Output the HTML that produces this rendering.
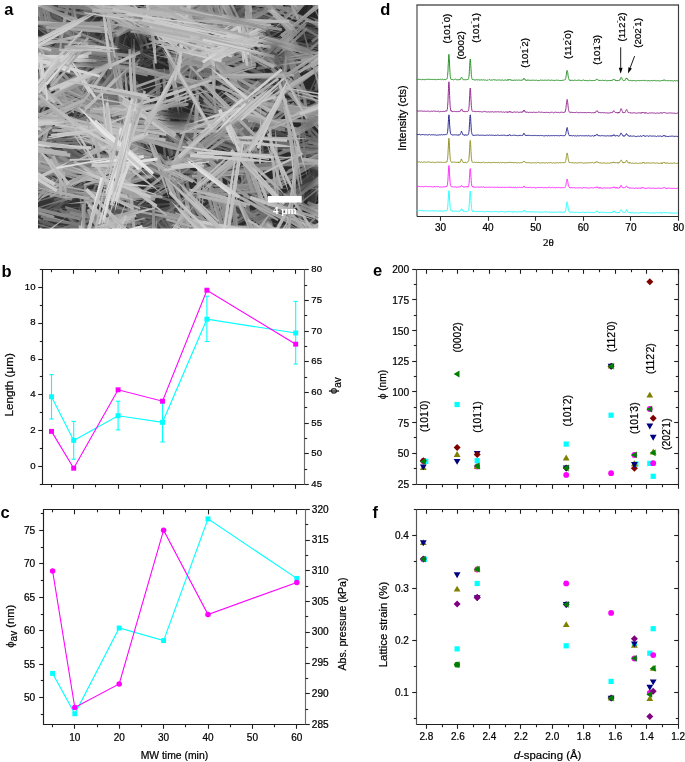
<!DOCTYPE html>
<html><head><meta charset="utf-8"><title>figure</title>
<style>html,body{margin:0;padding:0;background:#fff;}svg{display:block;will-change:transform;}</style></head>
<body><svg width="685" height="762" viewBox="0 0 685 762">
<rect width="685" height="762" fill="#fff"/>
<defs><clipPath id="semclip"><rect x="38.0" y="5.0" width="280.3" height="223.6"/></clipPath><filter id="semblur" x="0" y="0" width="1" height="1"><feGaussianBlur stdDeviation="0.55"/></filter></defs>
<g clip-path="url(#semclip)"><g filter="url(#semblur)"><g transform="scale(0.5)">
<rect x="72.0" y="6.0" width="568.6" height="455.2" fill="#2c2c2c"/>
<polygon points="608,38 595,72 589,91 599,74 613,40" fill="#2e2e2e"/>
<polygon points="595,100 607,56 611,32 602,55 589,98" fill="#434343"/>
<polygon points="595,85 608,41 613,17 604,40 591,84" fill="#3a3a3a"/>
<polygon points="588,99 608,53 617,27 604,51 584,97" fill="#2e2e2e"/>
<polygon points="205,76 237,102 256,114 241,97 210,70" fill="#373737"/>
<polygon points="213,77 238,97 253,106 241,93 217,72" fill="#2b2b2b"/>
<polygon points="268,110 227,80 204,65 224,83 265,113" fill="#282828"/>
<polygon points="280,131 235,96 210,79 232,100 276,136" fill="#3f3f3f"/>
<polygon points="215,83 249,106 269,116 253,101 219,77" fill="#404040"/>
<polygon points="214,79 243,100 259,111 245,97 217,75" fill="#3e3e3e"/>
<polygon points="210,85 250,112 272,125 253,108 214,80" fill="#383838"/>
<polygon points="522,25 623,72 678,95 625,67 524,19" fill="#3c3c3c"/>
<polygon points="676,99 575,39 519,9 572,43 673,104" fill="#2d2d2d"/>
<polygon points="529,8 590,39 624,53 592,34 532,3" fill="#3b3b3b"/>
<polygon points="643,68 568,34 526,17 566,37 641,71" fill="#383838"/>
<polygon points="618,61 547,21 507,1 545,23 616,64" fill="#414141"/>
<polygon points="-16,483 72,499 119,506 72,496 -16,480" fill="#3d3d3d"/>
<polygon points="12,499 89,508 131,511 89,504 13,495" fill="#444444"/>
<polygon points="102,495 49,492 21,493 49,497 101,501" fill="#484848"/>
<polygon points="-9,492 68,499 110,502 69,497 -9,489" fill="#3a3a3a"/>
<polygon points="10,504 70,507 102,508 70,504 10,500" fill="#313131"/>
<polygon points="8,497 97,507 144,510 97,501 9,490" fill="#343434"/>
<polygon points="88,493 31,491 0,492 30,495 88,498" fill="#333333"/>
<polygon points="249,173 243,120 239,91 240,120 245,173" fill="#4c4c4c"/>
<polygon points="229,61 242,135 250,174 244,134 232,61" fill="#2f2f2f"/>
<polygon points="258,168 255,95 251,56 250,95 252,168" fill="#353535"/>
<polygon points="239,160 237,101 235,69 234,101 236,160" fill="#333333"/>
<polygon points="242,152 240,81 238,44 236,82 236,152" fill="#3c3c3c"/>
<polygon points="232,427 104,422 35,421 104,427 232,433" fill="#363636"/>
<polygon points="219,409 137,415 93,419 137,417 219,412" fill="#444444"/>
<polygon points="75,309 126,303 153,297 125,298 75,304" fill="#4d4d4d"/>
<polygon points="104,303 140,297 159,292 139,292 103,297" fill="#393939"/>
<polygon points="94,303 131,299 150,295 130,295 93,299" fill="#4c4c4c"/>
<polygon points="144,291 107,298 88,305 108,304 146,298" fill="#303030"/>
<polygon points="77,310 121,303 144,298 120,298 76,304" fill="#4e4e4e"/>
<polygon points="394,451 439,407 462,383 436,404 390,446" fill="#2d2d2d"/>
<polygon points="466,382 405,435 373,464 407,437 468,385" fill="#454545"/>
<polygon points="399,459 450,406 476,377 447,403 395,455" fill="#4c4c4c"/>
<polygon points="308,72 361,117 390,139 364,113 312,67" fill="#494949"/>
<polygon points="334,89 385,132 414,153 389,128 338,84" fill="#383838"/>
<polygon points="332,85 372,114 394,129 373,112 333,83" fill="#3d3d3d"/>
<polygon points="387,124 347,93 324,77 344,95 384,127" fill="#333333"/>
<polygon points="202,436 174,369 157,335 169,372 196,438" fill="#454545"/>
<polygon points="208,451 180,381 164,344 177,382 205,452" fill="#404040"/>
<polygon points="159,337 185,399 200,432 187,398 161,336" fill="#2e2e2e"/>
<polygon points="206,417 183,370 169,345 180,371 202,419" fill="#2d2d2d"/>
<polygon points="183,169 104,186 62,196 105,189 184,173" fill="#313131"/>
<polygon points="168,168 90,193 48,209 92,199 170,175" fill="#4a4a4a"/>
<polygon points="205,173 127,196 85,210 128,199 206,176" fill="#444444"/>
<polygon points="46,212 128,192 171,180 127,189 45,208" fill="#4e4e4e"/>
<polygon points="610,377 629,467 641,515 634,466 616,376" fill="#414141"/>
<polygon points="634,539 612,410 599,340 610,410 631,540" fill="#303030"/>
<polygon points="644,535 624,450 611,404 619,451 638,537" fill="#4f4f4f"/>
<polygon points="598,404 616,493 627,540 618,492 601,403" fill="#434343"/>
<polygon points="645,509 629,423 619,377 625,423 639,510" fill="#414141"/>
<polygon points="226,157 104,144 38,140 103,150 225,163" fill="#343434"/>
<polygon points="73,150 183,151 242,150 183,147 73,146" fill="#3e3e3e"/>
<polygon points="236,160 140,151 88,148 139,155 235,165" fill="#474747"/>
<polygon points="232,164 106,142 37,130 105,144 232,167" fill="#2c2c2c"/>
<polygon points="99,3 152,22 182,31 154,19 100,-1" fill="#3d3d3d"/>
<polygon points="213,47 151,27 117,19 150,31 212,51" fill="#343434"/>
<polygon points="81,-8 149,13 186,23 150,10 82,-12" fill="#434343"/>
<polygon points="198,40 121,16 79,4 120,18 197,43" fill="#343434"/>
<polygon points="205,29 141,10 105,2 139,15 203,35" fill="#313131"/>
<polygon points="188,40 116,7 76,-8 113,13 185,47" fill="#424242"/>
<polygon points="536,373 423,385 362,393 423,388 537,376" fill="#393939"/>
<polygon points="526,375 432,377 381,381 432,383 526,381" fill="#393939"/>
<polygon points="549,386 475,392 435,397 475,395 549,390" fill="#454545"/>
<polygon points="382,407 485,399 540,392 484,393 381,401" fill="#383838"/>
<polygon points="562,373 441,381 376,387 441,385 563,379" fill="#3e3e3e"/>
<polygon points="412,401 502,393 551,386 502,388 411,396" fill="#323232"/>
<polygon points="434,281 381,279 353,279 381,282 434,284" fill="#404040"/>
<polygon points="370,287 430,287 463,285 430,283 370,282" fill="#484848"/>
<polygon points="449,283 392,281 361,282 392,285 449,288" fill="#353535"/>
<polygon points="458,427 400,462 370,483 402,466 460,431" fill="#373737"/>
<polygon points="457,436 402,465 373,483 403,468 459,440" fill="#505050"/>
<polygon points="399,464 443,440 465,425 440,435 396,458" fill="#303030"/>
<polygon points="457,428 405,458 377,475 406,461 459,432" fill="#494949"/>
<polygon points="393,472 445,441 471,423 443,437 391,468" fill="#3a3a3a"/>
<polygon points="460,423 413,452 389,470 416,457 463,428" fill="#3c3c3c"/>
<polygon points="377,476 430,446 458,429 428,443 375,473" fill="#313131"/>
<polygon points="557,521 655,499 707,485 654,494 555,515" fill="#2e2e2e"/>
<polygon points="704,473 634,497 596,512 635,501 706,477" fill="#404040"/>
<polygon points="566,520 670,487 726,468 669,484 565,516" fill="#474747"/>
<polygon points="670,479 599,502 561,517 600,506 671,484" fill="#4f4f4f"/>
<polygon points="504,268 510,146 511,80 507,146 501,267" fill="#3e3e3e"/>
<polygon points="512,260 517,158 519,103 515,158 509,260" fill="#505050"/>
<polygon points="519,108 516,194 517,241 522,194 526,108" fill="#474747"/>
<polygon points="519,106 510,235 507,305 515,235 526,106" fill="#3e3e3e"/>
<polygon points="517,272 527,156 531,93 522,155 511,271" fill="#3c3c3c"/>
<polygon points="287,-51 251,68 233,133 255,69 291,-50" fill="#4f4f4f"/>
<polygon points="341,102 258,154 213,184 259,156 343,104" fill="#454545"/>
<polygon points="207,198 295,130 342,93 293,128 205,195" fill="#3d3d3d"/>
<polygon points="561,177 597,209 618,225 601,205 566,172" fill="#4e4e4e"/>
<polygon points="549,190 595,228 622,247 599,224 554,184" fill="#373737"/>
<polygon points="553,193 593,225 615,241 596,222 557,189" fill="#3a3a3a"/>
<polygon points="67,247 16,225 -12,215 14,229 64,252" fill="#363636"/>
<polygon points="7,222 67,251 100,265 69,248 9,219" fill="#505050"/>
<polygon points="286,116 241,20 214,-30 236,23 280,118" fill="#474747"/>
<polygon points="282,114 237,38 211,-1 234,40 278,116" fill="#484848"/>
<polygon points="281,117 240,18 216,-34 236,20 277,118" fill="#454545"/>
<polygon points="200,-56 251,43 279,96 253,42 203,-58" fill="#464646"/>
<polygon points="210,-11 258,78 285,125 261,76 214,-14" fill="#313131"/>
<polygon points="213,-32 263,67 291,119 266,65 216,-33" fill="#383838"/>
<polygon points="228,1 267,75 289,114 270,73 233,-1" fill="#4f4f4f"/>
<polygon points="95,362 41,356 12,354 41,360 94,367" fill="#454545"/>
<polygon points="-32,346 45,359 87,364 46,354 -31,341" fill="#4b4b4b"/>
<polygon points="-3,352 54,362 86,366 55,359 -2,349" fill="#424242"/>
<polygon points="16,350 63,361 89,365 64,356 17,343" fill="#3d3d3d"/>
<polygon points="60,358 11,352 -16,352 10,358 59,365" fill="#3c3c3c"/>
<polygon points="82,362 34,355 8,353 34,358 82,365" fill="#4f4f4f"/>
<polygon points="196,178 116,158 73,149 115,162 195,183" fill="#454545"/>
<polygon points="231,191 139,164 89,152 137,169 229,198" fill="#3c3c3c"/>
<polygon points="80,151 168,177 215,189 169,173 82,146" fill="#3f3f3f"/>
<polygon points="66,145 157,169 207,179 159,163 68,138" fill="#434343"/>
<polygon points="85,154 155,178 194,190 156,176 86,151" fill="#424242"/>
<polygon points="65,145 145,168 188,179 146,165 66,141" fill="#515151"/>
<polygon points="219,199 151,179 113,169 150,182 218,203" fill="#4e4e4e"/>
<polygon points="101,153 155,175 185,184 158,170 104,146" fill="#464646"/>
<polygon points="203,192 127,164 86,151 126,168 202,196" fill="#353535"/>
<polygon points="422,460 352,443 313,436 350,448 420,467" fill="#3a3a3a"/>
<polygon points="460,467 354,453 297,448 354,457 459,471" fill="#3d3d3d"/>
<polygon points="460,464 356,448 300,441 355,453 459,471" fill="#494949"/>
<polygon points="301,445 384,462 430,469 385,457 302,439" fill="#484848"/>
<polygon points="322,450 403,464 447,470 403,461 323,446" fill="#474747"/>
<polygon points="292,444 362,456 399,461 362,452 293,439" fill="#333333"/>
<polygon points="283,254 277,307 277,336 283,308 290,255" fill="#4f4f4f"/>
<polygon points="273,348 280,303 282,278 276,302 268,347" fill="#464646"/>
<polygon points="282,326 285,296 284,280 280,296 275,326" fill="#353535"/>
<polygon points="366,188 448,218 492,233 449,215 367,185" fill="#474747"/>
<polygon points="344,192 437,225 488,240 439,220 346,186" fill="#393939"/>
<polygon points="375,200 463,225 511,238 464,222 376,195" fill="#3a3a3a"/>
<polygon points="286,114 213,159 174,185 215,163 289,119" fill="#525252"/>
<polygon points="216,166 300,119 344,93 299,117 215,163" fill="#373737"/>
<polygon points="165,189 269,128 324,93 266,123 161,183" fill="#3f3f3f"/>
<polygon points="360,84 253,140 196,172 255,144 362,89" fill="#4d4d4d"/>
<polygon points="181,192 280,131 332,97 278,128 179,188" fill="#393939"/>
<polygon points="187,165 289,105 344,71 287,101 184,160" fill="#4f4f4f"/>
<polygon points="149,199 266,130 328,91 265,127 147,196" fill="#3b3b3b"/>
<polygon points="298,96 214,144 170,171 217,148 301,101" fill="#3a3a3a"/>
<polygon points="663,230 645,190 634,169 642,191 660,232" fill="#4f4f4f"/>
<polygon points="641,170 656,215 666,239 660,214 645,168" fill="#454545"/>
<polygon points="644,191 660,232 671,253 664,231 648,189" fill="#4d4d4d"/>
<polygon points="634,172 652,220 664,244 657,218 640,169" fill="#454545"/>
<polygon points="632,163 652,214 664,241 655,213 635,162" fill="#404040"/>
<polygon points="649,192 662,230 671,250 665,229 653,191" fill="#4c4c4c"/>
<polygon points="110,382 48,373 14,371 47,379 109,389" fill="#343434"/>
<polygon points="-4,368 86,381 135,387 87,378 -3,365" fill="#414141"/>
<polygon points="156,379 67,374 19,373 67,379 156,385" fill="#545454"/>
<polygon points="459,426 472,492 480,528 477,492 465,425" fill="#565656"/>
<polygon points="461,429 469,469 475,491 474,468 467,428" fill="#4b4b4b"/>
<polygon points="459,438 469,487 476,514 474,487 465,437" fill="#353535"/>
<polygon points="471,441 478,493 483,521 482,492 476,440" fill="#3f3f3f"/>
<polygon points="465,420 474,483 480,517 477,483 469,420" fill="#474747"/>
<polygon points="455,410 469,477 478,513 472,477 458,409" fill="#444444"/>
<polygon points="370,125 337,231 322,289 342,233 376,127" fill="#565656"/>
<polygon points="338,276 366,177 380,123 363,176 334,274" fill="#3e3e3e"/>
<polygon points="371,100 348,210 338,270 354,211 377,101" fill="#464646"/>
<polygon points="354,235 372,153 380,109 367,152 348,233" fill="#515151"/>
<polygon points="374,103 346,231 333,301 351,232 380,104" fill="#3c3c3c"/>
<polygon points="333,272 354,179 364,128 351,178 330,271" fill="#535353"/>
<polygon points="434,174 510,179 552,180 511,174 434,168" fill="#545454"/>
<polygon points="435,171 531,181 583,183 532,175 435,165" fill="#3c3c3c"/>
<polygon points="457,165 530,176 569,180 531,171 458,159" fill="#3a3a3a"/>
<polygon points="459,173 523,179 557,179 523,174 460,168" fill="#565656"/>
<polygon points="577,268 523,264 494,263 523,268 576,273" fill="#4e4e4e"/>
<polygon points="194,256 86,327 29,367 89,332 198,262" fill="#414141"/>
<polygon points="222,254 137,309 92,340 139,312 224,257" fill="#4e4e4e"/>
<polygon points="210,248 110,309 56,343 111,312 212,251" fill="#4c4c4c"/>
<polygon points="217,242 104,310 44,348 106,313 219,246" fill="#434343"/>
<polygon points="434,464 309,413 241,387 308,416 432,467" fill="#494949"/>
<polygon points="393,450 274,401 209,377 272,406 391,456" fill="#363636"/>
<polygon points="227,388 324,431 377,453 325,428 229,385" fill="#3c3c3c"/>
<polygon points="403,470 304,424 250,401 302,428 401,474" fill="#4f4f4f"/>
<polygon points="238,195 244,88 245,31 239,88 232,194" fill="#4c4c4c"/>
<polygon points="234,185 246,68 250,5 241,67 227,184" fill="#373737"/>
<polygon points="245,61 231,162 225,217 235,163 249,62" fill="#343434"/>
<polygon points="619,423 663,473 688,498 666,470 622,420" fill="#434343"/>
<polygon points="720,526 644,443 602,400 641,446 716,530" fill="#404040"/>
<polygon points="726,531 649,450 605,409 644,454 721,535" fill="#373737"/>
<polygon points="702,520 643,455 610,422 640,458 699,523" fill="#555555"/>
<polygon points="577,49 530,80 506,98 532,83 579,52" fill="#3a3a3a"/>
<polygon points="562,57 507,91 478,111 509,95 565,61" fill="#585858"/>
<polygon points="472,118 542,65 578,35 539,61 468,113" fill="#3c3c3c"/>
<polygon points="598,28 522,71 481,95 523,74 600,32" fill="#585858"/>
<polygon points="563,52 507,84 477,103 509,88 566,57" fill="#393939"/>
<polygon points="727,28 629,6 576,-4 628,10 726,33" fill="#434343"/>
<polygon points="724,27 648,10 608,3 648,13 723,29" fill="#505050"/>
<polygon points="698,23 622,5 581,-3 621,10 696,29" fill="#3b3b3b"/>
<polygon points="627,-41 614,2 608,26 616,3 630,-40" fill="#383838"/>
<polygon points="630,-52 621,-2 617,26 625,-1 635,-51" fill="#4c4c4c"/>
<polygon points="630,-41 622,-2 619,19 625,-1 634,-40" fill="#4d4d4d"/>
<polygon points="624,-42 618,-5 615,15 621,-5 628,-41" fill="#3c3c3c"/>
<polygon points="618,24 625,-10 627,-28 621,-11 614,23" fill="#3b3b3b"/>
<polygon points="105,121 24,149 -19,167 25,154 107,126" fill="#565656"/>
<polygon points="126,128 43,156 -2,172 44,159 127,132" fill="#464646"/>
<polygon points="141,131 12,168 -58,189 12,171 142,135" fill="#454545"/>
<polygon points="119,117 36,145 -9,162 37,151 121,124" fill="#525252"/>
<polygon points="135,309 218,333 264,345 220,328 137,302" fill="#525252"/>
<polygon points="121,309 208,336 255,349 209,333 122,306" fill="#515151"/>
<polygon points="277,344 173,316 116,302 172,319 276,348" fill="#3a3a3a"/>
<polygon points="153,322 245,350 294,364 245,347 154,319" fill="#484848"/>
<polygon points="103,287 225,337 291,363 226,334 104,283" fill="#565656"/>
<polygon points="373,115 289,54 244,21 288,56 371,118" fill="#3d3d3d"/>
<polygon points="367,95 297,44 258,18 294,48 364,100" fill="#595959"/>
<polygon points="359,259 299,246 266,242 298,252 357,265" fill="#4a4a4a"/>
<polygon points="262,241 309,250 335,253 310,246 263,236" fill="#3e3e3e"/>
<polygon points="270,246 322,259 349,264 322,255 272,241" fill="#575757"/>
<polygon points="253,241 306,251 335,255 307,248 254,237" fill="#4e4e4e"/>
<polygon points="660,497 526,496 454,498 526,501 659,503" fill="#555555"/>
<polygon points="464,504 588,500 654,495 587,494 464,497" fill="#474747"/>
<polygon points="617,493 542,501 501,507 542,505 618,498" fill="#4d4d4d"/>
<polygon points="680,491 566,498 504,505 566,504 680,498" fill="#464646"/>
<polygon points="515,500 614,500 667,499 614,496 515,495" fill="#424242"/>
<polygon points="475,506 603,496 671,489 602,491 474,499" fill="#575757"/>
<polygon points="331,125 207,82 140,59 206,84 330,129" fill="#4c4c4c"/>
<polygon points="302,130 191,81 130,56 189,85 300,135" fill="#3f3f3f"/>
<polygon points="337,130 241,90 188,70 240,93 336,133" fill="#4e4e4e"/>
<polygon points="559,32 458,35 403,38 458,38 559,35" fill="#4b4b4b"/>
<polygon points="148,228 199,241 227,247 200,239 149,226" fill="#565656"/>
<polygon points="145,235 187,244 210,247 188,240 147,230" fill="#4a4a4a"/>
<polygon points="101,263 116,200 122,166 113,200 98,262" fill="#555555"/>
<polygon points="106,278 119,228 125,201 116,227 102,277" fill="#454545"/>
<polygon points="129,192 113,242 106,269 117,243 133,193" fill="#5a5a5a"/>
<polygon points="99,267 109,223 112,198 104,222 93,266" fill="#515151"/>
<polygon points="115,272 128,227 134,203 126,226 112,271" fill="#4c4c4c"/>
<polygon points="138,163 114,235 102,273 117,236 142,165" fill="#464646"/>
<polygon points="350,308 401,317 429,320 402,314 351,306" fill="#4b4b4b"/>
<polygon points="429,322 383,316 357,315 382,321 428,329" fill="#3c3c3c"/>
<polygon points="349,308 406,317 436,320 406,314 350,305" fill="#4a4a4a"/>
<polygon points="342,308 396,318 425,321 397,312 343,301" fill="#4a4a4a"/>
<polygon points="586,292 538,289 512,289 538,292 586,295" fill="#545454"/>
<polygon points="590,292 521,289 484,289 521,293 589,297" fill="#515151"/>
<polygon points="581,289 526,283 497,281 526,286 580,293" fill="#4b4b4b"/>
<polygon points="498,289 562,296 597,297 563,290 499,282" fill="#545454"/>
<polygon points="475,287 548,285 588,283 548,281 475,282" fill="#5b5b5b"/>
<polygon points="578,289 506,283 467,282 506,287 578,293" fill="#484848"/>
<polygon points="563,283 519,280 495,280 518,284 563,288" fill="#393939"/>
<polygon points="635,-1 606,8 591,15 608,13 637,4" fill="#3b3b3b"/>
<polygon points="115,-37 192,-14 234,-5 194,-20 117,-43" fill="#505050"/>
<polygon points="133,-40 216,-16 261,-4 217,-20 134,-45" fill="#575757"/>
<polygon points="267,8 160,-27 102,-44 158,-22 265,15" fill="#5c5c5c"/>
<polygon points="431,128 325,105 269,95 325,109 430,132" fill="#4e4e4e"/>
<polygon points="144,442 197,482 227,502 200,478 148,438" fill="#434343"/>
<polygon points="235,498 200,468 179,453 197,471 231,503" fill="#5a5a5a"/>
<polygon points="557,111 532,168 521,200 537,170 562,113" fill="#454545"/>
<polygon points="530,199 552,145 563,116 548,144 525,197" fill="#464646"/>
<polygon points="113,383 197,386 242,386 197,382 114,379" fill="#575757"/>
<polygon points="90,381 208,387 271,389 208,383 91,376" fill="#5b5b5b"/>
<polygon points="136,377 236,387 290,391 236,384 136,374" fill="#5b5b5b"/>
<polygon points="368,-20 335,-27 317,-28 334,-22 366,-14" fill="#545454"/>
<polygon points="371,-13 342,-21 325,-22 340,-16 370,-8" fill="#525252"/>
<polygon points="382,-14 351,-20 334,-22 350,-16 381,-9" fill="#5a5a5a"/>
<polygon points="328,-23 371,-14 395,-11 372,-18 329,-27" fill="#575757"/>
<polygon points="246,220 201,199 175,190 199,204 244,225" fill="#424242"/>
<polygon points="228,211 184,192 160,183 183,195 226,215" fill="#535353"/>
<polygon points="238,212 201,193 180,183 200,195 237,216" fill="#4a4a4a"/>
<polygon points="451,132 389,92 354,72 387,95 449,136" fill="#434343"/>
<polygon points="371,94 438,131 475,150 439,128 372,91" fill="#414141"/>
<polygon points="375,93 424,124 451,140 425,122 377,90" fill="#585858"/>
<polygon points="467,147 407,106 373,86 404,110 464,152" fill="#545454"/>
<polygon points="173,477 107,481 72,485 107,486 173,483" fill="#414141"/>
<polygon points="176,486 119,493 88,499 119,498 176,493" fill="#424242"/>
<polygon points="87,494 154,495 190,493 154,490 87,489" fill="#585858"/>
<polygon points="63,495 133,491 171,486 133,487 63,491" fill="#454545"/>
<polygon points="157,478 100,484 69,489 100,488 158,484" fill="#565656"/>
<polygon points="68,496 141,488 180,482 141,484 68,491" fill="#424242"/>
<polygon points="80,492 131,486 158,481 131,482 80,488" fill="#424242"/>
<polygon points="81,497 153,489 192,483 153,483 80,490" fill="#505050"/>
<polygon points="529,478 469,469 436,467 468,475 528,485" fill="#5e5e5e"/>
<polygon points="444,471 510,478 546,479 510,474 444,466" fill="#505050"/>
<polygon points="520,337 466,265 436,226 463,267 517,340" fill="#5e5e5e"/>
<polygon points="481,387 562,422 606,439 564,418 483,382" fill="#3d3d3d"/>
<polygon points="470,394 544,424 584,438 545,420 472,390" fill="#585858"/>
<polygon points="631,445 549,414 504,399 547,419 628,451" fill="#424242"/>
<polygon points="621,446 513,406 454,387 511,410 619,451" fill="#434343"/>
<polygon points="637,230 662,156 673,115 658,155 633,228" fill="#424242"/>
<polygon points="623,254 654,183 669,145 651,182 620,253" fill="#535353"/>
<polygon points="654,146 626,214 613,251 630,215 658,147" fill="#5c5c5c"/>
<polygon points="617,248 643,194 656,164 640,192 614,246" fill="#4d4d4d"/>
<polygon points="637,213 659,158 668,127 653,156 631,211" fill="#5f5f5f"/>
<polygon points="412,213 413,123 412,74 409,122 407,213" fill="#5d5d5d"/>
<polygon points="416,202 412,128 408,89 407,129 410,202" fill="#5d5d5d"/>
<polygon points="415,216 412,145 408,106 408,145 410,217" fill="#545454"/>
<polygon points="419,205 412,115 406,67 406,116 412,206" fill="#444444"/>
<polygon points="413,208 413,116 411,67 408,116 408,208" fill="#4e4e4e"/>
<polygon points="418,218 415,148 410,111 409,149 412,219" fill="#5c5c5c"/>
<polygon points="356,412 296,419 264,425 297,424 357,418" fill="#585858"/>
<polygon points="277,425 350,421 390,417 350,417 277,419" fill="#4d4d4d"/>
<polygon points="231,430 325,427 376,422 325,422 231,425" fill="#595959"/>
<polygon points="252,416 338,410 384,405 337,406 252,411" fill="#474747"/>
<polygon points="382,415 289,419 239,423 289,423 382,420" fill="#3d3d3d"/>
<polygon points="351,417 296,420 267,424 296,425 351,423" fill="#414141"/>
<polygon points="107,41 162,81 193,102 165,78 109,37" fill="#535353"/>
<polygon points="201,77 126,25 83,-1 122,29 197,83" fill="#444444"/>
<polygon points="74,11 143,64 181,91 145,62 76,9" fill="#4e4e4e"/>
<polygon points="218,105 133,46 87,15 131,49 215,109" fill="#535353"/>
<polygon points="110,46 169,86 201,106 171,83 112,43" fill="#5a5a5a"/>
<polygon points="89,23 150,61 185,79 153,56 93,17" fill="#606060"/>
<polygon points="714,366 649,341 614,329 648,344 712,370" fill="#4e4e4e"/>
<polygon points="74,468 122,414 145,383 118,411 70,464" fill="#4b4b4b"/>
<polygon points="163,364 106,420 76,451 108,422 166,366" fill="#5c5c5c"/>
<polygon points="138,365 107,413 92,439 111,415 142,368" fill="#3d3d3d"/>
<polygon points="432,-25 379,-22 350,-20 379,-20 433,-22" fill="#5a5a5a"/>
<polygon points="450,-25 399,-21 371,-17 399,-18 450,-21" fill="#484848"/>
<polygon points="454,-31 399,-29 370,-26 399,-25 454,-27" fill="#5f5f5f"/>
<polygon points="375,-26 420,-28 444,-32 420,-33 375,-31" fill="#444444"/>
<polygon points="439,-24 384,-24 355,-22 384,-19 439,-19" fill="#555555"/>
<polygon points="78,85 29,107 3,120 30,110 79,88" fill="#454545"/>
<polygon points="74,69 9,103 -26,122 10,105 76,72" fill="#4f4f4f"/>
<polygon points="92,67 16,102 -24,121 18,104 94,70" fill="#4a4a4a"/>
<polygon points="60,75 7,103 -21,120 9,107 62,80" fill="#5f5f5f"/>
<polygon points="-15,126 42,95 71,77 40,92 -17,122" fill="#505050"/>
<polygon points="71,86 9,110 -24,124 11,114 73,91" fill="#595959"/>
<polygon points="603,257 547,282 517,296 548,284 605,259" fill="#464646"/>
<polygon points="590,271 542,298 517,315 544,302 592,275" fill="#404040"/>
<polygon points="598,257 554,280 530,294 555,283 600,261" fill="#484848"/>
<polygon points="586,274 536,295 510,309 538,301 588,280" fill="#434343"/>
<polygon points="601,269 560,288 539,300 563,293 604,275" fill="#5d5d5d"/>
<polygon points="517,322 570,292 597,275 567,288 514,316" fill="#5f5f5f"/>
<polygon points="761,35 668,63 618,80 670,68 763,42" fill="#535353"/>
<polygon points="607,94 690,63 734,45 689,60 606,90" fill="#494949"/>
<polygon points="722,46 614,75 557,93 615,79 724,50" fill="#4f4f4f"/>
<polygon points="603,81 690,59 737,45 689,55 602,77" fill="#525252"/>
<polygon points="605,95 684,69 726,53 683,65 604,90" fill="#5a5a5a"/>
<polygon points="572,87 670,51 722,30 669,48 571,83" fill="#454545"/>
<polygon points="579,108 480,47 425,17 477,52 575,114" fill="#424242"/>
<polygon points="549,83 463,45 417,25 462,48 547,87" fill="#4d4d4d"/>
<polygon points="538,83 445,35 394,12 442,41 535,89" fill="#616161"/>
<polygon points="562,88 486,51 444,33 484,55 560,92" fill="#404040"/>
<polygon points="574,103 483,52 434,26 482,55 572,107" fill="#4b4b4b"/>
<polygon points="420,31 489,68 527,87 490,66 421,28" fill="#616161"/>
<polygon points="352,75 450,81 503,82 450,77 352,71" fill="#4d4d4d"/>
<polygon points="433,65 353,72 311,78 354,77 433,70" fill="#555555"/>
<polygon points="491,68 405,64 358,64 404,69 491,74" fill="#484848"/>
<polygon points="11,137 92,161 136,172 93,158 12,134" fill="#474747"/>
<polygon points="-39,122 83,158 150,175 85,153 -38,117" fill="#595959"/>
<polygon points="157,177 53,145 -4,129 51,149 156,182" fill="#525252"/>
<polygon points="-1,126 104,155 160,169 105,150 1,120" fill="#5f5f5f"/>
<polygon points="-27,122 67,153 118,167 68,147 -25,116" fill="#565656"/>
<polygon points="-22,117 89,151 149,167 90,147 -21,112" fill="#3f3f3f"/>
<polygon points="210,201 186,165 171,146 182,167 205,204" fill="#555555"/>
<polygon points="223,213 195,173 179,153 192,175 219,216" fill="#5c5c5c"/>
<polygon points="180,162 203,197 217,215 206,195 183,160" fill="#555555"/>
<polygon points="183,166 204,200 218,218 208,198 187,163" fill="#424242"/>
<polygon points="225,219 196,172 179,148 192,175 219,222" fill="#4d4d4d"/>
<polygon points="217,209 190,166 175,144 188,168 214,211" fill="#616161"/>
<polygon points="230,223 201,180 184,158 197,183 226,226" fill="#5c5c5c"/>
<polygon points="179,155 204,191 219,209 208,188 184,152" fill="#464646"/>
<polygon points="178,158 215,207 237,232 218,205 181,156" fill="#5b5b5b"/>
<polygon points="122,117 192,158 230,179 194,155 124,113" fill="#5d5d5d"/>
<polygon points="264,201 180,150 134,124 178,154 261,206" fill="#505050"/>
<polygon points="151,128 212,166 245,185 214,163 154,124" fill="#454545"/>
<polygon points="234,-120 151,-9 108,53 155,-5 239,-115" fill="#595959"/>
<polygon points="224,-114 170,-46 143,-8 174,-42 229,-109" fill="#424242"/>
<polygon points="239,-138 163,-32 123,26 165,-31 241,-136" fill="#494949"/>
<polygon points="219,-91 163,-28 134,6 166,-26 222,-88" fill="#545454"/>
<polygon points="232,-120 159,-22 121,33 163,-18 238,-116" fill="#464646"/>
<polygon points="127,18 189,-65 220,-111 184,-68 121,14" fill="#5f5f5f"/>
<polygon points="131,20 201,-74 238,-126 197,-77 126,17" fill="#3e3e3e"/>
<polygon points="355,376 266,335 217,316 264,340 353,381" fill="#555555"/>
<polygon points="224,314 306,354 351,374 308,350 226,310" fill="#4b4b4b"/>
<polygon points="182,297 285,349 342,376 287,346 184,293" fill="#515151"/>
<polygon points="246,11 206,61 187,89 211,64 252,16" fill="#454545"/>
<polygon points="168,134 227,51 257,6 224,49 164,131" fill="#5a5a5a"/>
<polygon points="260,-8 205,65 177,106 207,67 263,-6" fill="#414141"/>
<polygon points="177,130 235,55 264,13 230,51 171,126" fill="#595959"/>
<polygon points="221,25 161,90 130,127 165,94 225,29" fill="#404040"/>
<polygon points="253,-8 172,67 131,110 176,72 257,-3" fill="#595959"/>
<polygon points="209,12 143,83 109,123 145,86 211,15" fill="#5b5b5b"/>
<polygon points="112,132 200,57 246,14 197,53 108,128" fill="#545454"/>
<polygon points="121,134 197,59 236,17 193,55 116,129" fill="#474747"/>
<polygon points="194,476 294,438 348,416 293,435 192,473" fill="#484848"/>
<polygon points="221,467 300,433 341,414 298,429 219,462" fill="#404040"/>
<polygon points="169,484 281,438 340,411 280,435 168,481" fill="#5a5a5a"/>
<polygon points="267,169 308,226 332,255 312,223 271,166" fill="#5b5b5b"/>
<polygon points="259,157 303,205 328,229 306,202 262,154" fill="#4c4c4c"/>
<polygon points="235,143 292,209 324,243 296,206 240,139" fill="#5f5f5f"/>
<polygon points="257,146 302,207 327,239 304,205 259,144" fill="#525252"/>
<polygon points="269,161 312,217 336,247 314,215 271,159" fill="#595959"/>
<polygon points="316,267 426,283 486,290 427,279 317,263" fill="#575757"/>
<polygon points="303,269 443,278 518,281 443,273 303,263" fill="#414141"/>
<polygon points="508,285 413,275 361,272 412,280 507,290" fill="#575757"/>
<polygon points="500,277 390,269 330,267 389,273 500,281" fill="#474747"/>
<polygon points="470,281 376,266 325,260 375,270 470,285" fill="#5e5e5e"/>
<polygon points="485,276 367,275 304,276 367,278 485,280" fill="#424242"/>
<polygon points="755,124 688,90 651,73 686,93 753,129" fill="#4e4e4e"/>
<polygon points="617,58 704,103 752,125 707,98 620,52" fill="#494949"/>
<polygon points="714,106 657,74 625,58 654,79 710,113" fill="#626262"/>
<polygon points="297,445 237,437 205,434 237,439 297,448" fill="#606060"/>
<polygon points="166,377 86,418 44,443 88,422 168,381" fill="#4d4d4d"/>
<polygon points="59,441 127,409 164,391 126,406 57,437" fill="#484848"/>
<polygon points="160,146 94,32 57,-29 91,33 157,147" fill="#525252"/>
<polygon points="184,162 108,41 64,-23 103,44 179,166" fill="#5b5b5b"/>
<polygon points="71,-24 127,84 158,142 131,82 75,-27" fill="#575757"/>
<polygon points="152,123 106,47 80,8 103,49 148,125" fill="#626262"/>
<polygon points="171,150 106,37 69,-23 102,40 166,153" fill="#585858"/>
<polygon points="77,9 119,83 143,121 122,81 82,6" fill="#555555"/>
<polygon points="592,331 704,366 764,383 705,361 594,325" fill="#424242"/>
<polygon points="583,316 680,355 733,374 682,351 585,311" fill="#646464"/>
<polygon points="609,328 680,359 719,374 681,356 610,325" fill="#414141"/>
<polygon points="722,363 652,337 614,324 650,341 720,368" fill="#494949"/>
<polygon points="194,366 136,302 104,269 134,304 191,368" fill="#414141"/>
<polygon points="113,282 189,371 231,417 192,368 117,279" fill="#515151"/>
<polygon points="105,272 157,335 186,368 160,332 109,269" fill="#636363"/>
<polygon points="206,379 135,298 96,256 132,301 203,381" fill="#5c5c5c"/>
<polygon points="221,402 144,312 101,265 141,315 217,405" fill="#454545"/>
<polygon points="274,416 357,474 403,504 360,471 277,412" fill="#434343"/>
<polygon points="371,495 287,439 240,410 285,442 369,499" fill="#515151"/>
<polygon points="367,484 306,437 272,414 303,441 364,489" fill="#4f4f4f"/>
<polygon points="254,420 326,472 365,498 329,467 259,414" fill="#585858"/>
<polygon points="254,414 334,481 378,515 337,477 258,409" fill="#636363"/>
<polygon points="259,413 352,475 404,507 355,471 262,408" fill="#5f5f5f"/>
<polygon points="391,315 427,368 447,395 431,365 397,312" fill="#575757"/>
<polygon points="400,315 439,390 462,430 443,388 405,313" fill="#414141"/>
<polygon points="400,323 429,372 446,397 431,370 403,321" fill="#454545"/>
<polygon points="407,341 435,383 451,405 438,381 411,338" fill="#5c5c5c"/>
<polygon points="464,426 431,365 413,333 429,366 461,427" fill="#565656"/>
<polygon points="453,397 420,347 401,321 417,349 450,399" fill="#4b4b4b"/>
<polygon points="461,412 421,343 398,308 417,346 455,415" fill="#565656"/>
<polygon points="366,426 486,432 550,434 486,428 367,421" fill="#5f5f5f"/>
<polygon points="567,431 451,418 388,414 451,424 567,438" fill="#515151"/>
<polygon points="400,423 533,432 605,434 533,427 400,417" fill="#474747"/>
<polygon points="385,429 511,437 580,439 512,433 385,424" fill="#565656"/>
<polygon points="583,428 446,414 372,409 446,418 583,432" fill="#4c4c4c"/>
<polygon points="561,420 459,421 404,424 459,427 561,427" fill="#474747"/>
<polygon points="458,322 544,378 591,407 546,376 460,319" fill="#525252"/>
<polygon points="575,395 522,362 492,346 519,366 571,400" fill="#474747"/>
<polygon points="457,329 544,383 593,410 547,379 461,324" fill="#4d4d4d"/>
<polygon points="484,340 543,382 575,403 544,380 486,338" fill="#606060"/>
<polygon points="480,350 532,382 561,397 534,379 482,347" fill="#636363"/>
<polygon points="432,256 437,315 442,346 443,314 439,255" fill="#515151"/>
<polygon points="429,274 435,333 439,364 438,332 433,273" fill="#4b4b4b"/>
<polygon points="444,337 440,293 435,269 435,293 439,337" fill="#4b4b4b"/>
<polygon points="445,364 444,310 442,281 441,310 441,364" fill="#5b5b5b"/>
<polygon points="88,517 30,468 -3,442 28,470 85,520" fill="#535353"/>
<polygon points="8,453 63,507 94,534 67,503 12,448" fill="#454545"/>
<polygon points="90,524 25,464 -11,433 22,467 86,527" fill="#505050"/>
<polygon points="94,524 39,469 7,440 35,472 89,529" fill="#5a5a5a"/>
<polygon points="261,206 253,254 251,280 258,255 268,207" fill="#5d5d5d"/>
<polygon points="258,290 264,232 264,201 258,232 251,290" fill="#5f5f5f"/>
<polygon points="277,195 268,249 266,278 274,250 284,196" fill="#515151"/>
<polygon points="257,274 264,217 267,186 262,216 254,274" fill="#5e5e5e"/>
<polygon points="267,231 216,129 186,76 211,132 262,234" fill="#464646"/>
<polygon points="260,221 204,106 172,44 199,108 255,224" fill="#434343"/>
<polygon points="163,77 226,185 263,242 231,182 169,73" fill="#555555"/>
<polygon points="355,220 412,248 443,262 413,246 356,217" fill="#535353"/>
<polygon points="349,221 406,251 437,266 407,248 351,217" fill="#464646"/>
<polygon points="347,229 407,258 441,271 409,253 349,224" fill="#4b4b4b"/>
<polygon points="426,270 371,241 340,227 368,245 423,276" fill="#505050"/>
<polygon points="352,221 412,252 444,267 413,249 354,218" fill="#444444"/>
<polygon points="220,63 278,30 308,11 275,26 217,58" fill="#454545"/>
<polygon points="290,17 240,47 213,66 242,52 293,22" fill="#646464"/>
<polygon points="204,73 275,39 312,19 272,34 201,67" fill="#464646"/>
<polygon points="227,70 269,47 291,34 268,44 225,66" fill="#494949"/>
<polygon points="321,8 256,42 222,61 258,46 323,13" fill="#474747"/>
<polygon points="631,394 638,322 640,283 634,322 626,394" fill="#424242"/>
<polygon points="628,443 633,346 633,294 627,345 621,442" fill="#4f4f4f"/>
<polygon points="623,418 630,321 632,268 626,321 619,418" fill="#484848"/>
<polygon points="623,290 614,363 611,403 617,364 627,291" fill="#505050"/>
<polygon points="629,285 626,348 627,382 632,348 637,285" fill="#545454"/>
<polygon points="628,418 633,346 633,307 627,346 621,417" fill="#484848"/>
<polygon points="639,311 631,384 629,423 636,384 644,312" fill="#5b5b5b"/>
<polygon points="628,447 559,488 523,511 562,492 631,452" fill="#474747"/>
<polygon points="609,457 536,496 498,519 539,501 612,463" fill="#616161"/>
<polygon points="595,466 539,497 510,515 541,500 597,470" fill="#525252"/>
<polygon points="240,335 281,238 302,186 278,237 237,334" fill="#4a4a4a"/>
<polygon points="292,208 259,282 243,324 264,285 298,210" fill="#656565"/>
<polygon points="237,329 274,247 291,202 269,245 232,327" fill="#5c5c5c"/>
<polygon points="283,200 251,295 237,348 256,297 289,201" fill="#606060"/>
<polygon points="234,345 259,278 271,241 255,276 228,343" fill="#4c4c4c"/>
<polygon points="287,223 260,278 247,308 263,280 292,225" fill="#5e5e5e"/>
<polygon points="507,364 449,332 418,316 448,335 504,368" fill="#616161"/>
<polygon points="528,357 452,332 411,320 451,336 526,361" fill="#484848"/>
<polygon points="539,370 458,338 414,323 456,343 536,376" fill="#454545"/>
<polygon points="402,317 480,350 523,367 481,347 403,314" fill="#4f4f4f"/>
<polygon points="88,128 136,65 160,30 132,62 84,125" fill="#575757"/>
<polygon points="162,-14 110,70 83,115 112,71 165,-12" fill="#636363"/>
<polygon points="164,-5 92,98 55,155 96,101 169,-1" fill="#4e4e4e"/>
<polygon points="166,11 112,86 85,128 117,90 172,15" fill="#5a5a5a"/>
<polygon points="625,353 561,406 528,435 564,409 628,357" fill="#474747"/>
<polygon points="621,347 570,389 544,414 573,393 624,351" fill="#636363"/>
<polygon points="626,350 580,391 555,414 581,393 628,353" fill="#616161"/>
<polygon points="542,420 606,374 639,348 603,370 539,416" fill="#535353"/>
<polygon points="612,364 556,408 527,434 560,413 616,370" fill="#585858"/>
<polygon points="622,344 554,400 518,430 556,402 624,347" fill="#5d5d5d"/>
<polygon points="523,433 590,381 625,353 588,378 520,429" fill="#5d5d5d"/>
<polygon points="553,418 591,381 611,360 589,379 551,416" fill="#4d4d4d"/>
<polygon points="672,176 654,113 643,80 652,114 669,177" fill="#434343"/>
<polygon points="629,74 644,124 654,151 648,123 634,72" fill="#555555"/>
<polygon points="38,189 57,137 66,108 53,136 34,188" fill="#4a4a4a"/>
<polygon points="43,194 51,153 54,131 47,152 38,193" fill="#4a4a4a"/>
<polygon points="44,123 29,170 23,196 32,171 47,124" fill="#555555"/>
<polygon points="33,192 49,129 56,95 44,128 27,190" fill="#606060"/>
<polygon points="28,202 40,152 44,125 35,151 23,201" fill="#525252"/>
<polygon points="62,96 44,152 36,182 48,153 68,98" fill="#535353"/>
<polygon points="523,309 426,241 372,206 424,244 521,311" fill="#474747"/>
<polygon points="379,219 443,265 479,289 445,262 381,216" fill="#5c5c5c"/>
<polygon points="503,297 439,258 404,239 437,262 500,302" fill="#555555"/>
<polygon points="517,328 440,266 397,234 437,270 514,333" fill="#464646"/>
<polygon points="513,322 434,263 390,233 431,267 509,327" fill="#565656"/>
<polygon points="-11,123 132,114 208,107 132,110 -11,118" fill="#464646"/>
<polygon points="-5,107 139,105 216,101 139,100 -5,101" fill="#595959"/>
<polygon points="223,102 99,104 32,107 99,109 223,107" fill="#545454"/>
<polygon points="52,116 164,113 224,110 164,110 52,112" fill="#4c4c4c"/>
<polygon points="41,117 129,109 176,103 128,105 41,112" fill="#5c5c5c"/>
<polygon points="0,122 122,114 188,108 122,110 0,117" fill="#5d5d5d"/>
<polygon points="186,108 51,115 -21,119 51,117 186,110" fill="#4c4c4c"/>
<polygon points="18,117 140,109 205,104 140,106 18,113" fill="#474747"/>
<polygon points="200,89 68,99 -2,108 69,105 200,96" fill="#606060"/>
<polygon points="217,511 252,450 269,416 248,448 212,508" fill="#616161"/>
<polygon points="271,401 226,477 203,519 229,479 275,403" fill="#4b4b4b"/>
<polygon points="209,504 256,435 281,396 254,433 206,503" fill="#606060"/>
<polygon points="221,495 248,451 261,426 245,449 217,493" fill="#575757"/>
<polygon points="531,63 552,111 564,137 555,110 534,61" fill="#555555"/>
<polygon points="562,138 528,68 507,31 523,70 557,141" fill="#5d5d5d"/>
<polygon points="279,-4 349,27 387,41 350,23 280,-8" fill="#646464"/>
<polygon points="281,-5 346,23 382,36 348,19 283,-9" fill="#686868"/>
<polygon points="387,35 314,4 274,-10 312,9 384,42" fill="#5a5a5a"/>
<polygon points="384,35 329,11 298,1 326,16 381,41" fill="#494949"/>
<polygon points="621,501 674,503 703,502 674,498 621,495" fill="#565656"/>
<polygon points="694,505 617,503 576,505 617,509 693,511" fill="#5a5a5a"/>
<polygon points="704,500 648,493 618,492 648,497 704,504" fill="#494949"/>
<polygon points="452,239 532,257 576,265 534,252 454,232" fill="#474747"/>
<polygon points="563,234 482,218 438,212 481,224 562,241" fill="#606060"/>
<polygon points="438,225 528,256 577,271 530,252 440,220" fill="#686868"/>
<polygon points="564,265 487,241 445,230 486,245 563,270" fill="#4f4f4f"/>
<polygon points="136,434 197,489 230,518 200,486 140,430" fill="#4f4f4f"/>
<polygon points="237,536 148,442 98,393 145,445 233,539" fill="#545454"/>
<polygon points="136,434 206,496 245,529 208,494 138,431" fill="#494949"/>
<polygon points="117,420 188,486 227,520 191,483 121,416" fill="#696969"/>
<polygon points="180,476 265,490 311,497 265,487 181,472" fill="#5a5a5a"/>
<polygon points="317,491 230,481 184,477 230,485 316,496" fill="#636363"/>
<polygon points="306,490 203,477 148,472 203,481 306,495" fill="#666666"/>
<polygon points="171,-3 171,42 174,66 177,42 178,-3" fill="#4a4a4a"/>
<polygon points="178,90 175,26 172,-8 172,26 175,90" fill="#4e4e4e"/>
<polygon points="163,11 168,72 174,104 173,71 169,10" fill="#545454"/>
<polygon points="168,9 174,77 178,114 177,77 172,8" fill="#4a4a4a"/>
<polygon points="164,20 174,75 181,105 178,75 169,19" fill="#666666"/>
<polygon points="165,2 170,70 175,106 174,69 170,2" fill="#474747"/>
<polygon points="663,83 598,71 563,66 598,74 663,86" fill="#5c5c5c"/>
<polygon points="668,84 602,67 567,60 601,71 666,90" fill="#565656"/>
<polygon points="580,64 649,79 686,85 650,75 581,60" fill="#5d5d5d"/>
<polygon points="444,50 398,29 372,20 396,34 441,56" fill="#6a6a6a"/>
<polygon points="351,23 410,58 442,75 411,55 352,21" fill="#4f4f4f"/>
<polygon points="437,62 385,36 356,23 384,38 436,65" fill="#545454"/>
<polygon points="347,15 406,51 439,68 409,47 350,11" fill="#4c4c4c"/>
<polygon points="365,34 428,67 462,83 429,64 367,31" fill="#5e5e5e"/>
<polygon points="378,392 280,455 229,491 283,459 381,397" fill="#676767"/>
<polygon points="365,423 239,489 173,526 242,494 368,429" fill="#5a5a5a"/>
<polygon points="365,394 256,467 198,508 257,470 367,397" fill="#525252"/>
<polygon points="315,440 233,487 190,515 236,492 319,445" fill="#5d5d5d"/>
<polygon points="227,502 338,443 397,409 336,439 224,498" fill="#4a4a4a"/>
<polygon points="207,512 288,458 331,428 286,454 204,507" fill="#4d4d4d"/>
<polygon points="383,404 264,480 202,522 267,484 386,409" fill="#505050"/>
<polygon points="364,80 383,124 395,146 387,122 369,78" fill="#494949"/>
<polygon points="404,162 385,107 373,78 380,108 398,164" fill="#505050"/>
<polygon points="368,89 390,143 404,171 395,141 374,86" fill="#585858"/>
<polygon points="351,78 384,141 403,175 387,140 355,76" fill="#4e4e4e"/>
<polygon points="397,171 373,118 358,90 369,119 393,172" fill="#4f4f4f"/>
<polygon points="359,81 381,141 394,173 385,140 364,79" fill="#5e5e5e"/>
<polygon points="542,175 612,191 650,198 613,186 544,169" fill="#6a6a6a"/>
<polygon points="628,181 568,169 535,164 567,172 627,184" fill="#535353"/>
<polygon points="523,179 587,194 622,201 587,191 523,176" fill="#525252"/>
<polygon points="629,198 562,182 525,175 561,185 628,203" fill="#666666"/>
<polygon points="654,-6 601,-17 572,-22 600,-14 653,-2" fill="#636363"/>
<polygon points="558,-22 603,-13 627,-9 603,-15 559,-24" fill="#626262"/>
<polygon points="554,-24 622,-7 659,0 623,-11 555,-29" fill="#6a6a6a"/>
<polygon points="565,-9 624,0 656,2 625,-5 566,-14" fill="#616161"/>
<polygon points="538,115 554,157 564,180 557,156 540,114" fill="#494949"/>
<polygon points="564,179 545,130 533,104 541,132 560,181" fill="#505050"/>
<polygon points="545,178 528,137 518,115 525,138 540,180" fill="#4b4b4b"/>
<polygon points="559,167 546,129 537,109 542,130 554,169" fill="#666666"/>
<polygon points="307,-60 413,-34 471,-23 414,-39 308,-66" fill="#5e5e5e"/>
<polygon points="640,313 547,289 496,278 546,294 638,318" fill="#505050"/>
<polygon points="669,316 575,296 523,287 573,302 668,323" fill="#5b5b5b"/>
<polygon points="669,322 573,298 521,287 572,303 667,328" fill="#5a5a5a"/>
<polygon points="511,285 592,308 636,319 593,304 512,280" fill="#5a5a5a"/>
<polygon points="203,405 258,336 285,297 253,332 198,401" fill="#5e5e5e"/>
<polygon points="305,262 249,336 220,376 251,338 308,264" fill="#4a4a4a"/>
<polygon points="286,287 229,357 201,396 233,360 290,291" fill="#555555"/>
<polygon points="600,466 706,493 764,506 707,489 602,461" fill="#4b4b4b"/>
<polygon points="740,484 610,459 540,448 609,465 739,490" fill="#4b4b4b"/>
<polygon points="733,495 602,459 531,442 601,464 731,500" fill="#575757"/>
<polygon points="565,453 681,476 744,486 682,472 566,449" fill="#545454"/>
<polygon points="714,481 639,457 598,445 638,461 712,486" fill="#484848"/>
<polygon points="110,334 89,291 77,269 86,293 106,336" fill="#595959"/>
<polygon points="67,263 82,309 91,333 85,308 71,261" fill="#636363"/>
<polygon points="204,329 161,298 137,283 158,302 201,334" fill="#676767"/>
<polygon points="212,329 165,293 138,276 162,297 208,333" fill="#676767"/>
<polygon points="217,332 174,302 150,286 172,304 215,335" fill="#4b4b4b"/>
<polygon points="199,313 157,291 134,280 155,295 196,318" fill="#4b4b4b"/>
<polygon points="145,286 186,317 209,332 189,313 148,281" fill="#666666"/>
<polygon points="333,419 241,420 191,423 241,426 333,426" fill="#4b4b4b"/>
<polygon points="212,432 292,433 335,431 292,428 212,426" fill="#676767"/>
<polygon points="225,418 283,421 315,422 284,418 225,414" fill="#696969"/>
<polygon points="197,431 294,433 346,433 294,430 197,428" fill="#5a5a5a"/>
<polygon points="218,422 298,423 342,421 298,419 218,417" fill="#5c5c5c"/>
<polygon points="199,426 283,426 328,424 283,421 199,420" fill="#4d4d4d"/>
<polygon points="223,432 287,437 321,438 287,432 223,426" fill="#696969"/>
<polygon points="368,429 272,428 221,430 272,433 368,435" fill="#5b5b5b"/>
<polygon points="358,424 268,420 219,419 267,424 358,429" fill="#4a4a4a"/>
<polygon points="366,37 327,65 307,81 330,69 369,42" fill="#656565"/>
<polygon points="353,46 313,75 293,93 316,79 357,50" fill="#5c5c5c"/>
<polygon points="308,108 355,73 378,53 352,69 304,103" fill="#5e5e5e"/>
<polygon points="365,48 323,74 302,90 326,78 368,53" fill="#676767"/>
<polygon points="16,65 63,41 88,26 61,37 13,61" fill="#535353"/>
<polygon points="7,71 48,52 70,40 47,49 5,67" fill="#696969"/>
<polygon points="18,66 57,41 77,26 55,37 15,62" fill="#494949"/>
<polygon points="79,32 31,56 6,71 33,59 81,34" fill="#4b4b4b"/>
<polygon points="64,35 29,52 11,62 30,54 65,37" fill="#6a6a6a"/>
<polygon points="322,237 326,280 330,303 330,279 326,236" fill="#555555"/>
<polygon points="333,316 327,268 322,243 323,269 328,316" fill="#606060"/>
<polygon points="330,268 335,299 339,315 339,298 334,267" fill="#5b5b5b"/>
<polygon points="346,311 344,281 340,265 338,281 339,312" fill="#686868"/>
<polygon points="342,315 338,278 335,258 335,278 339,316" fill="#525252"/>
<polygon points="345,302 342,266 338,247 337,266 339,302" fill="#5b5b5b"/>
<polygon points="550,237 594,218 617,205 592,213 548,231" fill="#535353"/>
<polygon points="558,226 601,210 624,201 600,207 556,222" fill="#5f5f5f"/>
<polygon points="560,225 591,212 607,203 589,207 558,219" fill="#505050"/>
<polygon points="631,206 583,222 558,233 585,226 633,210" fill="#686868"/>
<polygon points="619,204 577,221 555,231 578,224 620,207" fill="#626262"/>
<polygon points="61,32 165,119 222,164 167,117 63,30" fill="#5f5f5f"/>
<polygon points="227,162 106,75 40,30 103,79 223,167" fill="#666666"/>
<polygon points="191,138 121,81 83,51 119,83 188,141" fill="#525252"/>
<polygon points="203,146 103,65 48,24 99,70 199,151" fill="#595959"/>
<polygon points="172,485 114,476 83,472 114,479 171,489" fill="#4a4a4a"/>
<polygon points="205,490 126,477 83,472 125,480 205,494" fill="#6a6a6a"/>
<polygon points="169,489 103,471 67,463 102,475 168,494" fill="#4a4a4a"/>
<polygon points="422,325 381,276 357,252 377,280 417,329" fill="#6c6c6c"/>
<polygon points="424,321 399,294 384,280 397,296 422,324" fill="#6b6b6b"/>
<polygon points="368,258 392,287 406,301 395,284 371,255" fill="#4f4f4f"/>
<polygon points="361,242 402,293 425,320 404,291 363,240" fill="#6a6a6a"/>
<polygon points="357,264 398,305 422,326 402,302 361,260" fill="#646464"/>
<polygon points="431,334 389,282 364,256 385,285 426,338" fill="#5f5f5f"/>
<polygon points="376,266 414,314 437,339 419,311 381,262" fill="#626262"/>
<polygon points="417,309 382,268 362,247 380,270 414,311" fill="#656565"/>
<polygon points="316,-10 360,11 384,22 361,9 317,-12" fill="#606060"/>
<polygon points="398,17 344,-6 314,-17 342,-1 395,24" fill="#5a5a5a"/>
<polygon points="323,-5 379,27 410,42 382,22 327,-10" fill="#626262"/>
<polygon points="327,2 381,27 411,39 383,22 330,-4" fill="#4a4a4a"/>
<polygon points="409,33 357,5 328,-8 356,8 407,36" fill="#656565"/>
<polygon points="320,-3 371,26 400,39 374,21 323,-9" fill="#575757"/>
<polygon points="240,232 216,326 204,377 219,327 245,233" fill="#6a6a6a"/>
<polygon points="228,280 205,345 194,380 209,346 233,282" fill="#5f5f5f"/>
<polygon points="242,270 224,324 216,354 227,325 245,271" fill="#5c5c5c"/>
<polygon points="180,404 212,328 227,286 208,326 176,402" fill="#6c6c6c"/>
<polygon points="565,40 655,72 704,86 657,67 567,35" fill="#545454"/>
<polygon points="551,14 620,45 658,59 623,39 554,7" fill="#505050"/>
<polygon points="671,56 609,37 576,28 608,40 670,59" fill="#4f4f4f"/>
<polygon points="685,69 604,33 560,14 603,35 684,71" fill="#4f4f4f"/>
<polygon points="677,70 591,32 544,13 589,36 675,75" fill="#4b4b4b"/>
<polygon points="544,14 623,46 665,62 623,44 545,12" fill="#555555"/>
<polygon points="394,310 470,364 512,392 473,361 397,305" fill="#626262"/>
<polygon points="481,362 424,322 392,301 422,324 479,364" fill="#525252"/>
<polygon points="514,391 444,346 404,324 441,351 511,396" fill="#626262"/>
<polygon points="369,291 449,344 493,372 451,342 371,288" fill="#5e5e5e"/>
<polygon points="356,280 451,348 503,383 454,344 360,275" fill="#626262"/>
<polygon points="493,373 418,324 377,299 416,326 491,376" fill="#525252"/>
<polygon points="577,455 633,552 666,603 638,549 583,451" fill="#696969"/>
<polygon points="649,564 606,479 582,435 602,482 644,567" fill="#5f5f5f"/>
<polygon points="238,30 307,37 344,39 307,33 239,24" fill="#6b6b6b"/>
<polygon points="232,29 287,38 318,40 288,33 233,23" fill="#6e6e6e"/>
<polygon points="231,33 302,40 341,42 303,35 232,26" fill="#636363"/>
<polygon points="436,27 481,27 506,25 481,24 436,23" fill="#656565"/>
<polygon points="408,20 469,18 501,14 469,12 408,14" fill="#6e6e6e"/>
<polygon points="532,16 468,17 433,19 468,21 532,20" fill="#686868"/>
<polygon points="438,25 486,28 511,27 486,22 438,19" fill="#6c6c6c"/>
<polygon points="500,25 444,20 415,20 444,24 499,30" fill="#6b6b6b"/>
<polygon points="410,14 477,21 513,24 477,19 410,11" fill="#545454"/>
<polygon points="449,116 405,56 381,24 403,58 446,118" fill="#4b4b4b"/>
<polygon points="440,107 390,31 361,-8 386,34 435,110" fill="#626262"/>
<polygon points="449,121 408,57 385,23 406,58 446,123" fill="#5c5c5c"/>
<polygon points="456,134 405,55 377,13 403,57 453,136" fill="#5c5c5c"/>
<polygon points="469,185 431,216 412,234 434,219 472,189" fill="#6b6b6b"/>
<polygon points="405,216 440,189 458,172 438,186 403,213" fill="#5b5b5b"/>
<polygon points="470,167 428,202 407,222 431,204 472,170" fill="#646464"/>
<polygon points="165,76 106,93 75,104 107,97 167,80" fill="#5b5b5b"/>
<polygon points="72,109 126,95 155,85 125,91 71,105" fill="#6c6c6c"/>
<polygon points="106,110 153,99 177,90 152,94 105,104" fill="#626262"/>
<polygon points="92,103 150,89 180,79 148,84 91,97" fill="#666666"/>
<polygon points="162,81 113,94 87,102 114,97 163,84" fill="#686868"/>
<polygon points="12,222 86,187 125,167 84,185 11,219" fill="#545454"/>
<polygon points="23,203 71,176 97,161 70,173 21,199" fill="#4b4b4b"/>
<polygon points="97,163 36,195 4,214 38,198 99,167" fill="#6a6a6a"/>
<polygon points="82,164 16,204 -18,226 18,206 83,167" fill="#676767"/>
<polygon points="108,170 47,203 15,222 50,208 111,176" fill="#6d6d6d"/>
<polygon points="7,214 60,186 88,169 59,183 5,212" fill="#595959"/>
<polygon points="151,240 250,237 304,234 250,234 151,237" fill="#595959"/>
<polygon points="164,240 232,241 269,240 232,238 164,237" fill="#696969"/>
<polygon points="159,238 248,234 295,230 247,230 159,234" fill="#686868"/>
<polygon points="148,240 260,232 321,227 260,229 147,236" fill="#5a5a5a"/>
<polygon points="150,243 265,235 327,229 265,232 150,239" fill="#575757"/>
<polygon points="309,226 201,231 143,235 201,234 310,230" fill="#595959"/>
<polygon points="305,230 218,233 171,237 218,238 305,235" fill="#535353"/>
<polygon points="542,156 467,124 426,109 466,128 540,160" fill="#585858"/>
<polygon points="479,129 526,152 552,163 527,149 480,127" fill="#626262"/>
<polygon points="551,157 484,126 447,112 482,131 548,163" fill="#6b6b6b"/>
<polygon points="148,-26 278,-23 347,-23 278,-28 149,-32" fill="#545454"/>
<polygon points="153,-36 266,-40 326,-43 266,-43 153,-39" fill="#525252"/>
<polygon points="376,-34 262,-37 200,-38 262,-34 376,-29" fill="#616161"/>
<polygon points="198,-39 287,-39 335,-41 287,-42 198,-42" fill="#5a5a5a"/>
<polygon points="147,-29 275,-34 344,-38 275,-38 147,-35" fill="#5c5c5c"/>
<polygon points="324,-27 230,-26 179,-25 230,-24 324,-24" fill="#5d5d5d"/>
<polygon points="382,-40 257,-40 189,-38 257,-35 382,-34" fill="#606060"/>
<polygon points="296,-25 212,-23 167,-20 212,-19 296,-19" fill="#636363"/>
<polygon points="173,164 108,115 71,90 105,118 170,168" fill="#696969"/>
<polygon points="235,212 129,136 71,96 126,139 232,216" fill="#515151"/>
<polygon points="202,182 135,133 97,108 132,137 199,187" fill="#6d6d6d"/>
<polygon points="76,95 165,170 214,210 167,168 78,92" fill="#606060"/>
<polygon points="40,73 153,150 216,190 156,146 43,68" fill="#555555"/>
<polygon points="676,192 615,219 583,235 616,221 677,194" fill="#646464"/>
<polygon points="639,203 598,221 576,232 599,224 641,206" fill="#616161"/>
<polygon points="657,191 605,218 578,234 607,222 660,195" fill="#545454"/>
<polygon points="174,203 141,260 125,292 146,263 180,206" fill="#4f4f4f"/>
<polygon points="132,272 166,203 183,165 162,201 127,270" fill="#515151"/>
<polygon points="563,199 486,212 445,219 487,214 564,202" fill="#4f4f4f"/>
<polygon points="464,215 507,208 530,203 506,205 463,211" fill="#5c5c5c"/>
<polygon points="571,196 501,206 464,213 502,210 571,200" fill="#636363"/>
<polygon points="541,203 486,209 457,214 487,213 542,208" fill="#4f4f4f"/>
<polygon points="456,227 526,216 563,207 525,210 455,220" fill="#5d5d5d"/>
<polygon points="581,196 504,205 462,212 504,210 582,202" fill="#505050"/>
<polygon points="186,306 270,257 315,230 268,255 184,302" fill="#6f6f6f"/>
<polygon points="178,318 275,261 326,229 273,258 176,315" fill="#5e5e5e"/>
<polygon points="339,219 272,262 236,286 273,264 340,222" fill="#6e6e6e"/>
<polygon points="208,297 297,247 344,219 295,244 206,293" fill="#545454"/>
<polygon points="681,108 676,174 677,209 682,174 688,109" fill="#6b6b6b"/>
<polygon points="677,111 671,191 670,234 675,191 681,111" fill="#6f6f6f"/>
<polygon points="684,112 677,191 676,234 682,191 690,113" fill="#4e4e4e"/>
<polygon points="677,219 682,149 683,111 679,149 674,219" fill="#535353"/>
<polygon points="680,122 676,190 677,227 682,191 687,123" fill="#656565"/>
<polygon points="675,195 682,128 683,92 676,128 669,194" fill="#707070"/>
<polygon points="325,247 255,229 216,222 253,233 323,252" fill="#595959"/>
<polygon points="349,260 262,241 215,232 261,246 348,266" fill="#4f4f4f"/>
<polygon points="352,256 243,228 184,215 242,232 350,261" fill="#626262"/>
<polygon points="235,233 309,255 350,265 310,251 236,229" fill="#626262"/>
<polygon points="373,522 328,458 302,425 324,461 369,525" fill="#676767"/>
<polygon points="401,544 353,472 325,434 350,473 398,546" fill="#646464"/>
<polygon points="325,461 361,510 382,536 363,509 327,459" fill="#515151"/>
<polygon points="314,429 360,492 386,525 363,490 318,426" fill="#5e5e5e"/>
<polygon points="392,524 345,453 318,415 340,456 387,528" fill="#666666"/>
<polygon points="146,-13 208,-52 241,-75 206,-55 143,-17" fill="#6b6b6b"/>
<polygon points="95,27 194,-40 247,-78 192,-44 92,23" fill="#525252"/>
<polygon points="270,-98 165,-39 109,-6 166,-36 272,-94" fill="#616161"/>
<polygon points="241,377 342,403 396,416 343,400 242,373" fill="#6c6c6c"/>
<polygon points="382,413 320,391 287,380 319,394 381,416" fill="#565656"/>
<polygon points="395,416 296,385 242,370 295,388 394,420" fill="#676767"/>
<polygon points="271,382 338,402 374,412 339,399 272,379" fill="#686868"/>
<polygon points="601,346 580,273 566,233 575,274 595,348" fill="#565656"/>
<polygon points="526,306 445,295 401,290 444,298 525,310" fill="#535353"/>
<polygon points="411,283 478,299 514,305 479,295 413,278" fill="#505050"/>
<polygon points="527,304 452,290 411,284 451,294 526,309" fill="#717171"/>
<polygon points="440,289 510,305 548,311 511,300 441,284" fill="#5a5a5a"/>
<polygon points="231,47 128,45 73,45 128,49 231,52" fill="#6b6b6b"/>
<polygon points="76,39 174,57 227,65 175,52 77,33" fill="#5c5c5c"/>
<polygon points="89,48 166,50 208,49 166,47 89,46" fill="#707070"/>
<polygon points="209,60 99,43 40,36 99,47 208,65" fill="#515151"/>
<polygon points="229,51 127,44 71,43 126,50 229,58" fill="#545454"/>
<polygon points="220,59 133,47 85,42 132,50 220,62" fill="#4f4f4f"/>
<polygon points="197,53 92,40 35,35 92,44 197,57" fill="#727272"/>
<polygon points="191,355 108,272 63,229 105,275 187,358" fill="#545454"/>
<polygon points="83,250 149,307 185,336 152,304 86,246" fill="#505050"/>
<polygon points="147,304 97,259 69,235 94,261 144,307" fill="#717171"/>
<polygon points="75,245 142,300 179,327 145,295 79,240" fill="#535353"/>
<polygon points="173,333 96,249 54,205 94,252 170,336" fill="#4f4f4f"/>
<polygon points="182,327 130,284 100,262 126,287 178,331" fill="#616161"/>
<polygon points="177,336 128,287 101,261 126,288 175,338" fill="#565656"/>
<polygon points="162,332 115,281 89,255 112,283 159,335" fill="#656565"/>
<polygon points="112,149 147,127 165,114 145,124 110,145" fill="#585858"/>
<polygon points="99,158 136,129 155,112 134,126 97,155" fill="#737373"/>
<polygon points="105,147 142,121 161,105 139,117 101,142" fill="#686868"/>
<polygon points="182,98 133,129 108,148 136,133 185,103" fill="#636363"/>
<polygon points="218,281 336,328 399,352 337,324 220,276" fill="#555555"/>
<polygon points="374,340 283,297 233,275 281,300 373,344" fill="#6d6d6d"/>
<polygon points="404,351 321,308 276,286 319,312 401,356" fill="#5c5c5c"/>
<polygon points="283,309 366,338 411,352 367,335 284,306" fill="#4f4f4f"/>
<polygon points="374,340 302,314 262,301 300,318 372,345" fill="#585858"/>
<polygon points="36,439 123,463 170,475 124,461 37,436" fill="#717171"/>
<polygon points="57,433 149,469 200,487 151,466 58,429" fill="#6b6b6b"/>
<polygon points="78,445 160,472 206,484 162,466 80,439" fill="#545454"/>
<polygon points="41,340 165,395 233,423 166,392 42,337" fill="#5a5a5a"/>
<polygon points="284,434 161,391 94,369 160,394 283,438" fill="#585858"/>
<polygon points="268,439 152,384 89,355 151,386 267,442" fill="#505050"/>
<polygon points="266,422 138,374 68,351 136,379 264,427" fill="#737373"/>
<polygon points="165,134 201,101 220,81 198,97 161,130" fill="#606060"/>
<polygon points="225,83 186,125 166,149 190,129 230,88" fill="#6f6f6f"/>
<polygon points="215,98 171,138 148,161 173,141 219,102" fill="#707070"/>
<polygon points="176,133 205,104 219,87 202,101 172,129" fill="#6b6b6b"/>
<polygon points="215,87 190,116 177,133 192,118 218,89" fill="#6b6b6b"/>
<polygon points="-1,159 103,167 159,169 103,162 -1,154" fill="#646464"/>
<polygon points="144,165 61,160 17,161 61,166 143,172" fill="#5d5d5d"/>
<polygon points="296,190 352,211 383,220 354,206 299,184" fill="#727272"/>
<polygon points="169,283 208,295 229,300 209,291 170,278" fill="#666666"/>
<polygon points="258,294 207,281 179,276 206,286 256,301" fill="#5b5b5b"/>
<polygon points="170,271 212,284 235,289 213,281 171,268" fill="#6e6e6e"/>
<polygon points="268,298 201,288 164,286 200,294 267,304" fill="#6f6f6f"/>
<polygon points="166,374 122,382 98,387 122,385 166,377" fill="#545454"/>
<polygon points="188,364 133,376 103,384 134,379 189,368" fill="#555555"/>
<polygon points="109,402 151,391 173,383 149,387 107,397" fill="#545454"/>
<polygon points="166,379 126,388 105,393 127,391 167,383" fill="#555555"/>
<polygon points="627,-36 560,23 524,56 562,25 629,-34" fill="#5c5c5c"/>
<polygon points="545,46 584,5 605,-18 582,3 542,43" fill="#5e5e5e"/>
<polygon points="624,-46 572,-1 545,24 574,2 627,-42" fill="#6b6b6b"/>
<polygon points="621,-39 566,7 538,33 568,9 623,-37" fill="#707070"/>
<polygon points="553,34 604,-14 630,-41 601,-17 550,31" fill="#525252"/>
<polygon points="636,-51 585,-3 559,24 588,0 639,-47" fill="#616161"/>
<polygon points="614,-26 560,27 533,56 563,29 617,-23" fill="#737373"/>
<polygon points="164,187 68,204 16,214 68,207 165,191" fill="#6c6c6c"/>
<polygon points="-18,211 105,199 171,192 105,196 -18,207" fill="#6d6d6d"/>
<polygon points="-2,209 95,200 147,194 95,198 -2,206" fill="#707070"/>
<polygon points="343,429 355,485 363,516 359,485 348,427" fill="#535353"/>
<polygon points="338,399 350,475 359,515 356,474 345,398" fill="#636363"/>
<polygon points="359,523 350,454 344,417 346,454 354,523" fill="#686868"/>
<polygon points="356,507 348,461 342,437 345,462 352,508" fill="#575757"/>
<polygon points="368,514 352,445 341,407 346,446 361,516" fill="#6d6d6d"/>
<polygon points="343,359 375,385 394,397 378,381 348,354" fill="#555555"/>
<polygon points="411,404 354,369 323,351 353,371 409,406" fill="#757575"/>
<polygon points="325,361 360,388 379,401 362,385 327,358" fill="#6a6a6a"/>
<polygon points="325,348 363,373 384,385 365,369 328,343" fill="#626262"/>
<polygon points="194,85 104,56 56,43 103,60 192,89" fill="#575757"/>
<polygon points="181,88 110,65 71,55 109,68 180,92" fill="#707070"/>
<polygon points="97,62 175,89 218,101 177,83 100,55" fill="#666666"/>
<polygon points="181,87 85,57 32,42 84,60 180,91" fill="#515151"/>
<polygon points="190,87 112,58 69,44 111,61 188,90" fill="#727272"/>
<polygon points="177,73 98,53 55,44 97,56 176,77" fill="#666666"/>
<polygon points="182,88 94,59 46,45 93,62 181,91" fill="#6b6b6b"/>
<polygon points="611,207 647,127 665,83 644,126 608,206" fill="#585858"/>
<polygon points="675,92 641,153 625,187 646,156 681,95" fill="#5e5e5e"/>
<polygon points="668,91 640,155 627,190 645,157 674,94" fill="#515151"/>
<polygon points="631,175 663,111 679,76 660,110 628,173" fill="#6b6b6b"/>
<polygon points="634,182 666,113 681,75 662,111 629,179" fill="#696969"/>
<polygon points="232,109 240,16 243,-34 237,16 228,109" fill="#5a5a5a"/>
<polygon points="226,149 245,36 253,-26 240,35 221,148" fill="#5d5d5d"/>
<polygon points="215,117 231,-21 238,-94 228,-21 212,116" fill="#707070"/>
<polygon points="241,-64 232,63 229,131 237,63 248,-64" fill="#646464"/>
<polygon points="219,154 235,23 242,-48 231,23 213,154" fill="#5d5d5d"/>
<polygon points="228,-26 218,68 216,119 224,68 234,-26" fill="#5c5c5c"/>
<polygon points="234,110 241,-11 243,-76 237,-11 230,109" fill="#565656"/>
<polygon points="166,485 163,438 158,413 157,439 160,485" fill="#636363"/>
<polygon points="167,496 162,440 158,410 159,440 164,496" fill="#575757"/>
<polygon points="157,378 166,453 172,494 169,453 160,377" fill="#6d6d6d"/>
<polygon points="517,252 522,296 527,320 527,296 523,251" fill="#636363"/>
<polygon points="343,349 227,328 164,318 226,332 342,354" fill="#5b5b5b"/>
<polygon points="299,339 204,330 152,327 203,334 299,344" fill="#707070"/>
<polygon points="141,327 233,338 282,343 233,335 141,324" fill="#686868"/>
<polygon points="121,314 265,342 344,354 266,337 122,308" fill="#5f5f5f"/>
<polygon points="8,154 60,191 90,208 64,186 12,149" fill="#656565"/>
<polygon points="31,150 92,201 126,227 95,197 35,146" fill="#767676"/>
<polygon points="11,139 69,189 101,216 71,187 14,136" fill="#646464"/>
<polygon points="94,204 48,162 22,141 46,165 91,208" fill="#5d5d5d"/>
<polygon points="12,150 66,193 96,215 68,190 14,147" fill="#535353"/>
<polygon points="11,144 72,195 107,220 75,191 14,140" fill="#6e6e6e"/>
<polygon points="93,195 30,151 -4,129 27,155 89,200" fill="#656565"/>
<polygon points="347,233 404,247 435,252 405,243 348,228" fill="#5c5c5c"/>
<polygon points="369,233 425,248 456,254 426,244 370,228" fill="#626262"/>
<polygon points="372,240 412,246 434,248 413,241 373,233" fill="#555555"/>
<polygon points="347,232 403,244 434,249 404,240 348,227" fill="#707070"/>
<polygon points="371,233 431,247 464,252 432,242 373,227" fill="#5a5a5a"/>
<polygon points="375,235 420,244 445,248 421,240 376,230" fill="#535353"/>
<polygon points="341,320 306,343 289,357 309,347 344,325" fill="#6f6f6f"/>
<polygon points="296,352 337,324 358,307 334,320 293,347" fill="#767676"/>
<polygon points="489,59 425,127 392,166 428,130 492,62" fill="#767676"/>
<polygon points="392,167 450,109 480,77 448,107 389,164" fill="#767676"/>
<polygon points="469,81 415,134 386,163 417,136 471,84" fill="#747474"/>
<polygon points="499,76 433,131 399,161 435,133 501,78" fill="#686868"/>
<polygon points="471,90 422,145 398,177 426,149 476,94" fill="#646464"/>
<polygon points="319,344 259,267 226,226 257,269 316,346" fill="#6b6b6b"/>
<polygon points="313,340 250,256 214,212 246,259 308,344" fill="#777777"/>
<polygon points="327,340 284,292 259,267 280,295 323,344" fill="#555555"/>
<polygon points="314,330 259,258 228,220 255,260 309,334" fill="#727272"/>
<polygon points="225,242 288,318 323,357 292,315 230,239" fill="#626262"/>
<polygon points="239,242 303,329 340,374 307,326 243,239" fill="#696969"/>
<polygon points="250,180 209,167 187,162 208,170 249,184" fill="#6c6c6c"/>
<polygon points="258,188 210,171 184,163 209,173 257,191" fill="#6c6c6c"/>
<polygon points="244,187 205,175 183,171 203,180 241,193" fill="#5f5f5f"/>
<polygon points="249,192 210,178 189,172 209,181 248,195" fill="#636363"/>
<polygon points="244,179 197,165 171,160 196,170 242,184" fill="#5b5b5b"/>
<polygon points="355,84 422,134 459,159 425,130 359,79" fill="#626262"/>
<polygon points="331,60 415,122 462,153 418,118 335,56" fill="#5a5a5a"/>
<polygon points="465,167 380,99 333,63 378,101 463,170" fill="#717171"/>
<polygon points="307,41 206,17 151,7 205,23 306,47" fill="#707070"/>
<polygon points="169,23 257,48 304,59 258,43 171,17" fill="#616161"/>
<polygon points="195,29 268,50 308,59 269,46 197,24" fill="#777777"/>
<polygon points="310,50 230,31 187,22 230,35 309,55" fill="#5c5c5c"/>
<polygon points="621,-5 530,-48 480,-69 528,-43 618,1" fill="#6a6a6a"/>
<polygon points="533,-38 624,1 674,21 626,-2 535,-42" fill="#767676"/>
<polygon points="529,-43 601,-8 640,10 602,-10 530,-46" fill="#6e6e6e"/>
<polygon points="540,-38 614,0 655,18 616,-4 542,-42" fill="#666666"/>
<polygon points="477,-73 595,-13 660,17 597,-17 480,-78" fill="#5b5b5b"/>
<polygon points="389,490 428,448 448,424 426,446 386,487" fill="#686868"/>
<polygon points="427,432 400,462 386,479 402,464 430,434" fill="#656565"/>
<polygon points="298,147 400,154 455,156 400,149 298,141" fill="#6f6f6f"/>
<polygon points="283,141 364,145 408,146 365,141 284,136" fill="#6e6e6e"/>
<polygon points="428,145 331,146 280,148 331,150 428,151" fill="#757575"/>
<polygon points="386,145 323,139 288,138 322,143 386,149" fill="#717171"/>
<polygon points="345,51 300,70 277,83 302,75 347,56" fill="#565656"/>
<polygon points="353,44 310,59 287,70 311,64 355,51" fill="#686868"/>
<polygon points="281,79 324,65 346,56 323,63 280,76" fill="#6e6e6e"/>
<polygon points="271,78 318,63 343,53 317,59 269,73" fill="#717171"/>
<polygon points="341,46 299,64 277,75 300,67 342,49" fill="#747474"/>
<polygon points="466,121 374,96 323,84 372,101 464,128" fill="#777777"/>
<polygon points="306,14 325,47 337,64 329,45 311,11" fill="#606060"/>
<polygon points="409,426 437,405 452,392 435,402 406,422" fill="#606060"/>
<polygon points="459,373 417,408 396,428 420,411 462,376" fill="#555555"/>
<polygon points="392,439 429,413 448,398 427,411 390,437" fill="#757575"/>
<polygon points="462,372 422,403 401,420 424,405 464,374" fill="#636363"/>
<polygon points="456,106 511,221 542,283 513,220 459,104" fill="#666666"/>
<polygon points="79,331 183,323 239,317 183,319 79,326" fill="#656565"/>
<polygon points="248,317 137,328 77,335 137,331 249,321" fill="#6b6b6b"/>
<polygon points="99,326 182,319 227,314 182,315 99,321" fill="#565656"/>
<polygon points="275,314 182,317 132,320 182,320 275,317" fill="#6b6b6b"/>
<polygon points="236,315 152,319 106,323 152,323 236,320" fill="#5f5f5f"/>
<polygon points="111,328 202,326 251,323 202,322 111,323" fill="#656565"/>
<polygon points="106,323 185,321 227,319 185,317 106,318" fill="#606060"/>
<polygon points="427,278 492,275 527,272 492,272 427,275" fill="#6c6c6c"/>
<polygon points="512,266 459,269 430,273 459,274 512,273" fill="#636363"/>
<polygon points="402,271 464,274 498,273 464,268 402,264" fill="#656565"/>
<polygon points="485,272 443,274 421,277 443,278 485,277" fill="#676767"/>
<polygon points="536,261 465,267 428,272 466,271 536,266" fill="#787878"/>
<polygon points="504,269 460,271 437,274 460,276 504,275" fill="#616161"/>
<polygon points="531,239 470,241 436,245 470,247 531,246" fill="#686868"/>
<polygon points="521,240 461,244 429,247 461,248 521,245" fill="#747474"/>
<polygon points="443,252 501,252 531,250 501,249 443,248" fill="#646464"/>
<polygon points="436,250 494,249 525,245 494,243 436,243" fill="#6b6b6b"/>
<polygon points="358,-35 430,21 469,50 431,19 360,-37" fill="#5c5c5c"/>
<polygon points="484,50 383,-25 326,-63 379,-20 480,55" fill="#6b6b6b"/>
<polygon points="488,60 389,-17 334,-57 386,-13 484,65" fill="#707070"/>
<polygon points="368,-35 464,53 517,99 468,49 372,-40" fill="#5b5b5b"/>
<polygon points="363,-31 449,40 496,77 452,37 367,-35" fill="#6b6b6b"/>
<polygon points="471,56 392,-20 348,-60 389,-17 468,59" fill="#666666"/>
<polygon points="342,-56 432,30 483,75 436,26 347,-61" fill="#595959"/>
<polygon points="380,-28 448,30 486,60 450,28 382,-31" fill="#767676"/>
<polygon points="42,96 88,80 112,69 86,76 40,91" fill="#5c5c5c"/>
<polygon points="114,66 54,85 21,96 54,88 115,70" fill="#606060"/>
<polygon points="100,78 59,91 37,99 60,94 102,82" fill="#767676"/>
<polygon points="28,97 69,87 90,81 68,84 28,94" fill="#6c6c6c"/>
<polygon points="31,94 74,79 97,68 72,74 29,88" fill="#636363"/>
<polygon points="19,95 78,78 109,67 77,74 18,91" fill="#6c6c6c"/>
<polygon points="658,101 548,79 488,69 547,82 658,104" fill="#6d6d6d"/>
<polygon points="484,67 618,92 691,104 619,88 485,62" fill="#737373"/>
<polygon points="462,68 574,85 635,92 575,81 463,64" fill="#797979"/>
<polygon points="190,286 129,262 96,251 127,266 188,292" fill="#6b6b6b"/>
<polygon points="167,282 117,259 89,248 114,264 164,288" fill="#616161"/>
<polygon points="101,255 153,276 181,286 154,273 102,252" fill="#777777"/>
<polygon points="352,345 414,354 447,356 415,349 353,340" fill="#565656"/>
<polygon points="454,355 392,345 358,341 392,348 454,357" fill="#595959"/>
<polygon points="383,349 428,355 453,356 429,349 384,342" fill="#747474"/>
<polygon points="434,339 381,332 352,330 381,335 434,343" fill="#626262"/>
<polygon points="346,342 408,350 442,353 409,345 347,336" fill="#686868"/>
<polygon points="200,218 181,165 169,137 178,166 197,219" fill="#616161"/>
<polygon points="207,228 182,177 167,150 179,178 204,229" fill="#6b6b6b"/>
<polygon points="204,227 189,195 179,178 186,196 200,229" fill="#636363"/>
<polygon points="594,380 649,352 678,334 647,348 592,376" fill="#5d5d5d"/>
<polygon points="710,315 638,358 601,383 640,361 711,318" fill="#686868"/>
<polygon points="680,321 630,358 604,380 633,363 684,326" fill="#626262"/>
<polygon points="627,369 680,336 707,316 677,331 624,363" fill="#585858"/>
<polygon points="703,320 638,362 605,386 641,366 706,325" fill="#727272"/>
<polygon points="600,380 666,337 701,313 664,335 598,377" fill="#717171"/>
<polygon points="694,317 636,357 606,381 639,361 698,322" fill="#7a7a7a"/>
<polygon points="581,129 470,184 411,216 472,189 584,135" fill="#636363"/>
<polygon points="536,164 447,214 400,242 448,217 538,167" fill="#6e6e6e"/>
<polygon points="573,133 478,189 428,220 481,193 576,138" fill="#636363"/>
<polygon points="378,310 427,320 454,324 428,316 379,305" fill="#6d6d6d"/>
<polygon points="449,324 410,318 389,315 410,320 448,326" fill="#6a6a6a"/>
<polygon points="398,315 448,327 476,332 449,323 399,310" fill="#5c5c5c"/>
<polygon points="411,318 449,326 469,329 450,321 413,312" fill="#5b5b5b"/>
<polygon points="745,345 674,340 635,339 673,345 744,351" fill="#686868"/>
<polygon points="654,342 716,349 749,350 717,344 655,336" fill="#757575"/>
<polygon points="54,398 122,372 157,356 120,368 52,392" fill="#5a5a5a"/>
<polygon points="40,407 106,382 141,367 104,378 38,402" fill="#676767"/>
<polygon points="-11,246 49,273 82,286 51,269 -8,242" fill="#595959"/>
<polygon points="-29,240 27,266 59,278 29,261 -27,234" fill="#606060"/>
<polygon points="109,283 27,253 -18,239 25,258 107,289" fill="#747474"/>
<polygon points="114,286 32,250 -13,232 31,253 112,290" fill="#626262"/>
<polygon points="467,528 417,492 389,473 416,494 465,531" fill="#616161"/>
<polygon points="459,521 410,483 382,464 406,487 454,526" fill="#6f6f6f"/>
<polygon points="473,534 418,487 387,462 416,489 470,537" fill="#777777"/>
<polygon points="379,471 412,497 431,510 415,494 383,467" fill="#616161"/>
<polygon points="369,462 417,503 444,523 421,499 374,456" fill="#5f5f5f"/>
<polygon points="444,510 408,482 387,469 405,486 441,514" fill="#797979"/>
<polygon points="112,104 158,119 183,125 159,115 114,98" fill="#737373"/>
<polygon points="113,108 173,127 205,135 174,123 115,104" fill="#6b6b6b"/>
<polygon points="177,126 129,105 102,96 127,109 176,130" fill="#585858"/>
<polygon points="121,113 174,133 203,143 175,130 123,110" fill="#5b5b5b"/>
<polygon points="111,107 160,125 188,132 162,121 112,103" fill="#757575"/>
<polygon points="90,96 155,120 191,131 156,117 91,93" fill="#737373"/>
<polygon points="583,125 647,154 682,168 648,151 585,121" fill="#686868"/>
<polygon points="583,116 649,164 686,188 651,161 585,113" fill="#717171"/>
<polygon points="611,139 672,171 706,186 675,166 614,134" fill="#606060"/>
<polygon points="698,175 648,143 620,127 646,146 697,178" fill="#6a6a6a"/>
<polygon points="414,255 458,230 481,215 456,227 411,251" fill="#626262"/>
<polygon points="409,242 459,217 486,203 458,214 407,238" fill="#6d6d6d"/>
<polygon points="425,251 464,228 484,214 462,224 423,247" fill="#717171"/>
<polygon points="484,212 434,241 408,258 437,246 488,218" fill="#5b5b5b"/>
<polygon points="480,202 436,227 414,243 439,232 483,208" fill="#5d5d5d"/>
<polygon points="498,195 446,225 419,243 447,228 500,198" fill="#757575"/>
<polygon points="406,249 454,221 479,206 452,219 404,246" fill="#6f6f6f"/>
<polygon points="481,202 434,226 409,240 435,228 482,205" fill="#7a7a7a"/>
<polygon points="601,328 640,334 661,336 641,330 602,322" fill="#696969"/>
<polygon points="603,333 644,340 666,342 645,335 604,327" fill="#595959"/>
<polygon points="655,342 618,332 598,328 617,335 655,345" fill="#6f6f6f"/>
<polygon points="602,328 636,336 656,339 637,333 603,324" fill="#5e5e5e"/>
<polygon points="643,334 613,329 596,328 611,334 641,341" fill="#626262"/>
<polygon points="603,52 503,18 449,2 502,22 602,57" fill="#5e5e5e"/>
<polygon points="451,20 546,48 597,62 547,44 452,15" fill="#646464"/>
<polygon points="622,58 519,29 464,14 518,32 620,62" fill="#656565"/>
<polygon points="485,24 582,55 634,71 583,53 486,21" fill="#6c6c6c"/>
<polygon points="636,62 524,25 464,7 524,28 635,65" fill="#646464"/>
<polygon points="636,359 646,398 652,419 648,397 639,358" fill="#777777"/>
<polygon points="631,354 649,408 660,436 652,407 634,353" fill="#636363"/>
<polygon points="625,353 638,395 647,418 641,394 628,352" fill="#696969"/>
<polygon points="661,429 642,381 629,356 638,383 657,431" fill="#707070"/>
<polygon points="645,415 637,384 631,368 634,385 641,416" fill="#7a7a7a"/>
<polygon points="39,359 73,236 89,168 68,234 33,358" fill="#636363"/>
<polygon points="49,321 70,246 80,205 67,245 46,321" fill="#6d6d6d"/>
<polygon points="79,143 56,278 46,351 61,279 86,144" fill="#666666"/>
<polygon points="38,343 78,227 97,163 73,225 33,341" fill="#636363"/>
<polygon points="38,344 68,234 83,174 64,233 34,342" fill="#616161"/>
<polygon points="198,312 290,319 339,321 290,316 198,308" fill="#7b7b7b"/>
<polygon points="258,324 325,329 362,329 326,323 259,317" fill="#6a6a6a"/>
<polygon points="362,336 293,331 256,330 293,334 362,339" fill="#6d6d6d"/>
<polygon points="326,334 250,327 209,325 249,331 325,339" fill="#797979"/>
<polygon points="212,309 310,323 363,330 310,320 213,305" fill="#6f6f6f"/>
<polygon points="219,327 297,332 339,333 297,328 219,322" fill="#727272"/>
<polygon points="335,324 258,315 217,312 258,319 334,329" fill="#5d5d5d"/>
<polygon points="77,13 24,-23 -5,-41 22,-20 74,17" fill="#6f6f6f"/>
<polygon points="21,-20 59,7 81,20 61,4 23,-23" fill="#797979"/>
<polygon points="78,21 45,-5 27,-17 43,-2 75,24" fill="#686868"/>
<polygon points="363,134 491,162 561,175 492,157 364,127" fill="#6a6a6a"/>
<polygon points="334,125 457,154 524,168 458,151 335,121" fill="#696969"/>
<polygon points="386,132 462,147 503,155 463,145 387,128" fill="#727272"/>
<polygon points="559,176 458,149 403,136 457,153 558,181" fill="#7b7b7b"/>
<polygon points="201,359 106,391 56,409 107,395 202,364" fill="#676767"/>
<polygon points="187,379 126,399 93,411 127,403 189,384" fill="#6f6f6f"/>
<polygon points="64,421 120,402 150,391 119,400 64,419" fill="#737373"/>
<polygon points="311,116 256,93 226,81 255,95 310,119" fill="#656565"/>
<polygon points="261,262 313,258 341,254 313,253 261,256" fill="#696969"/>
<polygon points="243,243 319,247 360,247 320,242 244,237" fill="#626262"/>
<polygon points="381,243 290,240 240,240 289,243 381,247" fill="#7c7c7c"/>
<polygon points="-17,353 44,319 76,299 42,315 -19,349" fill="#7c7c7c"/>
<polygon points="-36,369 61,316 112,286 59,312 -38,364" fill="#676767"/>
<polygon points="68,312 7,345 -25,365 9,349 71,316" fill="#767676"/>
<polygon points="-4,353 68,316 106,295 66,313 -6,349" fill="#656565"/>
<polygon points="85,296 -7,350 -56,380 -6,352 87,299" fill="#616161"/>
<polygon points="103,281 7,343 -43,378 10,347 106,286" fill="#7e7e7e"/>
<polygon points="-28,363 70,307 122,276 68,305 -30,360" fill="#666666"/>
<polygon points="-38,372 47,324 92,296 45,320 -41,367" fill="#767676"/>
<polygon points="312,274 291,248 278,235 288,250 308,277" fill="#7a7a7a"/>
<polygon points="271,229 304,272 323,293 308,268 277,225" fill="#5c5c5c"/>
<polygon points="315,272 289,241 274,226 285,244 310,276" fill="#646464"/>
<polygon points="263,224 287,250 300,262 289,248 265,222" fill="#606060"/>
<polygon points="254,218 290,256 310,275 292,254 256,216" fill="#6d6d6d"/>
<polygon points="264,219 295,258 313,278 298,256 268,216" fill="#6f6f6f"/>
<polygon points="279,233 301,259 313,273 303,257 283,230" fill="#646464"/>
<polygon points="233,184 176,157 145,144 174,162 230,190" fill="#666666"/>
<polygon points="218,191 165,166 136,156 163,171 215,196" fill="#5b5b5b"/>
<polygon points="239,185 168,152 129,135 166,155 238,189" fill="#6f6f6f"/>
<polygon points="231,199 190,179 166,171 188,183 229,203" fill="#6a6a6a"/>
<polygon points="246,198 183,165 148,150 181,170 243,204" fill="#6a6a6a"/>
<polygon points="212,184 170,161 146,151 168,165 210,188" fill="#5f5f5f"/>
<polygon points="137,161 202,191 238,206 205,186 140,154" fill="#6a6a6a"/>
<polygon points="72,338 145,338 184,335 145,333 72,332" fill="#747474"/>
<polygon points="240,328 122,333 59,338 123,338 240,333" fill="#686868"/>
<polygon points="11,348 129,349 192,347 129,344 11,341" fill="#707070"/>
<polygon points="22,346 129,347 187,345 129,343 22,342" fill="#7a7a7a"/>
<polygon points="229,336 108,343 43,348 109,346 229,340" fill="#646464"/>
<polygon points="57,354 169,348 229,343 169,344 56,349" fill="#7d7d7d"/>
<polygon points="172,344 100,343 61,343 100,345 172,347" fill="#6d6d6d"/>
<polygon points="177,343 101,344 59,346 101,346 177,346" fill="#727272"/>
<polygon points="197,-11 160,-26 138,-32 158,-21 195,-5" fill="#686868"/>
<polygon points="190,-7 160,-19 143,-25 158,-16 188,-4" fill="#7f7f7f"/>
<polygon points="151,-14 189,0 209,7 190,-3 152,-18" fill="#777777"/>
<polygon points="213,7 172,-14 149,-24 170,-10 211,12" fill="#7f7f7f"/>
<polygon points="200,1 170,-10 153,-14 169,-7 199,5" fill="#6c6c6c"/>
<polygon points="402,514 363,482 340,466 359,485 398,518" fill="#777777"/>
<polygon points="391,504 351,468 329,451 348,472 387,508" fill="#676767"/>
<polygon points="579,401 508,365 469,347 506,368 577,405" fill="#707070"/>
<polygon points="566,386 507,358 474,345 505,363 563,392" fill="#6c6c6c"/>
<polygon points="476,346 537,382 571,400 539,379 478,342" fill="#777777"/>
<polygon points="258,342 224,253 204,205 219,254 252,344" fill="#616161"/>
<polygon points="203,186 231,251 248,285 236,249 209,184" fill="#686868"/>
<polygon points="192,174 219,258 236,303 223,257 196,172" fill="#676767"/>
<polygon points="459,199 520,227 554,240 522,222 462,194" fill="#626262"/>
<polygon points="468,204 532,230 567,242 534,225 470,198" fill="#656565"/>
<polygon points="484,216 535,238 563,247 537,234 486,212" fill="#7e7e7e"/>
<polygon points="453,200 514,230 548,244 516,226 455,195" fill="#6d6d6d"/>
<polygon points="584,257 504,220 460,201 503,222 583,260" fill="#717171"/>
<polygon points="593,514 603,437 607,396 600,437 590,513" fill="#797979"/>
<polygon points="589,522 606,415 613,357 600,414 582,521" fill="#7c7c7c"/>
<polygon points="405,47 492,60 540,65 493,55 406,40" fill="#7d7d7d"/>
<polygon points="443,50 521,58 563,60 521,53 444,44" fill="#757575"/>
<polygon points="513,61 459,50 429,46 458,54 512,65" fill="#7c7c7c"/>
<polygon points="513,60 453,49 421,45 452,54 512,66" fill="#797979"/>
<polygon points="430,50 493,57 528,58 494,52 430,45" fill="#6f6f6f"/>
<polygon points="514,55 464,47 437,45 464,52 513,62" fill="#606060"/>
<polygon points="261,491 336,428 375,392 333,424 258,487" fill="#777777"/>
<polygon points="239,513 323,435 368,393 321,433 236,510" fill="#6f6f6f"/>
<polygon points="691,366 603,314 555,287 602,317 689,369" fill="#5d5d5d"/>
<polygon points="680,363 618,327 584,308 616,330 678,367" fill="#696969"/>
<polygon points="674,356 605,316 567,296 603,320 672,360" fill="#707070"/>
<polygon points="-14,26 55,39 93,44 56,34 -13,21" fill="#5f5f5f"/>
<polygon points="-20,13 63,44 109,58 65,39 -17,7" fill="#808080"/>
<polygon points="-19,21 93,50 154,63 94,45 -18,15" fill="#6f6f6f"/>
<polygon points="6,27 91,44 137,50 92,39 7,21" fill="#737373"/>
<polygon points="-15,22 103,47 167,58 103,43 -14,18" fill="#767676"/>
<polygon points="94,40 21,25 -19,20 20,30 93,46" fill="#646464"/>
<polygon points="470,72 450,0 439,-39 447,0 466,73" fill="#828282"/>
<polygon points="482,53 464,1 452,-26 459,3 477,55" fill="#737373"/>
<polygon points="454,12 467,56 476,80 471,55 458,10" fill="#5f5f5f"/>
<polygon points="451,0 469,49 481,75 474,48 457,-2" fill="#7a7a7a"/>
<polygon points="474,70 450,13 436,-18 447,14 471,71" fill="#656565"/>
<polygon points="621,268 518,252 462,245 517,255 620,271" fill="#666666"/>
<polygon points="551,395 469,444 426,472 471,447 553,398" fill="#6d6d6d"/>
<polygon points="430,471 492,440 525,422 491,437 429,469" fill="#606060"/>
<polygon points="406,506 496,453 543,423 493,448 403,499" fill="#6b6b6b"/>
<polygon points="418,481 478,443 509,420 475,438 415,476" fill="#777777"/>
<polygon points="659,26 683,106 698,149 687,105 663,24" fill="#767676"/>
<polygon points="251,-22 170,-37 126,-43 169,-32 250,-17" fill="#6e6e6e"/>
<polygon points="524,44 444,18 401,5 444,20 523,47" fill="#6d6d6d"/>
<polygon points="525,45 408,1 344,-19 406,7 522,51" fill="#686868"/>
<polygon points="350,-8 456,28 514,45 457,23 351,-14" fill="#757575"/>
<polygon points="513,38 424,5 375,-10 422,10 511,44" fill="#808080"/>
<polygon points="365,-8 482,32 545,53 483,29 366,-11" fill="#6b6b6b"/>
<polygon points="377,513 429,451 455,416 425,447 372,509" fill="#6c6c6c"/>
<polygon points="355,523 424,453 460,414 422,451 353,521" fill="#757575"/>
<polygon points="363,538 438,455 477,409 436,453 361,536" fill="#606060"/>
<polygon points="370,513 456,426 501,378 453,423 366,509" fill="#787878"/>
<polygon points="74,489 147,458 186,440 146,454 72,484" fill="#707070"/>
<polygon points="220,418 120,465 68,492 122,470 222,424" fill="#676767"/>
<polygon points="215,426 87,466 19,490 89,470 217,431" fill="#6c6c6c"/>
<polygon points="309,199 201,201 142,203 201,205 309,204" fill="#777777"/>
<polygon points="168,215 245,213 287,210 245,208 168,209" fill="#7a7a7a"/>
<polygon points="124,207 229,213 286,214 229,210 124,205" fill="#6b6b6b"/>
<polygon points="61,19 8,30 -20,38 9,34 62,23" fill="#646464"/>
<polygon points="-21,53 29,41 56,33 28,38 -22,49" fill="#838383"/>
<polygon points="-9,42 62,25 100,14 61,20 -11,36" fill="#606060"/>
<polygon points="106,18 34,39 -4,51 35,42 107,22" fill="#737373"/>
<polygon points="-2,41 60,26 92,15 59,22 -3,37" fill="#626262"/>
<polygon points="-25,48 53,29 96,17 53,26 -26,44" fill="#676767"/>
<polygon points="524,104 640,126 703,137 641,123 525,101" fill="#6a6a6a"/>
<polygon points="554,104 657,120 712,127 657,116 555,100" fill="#717171"/>
<polygon points="584,114 687,129 743,134 688,124 585,108" fill="#838383"/>
<polygon points="594,119 665,127 703,130 666,122 595,112" fill="#6e6e6e"/>
<polygon points="727,125 618,111 558,105 617,115 726,131" fill="#797979"/>
<polygon points="570,115 662,128 712,134 663,125 571,110" fill="#777777"/>
<polygon points="571,110 675,129 732,136 676,124 572,105" fill="#6b6b6b"/>
<polygon points="359,109 480,50 545,17 478,46 356,103" fill="#727272"/>
<polygon points="488,21 395,73 346,102 397,76 490,24" fill="#838383"/>
<polygon points="517,14 422,70 371,103 424,74 520,18" fill="#808080"/>
<polygon points="382,88 466,41 511,13 464,36 379,83" fill="#616161"/>
<polygon points="521,9 442,54 400,79 444,57 523,12" fill="#656565"/>
<polygon points="385,85 491,29 547,-3 488,24 382,79" fill="#636363"/>
<polygon points="490,13 405,63 360,92 408,68 494,19" fill="#6b6b6b"/>
<polygon points="535,10 448,59 401,87 449,62 537,14" fill="#737373"/>
<polygon points="130,417 207,440 250,451 209,436 131,412" fill="#797979"/>
<polygon points="136,423 212,438 253,444 213,433 137,417" fill="#6e6e6e"/>
<polygon points="133,422 221,441 269,449 222,437 134,417" fill="#6b6b6b"/>
<polygon points="130,429 244,450 306,459 245,445 131,423" fill="#7a7a7a"/>
<polygon points="262,447 153,425 95,415 152,430 260,454" fill="#656565"/>
<polygon points="282,444 178,429 122,424 177,435 281,450" fill="#737373"/>
<polygon points="139,428 244,453 301,464 246,448 141,422" fill="#828282"/>
<polygon points="274,447 181,430 130,422 180,433 274,450" fill="#7e7e7e"/>
<polygon points="469,259 390,234 347,221 389,236 468,262" fill="#646464"/>
<polygon points="484,253 389,231 337,221 388,236 482,260" fill="#757575"/>
<polygon points="346,227 410,244 445,252 411,240 347,222" fill="#707070"/>
<polygon points="448,242 386,231 353,226 385,234 447,246" fill="#6a6a6a"/>
<polygon points="310,227 404,243 454,248 404,237 311,220" fill="#818181"/>
<polygon points="188,145 101,129 54,122 100,134 187,151" fill="#757575"/>
<polygon points="184,158 94,133 45,120 93,135 183,161" fill="#676767"/>
<polygon points="191,155 102,135 54,126 101,139 189,160" fill="#838383"/>
<polygon points="163,141 79,122 34,113 78,126 162,146" fill="#636363"/>
<polygon points="251,214 226,115 210,62 223,116 248,215" fill="#838383"/>
<polygon points="218,114 232,174 242,206 238,173 224,113" fill="#767676"/>
<polygon points="246,222 218,117 202,60 215,118 242,223" fill="#7b7b7b"/>
<polygon points="251,192 228,106 214,60 225,107 248,193" fill="#6a6a6a"/>
<polygon points="250,203 232,117 220,71 227,118 245,205" fill="#6d6d6d"/>
<polygon points="210,98 232,176 246,217 236,175 214,96" fill="#6c6c6c"/>
<polygon points="251,231 225,128 209,72 222,128 247,232" fill="#777777"/>
<polygon points="312,-98 268,-14 246,33 272,-12 316,-95" fill="#7b7b7b"/>
<polygon points="262,41 295,-22 311,-57 290,-24 256,38" fill="#818181"/>
<polygon points="251,25 290,-38 309,-73 286,-41 246,22" fill="#656565"/>
<polygon points="316,494 433,520 496,532 434,516 317,489" fill="#7c7c7c"/>
<polygon points="338,485 412,512 453,524 414,507 340,480" fill="#717171"/>
<polygon points="476,529 382,503 331,490 382,506 475,533" fill="#767676"/>
<polygon points="90,352 142,386 170,403 143,384 93,349" fill="#636363"/>
<polygon points="158,389 125,365 107,354 123,368 156,392" fill="#666666"/>
<polygon points="157,394 128,373 112,363 126,376 155,397" fill="#7a7a7a"/>
<polygon points="172,395 120,362 90,345 117,365 169,399" fill="#7f7f7f"/>
<polygon points="179,398 136,368 111,354 132,373 175,404" fill="#7a7a7a"/>
<polygon points="91,338 139,375 165,395 141,373 93,335" fill="#767676"/>
<polygon points="24,293 135,288 194,284 135,284 24,287" fill="#737373"/>
<polygon points="159,276 56,274 0,275 56,280 159,283" fill="#676767"/>
<polygon points="716,238 643,266 604,284 645,271 718,244" fill="#7c7c7c"/>
<polygon points="582,291 691,256 749,236 690,253 581,288" fill="#646464"/>
<polygon points="739,236 640,276 588,298 642,279 741,240" fill="#797979"/>
<polygon points="553,313 647,276 697,254 645,271 551,307" fill="#808080"/>
<polygon points="678,256 607,288 570,307 609,292 681,261" fill="#6b6b6b"/>
<polygon points="11,61 61,34 88,18 59,30 9,56" fill="#707070"/>
<polygon points="1,68 72,26 110,2 71,24 -1,65" fill="#7c7c7c"/>
<polygon points="109,11 52,39 21,55 53,41 110,14" fill="#727272"/>
<polygon points="80,12 24,42 -5,60 26,45 82,16" fill="#7b7b7b"/>
<polygon points="32,51 74,28 96,14 72,24 30,46" fill="#7c7c7c"/>
<polygon points="85,20 37,44 12,58 39,47 87,23" fill="#868686"/>
<polygon points="504,485 488,384 478,330 486,384 501,485" fill="#666666"/>
<polygon points="520,526 497,423 484,368 494,424 516,527" fill="#6e6e6e"/>
<polygon points="481,347 496,464 505,526 499,463 485,347" fill="#808080"/>
<polygon points="488,354 501,471 510,534 505,471 492,354" fill="#838383"/>
<polygon points="509,497 497,405 488,356 491,406 502,498" fill="#747474"/>
<polygon points="240,129 213,165 199,185 215,166 242,130" fill="#777777"/>
<polygon points="243,133 200,186 180,216 205,189 248,137" fill="#7b7b7b"/>
<polygon points="238,132 208,172 193,195 212,175 243,135" fill="#747474"/>
<polygon points="170,211 217,160 241,132 214,158 168,209" fill="#868686"/>
<polygon points="235,135 206,175 192,197 209,176 238,137" fill="#717171"/>
<polygon points="235,138 200,183 182,209 203,186 239,141" fill="#6b6b6b"/>
<polygon points="184,209 219,159 235,131 214,156 179,205" fill="#7f7f7f"/>
<polygon points="248,144 218,181 204,202 221,183 251,147" fill="#666666"/>
<polygon points="202,210 243,156 264,125 239,153 197,207" fill="#858585"/>
<polygon points="513,140 584,130 621,122 583,124 513,134" fill="#777777"/>
<polygon points="604,106 558,107 533,109 558,110 604,110" fill="#717171"/>
<polygon points="586,114 542,121 519,127 543,126 587,119" fill="#707070"/>
<polygon points="600,108 545,116 516,123 546,121 601,114" fill="#6d6d6d"/>
<polygon points="524,134 572,129 598,124 572,124 524,128" fill="#747474"/>
<polygon points="519,131 576,127 607,123 576,123 519,126" fill="#676767"/>
<polygon points="524,120 589,114 623,109 588,109 524,114" fill="#797979"/>
<polygon points="515,121 592,114 633,108 592,110 514,117" fill="#828282"/>
<polygon points="104,95 56,65 30,50 54,69 101,100" fill="#868686"/>
<polygon points="84,91 37,62 10,48 34,66 81,97" fill="#7a7a7a"/>
<polygon points="-2,29 70,74 110,96 73,69 1,24" fill="#808080"/>
<polygon points="20,47 88,92 126,114 91,88 23,43" fill="#828282"/>
<polygon points="5,36 65,74 98,92 67,70 7,32" fill="#6a6a6a"/>
<polygon points="497,354 526,426 544,464 530,424 501,352" fill="#6a6a6a"/>
<polygon points="509,374 533,432 548,462 536,430 512,372" fill="#757575"/>
<polygon points="552,463 529,410 514,382 524,412 546,465" fill="#686868"/>
<polygon points="547,471 514,390 494,348 509,392 541,473" fill="#6d6d6d"/>
<polygon points="486,357 516,415 535,445 521,412 492,354" fill="#6f6f6f"/>
<polygon points="545,460 518,402 502,372 513,404 538,463" fill="#6b6b6b"/>
<polygon points="550,490 516,402 496,355 512,403 545,492" fill="#7b7b7b"/>
<polygon points="535,423 515,371 501,343 509,373 528,425" fill="#7c7c7c"/>
<polygon points="478,-7 544,96 581,151 546,94 481,-9" fill="#686868"/>
<polygon points="477,-18 543,100 580,163 547,98 483,-21" fill="#747474"/>
<polygon points="592,152 532,54 498,3 529,56 589,153" fill="#696969"/>
<polygon points="559,333 638,327 680,322 638,323 559,328" fill="#747474"/>
<polygon points="692,326 574,327 510,329 574,332 692,332" fill="#686868"/>
<polygon points="526,333 635,329 693,326 635,326 526,329" fill="#6d6d6d"/>
<polygon points="667,321 588,327 545,332 588,331 668,325" fill="#878787"/>
<polygon points="723,329 617,330 559,332 617,334 723,333" fill="#848484"/>
<polygon points="334,58 372,19 392,-3 370,17 332,56" fill="#737373"/>
<polygon points="354,59 391,15 410,-10 388,12 350,55" fill="#767676"/>
<polygon points="330,74 362,34 377,12 358,32 326,71" fill="#818181"/>
<polygon points="49,286 68,236 75,207 62,234 42,284" fill="#6e6e6e"/>
<polygon points="66,199 50,257 44,289 54,258 70,200" fill="#7c7c7c"/>
<polygon points="75,191 61,231 57,254 67,233 81,193" fill="#797979"/>
<polygon points="77,187 60,241 52,270 63,242 81,189" fill="#7a7a7a"/>
<polygon points="75,191 57,248 48,280 59,249 78,192" fill="#808080"/>
<polygon points="305,120 312,183 317,217 315,183 309,120" fill="#848484"/>
<polygon points="324,144 327,193 330,219 332,193 330,144" fill="#818181"/>
<polygon points="327,137 329,188 331,215 332,188 330,137" fill="#888888"/>
<polygon points="310,141 313,183 315,206 316,183 314,141" fill="#7a7a7a"/>
<polygon points="321,208 320,164 316,141 314,164 314,208" fill="#6a6a6a"/>
<polygon points="478,575 452,489 437,443 449,490 474,577" fill="#6c6c6c"/>
<polygon points="480,570 446,477 427,427 444,478 478,571" fill="#7a7a7a"/>
<polygon points="419,423 449,506 467,550 453,505 423,421" fill="#6e6e6e"/>
<polygon points="480,566 450,497 432,460 446,499 475,568" fill="#767676"/>
<polygon points="426,456 448,515 461,546 451,514 430,455" fill="#7a7a7a"/>
<polygon points="440,468 460,529 474,560 465,527 446,466" fill="#707070"/>
<polygon points="475,557 449,491 432,457 443,494 469,560" fill="#666666"/>
<polygon points="123,-16 28,-27 -24,-32 27,-24 123,-12" fill="#868686"/>
<polygon points="19,-22 98,-10 141,-6 99,-16 20,-29" fill="#7a7a7a"/>
<polygon points="-60,-31 71,-20 142,-16 71,-25 -60,-36" fill="#6e6e6e"/>
<polygon points="7,-20 121,-4 182,3 121,-8 7,-25" fill="#898989"/>
<polygon points="158,5 66,-6 15,-11 65,-3 158,9" fill="#7a7a7a"/>
<polygon points="186,1 70,-14 7,-20 69,-9 186,8" fill="#727272"/>
<polygon points="146,-10 12,-22 -60,-27 12,-18 145,-5" fill="#6a6a6a"/>
<polygon points="279,117 221,174 191,206 223,176 281,120" fill="#747474"/>
<polygon points="165,245 244,168 286,125 242,166 162,242" fill="#797979"/>
<polygon points="244,153 189,203 162,232 193,208 249,159" fill="#787878"/>
<polygon points="555,463 494,419 460,397 492,422 553,467" fill="#898989"/>
<polygon points="580,474 520,435 487,414 519,437 578,477" fill="#717171"/>
<polygon points="470,407 537,465 574,495 540,462 473,404" fill="#898989"/>
<polygon points="491,425 538,455 565,470 540,452 494,421" fill="#8a8a8a"/>
<polygon points="459,404 522,448 557,471 524,445 461,401" fill="#747474"/>
<polygon points="479,416 526,446 552,460 528,443 481,413" fill="#848484"/>
<polygon points="181,346 129,314 99,299 126,319 177,352" fill="#7c7c7c"/>
<polygon points="165,341 121,313 95,299 118,317 161,347" fill="#888888"/>
<polygon points="93,310 146,340 175,353 149,335 97,304" fill="#6f6f6f"/>
<polygon points="84,291 149,332 185,352 151,328 87,286" fill="#858585"/>
<polygon points="292,-7 281,55 276,89 284,56 295,-7" fill="#6e6e6e"/>
<polygon points="283,95 293,43 297,15 290,43 279,94" fill="#6a6a6a"/>
<polygon points="286,71 294,24 296,-1 289,23 281,70" fill="#6f6f6f"/>
<polygon points="281,75 293,26 297,-1 288,25 275,74" fill="#717171"/>
<polygon points="286,103 290,48 290,18 285,48 279,103" fill="#7a7a7a"/>
<polygon points="294,15 287,63 285,90 291,64 299,16" fill="#838383"/>
<polygon points="-18,106 36,64 64,41 34,62 -21,103" fill="#686868"/>
<polygon points="-14,107 48,54 81,24 46,51 -17,104" fill="#696969"/>
<polygon points="10,88 71,39 103,10 68,35 5,83" fill="#7a7a7a"/>
<polygon points="81,435 185,457 242,467 186,453 82,431" fill="#767676"/>
<polygon points="86,440 195,459 254,466 196,453 87,434" fill="#727272"/>
<polygon points="259,471 188,457 149,451 187,461 258,476" fill="#727272"/>
<polygon points="218,466 152,454 116,450 151,458 218,470" fill="#6e6e6e"/>
<polygon points="516,328 447,404 410,446 449,406 519,330" fill="#868686"/>
<polygon points="474,243 502,297 519,326 506,296 478,240" fill="#797979"/>
<polygon points="463,230 491,288 508,319 495,286 468,227" fill="#7e7e7e"/>
<polygon points="475,218 500,276 515,306 503,274 478,216" fill="#777777"/>
<polygon points="477,236 506,295 523,325 510,293 482,234" fill="#7b7b7b"/>
<polygon points="513,298 490,247 476,221 486,249 508,300" fill="#6c6c6c"/>
<polygon points="505,317 484,274 473,251 482,275 502,318" fill="#707070"/>
<polygon points="511,298 483,242 466,213 478,244 505,301" fill="#6e6e6e"/>
<polygon points="498,379 455,355 431,344 452,359 495,384" fill="#878787"/>
<polygon points="434,347 480,375 505,389 481,373 436,345" fill="#8a8a8a"/>
<polygon points="178,33 222,-4 245,-25 220,-6 176,31" fill="#8b8b8b"/>
<polygon points="246,-20 190,23 162,47 193,26 249,-16" fill="#7f7f7f"/>
<polygon points="170,30 225,-7 253,-28 223,-10 168,26" fill="#777777"/>
<polygon points="161,44 211,14 237,-2 209,12 159,41" fill="#787878"/>
<polygon points="159,43 215,8 244,-13 213,4 156,38" fill="#7b7b7b"/>
<polygon points="249,-40 204,-3 181,18 207,0 252,-36" fill="#757575"/>
<polygon points="162,31 203,4 224,-13 200,-1 159,26" fill="#8a8a8a"/>
<polygon points="78,289 9,239 -30,214 6,242 75,292" fill="#828282"/>
<polygon points="-21,219 46,266 83,291 48,263 -18,215" fill="#7c7c7c"/>
<polygon points="119,312 7,237 -55,198 4,241 116,317" fill="#6d6d6d"/>
<polygon points="-14,230 85,304 140,341 89,299 -9,224" fill="#878787"/>
<polygon points="346,155 384,121 403,102 382,119 343,152" fill="#898989"/>
<polygon points="387,122 355,146 339,161 358,150 391,127" fill="#828282"/>
<polygon points="397,115 360,145 342,163 364,149 401,120" fill="#747474"/>
<polygon points="345,158 369,137 380,124 366,133 341,154" fill="#787878"/>
<polygon points="344,167 385,130 405,109 382,128 341,164" fill="#8b8b8b"/>
<polygon points="381,117 344,147 326,165 347,151 385,122" fill="#888888"/>
<polygon points="383,115 356,142 343,158 360,146 388,120" fill="#767676"/>
<polygon points="515,177 568,206 598,219 571,201 518,171" fill="#7c7c7c"/>
<polygon points="590,226 531,194 497,178 528,199 587,233" fill="#8c8c8c"/>
<polygon points="512,182 553,208 575,222 554,206 514,179" fill="#828282"/>
<polygon points="597,221 526,176 487,154 523,180 594,226" fill="#7d7d7d"/>
<polygon points="589,223 516,184 475,165 514,188 587,227" fill="#838383"/>
<polygon points="507,186 550,212 574,225 552,209 510,183" fill="#6e6e6e"/>
<polygon points="487,174 556,208 594,225 558,204 490,169" fill="#767676"/>
<polygon points="441,362 382,302 348,272 378,306 437,366" fill="#7f7f7f"/>
<polygon points="316,254 372,308 403,335 374,305 319,251" fill="#737373"/>
<polygon points="434,358 392,312 369,288 390,314 430,361" fill="#797979"/>
<polygon points="348,269 410,333 445,366 413,330 351,266" fill="#777777"/>
<polygon points="409,331 355,281 324,255 351,285 405,336" fill="#7f7f7f"/>
<polygon points="333,260 386,310 416,336 389,307 336,257" fill="#868686"/>
<polygon points="425,353 379,303 353,278 377,306 422,356" fill="#7c7c7c"/>
<polygon points="231,305 262,311 279,312 262,308 232,301" fill="#808080"/>
<polygon points="218,305 257,313 278,315 258,309 219,300" fill="#767676"/>
<polygon points="468,35 405,88 371,117 406,89 470,37" fill="#7c7c7c"/>
<polygon points="392,107 457,57 491,29 454,54 389,102" fill="#6a6a6a"/>
<polygon points="487,12 423,75 391,111 427,79 492,17" fill="#7f7f7f"/>
<polygon points="390,108 430,69 451,48 428,67 387,105" fill="#6a6a6a"/>
<polygon points="494,17 428,77 394,110 430,79 496,20" fill="#6d6d6d"/>
<polygon points="327,-80 301,-12 289,26 306,-10 333,-78" fill="#878787"/>
<polygon points="325,-68 300,-11 288,20 303,-10 328,-67" fill="#6c6c6c"/>
<polygon points="291,16 312,-22 322,-43 309,-24 287,14" fill="#747474"/>
<polygon points="320,-47 297,4 286,32 301,6 325,-44" fill="#888888"/>
<polygon points="302,2 319,-39 326,-63 314,-42 296,-1" fill="#777777"/>
<polygon points="293,27 319,-37 332,-72 316,-38 289,25" fill="#828282"/>
<polygon points="186,130 143,115 119,108 142,119 184,136" fill="#828282"/>
<polygon points="119,99 165,117 191,124 167,112 121,94" fill="#848484"/>
<polygon points="120,111 160,125 182,130 161,121 121,107" fill="#7e7e7e"/>
<polygon points="190,133 154,119 134,113 153,122 189,136" fill="#757575"/>
<polygon points="125,106 165,119 188,124 167,114 127,101" fill="#868686"/>
<polygon points="186,124 132,108 103,102 131,112 185,127" fill="#6d6d6d"/>
<polygon points="538,440 589,406 616,387 587,403 535,436" fill="#7c7c7c"/>
<polygon points="585,393 525,429 494,450 528,433 588,398" fill="#747474"/>
<polygon points="635,361 554,412 511,441 556,415 637,364" fill="#717171"/>
<polygon points="494,445 564,412 601,392 563,409 493,442" fill="#747474"/>
<polygon points="520,445 581,409 612,387 578,404 516,438" fill="#707070"/>
<polygon points="528,424 580,396 606,379 577,391 525,418" fill="#8c8c8c"/>
<polygon points="501,435 588,393 635,369 587,389 499,430" fill="#808080"/>
<polygon points="518,429 577,397 608,377 574,392 515,423" fill="#717171"/>
<polygon points="502,454 583,411 626,387 582,409 501,451" fill="#858585"/>
<polygon points="620,363 546,403 508,426 549,408 623,370" fill="#818181"/>
<polygon points="601,247 661,316 695,352 665,313 605,243" fill="#828282"/>
<polygon points="605,245 656,294 685,319 660,291 610,241" fill="#818181"/>
<polygon points="406,58 395,148 390,196 398,148 410,59" fill="#797979"/>
<polygon points="382,200 391,90 394,30 387,90 378,200" fill="#7e7e7e"/>
<polygon points="400,177 407,94 408,50 401,94 393,176" fill="#747474"/>
<polygon points="408,10 385,129 375,194 389,130 412,11" fill="#727272"/>
<polygon points="409,37 397,126 392,174 402,126 415,38" fill="#7d7d7d"/>
<polygon points="372,206 396,68 407,-6 393,67 368,205" fill="#8a8a8a"/>
<polygon points="502,255 500,214 497,192 496,214 497,255" fill="#898989"/>
<polygon points="495,167 499,219 503,247 503,219 501,167" fill="#6f6f6f"/>
<polygon points="520,-50 654,-22 726,-8 654,-24 521,-53" fill="#818181"/>
<polygon points="736,15 615,-41 549,-70 614,-38 734,18" fill="#737373"/>
<polygon points="554,-46 663,-14 722,0 665,-20 556,-52" fill="#858585"/>
<polygon points="742,5 628,-30 566,-47 627,-27 741,8" fill="#838383"/>
<polygon points="562,-42 670,-10 729,5 672,-15 564,-48" fill="#6d6d6d"/>
<polygon points="604,-32 695,-3 745,10 697,-8 606,-37" fill="#777777"/>
<polygon points="564,-38 648,-18 694,-9 650,-23 565,-45" fill="#787878"/>
<polygon points="756,11 635,-27 570,-45 634,-23 754,16" fill="#898989"/>
<polygon points="80,369 84,317 83,289 78,316 73,369" fill="#8b8b8b"/>
<polygon points="82,345 81,302 80,278 79,302 79,345" fill="#767676"/>
<polygon points="110,473 63,507 39,527 66,511 113,477" fill="#6d6d6d"/>
<polygon points="112,474 40,530 2,561 41,533 114,477" fill="#707070"/>
<polygon points="115,467 51,516 18,544 53,519 117,470" fill="#7b7b7b"/>
<polygon points="14,552 94,493 137,460 93,491 12,550" fill="#7b7b7b"/>
<polygon points="571,256 443,219 374,201 442,224 569,263" fill="#888888"/>
<polygon points="563,257 462,222 406,206 460,227 561,263" fill="#8b8b8b"/>
<polygon points="509,249 433,230 392,222 432,235 508,256" fill="#7a7a7a"/>
<polygon points="390,220 483,235 534,241 484,230 391,214" fill="#737373"/>
<polygon points="539,454 456,449 411,449 456,455 539,460" fill="#737373"/>
<polygon points="497,461 422,456 382,454 422,459 496,465" fill="#7f7f7f"/>
<polygon points="341,453 461,457 526,458 461,454 341,449" fill="#818181"/>
<polygon points="369,448 448,454 491,456 449,450 369,443" fill="#8a8a8a"/>
<polygon points="142,167 235,200 286,216 237,196 143,162" fill="#707070"/>
<polygon points="76,160 198,198 265,217 200,195 77,156" fill="#8f8f8f"/>
<polygon points="246,210 163,184 118,173 162,190 244,217" fill="#7a7a7a"/>
<polygon points="269,210 145,177 78,162 144,182 268,215" fill="#727272"/>
<polygon points="457,414 426,428 409,436 427,430 459,417" fill="#7f7f7f"/>
<polygon points="467,416 421,437 396,450 422,441 469,420" fill="#838383"/>
<polygon points="416,441 448,426 465,415 447,422 414,437" fill="#7d7d7d"/>
<polygon points="470,406 438,426 422,438 441,430 474,412" fill="#828282"/>
<polygon points="412,431 448,412 466,400 446,407 409,425" fill="#8e8e8e"/>
<polygon points="110,4 34,46 -7,70 36,49 113,8" fill="#7f7f7f"/>
<polygon points="-21,83 65,20 110,-16 62,16 -24,79" fill="#818181"/>
<polygon points="-57,107 44,46 97,11 41,41 -60,101" fill="#868686"/>
<polygon points="103,4 26,47 -15,72 28,51 105,8" fill="#888888"/>
<polygon points="94,6 13,55 -29,84 16,59 97,10" fill="#6f6f6f"/>
<polygon points="112,-5 34,46 -8,75 36,50 116,0" fill="#757575"/>
<polygon points="267,212 306,186 326,170 303,182 264,206" fill="#717171"/>
<polygon points="321,168 265,207 236,230 268,211 324,173" fill="#7c7c7c"/>
<polygon points="249,226 299,195 326,177 298,193 248,223" fill="#8c8c8c"/>
<polygon points="548,4 473,-32 432,-49 471,-27 545,9" fill="#717171"/>
<polygon points="452,-44 520,-4 558,16 522,-8 454,-48" fill="#737373"/>
<polygon points="476,-31 525,0 553,14 528,-5 480,-37" fill="#6f6f6f"/>
<polygon points="499,262 518,223 526,200 513,220 493,259" fill="#777777"/>
<polygon points="521,188 498,230 487,254 501,232 525,190" fill="#808080"/>
<polygon points="524,207 503,245 493,266 506,247 527,209" fill="#888888"/>
<polygon points="501,270 521,227 531,203 519,226 499,269" fill="#7e7e7e"/>
<polygon points="398,70 472,166 514,217 476,163 403,66" fill="#858585"/>
<polygon points="393,70 445,136 475,170 449,133 398,66" fill="#919191"/>
<polygon points="383,57 474,162 524,217 477,159 388,54" fill="#6f6f6f"/>
<polygon points="497,472 445,466 417,465 445,469 496,475" fill="#747474"/>
<polygon points="399,462 454,465 484,466 454,463 399,459" fill="#717171"/>
<polygon points="394,463 453,467 484,466 453,461 395,456" fill="#7e7e7e"/>
<polygon points="513,465 439,464 399,466 439,469 513,471" fill="#8d8d8d"/>
<polygon points="397,473 454,475 484,473 454,469 397,466" fill="#8d8d8d"/>
<polygon points="489,477 413,473 372,473 413,479 488,484" fill="#7c7c7c"/>
<polygon points="483,481 427,479 397,480 427,483 483,486" fill="#838383"/>
<polygon points="499,481 439,479 406,480 438,484 499,486" fill="#7f7f7f"/>
<polygon points="437,334 339,361 287,378 340,366 439,340" fill="#6e6e6e"/>
<polygon points="474,331 344,364 275,384 345,368 475,335" fill="#898989"/>
<polygon points="320,378 398,353 439,338 396,349 318,373" fill="#737373"/>
<polygon points="482,326 372,360 314,379 373,362 483,329" fill="#747474"/>
<polygon points="24,336 73,229 98,171 69,227 18,334" fill="#919191"/>
<polygon points="30,319 82,215 109,159 78,213 25,317" fill="#737373"/>
<polygon points="96,193 66,262 52,300 70,263 100,195" fill="#787878"/>
<polygon points="478,298 428,279 400,271 426,284 475,303" fill="#757575"/>
<polygon points="466,304 413,282 383,271 412,284 465,307" fill="#6f6f6f"/>
<polygon points="55,63 47,142 44,184 51,142 60,63" fill="#808080"/>
<polygon points="45,171 48,114 48,83 45,113 42,171" fill="#717171"/>
<polygon points="49,154 57,88 58,52 51,87 42,153" fill="#7d7d7d"/>
<polygon points="50,51 44,129 42,171 47,129 54,51" fill="#838383"/>
<polygon points="45,187 51,117 52,80 46,117 39,186" fill="#8f8f8f"/>
<polygon points="53,169 56,102 55,65 50,101 46,169" fill="#828282"/>
<polygon points="55,78 47,131 43,160 49,131 58,78" fill="#8b8b8b"/>
<polygon points="224,223 151,247 112,261 153,252 226,229" fill="#6f6f6f"/>
<polygon points="154,246 207,230 235,219 205,226 152,241" fill="#808080"/>
<polygon points="235,215 182,231 153,242 183,236 237,220" fill="#747474"/>
<polygon points="214,230 169,243 145,252 170,248 215,236" fill="#8c8c8c"/>
<polygon points="211,231 156,246 126,256 157,251 212,236" fill="#8b8b8b"/>
<polygon points="228,212 178,229 151,241 179,234 230,217" fill="#717171"/>
<polygon points="228,211 175,230 147,243 177,235 230,217" fill="#707070"/>
<polygon points="139,248 181,235 203,227 180,231 137,243" fill="#747474"/>
<polygon points="61,389 55,336 49,308 51,337 57,390" fill="#7a7a7a"/>
<polygon points="35,320 42,368 48,394 47,368 40,319" fill="#808080"/>
<polygon points="48,305 52,359 57,388 58,359 55,305" fill="#8e8e8e"/>
<polygon points="51,384 45,338 40,314 40,339 44,385" fill="#7a7a7a"/>
<polygon points="56,404 50,350 44,321 45,351 51,405" fill="#8b8b8b"/>
<polygon points="59,401 56,354 53,328 54,354 56,401" fill="#777777"/>
<polygon points="661,321 610,298 581,288 608,303 658,327" fill="#737373"/>
<polygon points="236,-75 251,-26 261,1 255,-27 241,-77" fill="#8c8c8c"/>
<polygon points="233,-68 254,-17 267,10 259,-19 239,-70" fill="#717171"/>
<polygon points="268,-5 256,-43 248,-63 252,-41 263,-3" fill="#8a8a8a"/>
<polygon points="229,-69 250,-17 264,10 255,-19 235,-72" fill="#787878"/>
<polygon points="232,-72 254,-13 268,19 258,-14 236,-74" fill="#7b7b7b"/>
<polygon points="243,-55 258,-10 267,15 261,-11 247,-56" fill="#8d8d8d"/>
<polygon points="687,214 648,211 627,211 648,216 686,221" fill="#848484"/>
<polygon points="542,92 488,123 459,141 490,127 545,97" fill="#7e7e7e"/>
<polygon points="466,143 524,113 554,95 521,108 463,137" fill="#919191"/>
<polygon points="283,278 361,383 404,440 363,382 285,276" fill="#797979"/>
<polygon points="402,426 337,349 301,308 334,351 399,429" fill="#8b8b8b"/>
<polygon points="316,312 368,377 397,410 371,374 320,309" fill="#8e8e8e"/>
<polygon points="94,263 112,203 120,170 108,202 90,262" fill="#8f8f8f"/>
<polygon points="112,179 102,218 98,240 106,219 117,180" fill="#8a8a8a"/>
<polygon points="95,254 112,194 119,162 107,193 90,252" fill="#717171"/>
<polygon points="104,242 118,194 123,167 113,192 98,240" fill="#8e8e8e"/>
<polygon points="100,242 117,183 125,151 113,182 95,241" fill="#7d7d7d"/>
<polygon points="91,39 127,55 147,62 129,50 94,33" fill="#777777"/>
<polygon points="144,65 107,43 85,33 105,46 142,69" fill="#7c7c7c"/>
<polygon points="143,61 100,41 76,32 99,44 142,64" fill="#767676"/>
<polygon points="139,63 98,46 75,38 97,49 138,67" fill="#939393"/>
<polygon points="86,36 125,53 147,60 127,48 88,31" fill="#7e7e7e"/>
<polygon points="63,26 122,54 155,68 123,52 64,23" fill="#888888"/>
<polygon points="82,38 132,59 160,68 134,54 84,32" fill="#717171"/>
<polygon points="663,-19 615,-29 589,-33 614,-25 662,-14" fill="#717171"/>
<polygon points="590,-23 642,-19 670,-20 642,-25 590,-30" fill="#7b7b7b"/>
<polygon points="610,-17 645,-10 665,-9 646,-15 611,-22" fill="#727272"/>
<polygon points="671,-10 634,-17 614,-20 633,-14 670,-7" fill="#8b8b8b"/>
<polygon points="354,330 379,423 394,472 382,422 358,329" fill="#949494"/>
<polygon points="368,351 388,447 402,498 394,446 374,349" fill="#717171"/>
<polygon points="294,404 372,366 413,344 371,364 293,401" fill="#7f7f7f"/>
<polygon points="377,352 313,387 280,407 315,390 379,356" fill="#929292"/>
<polygon points="293,406 349,377 378,360 347,372 290,400" fill="#727272"/>
<polygon points="235,93 155,63 112,48 154,67 233,98" fill="#909090"/>
<polygon points="220,99 110,55 49,32 108,58 218,104" fill="#828282"/>
<polygon points="572,301 655,305 700,305 655,302 572,298" fill="#939393"/>
<polygon points="693,304 607,300 560,299 607,303 693,307" fill="#7d7d7d"/>
<polygon points="565,302 697,309 768,311 697,305 565,297" fill="#8b8b8b"/>
<polygon points="603,301 684,307 728,308 684,303 603,296" fill="#787878"/>
<polygon points="553,288 664,301 723,305 664,295 553,281" fill="#737373"/>
<polygon points="730,305 638,298 588,295 638,301 729,309" fill="#777777"/>
<polygon points="731,299 646,293 601,290 646,295 731,303" fill="#898989"/>
<polygon points="668,60 624,42 599,34 622,47 666,66" fill="#7b7b7b"/>
<polygon points="665,62 638,50 623,46 636,55 662,67" fill="#939393"/>
<polygon points="675,55 639,39 618,33 637,44 672,61" fill="#7a7a7a"/>
<polygon points="671,62 632,46 611,38 632,48 670,65" fill="#8a8a8a"/>
<polygon points="628,46 657,57 673,60 659,51 630,40" fill="#909090"/>
<polygon points="653,240 700,230 725,222 699,224 651,233" fill="#858585"/>
<polygon points="648,237 696,227 721,220 695,222 647,230" fill="#919191"/>
<polygon points="726,219 676,229 650,237 677,234 727,225" fill="#808080"/>
<polygon points="631,242 682,231 708,222 680,225 630,236" fill="#737373"/>
<polygon points="706,222 665,232 642,238 665,234 707,225" fill="#8f8f8f"/>
<polygon points="227,536 256,495 270,472 253,493 224,534" fill="#7e7e7e"/>
<polygon points="224,520 254,483 269,462 252,481 221,517" fill="#848484"/>
<polygon points="230,527 256,496 268,478 253,493 226,524" fill="#7b7b7b"/>
<polygon points="225,529 247,502 257,486 243,499 220,525" fill="#7f7f7f"/>
<polygon points="273,461 246,496 233,516 249,499 277,465" fill="#797979"/>
<polygon points="553,243 583,219 598,206 581,217 551,241" fill="#939393"/>
<polygon points="587,204 547,233 527,250 550,237 590,209" fill="#868686"/>
<polygon points="532,250 571,220 591,202 569,218 530,248" fill="#8d8d8d"/>
<polygon points="363,89 426,94 460,95 426,90 363,84" fill="#747474"/>
<polygon points="463,82 418,80 394,82 418,86 463,88" fill="#747474"/>
<polygon points="372,90 426,91 456,89 426,86 372,84" fill="#868686"/>
<polygon points="468,86 403,78 368,77 403,84 467,93" fill="#757575"/>
<polygon points="396,89 440,93 464,94 440,90 396,86" fill="#8e8e8e"/>
<polygon points="402,85 444,85 467,83 445,81 402,80" fill="#959595"/>
<polygon points="445,85 400,83 377,84 400,88 444,90" fill="#838383"/>
<polygon points="459,91 416,90 392,91 416,94 459,95" fill="#747474"/>
<polygon points="442,31 407,17 388,10 406,19 440,34" fill="#757575"/>
<polygon points="424,23 391,8 373,2 390,12 422,27" fill="#8f8f8f"/>
<polygon points="450,33 401,11 374,0 399,14 448,37" fill="#878787"/>
<polygon points="384,11 429,31 453,39 431,26 387,5" fill="#858585"/>
<polygon points="72,257 133,256 166,255 133,253 72,252" fill="#757575"/>
<polygon points="366,92 436,120 475,133 438,115 368,86" fill="#7a7a7a"/>
<polygon points="292,304 207,325 162,339 208,330 293,309" fill="#7b7b7b"/>
<polygon points="184,326 245,312 278,302 244,307 182,320" fill="#888888"/>
<polygon points="127,350 214,328 260,314 213,323 126,345" fill="#797979"/>
<polygon points="257,305 191,323 155,334 191,326 258,307" fill="#8b8b8b"/>
<polygon points="513,106 371,73 294,57 370,77 512,111" fill="#989898"/>
<polygon points="350,60 452,92 508,109 453,89 351,56" fill="#949494"/>
<polygon points="502,97 419,80 374,72 418,84 501,102" fill="#787878"/>
<polygon points="342,72 460,105 524,120 461,99 343,66" fill="#868686"/>
<polygon points="1,437 68,460 105,470 70,455 3,431" fill="#919191"/>
<polygon points="88,464 39,444 13,435 38,447 86,468" fill="#7f7f7f"/>
<polygon points="25,445 78,465 108,474 80,461 27,440" fill="#8d8d8d"/>
<polygon points="14,456 74,475 107,482 75,470 16,450" fill="#969696"/>
<polygon points="116,479 66,461 38,454 64,466 115,485" fill="#7d7d7d"/>
<polygon points="106,472 41,450 5,440 39,455 104,479" fill="#878787"/>
<polygon points="1,436 73,463 112,476 74,461 2,433" fill="#8e8e8e"/>
<polygon points="77,343 143,346 178,346 143,341 77,336" fill="#959595"/>
<polygon points="179,328 116,325 82,325 116,328 179,331" fill="#848484"/>
<polygon points="192,335 112,332 69,332 112,335 192,339" fill="#979797"/>
<polygon points="203,325 118,324 72,326 118,328 203,328" fill="#808080"/>
<polygon points="187,344 102,338 56,337 101,342 186,348" fill="#949494"/>
<polygon points="86,333 151,334 186,332 152,329 87,326" fill="#7e7e7e"/>
<polygon points="77,338 151,337 190,334 151,331 77,331" fill="#777777"/>
<polygon points="171,337 86,337 41,339 86,340 171,340" fill="#8d8d8d"/>
<polygon points="666,293 558,317 501,332 559,321 667,297" fill="#8b8b8b"/>
<polygon points="651,318 534,332 470,341 534,335 652,322" fill="#838383"/>
<polygon points="627,314 514,330 453,342 514,336 628,321" fill="#7d7d7d"/>
<polygon points="481,335 582,325 636,317 581,321 481,331" fill="#7f7f7f"/>
<polygon points="272,46 238,67 220,79 239,69 274,49" fill="#949494"/>
<polygon points="281,43 251,61 235,72 253,65 284,49" fill="#8f8f8f"/>
<polygon points="234,75 263,60 277,49 260,55 231,69" fill="#828282"/>
<polygon points="269,40 240,57 226,68 242,61 272,45" fill="#989898"/>
<polygon points="274,43 236,65 216,78 238,69 277,48" fill="#7f7f7f"/>
<polygon points="458,399 422,373 401,360 418,377 453,405" fill="#979797"/>
<polygon points="410,380 443,400 462,409 445,397 412,376" fill="#8c8c8c"/>
<polygon points="479,429 431,397 403,382 428,402 476,434" fill="#8f8f8f"/>
<polygon points="407,368 451,400 476,415 454,396 410,363" fill="#8c8c8c"/>
<polygon points="385,362 431,397 456,416 432,395 387,359" fill="#939393"/>
<polygon points="473,431 416,392 386,371 415,394 471,433" fill="#838383"/>
<polygon points="226,165 148,213 107,240 150,216 228,169" fill="#7f7f7f"/>
<polygon points="92,255 173,207 216,180 172,205 90,252" fill="#868686"/>
<polygon points="519,215 603,199 648,188 602,195 518,212" fill="#888888"/>
<polygon points="363,377 422,470 456,518 427,467 368,373" fill="#8f8f8f"/>
<polygon points="383,408 426,478 451,514 431,475 390,405" fill="#8c8c8c"/>
<polygon points="729,317 652,283 610,267 650,287 727,322" fill="#808080"/>
<polygon points="619,281 685,303 721,313 687,298 622,275" fill="#959595"/>
<polygon points="601,274 668,296 704,306 669,291 603,268" fill="#818181"/>
<polygon points="735,317 666,296 628,287 664,301 733,323" fill="#8a8a8a"/>
<polygon points="589,268 661,299 701,314 663,296 591,264" fill="#7a7a7a"/>
<polygon points="615,286 695,309 739,319 696,304 617,280" fill="#8d8d8d"/>
<polygon points="504,147 424,176 382,192 425,178 505,150" fill="#777777"/>
<polygon points="124,331 65,305 33,293 63,309 122,335" fill="#777777"/>
<polygon points="43,303 93,324 121,334 95,321 45,299" fill="#999999"/>
<polygon points="16,285 70,313 99,327 72,310 18,280" fill="#949494"/>
<polygon points="32,294 98,323 133,337 99,320 33,291" fill="#888888"/>
<polygon points="107,318 40,295 3,284 38,299 106,323" fill="#828282"/>
<polygon points="111,322 54,298 22,287 52,302 109,327" fill="#8b8b8b"/>
<polygon points="19,287 88,320 125,336 89,317 21,283" fill="#8f8f8f"/>
<polygon points="169,386 80,373 32,367 80,376 169,389" fill="#909090"/>
<polygon points="145,395 73,380 33,374 72,385 143,401" fill="#8c8c8c"/>
<polygon points="149,388 98,377 69,373 97,381 148,393" fill="#8f8f8f"/>
<polygon points="146,381 77,369 40,365 76,375 145,387" fill="#848484"/>
<polygon points="652,15 685,40 705,52 689,36 656,9" fill="#8a8a8a"/>
<polygon points="636,4 667,33 686,46 671,29 640,0" fill="#959595"/>
<polygon points="646,11 691,52 716,74 692,51 648,9" fill="#7d7d7d"/>
<polygon points="697,51 653,11 628,-9 650,14 694,54" fill="#868686"/>
<polygon points="642,6 677,39 697,55 680,36 646,2" fill="#888888"/>
<polygon points="711,62 662,16 634,-7 658,20 707,67" fill="#868686"/>
<polygon points="655,16 685,42 703,56 687,40 657,13" fill="#858585"/>
<polygon points="400,135 380,42 367,-8 375,43 394,136" fill="#979797"/>
<polygon points="372,11 390,83 401,121 393,82 376,10" fill="#808080"/>
<polygon points="399,118 379,19 367,-35 376,19 395,119" fill="#919191"/>
<polygon points="407,126 383,34 369,-15 380,35 403,127" fill="#909090"/>
<polygon points="211,269 287,285 327,291 287,281 212,266" fill="#797979"/>
<polygon points="319,285 266,276 238,273 266,280 318,290" fill="#858585"/>
<polygon points="208,266 287,280 330,286 288,277 209,262" fill="#808080"/>
<polygon points="340,288 265,274 224,268 264,278 339,294" fill="#797979"/>
<polygon points="301,285 237,270 202,264 236,274 300,290" fill="#909090"/>
<polygon points="231,268 294,281 328,287 295,278 232,264" fill="#848484"/>
<polygon points="230,-4 197,-3 179,1 197,2 230,1" fill="#7e7e7e"/>
<polygon points="224,-7 191,-3 173,1 191,2 225,-1" fill="#999999"/>
<polygon points="155,4 204,-2 230,-8 203,-7 154,-1" fill="#8b8b8b"/>
<polygon points="163,5 209,1 233,-4 208,-4 162,-1" fill="#848484"/>
<polygon points="166,3 203,1 223,-1 203,-2 166,-1" fill="#8d8d8d"/>
<polygon points="234,-1 193,4 171,9 194,9 235,6" fill="#919191"/>
<polygon points="221,-8 175,-3 151,2 175,1 221,-4" fill="#808080"/>
<polygon points="177,15 213,7 231,1 212,2 176,9" fill="#888888"/>
<polygon points="531,387 589,355 620,336 587,351 528,382" fill="#8d8d8d"/>
<polygon points="617,336 544,374 505,395 545,376 618,338" fill="#7e7e7e"/>
<polygon points="524,374 589,338 623,318 588,336 523,372" fill="#989898"/>
<polygon points="618,320 530,365 484,391 532,369 620,325" fill="#959595"/>
<polygon points="510,401 586,362 627,339 585,359 508,398" fill="#8d8d8d"/>
<polygon points="654,308 572,353 528,380 573,357 657,312" fill="#858585"/>
<polygon points="594,229 697,187 751,162 694,181 591,223" fill="#8c8c8c"/>
<polygon points="284,389 376,316 424,275 373,312 280,384" fill="#888888"/>
<polygon points="278,412 384,334 440,290 382,331 275,409" fill="#818181"/>
<polygon points="384,297 311,361 274,396 315,365 388,302" fill="#9a9a9a"/>
<polygon points="390,125 474,121 519,117 474,116 390,119" fill="#8c8c8c"/>
<polygon points="328,115 427,104 480,97 426,101 328,111" fill="#797979"/>
<polygon points="550,116 404,115 325,117 404,120 550,122" fill="#858585"/>
<polygon points="488,105 374,106 313,108 374,109 488,109" fill="#7d7d7d"/>
<polygon points="339,120 432,111 482,103 432,106 339,114" fill="#949494"/>
<polygon points="348,123 449,117 504,113 449,115 348,120" fill="#8b8b8b"/>
<polygon points="67,152 131,170 165,177 132,165 69,147" fill="#858585"/>
<polygon points="69,149 146,169 187,176 147,163 71,143" fill="#7e7e7e"/>
<polygon points="51,158 150,171 203,176 150,168 51,154" fill="#929292"/>
<polygon points="89,162 165,178 207,184 166,174 90,158" fill="#787878"/>
<polygon points="180,183 94,157 48,145 94,160 179,185" fill="#797979"/>
<polygon points="222,264 176,245 150,237 175,248 221,267" fill="#8f8f8f"/>
<polygon points="234,265 176,251 144,245 175,256 232,271" fill="#7e7e7e"/>
<polygon points="139,236 192,256 221,265 194,253 141,232" fill="#959595"/>
<polygon points="151,256 198,270 225,276 200,265 153,249" fill="#868686"/>
<polygon points="227,273 191,260 171,254 190,263 225,277" fill="#939393"/>
<polygon points="36,161 66,242 84,285 70,241 41,159" fill="#929292"/>
<polygon points="76,325 48,205 32,141 45,206 71,326" fill="#9b9b9b"/>
<polygon points="68,303 35,188 15,127 31,189 65,305" fill="#858585"/>
<polygon points="78,292 52,193 36,139 47,194 72,294" fill="#8e8e8e"/>
<polygon points="75,317 38,182 17,109 35,182 71,318" fill="#7a7a7a"/>
<polygon points="124,150 184,213 218,245 188,209 128,145" fill="#8c8c8c"/>
<polygon points="106,146 160,193 190,216 163,189 110,142" fill="#848484"/>
<polygon points="567,354 434,378 362,393 435,383 568,360" fill="#9b9b9b"/>
<polygon points="535,368 436,370 382,372 436,373 535,372" fill="#929292"/>
<polygon points="366,391 488,380 553,372 487,377 366,388" fill="#9a9a9a"/>
<polygon points="422,395 516,385 567,377 516,379 421,388" fill="#8f8f8f"/>
<polygon points="418,380 517,370 570,364 517,368 418,378" fill="#8e8e8e"/>
<polygon points="398,387 516,375 580,367 516,370 397,381" fill="#898989"/>
<polygon points="399,395 521,383 586,375 521,380 399,392" fill="#989898"/>
<polygon points="479,8 437,-2 413,-6 436,2 478,13" fill="#7c7c7c"/>
<polygon points="500,12 432,-6 395,-14 431,-1 498,18" fill="#7f7f7f"/>
<polygon points="419,-4 472,4 501,7 473,1 420,-7" fill="#838383"/>
<polygon points="334,312 351,374 362,407 354,373 337,312" fill="#8f8f8f"/>
<polygon points="368,416 354,371 344,347 349,373 361,418" fill="#8c8c8c"/>
<polygon points="106,53 92,2 81,-24 86,4 100,55" fill="#9d9d9d"/>
<polygon points="91,54 80,7 72,-18 77,8 88,55" fill="#848484"/>
<polygon points="109,63 94,9 84,-20 89,10 103,65" fill="#828282"/>
<polygon points="76,11 83,43 89,60 88,42 82,10" fill="#7f7f7f"/>
<polygon points="69,-4 77,30 83,48 80,29 72,-5" fill="#949494"/>
<polygon points="100,64 89,18 82,-6 85,19 94,65" fill="#8a8a8a"/>
<polygon points="394,321 451,281 481,259 449,278 391,317" fill="#9c9c9c"/>
<polygon points="472,256 415,300 385,326 417,304 476,261" fill="#9d9d9d"/>
<polygon points="470,261 415,301 386,324 417,304 473,265" fill="#8b8b8b"/>
<polygon points="486,254 426,293 395,315 428,296 488,258" fill="#989898"/>
<polygon points="462,475 494,527 513,553 499,524 468,471" fill="#959595"/>
<polygon points="582,113 603,235 615,300 606,234 586,113" fill="#999999"/>
<polygon points="613,324 606,245 601,202 602,245 608,324" fill="#7e7e7e"/>
<polygon points="623,268 611,190 601,149 605,191 617,269" fill="#8d8d8d"/>
<polygon points="69,12 154,28 200,34 155,23 71,5" fill="#989898"/>
<polygon points="87,0 167,20 210,28 168,16 88,-4" fill="#7c7c7c"/>
<polygon points="201,18 116,2 70,-6 116,5 200,23" fill="#939393"/>
<polygon points="231,19 122,2 62,-6 121,6 230,24" fill="#828282"/>
<polygon points="37,1 128,11 178,16 129,8 38,-4" fill="#808080"/>
<polygon points="538,442 437,489 384,516 440,494 541,448" fill="#989898"/>
<polygon points="513,446 440,489 401,514 443,494 517,452" fill="#989898"/>
<polygon points="542,446 437,494 382,523 439,500 545,452" fill="#9d9d9d"/>
<polygon points="379,521 456,488 498,468 455,484 377,517" fill="#9c9c9c"/>
<polygon points="527,455 437,494 389,516 439,497 529,459" fill="#9d9d9d"/>
<polygon points="93,104 220,122 288,129 220,117 94,99" fill="#7e7e7e"/>
<polygon points="98,103 221,112 287,115 221,108 98,99" fill="#959595"/>
<polygon points="85,98 180,107 232,110 181,103 86,93" fill="#989898"/>
<polygon points="276,127 170,115 112,110 169,118 276,131" fill="#8d8d8d"/>
<polygon points="272,109 182,100 133,97 181,106 272,116" fill="#939393"/>
<polygon points="244,115 150,103 100,97 150,106 244,119" fill="#858585"/>
<polygon points="334,65 343,36 346,20 338,34 327,62" fill="#868686"/>
<polygon points="332,57 345,20 349,-1 340,18 326,54" fill="#969696"/>
<polygon points="333,55 345,27 349,11 340,25 327,52" fill="#9a9a9a"/>
<polygon points="344,0 332,35 328,55 338,37 351,2" fill="#969696"/>
<polygon points="341,5 328,45 323,67 331,46 344,6" fill="#8f8f8f"/>
<polygon points="498,133 380,109 316,98 379,113 497,137" fill="#808080"/>
<polygon points="494,146 361,119 289,106 360,122 493,149" fill="#9f9f9f"/>
<polygon points="458,139 378,113 335,101 377,117 457,143" fill="#969696"/>
<polygon points="348,127 440,139 490,143 441,134 349,121" fill="#9a9a9a"/>
<polygon points="347,114 450,144 506,159 451,140 348,109" fill="#818181"/>
<polygon points="342,106 439,132 492,145 440,129 343,102" fill="#8b8b8b"/>
<polygon points="475,139 397,122 354,116 396,128 474,146" fill="#939393"/>
<polygon points="464,243 408,182 376,150 405,185 461,246" fill="#848484"/>
<polygon points="475,236 412,184 377,157 409,187 472,240" fill="#929292"/>
<polygon points="501,283 409,196 358,150 407,198 499,286" fill="#9c9c9c"/>
<polygon points="337,130 439,229 495,281 442,226 341,126" fill="#888888"/>
<polygon points="406,202 477,264 516,296 480,260 410,198" fill="#8d8d8d"/>
<polygon points="409,259 487,286 529,299 488,281 412,253" fill="#898989"/>
<polygon points="394,263 484,291 532,305 485,288 395,259" fill="#8f8f8f"/>
<polygon points="525,304 451,277 410,265 449,281 523,308" fill="#818181"/>
<polygon points="507,295 440,268 404,255 439,271 506,299" fill="#7f7f7f"/>
<polygon points="407,253 468,279 502,292 470,275 409,248" fill="#929292"/>
<polygon points="515,296 436,263 392,248 434,269 513,303" fill="#979797"/>
<polygon points="423,38 451,100 468,132 456,98 429,35" fill="#9a9a9a"/>
<polygon points="419,28 439,77 452,102 444,75 425,25" fill="#8c8c8c"/>
<polygon points="459,106 444,69 434,49 439,71 454,108" fill="#868686"/>
<polygon points="468,119 450,70 438,45 445,72 462,121" fill="#7f7f7f"/>
<polygon points="285,313 253,283 234,268 250,286 282,317" fill="#818181"/>
<polygon points="238,266 267,294 284,307 271,290 243,261" fill="#969696"/>
<polygon points="224,264 267,301 291,319 270,297 229,259" fill="#959595"/>
<polygon points="291,305 255,268 234,250 252,271 288,308" fill="#959595"/>
<polygon points="281,304 251,280 233,269 248,284 277,309" fill="#8d8d8d"/>
<polygon points="298,314 259,279 236,262 255,283 294,319" fill="#979797"/>
<polygon points="303,315 270,283 250,267 266,286 298,319" fill="#838383"/>
<polygon points="233,267 271,306 293,325 275,302 237,263" fill="#979797"/>
<polygon points="512,65 460,75 433,82 461,79 512,70" fill="#838383"/>
<polygon points="407,86 473,66 509,54 472,62 406,81" fill="#9d9d9d"/>
<polygon points="513,50 463,63 436,73 464,69 515,57" fill="#858585"/>
<polygon points="501,46 447,60 419,69 448,63 502,49" fill="#9f9f9f"/>
<polygon points="510,48 463,62 438,72 464,67 511,53" fill="#a0a0a0"/>
<polygon points="445,71 485,63 507,56 484,57 444,64" fill="#949494"/>
<polygon points="243,19 323,40 367,49 325,35 245,12" fill="#818181"/>
<polygon points="356,35 269,8 221,-5 268,11 356,38" fill="#7e7e7e"/>
<polygon points="230,7 310,38 354,53 311,35 231,4" fill="#9d9d9d"/>
<polygon points="234,5 337,47 393,68 338,44 235,1" fill="#9e9e9e"/>
<polygon points="265,21 325,44 359,54 327,40 267,16" fill="#9d9d9d"/>
<polygon points="214,-9 316,38 371,63 317,36 215,-12" fill="#9d9d9d"/>
<polygon points="419,270 485,202 519,164 481,199 415,266" fill="#919191"/>
<polygon points="506,168 442,232 409,268 446,236 510,173" fill="#909090"/>
<polygon points="416,258 487,195 525,161 485,193 413,254" fill="#9f9f9f"/>
<polygon points="411,273 472,220 504,191 470,217 408,269" fill="#9a9a9a"/>
<polygon points="515,161 462,215 435,245 465,217 518,164" fill="#a1a1a1"/>
<polygon points="516,169 449,231 415,266 452,234 518,172" fill="#8e8e8e"/>
<polygon points="519,164 442,234 402,273 445,237 523,169" fill="#878787"/>
<polygon points="577,91 559,170 551,214 562,171 580,91" fill="#828282"/>
<polygon points="576,64 567,125 563,157 570,125 579,65" fill="#868686"/>
<polygon points="564,222 570,125 572,72 567,125 561,222" fill="#7e7e7e"/>
<polygon points="573,97 567,169 565,208 571,169 578,98" fill="#8a8a8a"/>
<polygon points="576,62 567,147 564,193 570,148 579,63" fill="#9d9d9d"/>
<polygon points="221,225 99,195 33,180 98,198 219,229" fill="#9a9a9a"/>
<polygon points="70,189 158,213 206,223 160,207 71,182" fill="#999999"/>
<polygon points="39,182 140,201 194,210 140,198 39,179" fill="#848484"/>
<polygon points="63,191 143,214 187,224 145,209 64,185" fill="#848484"/>
<polygon points="187,222 78,192 19,178 77,197 186,228" fill="#909090"/>
<polygon points="223,220 101,193 35,180 100,197 222,225" fill="#a0a0a0"/>
<polygon points="212,207 94,188 30,180 93,193 211,213" fill="#8d8d8d"/>
<polygon points="560,-19 471,-37 423,-45 470,-34 560,-15" fill="#7f7f7f"/>
<polygon points="422,-17 494,-8 533,-6 495,-14 423,-24" fill="#a0a0a0"/>
<polygon points="554,-21 465,-27 417,-28 465,-24 554,-18" fill="#909090"/>
<polygon points="583,6 496,-11 450,-18 496,-8 582,10" fill="#9c9c9c"/>
<polygon points="451,-29 552,-16 607,-12 553,-22 452,-35" fill="#9b9b9b"/>
<polygon points="228,432 257,473 274,495 259,472 231,429" fill="#878787"/>
<polygon points="210,415 236,456 252,478 241,454 215,411" fill="#888888"/>
<polygon points="295,-88 382,-35 429,-7 383,-37 297,-91" fill="#979797"/>
<polygon points="436,-4 354,-56 309,-82 352,-53 434,-1" fill="#868686"/>
<polygon points="341,-53 414,-12 454,7 416,-17 345,-59" fill="#808080"/>
<polygon points="300,-74 387,-30 435,-9 390,-35 303,-80" fill="#909090"/>
<polygon points="264,552 213,466 183,422 208,469 258,556" fill="#838383"/>
<polygon points="166,386 232,504 269,566 236,501 171,384" fill="#909090"/>
<polygon points="178,417 239,544 274,612 243,542 183,414" fill="#828282"/>
<polygon points="182,429 239,533 272,588 244,531 188,426" fill="#868686"/>
<polygon points="171,388 231,519 265,589 234,518 175,387" fill="#959595"/>
<polygon points="173,420 236,546 272,612 241,543 179,417" fill="#999999"/>
<polygon points="267,572 222,482 196,434 218,484 263,574" fill="#969696"/>
<polygon points="264,551 215,473 188,432 212,475 260,554" fill="#868686"/>
<polygon points="406,465 415,506 422,528 418,506 409,464" fill="#929292"/>
<polygon points="426,542 410,474 399,437 405,475 420,543" fill="#999999"/>
<polygon points="422,527 412,488 405,468 408,489 418,528" fill="#929292"/>
<polygon points="403,461 420,515 430,544 422,514 406,461" fill="#848484"/>
<polygon points="219,247 189,205 171,183 186,207 215,250" fill="#a2a2a2"/>
<polygon points="221,248 188,200 168,174 185,201 218,250" fill="#8c8c8c"/>
<polygon points="169,196 215,259 242,291 220,256 175,192" fill="#888888"/>
<polygon points="167,194 198,243 216,268 202,240 171,191" fill="#919191"/>
<polygon points="13,-62 126,-26 187,-8 127,-29 14,-66" fill="#9d9d9d"/>
<polygon points="55,-47 137,-25 182,-15 138,-30 56,-53" fill="#979797"/>
<polygon points="28,-51 120,-26 170,-14 121,-29 29,-54" fill="#828282"/>
<polygon points="220,-14 93,-40 24,-51 92,-34 219,-7" fill="#8b8b8b"/>
<polygon points="143,-19 61,-44 17,-55 60,-39 141,-14" fill="#939393"/>
<polygon points="224,230 141,191 96,172 140,194 222,234" fill="#929292"/>
<polygon points="132,184 186,209 215,221 188,204 135,178" fill="#848484"/>
<polygon points="109,171 172,199 207,213 174,196 110,167" fill="#a1a1a1"/>
<polygon points="106,174 182,206 224,222 184,204 108,171" fill="#898989"/>
<polygon points="486,16 597,54 657,73 598,51 487,13" fill="#898989"/>
<polygon points="528,19 593,53 629,69 595,49 530,15" fill="#a0a0a0"/>
<polygon points="657,80 582,41 541,22 580,45 654,84" fill="#9d9d9d"/>
<polygon points="658,55 557,11 501,-11 555,16 656,61" fill="#a1a1a1"/>
<polygon points="514,8 584,37 623,51 586,34 516,4" fill="#949494"/>
<polygon points="175,357 56,321 -9,302 55,323 174,360" fill="#a2a2a2"/>
<polygon points="-4,310 108,345 169,363 109,342 -3,307" fill="#8b8b8b"/>
<polygon points="9,313 105,343 157,358 106,340 10,308" fill="#999999"/>
<polygon points="-6,311 91,336 144,347 92,331 -5,305" fill="#a0a0a0"/>
<polygon points="-2,304 114,347 177,368 115,342 0,299" fill="#9b9b9b"/>
<polygon points="173,355 78,328 26,315 77,333 171,361" fill="#969696"/>
<polygon points="40,328 119,349 161,359 119,346 41,324" fill="#8a8a8a"/>
<polygon points="74,569 62,482 53,436 57,483 68,569" fill="#a0a0a0"/>
<polygon points="89,611 61,473 44,399 56,474 84,612" fill="#828282"/>
<polygon points="46,405 58,495 67,543 63,494 52,404" fill="#989898"/>
<polygon points="79,577 52,443 35,371 48,444 75,577" fill="#949494"/>
<polygon points="399,24 460,4 493,-9 459,0 397,20" fill="#a3a3a3"/>
<polygon points="484,-10 410,11 371,24 411,14 485,-6" fill="#9b9b9b"/>
<polygon points="414,18 472,-2 503,-15 471,-5 413,15" fill="#848484"/>
<polygon points="361,37 441,8 483,-8 440,5 359,34" fill="#a1a1a1"/>
<polygon points="392,25 476,0 521,-16 475,-5 390,19" fill="#8f8f8f"/>
<polygon points="219,-1 316,-7 368,-13 315,-11 219,-5" fill="#9a9a9a"/>
<polygon points="237,-7 321,-17 365,-25 320,-23 237,-14" fill="#828282"/>
<polygon points="216,6 306,-6 354,-14 305,-10 215,0" fill="#9f9f9f"/>
<polygon points="375,-34 289,-24 242,-17 289,-21 375,-30" fill="#8f8f8f"/>
<polygon points="234,-14 302,-24 339,-31 302,-29 233,-20" fill="#939393"/>
<polygon points="266,0 326,-14 358,-22 325,-17 265,-4" fill="#a3a3a3"/>
<polygon points="200,500 156,486 132,480 155,489 198,504" fill="#838383"/>
<polygon points="184,512 145,499 124,493 144,501 183,515" fill="#8b8b8b"/>
<polygon points="296,147 225,133 187,128 224,138 295,153" fill="#898989"/>
<polygon points="197,129 273,144 314,150 274,140 198,125" fill="#a3a3a3"/>
<polygon points="327,147 227,127 173,118 226,132 326,153" fill="#8e8e8e"/>
<polygon points="188,132 281,147 331,154 281,144 189,127" fill="#818181"/>
<polygon points="234,134 302,150 339,157 303,147 235,130" fill="#929292"/>
<polygon points="233,368 281,357 306,348 280,351 232,362" fill="#828282"/>
<polygon points="293,352 248,365 225,374 250,371 295,359" fill="#848484"/>
<polygon points="304,349 262,360 239,368 263,365 306,355" fill="#a2a2a2"/>
<polygon points="221,380 271,366 298,356 270,360 220,374" fill="#888888"/>
<polygon points="509,466 445,464 411,466 445,470 509,472" fill="#939393"/>
<polygon points="453,471 492,470 513,467 492,465 453,466" fill="#878787"/>
<polygon points="419,467 481,469 514,469 481,466 420,463" fill="#949494"/>
<polygon points="435,467 480,468 504,468 480,466 436,464" fill="#9d9d9d"/>
<polygon points="436,473 472,475 491,474 472,470 436,467" fill="#9b9b9b"/>
<polygon points="359,11 281,-23 238,-39 279,-19 357,15" fill="#a5a5a5"/>
<polygon points="369,19 285,-24 240,-46 284,-22 368,22" fill="#9d9d9d"/>
<polygon points="232,-47 338,-2 395,21 339,-5 234,-51" fill="#a1a1a1"/>
<polygon points="353,7 282,-29 243,-47 280,-25 350,12" fill="#989898"/>
<polygon points="338,3 254,-36 207,-54 252,-31 335,9" fill="#898989"/>
<polygon points="440,455 323,430 259,418 322,434 439,461" fill="#959595"/>
<polygon points="432,447 297,425 224,415 296,429 431,452" fill="#9e9e9e"/>
<polygon points="298,428 393,442 444,447 393,439 299,425" fill="#a1a1a1"/>
<polygon points="476,459 339,425 265,409 337,431 474,466" fill="#989898"/>
<polygon points="75,316 94,257 104,225 92,256 72,315" fill="#9a9a9a"/>
<polygon points="101,210 80,298 71,345 84,298 105,211" fill="#919191"/>
<polygon points="80,329 104,238 114,188 99,237 75,328" fill="#9e9e9e"/>
<polygon points="418,34 539,84 606,108 541,78 420,28" fill="#969696"/>
<polygon points="590,107 484,55 427,28 483,58 588,111" fill="#909090"/>
<polygon points="598,110 500,61 446,36 498,64 596,115" fill="#9e9e9e"/>
<polygon points="633,124 528,76 471,52 526,80 630,129" fill="#9a9a9a"/>
<polygon points="42,123 169,123 237,122 169,120 42,118" fill="#8f8f8f"/>
<polygon points="65,131 185,135 249,135 185,131 65,127" fill="#a3a3a3"/>
<polygon points="73,121 186,125 247,126 186,122 74,117" fill="#858585"/>
<polygon points="57,128 201,131 279,131 201,128 57,124" fill="#949494"/>
<polygon points="400,168 350,198 324,215 352,200 402,171" fill="#929292"/>
<polygon points="235,73 321,12 366,-23 318,7 231,67" fill="#a4a4a4"/>
<polygon points="239,54 302,18 335,-4 300,13 236,49" fill="#959595"/>
<polygon points="364,-7 270,39 220,66 272,44 366,-2" fill="#8b8b8b"/>
<polygon points="337,2 266,38 229,59 268,42 339,6" fill="#9d9d9d"/>
<polygon points="227,58 298,17 336,-6 296,13 225,53" fill="#9b9b9b"/>
<polygon points="354,-8 250,53 195,88 252,56 356,-5" fill="#9c9c9c"/>
<polygon points="208,-22 171,-28 150,-29 170,-23 207,-16" fill="#999999"/>
<polygon points="145,-40 187,-30 211,-26 188,-33 146,-44" fill="#939393"/>
<polygon points="209,-34 176,-39 159,-40 176,-35 208,-29" fill="#9f9f9f"/>
<polygon points="200,328 234,340 254,345 236,337 201,324" fill="#8c8c8c"/>
<polygon points="273,339 230,322 206,314 228,326 271,344" fill="#8a8a8a"/>
<polygon points="193,311 243,329 271,336 245,324 195,306" fill="#888888"/>
<polygon points="209,323 243,336 261,340 245,330 212,317" fill="#868686"/>
<polygon points="288,148 418,174 488,186 419,168 290,141" fill="#8a8a8a"/>
<polygon points="464,180 389,159 349,150 388,164 463,186" fill="#a4a4a4"/>
<polygon points="294,145 385,176 435,191 387,172 296,140" fill="#979797"/>
<polygon points="423,170 346,153 303,146 345,158 422,175" fill="#919191"/>
<polygon points="269,135 384,166 446,181 385,162 270,130" fill="#a1a1a1"/>
<polygon points="566,390 652,432 700,453 654,429 568,386" fill="#909090"/>
<polygon points="617,415 694,446 736,460 696,441 619,409" fill="#a0a0a0"/>
<polygon points="711,463 651,437 618,425 649,441 709,468" fill="#838383"/>
<polygon points="606,414 667,437 701,447 669,432 609,408" fill="#a4a4a4"/>
<polygon points="685,445 626,424 594,415 625,429 683,451" fill="#9f9f9f"/>
<polygon points="615,419 675,441 708,451 677,436 617,413" fill="#9a9a9a"/>
<polygon points="581,82 635,137 665,165 637,134 584,79" fill="#9a9a9a"/>
<polygon points="578,76 640,154 676,195 645,151 583,72" fill="#a3a3a3"/>
<polygon points="584,89 647,160 682,197 649,158 587,87" fill="#8d8d8d"/>
<polygon points="662,157 611,110 582,85 609,112 659,159" fill="#929292"/>
<polygon points="305,307 207,270 154,253 205,275 303,313" fill="#8d8d8d"/>
<polygon points="114,241 255,287 331,311 255,285 115,238" fill="#9d9d9d"/>
<polygon points="148,248 266,290 330,312 267,288 149,244" fill="#a3a3a3"/>
<polygon points="541,138 601,183 635,206 604,179 544,133" fill="#8a8a8a"/>
<polygon points="609,181 566,154 542,141 564,158 607,185" fill="#9e9e9e"/>
<polygon points="608,179 556,147 528,131 555,149 606,182" fill="#9c9c9c"/>
<polygon points="647,213 584,158 549,130 581,161 645,216" fill="#9e9e9e"/>
<polygon points="503,213 413,275 366,310 416,280 507,219" fill="#8b8b8b"/>
<polygon points="485,231 413,280 376,308 416,284 488,236" fill="#a0a0a0"/>
<polygon points="364,320 458,263 507,231 456,260 361,316" fill="#888888"/>
<polygon points="391,316 458,261 492,229 454,257 387,311" fill="#959595"/>
<polygon points="497,211 422,273 383,308 425,276 500,215" fill="#888888"/>
<polygon points="455,368 466,416 474,441 471,415 462,367" fill="#909090"/>
<polygon points="458,386 469,436 477,462 473,435 461,385" fill="#a4a4a4"/>
<polygon points="474,454 463,391 455,357 458,392 468,455" fill="#878787"/>
<polygon points="476,440 463,387 454,359 459,388 471,442" fill="#919191"/>
<polygon points="459,375 468,433 476,464 474,432 466,374" fill="#909090"/>
<polygon points="474,444 464,398 458,373 461,398 470,445" fill="#8a8a8a"/>
<polygon points="133,431 22,404 -38,391 21,408 132,436" fill="#858585"/>
<polygon points="109,432 20,406 -28,394 19,410 108,436" fill="#959595"/>
<polygon points="161,435 43,407 -21,394 42,412 160,441" fill="#848484"/>
<polygon points="21,414 101,436 144,446 102,433 22,411" fill="#8e8e8e"/>
<polygon points="573,14 533,40 513,56 536,44 576,19" fill="#919191"/>
<polygon points="378,470 379,427 377,403 374,426 372,469" fill="#a6a6a6"/>
<polygon points="377,470 378,433 377,413 374,432 371,469" fill="#8d8d8d"/>
<polygon points="375,465 377,428 376,407 372,427 369,465" fill="#919191"/>
<polygon points="374,413 370,463 371,490 375,463 379,413" fill="#a6a6a6"/>
<polygon points="369,396 373,442 377,466 378,441 375,396" fill="#979797"/>
<polygon points="374,492 380,439 380,410 374,438 368,491" fill="#a2a2a2"/>
<polygon points="618,225 559,214 527,209 559,216 618,228" fill="#8f8f8f"/>
<polygon points="529,217 579,225 606,228 579,222 529,213" fill="#999999"/>
<polygon points="520,211 598,226 641,232 599,223 520,208" fill="#858585"/>
<polygon points="642,230 561,214 518,208 560,220 641,236" fill="#999999"/>
<polygon points="634,231 574,216 541,210 573,220 633,236" fill="#8b8b8b"/>
<polygon points="600,222 545,210 515,205 544,214 599,227" fill="#a8a8a8"/>
<polygon points="384,355 459,352 499,348 458,347 384,350" fill="#a4a4a4"/>
<polygon points="546,332 439,344 382,353 440,349 547,339" fill="#9c9c9c"/>
<polygon points="404,350 505,344 559,340 505,342 404,347" fill="#999999"/>
<polygon points="526,340 434,348 385,353 434,350 526,344" fill="#8e8e8e"/>
<polygon points="484,324 496,366 505,388 500,365 489,323" fill="#9d9d9d"/>
<polygon points="489,334 501,364 508,380 504,363 493,332" fill="#898989"/>
<polygon points="508,384 497,344 489,323 492,345 502,386" fill="#9a9a9a"/>
<polygon points="392,359 432,342 454,332 431,340 391,356" fill="#959595"/>
<polygon points="388,347 438,330 464,319 437,327 387,345" fill="#999999"/>
<polygon points="441,326 410,340 395,350 412,345 443,332" fill="#979797"/>
<polygon points="396,358 432,341 450,330 430,336 393,352" fill="#a1a1a1"/>
<polygon points="453,338 412,353 392,364 414,358 455,344" fill="#888888"/>
<polygon points="137,-18 124,49 119,85 128,50 142,-17" fill="#929292"/>
<polygon points="142,-16 123,53 115,90 127,54 147,-15" fill="#9f9f9f"/>
<polygon points="141,-15 129,44 124,76 132,45 145,-14" fill="#9b9b9b"/>
<polygon points="124,86 133,34 137,5 130,33 120,85" fill="#a8a8a8"/>
<polygon points="122,100 128,49 131,21 125,49 118,100" fill="#a9a9a9"/>
<polygon points="337,131 352,209 362,250 356,208 342,130" fill="#a6a6a6"/>
<polygon points="334,108 352,186 365,227 357,185 340,107" fill="#a6a6a6"/>
<polygon points="339,137 349,187 355,214 351,186 342,136" fill="#9c9c9c"/>
<polygon points="335,118 349,187 359,224 353,186 340,117" fill="#9c9c9c"/>
<polygon points="408,440 370,425 349,418 369,428 407,443" fill="#8c8c8c"/>
<polygon points="350,427 391,443 414,451 392,441 351,424" fill="#a6a6a6"/>
<polygon points="361,424 405,439 430,446 407,436 363,420" fill="#999999"/>
<polygon points="163,389 280,393 343,393 280,389 163,384" fill="#8d8d8d"/>
<polygon points="325,391 210,385 148,384 210,390 325,396" fill="#a7a7a7"/>
<polygon points="289,390 186,400 130,408 186,405 290,396" fill="#a2a2a2"/>
<polygon points="167,393 261,392 312,389 261,387 167,388" fill="#8b8b8b"/>
<polygon points="299,389 215,386 169,388 214,393 298,396" fill="#a7a7a7"/>
<polygon points="126,396 243,396 306,394 243,393 126,393" fill="#9f9f9f"/>
<polygon points="169,402 256,401 303,398 256,396 169,397" fill="#909090"/>
<polygon points="157,54 142,-29 132,-74 137,-28 151,55" fill="#a4a4a4"/>
<polygon points="138,-80 143,33 148,93 147,33 143,-80" fill="#898989"/>
<polygon points="611,-42 641,17 660,48 646,15 617,-45" fill="#979797"/>
<polygon points="601,-43 629,20 645,53 632,19 604,-44" fill="#8d8d8d"/>
<polygon points="615,194 587,125 570,89 584,127 612,195" fill="#9a9a9a"/>
<polygon points="595,167 576,106 565,73 572,107 590,169" fill="#8f8f8f"/>
<polygon points="618,195 587,115 567,73 581,117 612,198" fill="#888888"/>
<polygon points="596,157 576,99 563,69 570,101 589,159" fill="#8a8a8a"/>
<polygon points="562,67 584,131 599,165 590,129 568,64" fill="#8c8c8c"/>
<polygon points="416,-40 439,54 454,105 443,53 420,-42" fill="#a0a0a0"/>
<polygon points="428,17 446,90 458,130 450,89 433,15" fill="#898989"/>
<polygon points="471,117 444,31 427,-15 439,33 465,119" fill="#a3a3a3"/>
<polygon points="464,113 446,19 435,-32 441,20 457,115" fill="#a4a4a4"/>
<polygon points="451,129 434,53 424,12 431,53 447,129" fill="#8c8c8c"/>
<polygon points="439,335 397,298 373,280 394,302 434,340" fill="#9c9c9c"/>
<polygon points="433,327 387,292 362,275 385,295 430,330" fill="#9b9b9b"/>
<polygon points="438,319 403,289 382,274 400,292 435,323" fill="#a5a5a5"/>
<polygon points="434,340 399,299 379,279 396,302 431,343" fill="#919191"/>
<polygon points="372,286 411,318 434,333 415,314 377,281" fill="#9f9f9f"/>
<polygon points="409,307 384,282 369,270 381,285 407,310" fill="#9a9a9a"/>
<polygon points="703,316 624,227 581,181 622,230 700,319" fill="#8e8e8e"/>
<polygon points="589,201 672,283 719,325 676,280 593,197" fill="#9b9b9b"/>
<polygon points="600,218 662,275 697,304 666,271 604,213" fill="#a0a0a0"/>
<polygon points="575,187 632,255 664,291 636,252 580,183" fill="#a5a5a5"/>
<polygon points="-2,191 69,205 107,211 70,201 -1,186" fill="#949494"/>
<polygon points="104,209 24,191 -20,184 22,197 103,216" fill="#a3a3a3"/>
<polygon points="124,212 52,201 13,197 51,206 123,218" fill="#909090"/>
<polygon points="134,214 62,202 22,197 61,206 133,219" fill="#999999"/>
<polygon points="9,198 76,208 112,210 76,202 10,191" fill="#9d9d9d"/>
<polygon points="-26,190 54,199 98,203 55,197 -26,187" fill="#9d9d9d"/>
<polygon points="9,83 88,103 131,112 89,100 10,80" fill="#898989"/>
<polygon points="10,74 119,113 178,132 120,110 12,70" fill="#a6a6a6"/>
<polygon points="208,125 98,97 38,84 96,102 206,131" fill="#8f8f8f"/>
<polygon points="36,91 142,122 200,136 144,117 38,86" fill="#8d8d8d"/>
<polygon points="372,64 313,36 280,23 311,40 371,68" fill="#9e9e9e"/>
<polygon points="401,86 306,47 255,28 305,51 399,91" fill="#8e8e8e"/>
<polygon points="227,-1 313,43 361,65 316,38 230,-7" fill="#a5a5a5"/>
<polygon points="245,10 326,46 371,63 328,41 247,4" fill="#8c8c8c"/>
<polygon points="249,18 312,52 347,69 315,48 252,13" fill="#959595"/>
<polygon points="349,63 288,30 254,15 285,35 346,68" fill="#959595"/>
<polygon points="259,27 335,66 376,85 336,62 261,22" fill="#8b8b8b"/>
<polygon points="377,77 304,38 263,18 302,41 375,80" fill="#969696"/>
<polygon points="466,482 444,420 431,387 441,421 462,483" fill="#989898"/>
<polygon points="454,467 429,394 413,356 424,396 449,468" fill="#929292"/>
<polygon points="451,460 431,402 417,372 426,404 445,462" fill="#9e9e9e"/>
<polygon points="411,386 428,437 440,463 433,435 417,384" fill="#8c8c8c"/>
<polygon points="458,495 434,420 419,380 430,421 454,497" fill="#a0a0a0"/>
<polygon points="421,385 444,455 459,492 449,454 427,383" fill="#8f8f8f"/>
<polygon points="488,156 383,117 327,97 382,119 487,159" fill="#a3a3a3"/>
<polygon points="370,118 461,146 511,158 463,140 372,111" fill="#8f8f8f"/>
<polygon points="349,105 439,131 489,143 441,126 350,99" fill="#a6a6a6"/>
<polygon points="503,148 384,114 320,97 383,118 501,153" fill="#a4a4a4"/>
<polygon points="16,225 102,200 147,184 100,194 14,219" fill="#8c8c8c"/>
<polygon points="113,194 38,216 -1,229 39,219 114,198" fill="#a5a5a5"/>
<polygon points="-22,239 68,210 116,193 67,205 -24,233" fill="#9f9f9f"/>
<polygon points="114,188 9,223 -46,243 10,225 115,191" fill="#ababab"/>
<polygon points="-18,239 93,206 152,185 92,200 -20,233" fill="#929292"/>
<polygon points="104,200 26,221 -16,234 27,224 105,203" fill="#a3a3a3"/>
<polygon points="122,186 44,214 2,231 46,219 124,193" fill="#a9a9a9"/>
<polygon points="14,229 103,202 150,186 102,198 13,224" fill="#888888"/>
<polygon points="92,198 14,222 -27,237 15,227 93,204" fill="#a1a1a1"/>
<polygon points="222,115 241,184 254,220 245,183 226,114" fill="#8f8f8f"/>
<polygon points="212,85 240,196 258,255 245,195 218,83" fill="#8c8c8c"/>
<polygon points="231,112 249,219 260,277 253,219 236,111" fill="#9c9c9c"/>
<polygon points="262,256 236,166 221,119 232,168 256,258" fill="#a0a0a0"/>
<polygon points="257,272 232,147 217,80 228,148 252,273" fill="#a1a1a1"/>
<polygon points="209,64 241,179 260,241 244,178 212,63" fill="#9e9e9e"/>
<polygon points="214,86 235,170 247,215 238,169 218,85" fill="#8c8c8c"/>
<polygon points="164,407 162,488 162,532 167,489 170,408" fill="#9c9c9c"/>
<polygon points="168,372 165,496 165,563 169,496 173,372" fill="#929292"/>
<polygon points="460,166 433,123 416,100 428,126 455,170" fill="#959595"/>
<polygon points="465,157 439,120 424,101 435,122 460,160" fill="#9e9e9e"/>
<polygon points="475,162 441,112 420,87 436,116 469,166" fill="#a7a7a7"/>
<polygon points="472,170 446,135 430,117 443,137 468,172" fill="#898989"/>
<polygon points="372,-6 450,-26 491,-38 449,-29 371,-10" fill="#8b8b8b"/>
<polygon points="367,-4 441,-24 480,-36 440,-26 366,-6" fill="#a0a0a0"/>
<polygon points="499,-49 427,-24 388,-9 428,-21 500,-46" fill="#8a8a8a"/>
<polygon points="484,-41 416,-16 380,0 418,-10 487,-35" fill="#949494"/>
<polygon points="493,-51 421,-24 383,-9 422,-21 494,-47" fill="#9c9c9c"/>
<polygon points="394,-6 444,-21 470,-30 443,-24 392,-10" fill="#969696"/>
<polygon points="66,399 55,434 51,453 60,435 72,401" fill="#969696"/>
<polygon points="67,383 60,419 59,440 66,421 74,384" fill="#949494"/>
<polygon points="66,376 55,417 50,439 57,418 69,377" fill="#aaaaaa"/>
<polygon points="436,139 493,117 523,103 491,112 434,134" fill="#919191"/>
<polygon points="466,117 511,105 535,98 510,103 466,114" fill="#aaaaaa"/>
<polygon points="428,129 490,109 523,97 489,106 427,125" fill="#a1a1a1"/>
<polygon points="443,126 503,107 535,94 502,102 441,121" fill="#8f8f8f"/>
<polygon points="126,97 93,143 77,170 97,147 131,101" fill="#acacac"/>
<polygon points="75,180 113,126 132,95 109,123 70,176" fill="#8d8d8d"/>
<polygon points="154,74 99,135 71,169 101,137 156,76" fill="#acacac"/>
<polygon points="78,170 124,113 147,81 121,111 75,167" fill="#a9a9a9"/>
<polygon points="146,73 106,128 85,159 110,131 151,77" fill="#8d8d8d"/>
<polygon points="94,146 129,105 147,82 126,102 90,142" fill="#adadad"/>
<polygon points="129,105 85,152 63,178 89,155 133,110" fill="#9d9d9d"/>
<polygon points="134,97 81,155 54,188 85,158 139,101" fill="#a0a0a0"/>
<polygon points="66,178 116,125 141,95 112,122 62,174" fill="#a5a5a5"/>
<polygon points="248,284 250,353 252,390 253,353 252,284" fill="#ababab"/>
<polygon points="247,300 256,387 262,434 258,387 250,300" fill="#979797"/>
<polygon points="251,304 255,413 259,472 259,413 255,304" fill="#8d8d8d"/>
<polygon points="254,300 264,403 271,458 267,403 257,300" fill="#919191"/>
<polygon points="263,441 261,336 259,279 259,336 260,441" fill="#999999"/>
<polygon points="271,458 261,350 253,293 256,351 265,458" fill="#a7a7a7"/>
<polygon points="55,51 104,151 132,203 109,148 61,48" fill="#ababab"/>
<polygon points="76,105 116,194 139,242 120,192 81,102" fill="#8b8b8b"/>
<polygon points="149,225 101,140 73,95 98,142 146,227" fill="#9a9a9a"/>
<polygon points="136,199 94,128 69,91 90,130 132,202" fill="#979797"/>
<polygon points="456,143 390,64 353,23 387,67 453,146" fill="#969696"/>
<polygon points="480,172 420,105 387,71 416,109 475,177" fill="#9c9c9c"/>
<polygon points="453,150 382,67 343,23 378,70 448,154" fill="#adadad"/>
<polygon points="369,49 438,122 476,160 441,119 373,45" fill="#a3a3a3"/>
<polygon points="310,566 308,472 305,422 304,472 305,566" fill="#a7a7a7"/>
<polygon points="304,560 312,479 314,435 307,479 297,560" fill="#aeaeae"/>
<polygon points="304,407 306,492 308,537 310,492 310,407" fill="#8e8e8e"/>
<polygon points="196,385 102,365 51,356 101,368 195,388" fill="#a8a8a8"/>
<polygon points="179,395 101,379 58,372 100,383 178,400" fill="#ababab"/>
<polygon points="198,402 110,384 62,376 110,387 198,405" fill="#a4a4a4"/>
<polygon points="380,248 301,250 258,253 301,255 380,254" fill="#aeaeae"/>
<polygon points="436,245 296,257 221,266 296,261 436,249" fill="#949494"/>
<polygon points="421,259 322,260 268,263 322,265 421,265" fill="#9a9a9a"/>
<polygon points="426,249 341,256 295,262 341,261 427,255" fill="#9d9d9d"/>
<polygon points="271,265 376,266 433,265 376,263 271,261" fill="#9a9a9a"/>
<polygon points="437,260 344,259 295,261 344,264 437,265" fill="#a9a9a9"/>
<polygon points="200,256 333,254 404,250 333,249 200,250" fill="#aaaaaa"/>
<polygon points="511,125 409,157 354,177 410,162 513,131" fill="#a3a3a3"/>
<polygon points="485,140 370,170 309,188 372,175 486,146" fill="#8b8b8b"/>
<polygon points="517,115 399,164 337,193 401,169 520,121" fill="#a3a3a3"/>
<polygon points="511,132 414,163 363,181 415,166 512,135" fill="#acacac"/>
<polygon points="139,331 76,401 43,440 78,403 141,333" fill="#969696"/>
<polygon points="105,357 45,430 14,471 48,433 109,360" fill="#949494"/>
<polygon points="388,494 371,455 360,435 367,457 384,496" fill="#a4a4a4"/>
<polygon points="356,434 385,487 403,515 389,485 360,431" fill="#919191"/>
<polygon points="359,425 390,489 408,523 392,488 362,424" fill="#999999"/>
<polygon points="356,440 379,486 393,510 384,484 361,437" fill="#989898"/>
<polygon points="363,437 385,481 399,504 388,480 366,435" fill="#919191"/>
<polygon points="389,505 371,462 361,439 369,463 386,507" fill="#909090"/>
<polygon points="358,29 427,45 464,52 428,40 360,23" fill="#989898"/>
<polygon points="459,48 389,30 351,23 388,35 458,53" fill="#a0a0a0"/>
<polygon points="488,48 416,30 377,22 415,34 486,53" fill="#aaaaaa"/>
<polygon points="357,21 421,38 456,45 422,34 358,16" fill="#959595"/>
<polygon points="345,24 430,53 476,66 431,49 346,19" fill="#989898"/>
<polygon points="491,67 406,40 359,28 404,44 490,72" fill="#8e8e8e"/>
<polygon points="610,458 690,383 732,342 688,381 607,455" fill="#8f8f8f"/>
<polygon points="680,442 636,472 614,490 639,477 683,448" fill="#a8a8a8"/>
<polygon points="676,448 633,472 610,487 635,476 678,452" fill="#afafaf"/>
<polygon points="687,442 628,477 597,497 630,479 689,445" fill="#aeaeae"/>
<polygon points="601,496 658,458 687,436 655,454 598,491" fill="#9e9e9e"/>
<polygon points="613,491 668,463 697,446 666,460 611,488" fill="#989898"/>
<polygon points="691,-77 594,12 543,62 598,17 696,-71" fill="#aeaeae"/>
<polygon points="584,39 644,-29 675,-67 641,-32 581,35" fill="#a5a5a5"/>
<polygon points="686,-65 615,-6 579,27 618,-2 690,-60" fill="#a7a7a7"/>
<polygon points="570,36 654,-35 698,-75 651,-38 567,32" fill="#999999"/>
<polygon points="373,473 322,471 294,473 322,477 373,479" fill="#8e8e8e"/>
<polygon points="357,482 315,481 291,483 314,485 357,487" fill="#a8a8a8"/>
<polygon points="373,467 320,467 292,468 320,470 373,470" fill="#a5a5a5"/>
<polygon points="362,470 316,473 291,476 316,476 362,473" fill="#a4a4a4"/>
<polygon points="299,479 360,483 393,483 360,478 299,474" fill="#ababab"/>
<polygon points="304,480 349,482 373,481 349,479 304,477" fill="#979797"/>
<polygon points="348,149 419,93 455,61 416,89 344,145" fill="#9b9b9b"/>
<polygon points="355,131 435,70 477,36 433,67 352,127" fill="#a2a2a2"/>
<polygon points="496,244 573,243 615,240 573,239 496,240" fill="#a6a6a6"/>
<polygon points="637,239 565,238 526,240 565,244 637,246" fill="#a1a1a1"/>
<polygon points="423,-3 388,29 370,47 390,32 426,0" fill="#aeaeae"/>
<polygon points="369,52 425,2 454,-27 422,-2 364,47" fill="#919191"/>
<polygon points="446,-27 405,9 384,28 407,11 448,-24" fill="#9d9d9d"/>
<polygon points="370,45 410,10 431,-11 407,6 366,41" fill="#979797"/>
<polygon points="362,52 416,3 444,-25 413,0 359,48" fill="#a2a2a2"/>
<polygon points="375,43 435,-14 466,-46 432,-18 371,38" fill="#989898"/>
<polygon points="735,263 635,317 583,348 637,321 737,267" fill="#909090"/>
<polygon points="695,278 627,311 592,332 630,317 698,285" fill="#a5a5a5"/>
<polygon points="590,352 662,314 700,292 660,311 588,348" fill="#aaaaaa"/>
<polygon points="577,345 685,292 743,262 683,288 575,340" fill="#909090"/>
<polygon points="570,363 644,320 683,295 642,317 567,359" fill="#959595"/>
<polygon points="606,340 674,300 710,278 672,297 603,336" fill="#8f8f8f"/>
<polygon points="101,251 52,288 27,310 55,292 105,256" fill="#aeaeae"/>
<polygon points="124,234 73,266 46,285 75,270 127,238" fill="#979797"/>
<polygon points="176,151 98,195 56,220 100,199 179,156" fill="#ababab"/>
<polygon points="188,142 132,172 102,189 133,174 190,145" fill="#aaaaaa"/>
<polygon points="166,157 117,184 93,200 120,188 169,163" fill="#aeaeae"/>
<polygon points="96,183 155,152 185,135 153,150 95,180" fill="#919191"/>
<polygon points="194,148 123,181 86,202 126,187 197,154" fill="#959595"/>
<polygon points="68,212 128,178 160,158 127,175 66,209" fill="#a8a8a8"/>
<polygon points="83,216 149,169 184,142 146,164 79,210" fill="#9e9e9e"/>
<polygon points="166,151 108,187 77,207 110,190 168,155" fill="#aeaeae"/>
<polygon points="232,240 169,222 134,215 167,228 230,247" fill="#9b9b9b"/>
<polygon points="233,250 191,236 168,229 190,238 231,254" fill="#9e9e9e"/>
<polygon points="153,218 210,245 242,258 212,241 155,214" fill="#a4a4a4"/>
<polygon points="248,250 198,231 170,223 196,236 246,256" fill="#acacac"/>
<polygon points="170,228 203,244 222,250 205,239 173,222" fill="#949494"/>
<polygon points="235,249 185,229 156,221 182,234 232,255" fill="#aaaaaa"/>
<polygon points="712,19 667,-41 641,-72 663,-38 707,23" fill="#8f8f8f"/>
<polygon points="762,250 656,340 600,390 659,344 766,255" fill="#999999"/>
<polygon points="722,296 661,357 630,392 665,361 726,300" fill="#a4a4a4"/>
<polygon points="732,278 649,356 605,399 651,358 735,281" fill="#969696"/>
<polygon points="579,426 672,351 722,309 671,348 577,423" fill="#afafaf"/>
<polygon points="620,380 689,331 725,304 687,329 618,377" fill="#aaaaaa"/>
<polygon points="598,396 683,317 727,273 679,313 594,392" fill="#9a9a9a"/>
<polygon points="730,271 646,344 603,385 650,348 734,276" fill="#9e9e9e"/>
<polygon points="738,261 659,332 617,371 661,334 740,263" fill="#979797"/>
<polygon points="596,396 672,340 711,308 669,336 593,392" fill="#b1b1b1"/>
<polygon points="463,53 544,17 588,-3 543,14 461,49" fill="#999999"/>
<polygon points="586,-5 471,45 409,73 472,48 587,-2" fill="#9d9d9d"/>
<polygon points="450,66 547,14 598,-16 545,10 448,61" fill="#909090"/>
<polygon points="606,-15 483,47 417,82 484,51 608,-11" fill="#a0a0a0"/>
<polygon points="600,-13 525,28 486,51 527,30 601,-10" fill="#8f8f8f"/>
<polygon points="240,14 178,12 145,12 178,15 240,18" fill="#acacac"/>
<polygon points="155,18 221,19 256,18 221,14 155,12" fill="#969696"/>
<polygon points="234,17 169,10 133,8 168,13 234,21" fill="#ababab"/>
<polygon points="116,15 196,21 239,22 196,16 117,10" fill="#9d9d9d"/>
<polygon points="532,459 530,492 532,511 536,493 539,459" fill="#a4a4a4"/>
<polygon points="535,456 535,490 537,508 541,490 542,456" fill="#929292"/>
<polygon points="535,512 535,469 534,446 533,469 532,512" fill="#969696"/>
<polygon points="543,519 545,467 544,439 540,467 537,518" fill="#979797"/>
<polygon points="532,453 531,497 532,521 534,498 535,453" fill="#a0a0a0"/>
<polygon points="538,515 537,464 534,436 532,464 533,515" fill="#979797"/>
<polygon points="542,463 538,509 538,534 542,509 546,463" fill="#9d9d9d"/>
<polygon points="192,131 170,167 160,188 173,169 196,134" fill="#aaaaaa"/>
<polygon points="200,141 167,191 151,218 170,192 203,142" fill="#939393"/>
<polygon points="185,149 164,185 154,205 166,186 188,150" fill="#8f8f8f"/>
<polygon points="215,127 175,186 156,219 180,189 221,131" fill="#adadad"/>
<polygon points="422,85 424,161 427,202 428,161 426,85" fill="#acacac"/>
<polygon points="432,226 430,153 427,113 427,153 429,226" fill="#999999"/>
<polygon points="429,103 428,170 428,207 431,171 433,103" fill="#919191"/>
<polygon points="425,116 425,178 427,211 430,178 431,116" fill="#9f9f9f"/>
<polygon points="428,189 431,108 431,65 428,108 425,189" fill="#afafaf"/>
<polygon points="283,95 250,22 230,-17 247,23 281,96" fill="#9f9f9f"/>
<polygon points="235,-9 262,53 278,86 265,51 238,-11" fill="#acacac"/>
<polygon points="299,96 272,22 256,-17 268,23 294,98" fill="#909090"/>
<polygon points="245,-20 267,44 280,78 270,43 250,-21" fill="#aeaeae"/>
<polygon points="286,89 261,22 245,-14 257,23 281,91" fill="#afafaf"/>
<polygon points="245,-40 276,41 294,84 279,39 250,-42" fill="#9b9b9b"/>
<polygon points="463,515 451,423 443,374 448,424 459,515" fill="#9c9c9c"/>
<polygon points="466,528 456,447 448,403 452,447 462,529" fill="#a7a7a7"/>
<polygon points="449,397 461,488 469,536 465,487 454,396" fill="#a7a7a7"/>
<polygon points="438,351 449,475 458,542 455,475 444,351" fill="#8f8f8f"/>
<polygon points="447,394 462,511 472,574 466,510 451,393" fill="#989898"/>
<polygon points="353,287 255,264 201,254 254,269 351,293" fill="#9a9a9a"/>
<polygon points="237,263 351,293 412,308 352,288 239,256" fill="#999999"/>
<polygon points="394,307 298,272 245,256 296,277 392,313" fill="#afafaf"/>
<polygon points="381,298 280,271 224,258 279,275 380,303" fill="#8f8f8f"/>
<polygon points="371,301 244,260 175,240 243,264 370,305" fill="#a2a2a2"/>
<polygon points="217,260 326,294 386,309 328,289 218,254" fill="#a3a3a3"/>
<polygon points="595,220 496,166 442,139 494,170 592,224" fill="#969696"/>
<polygon points="446,159 537,210 586,235 539,206 449,155" fill="#a8a8a8"/>
<polygon points="571,207 478,155 427,129 475,160 568,213" fill="#a2a2a2"/>
<polygon points="238,234 319,235 363,234 319,232 238,231" fill="#9f9f9f"/>
<polygon points="249,246 385,252 458,252 385,246 249,239" fill="#979797"/>
<polygon points="436,251 316,241 251,239 316,247 435,257" fill="#9f9f9f"/>
<polygon points="375,236 291,229 245,227 290,233 375,240" fill="#a3a3a3"/>
<polygon points="615,38 565,84 540,109 567,86 617,41" fill="#b1b1b1"/>
<polygon points="587,55 545,93 524,116 548,96 590,58" fill="#9e9e9e"/>
<polygon points="531,115 577,70 600,44 574,67 528,112" fill="#969696"/>
<polygon points="612,55 572,93 551,115 575,97 616,59" fill="#b2b2b2"/>
<polygon points="523,120 572,78 598,54 570,76 521,117" fill="#a7a7a7"/>
<polygon points="552,107 593,70 614,48 589,66 547,102" fill="#b0b0b0"/>
<polygon points="610,47 573,85 553,106 575,87 613,49" fill="#aeaeae"/>
<polygon points="537,102 578,69 599,50 576,67 535,99" fill="#ababab"/>
<polygon points="370,150 296,174 256,187 296,176 370,153" fill="#9c9c9c"/>
<polygon points="273,176 336,153 368,139 334,149 271,171" fill="#a0a0a0"/>
<polygon points="225,284 173,309 146,325 176,314 228,290" fill="#b0b0b0"/>
<polygon points="229,281 193,301 175,313 195,305 231,287" fill="#acacac"/>
<polygon points="233,276 186,298 161,312 188,303 236,283" fill="#b1b1b1"/>
<polygon points="381,22 436,38 467,45 437,35 382,19" fill="#939393"/>
<polygon points="373,24 462,53 511,66 464,48 375,17" fill="#9f9f9f"/>
<polygon points="379,22 439,33 472,37 440,28 380,16" fill="#9d9d9d"/>
<polygon points="335,16 424,38 471,48 424,35 336,12" fill="#b4b4b4"/>
<polygon points="357,18 434,43 476,54 435,38 359,12" fill="#989898"/>
<polygon points="566,476 642,509 683,525 644,504 569,470" fill="#a6a6a6"/>
<polygon points="562,461 630,497 667,515 631,494 564,457" fill="#b5b5b5"/>
<polygon points="663,513 613,489 585,478 611,493 661,517" fill="#b4b4b4"/>
<polygon points="549,462 617,497 655,515 619,494 551,458" fill="#929292"/>
<polygon points="667,509 601,473 564,457 598,479 664,515" fill="#b1b1b1"/>
<polygon points="701,378 643,376 611,376 643,380 701,384" fill="#a4a4a4"/>
<polygon points="557,439 488,398 451,377 487,401 555,442" fill="#acacac"/>
<polygon points="468,377 552,433 598,461 555,429 471,373" fill="#9b9b9b"/>
<polygon points="622,463 522,407 467,379 520,411 619,468" fill="#ababab"/>
<polygon points="450,382 534,425 580,446 536,421 453,377" fill="#b0b0b0"/>
<polygon points="374,207 271,220 216,229 271,224 374,212" fill="#949494"/>
<polygon points="337,215 232,214 175,216 232,220 337,221" fill="#a8a8a8"/>
<polygon points="206,214 272,212 307,210 271,209 206,211" fill="#a8a8a8"/>
<polygon points="367,204 282,214 236,221 282,217 367,207" fill="#a4a4a4"/>
<polygon points="355,205 267,216 219,223 267,220 356,210" fill="#a1a1a1"/>
<polygon points="374,208 271,216 215,222 271,220 375,212" fill="#b0b0b0"/>
<polygon points="377,206 265,210 205,214 265,214 377,211" fill="#a6a6a6"/>
<polygon points="637,459 672,477 691,485 674,473 639,455" fill="#b3b3b3"/>
<polygon points="712,488 675,466 654,455 673,469 709,492" fill="#a2a2a2"/>
<polygon points="709,489 658,467 630,456 657,470 708,493" fill="#b3b3b3"/>
<polygon points="697,481 653,463 628,455 651,468 695,487" fill="#afafaf"/>
<polygon points="635,459 686,484 715,496 688,481 637,455" fill="#a9a9a9"/>
<polygon points="402,334 393,392 389,423 396,392 406,335" fill="#a2a2a2"/>
<polygon points="406,411 410,350 411,317 408,350 403,410" fill="#969696"/>
<polygon points="400,297 398,385 398,432 402,385 405,297" fill="#9d9d9d"/>
<polygon points="403,288 396,377 394,425 399,377 406,289" fill="#989898"/>
<polygon points="401,388 402,326 400,292 397,326 395,388" fill="#9f9f9f"/>
<polygon points="396,286 394,364 394,407 399,365 402,286" fill="#999999"/>
<polygon points="550,54 503,41 477,36 502,44 549,58" fill="#a6a6a6"/>
<polygon points="533,61 487,44 462,36 486,47 531,65" fill="#a0a0a0"/>
<polygon points="527,67 481,52 456,46 480,56 525,72" fill="#adadad"/>
<polygon points="231,380 260,355 275,340 258,352 229,378" fill="#b4b4b4"/>
<polygon points="279,338 233,372 210,392 236,376 283,342" fill="#b3b3b3"/>
<polygon points="215,389 252,358 271,340 249,354 211,384" fill="#959595"/>
<polygon points="295,324 248,353 224,369 250,355 296,327" fill="#a7a7a7"/>
<polygon points="222,378 267,346 290,327 265,343 220,375" fill="#b1b1b1"/>
<polygon points="213,380 263,348 289,329 261,345 211,377" fill="#a4a4a4"/>
<polygon points="222,378 262,355 283,341 259,350 219,373" fill="#a1a1a1"/>
<polygon points="228,25 175,-33 145,-62 171,-30 224,28" fill="#939393"/>
<polygon points="141,-89 213,0 253,47 216,-2 144,-91" fill="#b6b6b6"/>
<polygon points="246,26 200,-29 173,-57 195,-25 240,31" fill="#a6a6a6"/>
<polygon points="161,-50 219,9 252,39 223,5 165,-55" fill="#a0a0a0"/>
<polygon points="254,57 194,-6 160,-38 191,-3 251,61" fill="#a7a7a7"/>
<polygon points="132,-57 200,9 238,42 204,5 136,-62" fill="#a6a6a6"/>
<polygon points="347,390 326,334 312,305 321,336 342,392" fill="#b2b2b2"/>
<polygon points="300,275 330,351 348,391 333,350 303,274" fill="#a8a8a8"/>
<polygon points="297,283 324,345 340,378 327,344 301,281" fill="#a5a5a5"/>
<polygon points="297,285 324,361 340,402 328,360 302,283" fill="#acacac"/>
<polygon points="355,396 320,320 300,280 317,321 352,397" fill="#999999"/>
<polygon points="354,391 317,315 296,275 314,316 349,393" fill="#a5a5a5"/>
<polygon points="558,395 554,328 551,293 551,329 554,395" fill="#a2a2a2"/>
<polygon points="536,252 547,366 555,427 552,365 542,251" fill="#b0b0b0"/>
<polygon points="560,372 555,297 551,256 550,297 553,373" fill="#aaaaaa"/>
<polygon points="475,258 401,234 360,222 400,236 474,261" fill="#9c9c9c"/>
<polygon points="170,346 62,316 3,301 61,319 169,350" fill="#a6a6a6"/>
<polygon points="147,333 50,313 -3,303 49,316 146,337" fill="#b3b3b3"/>
<polygon points="43,309 107,328 142,337 108,325 44,305" fill="#b4b4b4"/>
<polygon points="158,337 61,315 8,304 60,318 157,340" fill="#a6a6a6"/>
<polygon points="161,338 78,315 32,305 76,320 159,344" fill="#979797"/>
<polygon points="567,8 514,-2 485,-4 513,4 565,14" fill="#b0b0b0"/>
<polygon points="474,1 535,12 569,16 536,7 475,-5" fill="#a5a5a5"/>
<polygon points="494,11 545,15 572,16 545,10 495,5" fill="#a2a2a2"/>
<polygon points="567,13 508,4 476,0 508,7 566,17" fill="#aaaaaa"/>
<polygon points="587,15 515,8 476,6 514,13 587,21" fill="#989898"/>
<polygon points="480,4 544,14 579,17 545,9 481,-2" fill="#989898"/>
<polygon points="-16,271 29,201 51,162 26,199 -19,269" fill="#aeaeae"/>
<polygon points="-10,261 37,188 61,147 34,186 -14,259" fill="#a2a2a2"/>
<polygon points="69,137 17,211 -9,251 20,212 72,139" fill="#b1b1b1"/>
<polygon points="-9,244 43,174 70,136 40,173 -12,242" fill="#aaaaaa"/>
<polygon points="63,138 7,219 -21,264 12,223 68,142" fill="#a9a9a9"/>
<polygon points="617,105 669,59 696,34 667,57 614,102" fill="#a8a8a8"/>
<polygon points="625,85 695,35 731,7 692,32 622,81" fill="#a1a1a1"/>
<polygon points="716,32 645,76 609,102 648,80 718,36" fill="#a3a3a3"/>
<polygon points="442,13 510,88 548,127 513,85 446,10" fill="#a2a2a2"/>
<polygon points="445,32 507,101 542,137 510,98 448,29" fill="#a1a1a1"/>
<polygon points="554,131 466,34 417,-18 463,37 550,135" fill="#989898"/>
<polygon points="391,291 393,220 392,181 389,220 386,291" fill="#9b9b9b"/>
<polygon points="394,204 389,256 388,284 394,256 400,204" fill="#a2a2a2"/>
<polygon points="394,189 391,264 391,304 394,264 398,189" fill="#9e9e9e"/>
<polygon points="392,261 394,206 394,177 391,206 388,261" fill="#a5a5a5"/>
<polygon points="387,362 325,332 291,317 324,335 385,366" fill="#b5b5b5"/>
<polygon points="293,336 337,354 361,362 338,351 295,332" fill="#a1a1a1"/>
<polygon points="287,320 346,351 379,365 348,347 289,316" fill="#acacac"/>
<polygon points="352,358 306,336 280,327 304,341 349,364" fill="#9b9b9b"/>
<polygon points="389,360 324,327 289,310 323,330 387,364" fill="#a8a8a8"/>
<polygon points="304,273 217,269 170,269 216,273 304,277" fill="#9b9b9b"/>
<polygon points="306,275 216,266 168,262 216,269 306,279" fill="#b4b4b4"/>
<polygon points="310,276 218,265 167,262 217,271 309,283" fill="#a4a4a4"/>
<polygon points="103,262 229,277 297,283 230,273 104,258" fill="#9f9f9f"/>
<polygon points="431,317 365,321 329,324 365,324 431,321" fill="#9a9a9a"/>
<polygon points="427,308 362,319 327,326 362,322 427,311" fill="#b2b2b2"/>
<polygon points="339,330 377,320 398,313 376,316 337,325" fill="#a9a9a9"/>
<polygon points="332,330 397,317 431,307 396,311 331,323" fill="#a0a0a0"/>
<polygon points="343,334 398,321 427,312 397,318 342,330" fill="#b4b4b4"/>
<polygon points="346,329 387,319 409,312 386,316 345,326" fill="#a2a2a2"/>
<polygon points="406,309 356,322 329,331 357,326 407,313" fill="#a0a0a0"/>
<polygon points="532,79 578,94 603,101 579,91 533,76" fill="#a5a5a5"/>
<polygon points="532,81 606,102 647,111 608,97 534,74" fill="#aaaaaa"/>
<polygon points="520,74 602,96 647,106 603,92 521,69" fill="#969696"/>
<polygon points="525,87 582,102 614,107 584,96 527,80" fill="#ababab"/>
<polygon points="634,114 553,86 509,73 552,89 633,117" fill="#9d9d9d"/>
<polygon points="619,97 553,78 516,70 551,83 617,103" fill="#b8b8b8"/>
<polygon points="501,80 577,99 619,106 579,93 503,74" fill="#a8a8a8"/>
<polygon points="530,454 445,453 399,454 445,458 530,460" fill="#a2a2a2"/>
<polygon points="504,468 428,461 387,459 428,465 504,472" fill="#a9a9a9"/>
<polygon points="383,464 464,462 507,459 464,457 383,457" fill="#9b9b9b"/>
<polygon points="397,469 504,468 562,465 504,464 397,464" fill="#979797"/>
<polygon points="499,453 428,449 389,449 428,453 499,457" fill="#989898"/>
<polygon points="402,454 519,457 582,456 519,453 402,449" fill="#aeaeae"/>
<polygon points="501,408 436,389 400,380 435,392 500,412" fill="#b8b8b8"/>
<polygon points="406,387 445,395 466,399 445,393 406,384" fill="#9e9e9e"/>
<polygon points="396,395 449,407 478,411 450,402 397,389" fill="#adadad"/>
<polygon points="463,395 417,386 391,383 416,391 462,402" fill="#b6b6b6"/>
<polygon points="378,381 448,396 485,403 448,393 379,377" fill="#b7b7b7"/>
<polygon points="481,402 429,390 400,385 428,394 480,407" fill="#b8b8b8"/>
<polygon points="494,408 434,396 402,391 433,401 492,415" fill="#b4b4b4"/>
<polygon points="717,471 676,445 652,434 673,450 713,477" fill="#a7a7a7"/>
<polygon points="723,488 669,459 639,445 666,463 720,493" fill="#bababa"/>
<polygon points="634,427 696,472 731,494 700,467 638,422" fill="#aeaeae"/>
<polygon points="742,503 672,457 633,434 670,461 739,507" fill="#a0a0a0"/>
<polygon points="631,438 697,484 733,507 699,480 634,434" fill="#b6b6b6"/>
<polygon points="408,-3 341,30 306,50 343,35 411,3" fill="#aeaeae"/>
<polygon points="277,62 354,27 395,5 352,22 274,57" fill="#a9a9a9"/>
<polygon points="388,-3 324,32 290,52 325,35 390,1" fill="#a0a0a0"/>
<polygon points="288,61 361,28 399,9 360,25 287,58" fill="#a4a4a4"/>
<polygon points="279,62 342,25 374,2 339,20 275,56" fill="#aeaeae"/>
<polygon points="262,65 355,18 404,-8 354,16 261,63" fill="#bababa"/>
<polygon points="277,47 332,20 360,5 330,18 275,44" fill="#a0a0a0"/>
<polygon points="364,10 304,38 273,55 306,41 366,13" fill="#a7a7a7"/>
<polygon points="572,247 481,221 431,210 479,227 570,253" fill="#bababa"/>
<polygon points="552,251 474,225 431,214 472,231 550,258" fill="#9b9b9b"/>
<polygon points="598,256 505,233 455,223 504,238 596,262" fill="#a7a7a7"/>
<polygon points="580,269 658,227 699,202 656,223 578,264" fill="#989898"/>
<polygon points="577,277 657,232 699,206 654,227 574,271" fill="#b0b0b0"/>
<polygon points="713,191 628,239 583,266 629,242 714,194" fill="#a5a5a5"/>
<polygon points="586,269 683,216 735,185 681,211 583,263" fill="#999999"/>
<polygon points="575,282 640,246 674,225 638,243 574,279" fill="#ababab"/>
<polygon points="479,411 508,477 526,511 513,475 485,409" fill="#a2a2a2"/>
<polygon points="526,498 503,446 489,418 500,447 522,500" fill="#aaaaaa"/>
<polygon points="517,486 486,419 467,384 481,421 511,488" fill="#b9b9b9"/>
<polygon points="522,508 495,438 480,401 492,439 518,509" fill="#9f9f9f"/>
<polygon points="489,501 528,448 547,418 524,445 485,498" fill="#b0b0b0"/>
<polygon points="614,324 660,328 685,328 661,322 615,317" fill="#a3a3a3"/>
<polygon points="635,331 675,330 696,327 675,324 635,324" fill="#afafaf"/>
<polygon points="692,333 652,330 631,330 652,334 692,338" fill="#a4a4a4"/>
<polygon points="631,329 667,333 687,333 668,328 631,324" fill="#a9a9a9"/>
<polygon points="635,333 674,336 695,336 674,333 636,330" fill="#b4b4b4"/>
<polygon points="537,-77 495,1 473,44 497,2 540,-75" fill="#999999"/>
<polygon points="541,-65 509,-10 493,20 512,-8 545,-63" fill="#b1b1b1"/>
<polygon points="522,-41 498,12 486,42 501,14 526,-39" fill="#b7b7b7"/>
<polygon points="533,-53 505,-5 491,22 508,-3 537,-51" fill="#9c9c9c"/>
<polygon points="-12,230 116,178 185,149 115,176 -13,227" fill="#a9a9a9"/>
<polygon points="8,541 75,484 109,452 72,481 5,537" fill="#989898"/>
<polygon points="12,530 91,469 133,434 88,465 8,526" fill="#afafaf"/>
<polygon points="81,455 18,507 -16,537 20,510 84,457" fill="#bababa"/>
<polygon points="735,424 650,473 605,502 652,478 739,430" fill="#aaaaaa"/>
<polygon points="608,501 696,451 743,423 694,448 606,497" fill="#999999"/>
<polygon points="727,438 640,492 594,522 643,496 730,444" fill="#b9b9b9"/>
<polygon points="85,553 166,492 209,458 164,489 83,549" fill="#999999"/>
<polygon points="75,548 143,493 179,461 141,489 72,544" fill="#999999"/>
<polygon points="122,379 61,352 26,339 58,357 120,385" fill="#9c9c9c"/>
<polygon points="6,331 57,353 85,363 58,349 8,327" fill="#bbbbbb"/>
<polygon points="122,368 64,349 32,341 62,353 120,373" fill="#a1a1a1"/>
<polygon points="105,377 54,355 26,345 53,358 104,380" fill="#9a9a9a"/>
<polygon points="266,78 267,170 269,219 270,170 270,78" fill="#b2b2b2"/>
<polygon points="272,243 264,147 257,96 259,148 265,243" fill="#b4b4b4"/>
<polygon points="257,98 259,167 262,204 264,167 262,98" fill="#b8b8b8"/>
<polygon points="263,103 270,209 275,266 273,209 267,103" fill="#b6b6b6"/>
<polygon points="277,216 268,122 262,72 264,123 271,216" fill="#9a9a9a"/>
<polygon points="273,216 269,129 266,82 266,129 269,216" fill="#b3b3b3"/>
<polygon points="262,255 255,170 249,125 250,171 256,255" fill="#999999"/>
<polygon points="265,107 268,187 271,230 272,187 270,107" fill="#a8a8a8"/>
<polygon points="271,306 188,284 143,274 186,289 269,312" fill="#b1b1b1"/>
<polygon points="155,267 212,288 244,297 214,283 157,261" fill="#b2b2b2"/>
<polygon points="243,290 159,263 113,250 158,267 242,294" fill="#a3a3a3"/>
<polygon points="236,291 155,257 110,241 153,261 235,295" fill="#b5b5b5"/>
<polygon points="137,261 212,284 254,295 214,280 139,255" fill="#a4a4a4"/>
<polygon points="224,291 161,263 126,251 158,269 221,297" fill="#999999"/>
<polygon points="224,296 161,272 127,260 160,275 222,300" fill="#afafaf"/>
<polygon points="156,355 255,384 309,397 256,379 158,350" fill="#a8a8a8"/>
<polygon points="311,396 229,375 184,367 227,381 309,402" fill="#a0a0a0"/>
<polygon points="171,357 246,378 286,388 247,375 172,354" fill="#a5a5a5"/>
<polygon points="292,386 225,368 188,360 224,372 291,390" fill="#a1a1a1"/>
<polygon points="369,84 353,3 342,-40 348,4 363,86" fill="#bababa"/>
<polygon points="367,65 348,-5 335,-42 342,-4 361,67" fill="#b4b4b4"/>
<polygon points="529,212 612,222 656,224 612,216 530,206" fill="#9e9e9e"/>
<polygon points="676,231 564,211 504,203 563,217 675,237" fill="#ababab"/>
<polygon points="641,217 558,209 513,206 558,213 641,223" fill="#bbbbbb"/>
<polygon points="502,211 596,221 647,226 596,219 502,208" fill="#9d9d9d"/>
<polygon points="630,215 545,207 500,204 545,210 629,219" fill="#bcbcbc"/>
<polygon points="536,210 633,226 686,232 634,222 536,206" fill="#a5a5a5"/>
<polygon points="503,202 597,218 648,224 598,214 503,199" fill="#a4a4a4"/>
<polygon points="164,357 247,336 291,324 246,334 164,354" fill="#aaaaaa"/>
<polygon points="268,323 198,344 161,358 200,349 270,328" fill="#b9b9b9"/>
<polygon points="261,342 199,360 166,371 200,364 262,346" fill="#adadad"/>
<polygon points="271,323 207,341 174,353 209,346 273,328" fill="#bbbbbb"/>
<polygon points="249,344 188,357 156,365 189,360 249,348" fill="#bbbbbb"/>
<polygon points="169,372 229,353 261,341 228,349 167,368" fill="#a8a8a8"/>
<polygon points="141,370 214,349 252,336 212,345 139,365" fill="#b3b3b3"/>
<polygon points="299,321 208,344 160,359 210,350 301,327" fill="#a8a8a8"/>
<polygon points="274,293 179,350 129,382 181,354 277,298" fill="#a6a6a6"/>
<polygon points="105,378 200,342 251,321 199,338 103,374" fill="#adadad"/>
<polygon points="120,381 195,337 235,312 193,333 117,376" fill="#9e9e9e"/>
<polygon points="84,397 194,339 253,306 193,336 82,394" fill="#9f9f9f"/>
<polygon points="101,395 206,336 263,303 205,333 99,392" fill="#a2a2a2"/>
<polygon points="142,372 219,333 260,310 217,330 140,369" fill="#aeaeae"/>
<polygon points="150,209 54,250 4,274 57,255 153,215" fill="#9c9c9c"/>
<polygon points="-12,289 72,257 117,239 71,254 -14,285" fill="#a5a5a5"/>
<polygon points="167,197 67,240 15,266 70,246 170,203" fill="#aeaeae"/>
<polygon points="37,270 121,230 166,207 119,225 34,264" fill="#adadad"/>
<polygon points="128,217 45,256 1,278 47,259 129,221" fill="#a0a0a0"/>
<polygon points="102,233 33,258 -3,273 35,263 104,239" fill="#bebebe"/>
<polygon points="99,319 119,358 131,379 123,356 104,317" fill="#b4b4b4"/>
<polygon points="103,313 121,349 133,367 126,347 109,310" fill="#a8a8a8"/>
<polygon points="137,369 122,344 112,331 119,346 133,371" fill="#bbbbbb"/>
<polygon points="105,264 208,256 263,250 207,252 105,259" fill="#ababab"/>
<polygon points="262,259 175,271 128,278 175,274 262,263" fill="#bcbcbc"/>
<polygon points="115,272 231,268 293,263 231,262 115,266" fill="#b7b7b7"/>
<polygon points="580,234 647,224 683,216 646,219 579,228" fill="#b4b4b4"/>
<polygon points="573,231 673,225 726,221 672,222 573,228" fill="#b0b0b0"/>
<polygon points="594,230 663,226 700,222 663,221 594,223" fill="#b6b6b6"/>
<polygon points="685,218 625,224 592,230 625,230 686,225" fill="#a8a8a8"/>
<polygon points="583,229 677,225 727,221 676,220 583,223" fill="#9c9c9c"/>
<polygon points="731,206 653,225 612,236 654,228 732,210" fill="#b5b5b5"/>
<polygon points="573,227 670,219 722,213 669,214 572,222" fill="#a7a7a7"/>
<polygon points="341,353 380,239 398,177 375,238 336,352" fill="#a8a8a8"/>
<polygon points="338,367 372,260 389,201 368,258 334,366" fill="#a7a7a7"/>
<polygon points="158,39 86,10 47,-4 85,14 157,43" fill="#a9a9a9"/>
<polygon points="41,-5 131,38 180,60 133,34 43,-10" fill="#b1b1b1"/>
<polygon points="178,46 92,13 45,-3 90,18 175,52" fill="#aaaaaa"/>
<polygon points="723,-52 660,-37 625,-28 660,-34 724,-48" fill="#b5b5b5"/>
<polygon points="194,469 228,461 246,454 228,457 193,465" fill="#aeaeae"/>
<polygon points="252,439 217,448 199,455 218,452 254,443" fill="#a3a3a3"/>
<polygon points="262,433 210,447 183,457 211,452 264,440" fill="#bcbcbc"/>
<polygon points="270,426 218,446 191,459 220,451 273,433" fill="#b8b8b8"/>
<polygon points="216,443 285,425 321,413 284,420 215,437" fill="#bebebe"/>
<polygon points="289,435 225,452 191,462 226,455 290,438" fill="#9d9d9d"/>
<polygon points="275,418 225,433 199,442 226,436 276,422" fill="#b4b4b4"/>
<polygon points="208,448 258,432 284,422 257,427 206,441" fill="#b9b9b9"/>
<polygon points="194,464 244,450 271,440 243,444 192,457" fill="#aeaeae"/>
<polygon points="191,449 252,434 285,424 252,430 190,445" fill="#acacac"/>
<polygon points="193,446 251,431 282,420 250,425 192,439" fill="#a3a3a3"/>
<polygon points="730,371 668,391 636,404 670,395 731,376" fill="#9d9d9d"/>
<polygon points="622,419 715,385 764,365 713,380 620,413" fill="#b9b9b9"/>
<polygon points="750,366 671,389 629,402 672,392 751,370" fill="#acacac"/>
<polygon points="198,219 275,226 316,228 275,222 199,213" fill="#b0b0b0"/>
<polygon points="224,219 296,229 336,232 297,225 225,214" fill="#bababa"/>
<polygon points="341,238 229,221 168,214 228,224 340,242" fill="#aeaeae"/>
<polygon points="185,223 268,233 312,236 268,227 186,216" fill="#bebebe"/>
<polygon points="180,225 271,232 321,233 272,226 180,218" fill="#a9a9a9"/>
<polygon points="109,55 190,64 233,68 190,60 110,50" fill="#a9a9a9"/>
<polygon points="92,49 198,52 254,52 198,49 92,45" fill="#aaaaaa"/>
<polygon points="226,56 119,47 60,45 118,53 226,62" fill="#b1b1b1"/>
<polygon points="72,47 174,55 228,56 174,49 73,41" fill="#b7b7b7"/>
<polygon points="243,60 135,52 76,49 135,56 243,64" fill="#9e9e9e"/>
<polygon points="91,57 188,62 240,64 188,59 91,53" fill="#b2b2b2"/>
<polygon points="93,56 179,64 226,67 180,61 94,52" fill="#aeaeae"/>
<polygon points="229,42 121,45 62,49 121,51 229,50" fill="#a1a1a1"/>
<polygon points="666,465 582,435 536,421 580,440 664,471" fill="#bcbcbc"/>
<polygon points="677,481 595,444 549,426 592,449 674,487" fill="#9b9b9b"/>
<polygon points="685,470 596,436 547,419 595,439 683,474" fill="#a8a8a8"/>
<polygon points="534,133 432,78 376,49 431,80 533,136" fill="#a1a1a1"/>
<polygon points="550,130 437,78 375,52 434,84 547,137" fill="#bababa"/>
<polygon points="382,55 482,106 537,132 484,102 385,51" fill="#a6a6a6"/>
<polygon points="418,75 483,109 518,126 484,106 420,71" fill="#a4a4a4"/>
<polygon points="168,552 83,484 37,448 82,486 166,554" fill="#a7a7a7"/>
<polygon points="25,473 90,516 126,537 93,511 29,467" fill="#b9b9b9"/>
<polygon points="128,536 53,487 12,461 51,490 126,539" fill="#b9b9b9"/>
<polygon points="169,546 70,478 15,443 67,482 166,552" fill="#bcbcbc"/>
<polygon points="5,459 71,506 108,530 73,503 7,455" fill="#a7a7a7"/>
<polygon points="203,336 270,376 307,396 272,372 205,332" fill="#b5b5b5"/>
<polygon points="289,388 245,361 221,348 243,364 286,392" fill="#a7a7a7"/>
<polygon points="188,329 256,367 294,385 258,362 191,323" fill="#9e9e9e"/>
<polygon points="188,332 250,363 284,378 252,360 190,328" fill="#afafaf"/>
<polygon points="19,261 123,214 178,186 121,209 16,255" fill="#9f9f9f"/>
<polygon points="29,256 94,226 127,208 91,221 26,250" fill="#9f9f9f"/>
<polygon points="170,251 117,235 88,227 116,237 169,254" fill="#bababa"/>
<polygon points="200,253 120,239 76,234 119,245 198,259" fill="#aeaeae"/>
<polygon points="76,232 133,246 165,252 134,242 77,227" fill="#a3a3a3"/>
<polygon points="197,248 121,232 80,225 121,236 196,253" fill="#b6b6b6"/>
<polygon points="78,240 142,257 177,263 143,252 79,235" fill="#a4a4a4"/>
<polygon points="56,223 119,241 154,248 120,237 57,219" fill="#ababab"/>
<polygon points="407,166 462,218 493,245 464,216 409,163" fill="#9e9e9e"/>
<polygon points="406,168 500,261 552,310 502,259 408,166" fill="#b8b8b8"/>
<polygon points="378,133 464,223 511,270 466,221 381,130" fill="#ababab"/>
<polygon points="513,271 441,201 402,165 438,204 509,274" fill="#afafaf"/>
<polygon points="451,103 429,30 416,-8 425,32 446,104" fill="#a3a3a3"/>
<polygon points="409,1 439,85 456,129 443,83 415,-1" fill="#a1a1a1"/>
<polygon points="648,129 688,160 710,175 690,157 651,126" fill="#a7a7a7"/>
<polygon points="660,146 692,166 711,176 695,162 663,141" fill="#a3a3a3"/>
<polygon points="648,125 682,153 702,166 685,150 651,122" fill="#a6a6a6"/>
<polygon points="648,129 687,157 708,171 688,155 650,126" fill="#ababab"/>
<polygon points="692,108 633,115 601,121 633,120 693,114" fill="#a2a2a2"/>
<polygon points="694,108 602,121 554,131 603,126 695,114" fill="#acacac"/>
<polygon points="674,97 605,108 568,116 605,111 674,100" fill="#b6b6b6"/>
<polygon points="672,103 604,113 568,121 605,117 673,107" fill="#a7a7a7"/>
<polygon points="603,123 656,111 684,102 655,106 602,118" fill="#b4b4b4"/>
<polygon points="35,107 101,88 137,77 101,86 34,104" fill="#a4a4a4"/>
<polygon points="61,97 117,85 148,78 117,83 60,94" fill="#c0c0c0"/>
<polygon points="161,68 70,90 21,105 71,95 163,73" fill="#bfbfbf"/>
<polygon points="359,439 311,501 286,535 314,503 363,442" fill="#b1b1b1"/>
<polygon points="373,410 318,502 289,553 322,505 378,413" fill="#b4b4b4"/>
<polygon points="287,533 346,463 376,423 342,460 282,530" fill="#c0c0c0"/>
<polygon points="303,514 363,444 394,405 360,441 299,511" fill="#aaaaaa"/>
<polygon points="274,555 340,476 375,433 337,473 270,552" fill="#bbbbbb"/>
<polygon points="233,-28 316,13 361,33 319,8 237,-35" fill="#aaaaaa"/>
<polygon points="662,116 564,177 512,212 567,181 665,122" fill="#c1c1c1"/>
<polygon points="548,201 622,148 660,118 620,145 546,198" fill="#b6b6b6"/>
<polygon points="651,123 574,180 534,212 576,183 654,127" fill="#b4b4b4"/>
<polygon points="662,115 595,165 560,194 598,170 666,120" fill="#9f9f9f"/>
<polygon points="699,86 595,163 540,206 597,166 701,89" fill="#b4b4b4"/>
<polygon points="703,93 594,161 537,200 597,166 706,99" fill="#bbbbbb"/>
<polygon points="227,63 211,-65 200,-134 205,-64 220,64" fill="#a3a3a3"/>
<polygon points="224,18 220,-81 216,-134 217,-81 220,18" fill="#a3a3a3"/>
<polygon points="225,79 210,-33 199,-93 204,-32 219,80" fill="#afafaf"/>
<polygon points="222,32 215,-42 210,-81 212,-42 218,32" fill="#b5b5b5"/>
<polygon points="569,525 542,502 526,490 540,504 566,528" fill="#a8a8a8"/>
<polygon points="525,491 554,516 571,529 556,514 527,488" fill="#b9b9b9"/>
<polygon points="535,486 565,510 583,521 568,507 538,482" fill="#b7b7b7"/>
<polygon points="581,529 541,494 518,477 539,497 578,532" fill="#b0b0b0"/>
<polygon points="517,485 545,505 560,515 547,502 520,481" fill="#c2c2c2"/>
<polygon points="512,467 555,504 580,521 558,499 516,462" fill="#a9a9a9"/>
<polygon points="476,286 498,341 512,370 502,339 480,284" fill="#a7a7a7"/>
<polygon points="521,364 501,306 489,275 498,307 518,365" fill="#acacac"/>
<polygon points="495,299 519,370 533,407 522,369 499,298" fill="#adadad"/>
<polygon points="472,274 502,355 519,398 505,354 476,273" fill="#b4b4b4"/>
<polygon points="542,410 515,343 498,308 510,345 536,412" fill="#bebebe"/>
<polygon points="531,408 509,346 495,313 504,348 525,410" fill="#aaaaaa"/>
<polygon points="473,282 500,348 516,383 504,346 479,280" fill="#a6a6a6"/>
<polygon points="485,290 514,384 531,434 517,383 489,289" fill="#a5a5a5"/>
<polygon points="627,104 573,91 543,85 572,94 626,107" fill="#9f9f9f"/>
<polygon points="553,93 596,102 620,105 597,98 554,88" fill="#a4a4a4"/>
<polygon points="549,91 595,101 621,105 596,97 550,87" fill="#aaaaaa"/>
<polygon points="626,109 572,95 543,88 572,97 626,112" fill="#bebebe"/>
<polygon points="564,98 616,107 644,110 617,102 565,91" fill="#b2b2b2"/>
<polygon points="556,94 610,102 639,105 611,99 557,89" fill="#c2c2c2"/>
<polygon points="623,103 586,95 566,92 585,98 622,107" fill="#a9a9a9"/>
<polygon points="199,253 295,258 347,258 296,253 200,248" fill="#acacac"/>
<polygon points="332,277 230,260 174,253 229,265 331,283" fill="#b6b6b6"/>
<polygon points="333,266 238,251 186,245 237,256 332,272" fill="#b9b9b9"/>
<polygon points="190,260 265,269 306,273 266,266 191,257" fill="#adadad"/>
<polygon points="319,270 223,256 171,250 222,261 318,277" fill="#a9a9a9"/>
<polygon points="614,408 643,420 660,423 646,414 616,402" fill="#adadad"/>
<polygon points="643,431 605,413 583,406 602,418 641,437" fill="#b2b2b2"/>
<polygon points="657,433 613,417 589,409 612,420 655,437" fill="#a7a7a7"/>
<polygon points="646,423 604,408 581,401 603,411 644,428" fill="#bfbfbf"/>
<polygon points="534,-86 565,-29 584,0 568,-31 537,-88" fill="#a4a4a4"/>
<polygon points="546,-83 578,-20 596,13 580,-21 548,-84" fill="#adadad"/>
<polygon points="598,17 558,-58 535,-98 554,-56 593,20" fill="#afafaf"/>
<polygon points="526,-91 569,-12 592,31 571,-13 530,-93" fill="#afafaf"/>
<polygon points="599,38 564,-35 544,-73 560,-33 594,40" fill="#b8b8b8"/>
<polygon points="594,12 549,-67 523,-109 545,-65 588,15" fill="#bfbfbf"/>
<polygon points="476,-62 543,21 579,65 545,19 479,-64" fill="#bbbbbb"/>
<polygon points="483,-65 542,1 574,36 543,-1 485,-67" fill="#b0b0b0"/>
<polygon points="512,-20 567,45 599,79 571,43 516,-23" fill="#b0b0b0"/>
<polygon points="591,72 521,-9 482,-51 517,-6 585,76" fill="#aaaaaa"/>
<polygon points="51,75 159,81 218,84 159,79 51,72" fill="#a1a1a1"/>
<polygon points="174,84 99,79 59,79 99,84 173,90" fill="#aeaeae"/>
<polygon points="38,346 33,394 31,420 36,394 42,347" fill="#acacac"/>
<polygon points="40,337 37,392 38,422 42,392 46,337" fill="#b0b0b0"/>
<polygon points="44,316 37,379 36,413 41,380 48,317" fill="#bfbfbf"/>
<polygon points="40,352 33,392 32,414 39,393 46,354" fill="#b7b7b7"/>
<polygon points="45,326 38,391 35,427 41,392 49,326" fill="#b7b7b7"/>
<polygon points="36,425 43,372 45,343 38,371 29,424" fill="#bfbfbf"/>
<polygon points="33,405 38,350 40,320 36,350 29,405" fill="#aaaaaa"/>
<polygon points="38,418 45,354 47,319 40,353 32,418" fill="#a9a9a9"/>
<polygon points="54,40 64,-16 68,-46 61,-16 51,39" fill="#b3b3b3"/>
<polygon points="48,50 57,-2 60,-31 54,-3 44,50" fill="#ababab"/>
<polygon points="65,-32 56,12 54,36 60,13 70,-31" fill="#ababab"/>
<polygon points="60,-50 54,11 53,44 57,11 63,-50" fill="#a9a9a9"/>
<polygon points="122,336 118,370 118,388 122,370 126,336" fill="#adadad"/>
<polygon points="124,391 124,358 121,340 119,358 119,391" fill="#ababab"/>
<polygon points="118,336 118,370 121,388 123,370 124,336" fill="#ababab"/>
<polygon points="125,344 129,382 133,403 133,382 130,343" fill="#aaaaaa"/>
<polygon points="72,361 118,340 143,327 117,336 70,357" fill="#b5b5b5"/>
<polygon points="83,355 121,335 140,322 119,331 80,350" fill="#bfbfbf"/>
<polygon points="391,476 455,491 490,498 456,488 391,472" fill="#c0c0c0"/>
<polygon points="495,512 393,467 337,445 391,472 492,517" fill="#c3c3c3"/>
<polygon points="332,441 429,467 482,480 430,464 333,436" fill="#aaaaaa"/>
<polygon points="338,464 448,490 508,503 449,486 339,458" fill="#ababab"/>
<polygon points="510,508 399,469 339,449 398,472 509,511" fill="#c3c3c3"/>
<polygon points="512,542 569,439 597,382 564,436 506,538" fill="#b4b4b4"/>
<polygon points="590,387 529,497 498,558 533,500 595,390" fill="#c2c2c2"/>
<polygon points="510,575 561,475 587,421 556,473 504,572" fill="#c0c0c0"/>
<polygon points="524,542 566,470 587,431 563,468 520,539" fill="#c3c3c3"/>
<polygon points="637,216 537,255 484,278 538,259 639,220" fill="#b0b0b0"/>
<polygon points="660,204 564,248 513,272 565,250 661,206" fill="#c1c1c1"/>
<polygon points="670,194 591,230 549,252 593,235 673,200" fill="#a7a7a7"/>
<polygon points="675,190 590,228 545,250 592,231 677,195" fill="#c5c5c5"/>
<polygon points="440,175 491,202 519,215 493,198 442,170" fill="#a8a8a8"/>
<polygon points="539,221 499,192 476,179 496,196 536,226" fill="#a8a8a8"/>
<polygon points="460,177 524,213 558,231 525,210 463,173" fill="#b2b2b2"/>
<polygon points="536,238 475,200 441,182 472,205 532,243" fill="#c0c0c0"/>
<polygon points="449,187 489,210 511,221 491,207 451,183" fill="#a4a4a4"/>
<polygon points="534,227 488,200 463,187 486,204 531,232" fill="#a8a8a8"/>
<polygon points="533,211 477,179 446,163 476,182 531,214" fill="#a5a5a5"/>
<polygon points="551,222 493,194 460,181 490,199 548,229" fill="#bbbbbb"/>
<polygon points="433,160 499,201 535,221 501,197 437,155" fill="#a6a6a6"/>
<polygon points="666,-23 594,43 556,79 597,46 669,-19" fill="#b0b0b0"/>
<polygon points="584,57 644,6 675,-23 641,3 581,54" fill="#b9b9b9"/>
<polygon points="662,-9 589,46 551,78 592,50 666,-5" fill="#c2c2c2"/>
<polygon points="564,75 612,36 637,13 609,32 560,70" fill="#a8a8a8"/>
<polygon points="95,213 177,270 222,298 180,265 99,207" fill="#aeaeae"/>
<polygon points="111,221 191,280 235,310 194,276 115,217" fill="#afafaf"/>
<polygon points="108,217 167,257 200,277 169,254 110,214" fill="#adadad"/>
<polygon points="79,192 162,262 208,298 164,259 81,189" fill="#bfbfbf"/>
<polygon points="197,273 123,222 82,196 121,226 194,277" fill="#b7b7b7"/>
<polygon points="633,125 721,125 768,122 721,119 633,118" fill="#a9a9a9"/>
<polygon points="625,128 708,129 753,128 708,126 625,124" fill="#b7b7b7"/>
<polygon points="556,465 634,523 676,553 635,521 558,463" fill="#c2c2c2"/>
<polygon points="532,451 626,515 678,548 629,511 535,446" fill="#b9b9b9"/>
<polygon points="656,544 572,477 526,442 570,479 654,547" fill="#adadad"/>
<polygon points="668,556 587,490 541,456 583,494 664,562" fill="#bebebe"/>
<polygon points="569,482 641,533 681,560 643,531 571,479" fill="#bdbdbd"/>
<polygon points="100,249 221,268 286,277 222,265 101,246" fill="#bfbfbf"/>
<polygon points="257,261 166,250 117,247 166,255 256,266" fill="#b8b8b8"/>
<polygon points="110,252 224,268 285,275 224,265 110,248" fill="#c3c3c3"/>
<polygon points="262,259 180,252 136,250 180,256 261,264" fill="#c2c2c2"/>
<polygon points="267,263 190,257 148,256 190,263 267,270" fill="#bcbcbc"/>
<polygon points="213,268 144,256 107,252 143,262 211,275" fill="#afafaf"/>
<polygon points="579,474 587,386 590,338 584,386 575,474" fill="#bcbcbc"/>
<polygon points="579,460 593,346 599,284 589,345 574,459" fill="#b5b5b5"/>
<polygon points="599,258 582,402 574,480 585,402 602,258" fill="#a3a3a3"/>
<polygon points="592,293 584,387 583,437 590,387 599,293" fill="#b6b6b6"/>
<polygon points="594,287 578,407 570,471 581,407 598,287" fill="#c5c5c5"/>
<polygon points="376,537 483,494 540,469 482,492 375,535" fill="#a7a7a7"/>
<polygon points="535,479 429,513 372,533 430,516 536,482" fill="#ababab"/>
<polygon points="513,477 435,508 394,526 436,510 514,480" fill="#b2b2b2"/>
<polygon points="562,458 459,497 404,520 461,502 565,464" fill="#a4a4a4"/>
<polygon points="536,473 464,493 426,506 465,497 538,478" fill="#ababab"/>
<polygon points="469,468 423,450 398,441 422,452 468,471" fill="#bebebe"/>
<polygon points="387,438 437,459 465,469 438,456 388,435" fill="#bbbbbb"/>
<polygon points="386,444 425,460 447,467 427,456 388,440" fill="#bdbdbd"/>
<polygon points="466,469 428,452 407,445 426,456 463,474" fill="#a2a2a2"/>
<polygon points="180,279 276,353 329,391 279,349 184,274" fill="#bcbcbc"/>
<polygon points="195,337 146,264 119,225 144,265 192,339" fill="#b2b2b2"/>
<polygon points="223,373 163,275 130,223 159,277 217,377" fill="#bebebe"/>
<polygon points="280,236 358,208 400,192 357,205 279,232" fill="#b4b4b4"/>
<polygon points="205,254 340,201 412,171 339,198 203,250" fill="#c0c0c0"/>
<polygon points="422,158 332,190 285,209 334,194 423,163" fill="#bcbcbc"/>
<polygon points="224,234 359,199 431,178 358,195 223,230" fill="#afafaf"/>
<polygon points="388,187 283,229 226,254 284,232 389,190" fill="#b5b5b5"/>
<polygon points="391,168 277,206 217,229 279,211 393,174" fill="#bfbfbf"/>
<polygon points="386,68 353,-43 333,-103 348,-42 380,70" fill="#a4a4a4"/>
<polygon points="377,59 352,-23 336,-67 348,-22 372,61" fill="#bcbcbc"/>
<polygon points="374,40 347,-36 332,-76 344,-35 370,41" fill="#a9a9a9"/>
<polygon points="377,58 351,-48 335,-105 347,-47 374,59" fill="#bbbbbb"/>
<polygon points="112,202 87,178 71,167 82,182 107,207" fill="#bbbbbb"/>
<polygon points="125,234 85,195 62,176 83,198 122,237" fill="#b7b7b7"/>
<polygon points="126,208 99,183 83,171 96,186 123,211" fill="#b3b3b3"/>
<polygon points="128,236 88,199 65,181 85,202 124,240" fill="#aaaaaa"/>
<polygon points="70,167 117,204 143,223 119,202 72,163" fill="#afafaf"/>
<polygon points="648,528 584,489 548,470 582,492 646,531" fill="#bebebe"/>
<polygon points="494,442 571,487 613,509 573,483 497,438" fill="#bebebe"/>
<polygon points="146,325 192,353 218,366 195,349 149,320" fill="#a9a9a9"/>
<polygon points="167,339 205,362 226,373 207,359 169,336" fill="#bfbfbf"/>
<polygon points="210,358 176,335 157,324 174,338 207,362" fill="#adadad"/>
<polygon points="584,144 502,147 458,152 502,153 584,150" fill="#aaaaaa"/>
<polygon points="419,157 507,154 554,150 507,148 419,151" fill="#b5b5b5"/>
<polygon points="574,152 457,151 393,152 457,154 574,155" fill="#a6a6a6"/>
<polygon points="464,157 539,157 579,155 539,152 464,151" fill="#ababab"/>
<polygon points="588,148 489,148 436,149 489,152 588,153" fill="#bbbbbb"/>
<polygon points="140,366 102,322 79,299 98,325 136,370" fill="#bababa"/>
<polygon points="74,295 108,345 128,371 111,343 77,293" fill="#c0c0c0"/>
<polygon points="205,333 193,274 184,243 188,275 199,334" fill="#acacac"/>
<polygon points="178,231 189,289 196,319 192,288 182,230" fill="#b4b4b4"/>
<polygon points="173,239 185,297 192,328 187,297 176,238" fill="#aaaaaa"/>
<polygon points="281,416 233,397 206,387 232,399 280,419" fill="#bababa"/>
<polygon points="212,393 250,412 272,421 252,408 214,389" fill="#c1c1c1"/>
<polygon points="266,411 232,399 214,393 231,401 265,414" fill="#b7b7b7"/>
<polygon points="207,382 255,398 282,405 256,395 208,378" fill="#b7b7b7"/>
<polygon points="280,414 239,402 217,396 238,404 279,417" fill="#b1b1b1"/>
<polygon points="256,392 223,381 204,377 221,386 254,398" fill="#bbbbbb"/>
<polygon points="188,-35 273,-31 319,-30 273,-34 188,-39" fill="#c2c2c2"/>
<polygon points="288,-33 217,-38 178,-38 216,-32 287,-27" fill="#c6c6c6"/>
<polygon points="310,-29 219,-32 170,-32 219,-27 310,-22" fill="#c2c2c2"/>
<polygon points="642,178 614,82 598,31 611,83 638,179" fill="#a8a8a8"/>
<polygon points="182,102 111,125 73,139 112,130 184,108" fill="#c9c9c9"/>
<polygon points="168,111 119,126 93,137 121,132 170,117" fill="#b3b3b3"/>
<polygon points="63,143 134,121 172,108 133,118 61,139" fill="#c8c8c8"/>
<polygon points="266,515 377,468 436,441 375,463 263,509" fill="#a6a6a6"/>
<polygon points="376,456 292,504 247,531 294,508 379,461" fill="#adadad"/>
<polygon points="240,531 346,475 402,444 344,472 238,527" fill="#ababab"/>
<polygon points="291,518 391,469 444,442 389,466 290,515" fill="#bdbdbd"/>
<polygon points="243,531 336,485 386,459 334,481 240,526" fill="#b4b4b4"/>
<polygon points="401,450 311,498 263,525 313,501 403,453" fill="#b8b8b8"/>
<polygon points="503,41 492,-18 484,-50 487,-17 497,42" fill="#adadad"/>
<polygon points="507,59 501,2 496,-28 497,3 502,60" fill="#b2b2b2"/>
<polygon points="488,-36 492,26 495,59 494,26 491,-36" fill="#aeaeae"/>
<polygon points="505,24 496,-38 490,-71 492,-37 499,25" fill="#bebebe"/>
<polygon points="478,-71 489,2 496,42 493,2 482,-71" fill="#b9b9b9"/>
<polygon points="500,40 488,-40 479,-83 483,-39 493,41" fill="#b5b5b5"/>
<polygon points="191,308 259,281 296,265 258,279 190,306" fill="#a6a6a6"/>
<polygon points="229,293 269,277 291,268 268,275 228,290" fill="#acacac"/>
<polygon points="286,271 239,287 215,298 241,292 288,277" fill="#c2c2c2"/>
<polygon points="203,300 259,283 288,271 257,278 201,294" fill="#c7c7c7"/>
<polygon points="232,296 275,280 298,269 274,276 230,292" fill="#bcbcbc"/>
<polygon points="295,263 248,281 223,293 250,286 297,270" fill="#c9c9c9"/>
<polygon points="392,100 311,16 265,-27 306,20 388,105" fill="#b0b0b0"/>
<polygon points="373,92 323,37 294,9 319,40 369,96" fill="#adadad"/>
<polygon points="389,108 323,38 286,1 320,41 385,112" fill="#c1c1c1"/>
<polygon points="334,429 280,386 251,363 278,388 332,432" fill="#b4b4b4"/>
<polygon points="315,410 266,373 239,354 264,376 311,415" fill="#b9b9b9"/>
<polygon points="246,359 301,405 331,429 303,403 249,356" fill="#b8b8b8"/>
<polygon points="314,410 247,362 209,338 244,366 310,415" fill="#bdbdbd"/>
<polygon points="406,458 462,472 493,477 463,467 407,452" fill="#aaaaaa"/>
<polygon points="497,480 439,462 407,453 438,464 496,483" fill="#b3b3b3"/>
<polygon points="572,155 633,115 664,92 630,110 568,149" fill="#a9a9a9"/>
<polygon points="686,87 611,132 571,158 612,135 688,89" fill="#b4b4b4"/>
<polygon points="680,86 633,118 608,136 634,120 683,89" fill="#a8a8a8"/>
<polygon points="684,80 619,117 585,139 621,120 686,83" fill="#c3c3c3"/>
<polygon points="586,330 688,330 743,329 688,326 586,325" fill="#acacac"/>
<polygon points="605,322 700,335 752,340 701,330 606,315" fill="#bbbbbb"/>
<polygon points="798,328 665,326 593,327 664,330 798,333" fill="#b8b8b8"/>
<polygon points="754,332 660,326 610,325 660,331 753,338" fill="#bababa"/>
<polygon points="2,288 88,303 134,310 88,300 3,285" fill="#b9b9b9"/>
<polygon points="134,303 51,291 6,287 50,297 133,310" fill="#b2b2b2"/>
<polygon points="141,307 58,297 13,295 57,303 140,314" fill="#afafaf"/>
<polygon points="-25,288 70,302 121,307 71,297 -24,282" fill="#b3b3b3"/>
<polygon points="587,-13 681,-30 731,-41 680,-35 586,-19" fill="#bfbfbf"/>
<polygon points="600,-17 655,-31 684,-40 654,-35 599,-22" fill="#bebebe"/>
<polygon points="573,-16 655,-33 699,-43 655,-36 572,-20" fill="#a8a8a8"/>
<polygon points="586,-16 663,-34 704,-45 662,-38 585,-20" fill="#b7b7b7"/>
<polygon points="486,310 417,368 381,400 420,370 489,313" fill="#ababab"/>
<polygon points="479,299 393,375 348,417 396,378 483,302" fill="#b2b2b2"/>
<polygon points="484,300 397,369 352,408 399,372 486,303" fill="#bdbdbd"/>
<polygon points="507,282 430,359 390,401 433,362 511,286" fill="#acacac"/>
<polygon points="451,315 396,366 367,395 398,368 453,318" fill="#bdbdbd"/>
<polygon points="508,285 435,343 398,376 439,347 512,290" fill="#b5b5b5"/>
<polygon points="161,-32 275,31 337,64 277,27 164,-37" fill="#bebebe"/>
<polygon points="313,46 233,8 189,-12 231,11 312,49" fill="#a7a7a7"/>
<polygon points="289,29 207,-5 162,-21 205,0 287,35" fill="#c6c6c6"/>
<polygon points="361,61 241,4 176,-25 240,7 359,65" fill="#c2c2c2"/>
<polygon points="162,-20 281,33 346,61 282,31 163,-23" fill="#c8c8c8"/>
<polygon points="392,451 473,461 516,465 473,458 393,448" fill="#a8a8a8"/>
<polygon points="376,442 451,453 492,458 451,450 376,437" fill="#c6c6c6"/>
<polygon points="517,464 432,450 386,444 431,452 517,466" fill="#b0b0b0"/>
<polygon points="490,456 417,445 378,441 417,450 489,462" fill="#c3c3c3"/>
<polygon points="521,461 446,450 405,445 446,453 521,464" fill="#c3c3c3"/>
<polygon points="404,460 479,468 520,470 480,463 404,454" fill="#bcbcbc"/>
<polygon points="404,447 478,461 519,466 479,456 405,441" fill="#cacaca"/>
<polygon points="393,53 432,61 453,64 433,57 394,49" fill="#b9b9b9"/>
<polygon points="444,62 394,50 366,45 393,54 443,68" fill="#b0b0b0"/>
<polygon points="447,58 398,48 371,44 397,52 446,63" fill="#c4c4c4"/>
<polygon points="455,63 407,51 381,46 406,54 454,66" fill="#b6b6b6"/>
<polygon points="171,218 221,173 246,148 219,171 169,215" fill="#c9c9c9"/>
<polygon points="171,221 233,161 265,127 230,158 168,218" fill="#aeaeae"/>
<polygon points="230,155 182,205 158,233 186,208 235,160" fill="#b8b8b8"/>
<polygon points="754,58 688,48 652,44 688,52 754,62" fill="#c4c4c4"/>
<polygon points="745,59 662,55 617,54 662,57 745,62" fill="#acacac"/>
<polygon points="633,50 712,57 756,60 713,54 633,47" fill="#afafaf"/>
<polygon points="650,58 713,60 747,60 713,57 650,54" fill="#c9c9c9"/>
<polygon points="610,44 686,51 727,53 686,48 610,41" fill="#bdbdbd"/>
<polygon points="566,376 546,316 533,285 542,317 562,377" fill="#bababa"/>
<polygon points="534,268 561,346 578,387 566,344 539,266" fill="#c3c3c3"/>
<polygon points="540,294 577,368 598,408 582,366 546,291" fill="#c6c6c6"/>
<polygon points="334,19 347,-35 352,-65 342,-37 327,18" fill="#ababab"/>
<polygon points="352,-60 332,16 323,56 335,16 355,-59" fill="#b0b0b0"/>
<polygon points="340,28 350,-29 354,-61 347,-30 337,27" fill="#bcbcbc"/>
<polygon points="336,56 353,-12 361,-49 349,-13 331,54" fill="#b0b0b0"/>
<polygon points="323,74 342,-2 351,-44 337,-4 316,72" fill="#c2c2c2"/>
<polygon points="344,-61 334,0 329,34 337,1 348,-61" fill="#b9b9b9"/>
<polygon points="683,205 612,187 574,178 611,189 682,208" fill="#c7c7c7"/>
<polygon points="572,178 651,191 693,197 651,188 573,175" fill="#cccccc"/>
<polygon points="688,213 608,192 565,182 608,195 688,216" fill="#b7b7b7"/>
<polygon points="-4,516 71,488 111,471 70,484 -6,511" fill="#adadad"/>
<polygon points="7,508 63,491 93,480 62,487 6,504" fill="#b1b1b1"/>
<polygon points="4,508 57,487 85,475 56,484 2,505" fill="#c3c3c3"/>
<polygon points="81,475 20,500 -12,516 22,505 83,480" fill="#bfbfbf"/>
<polygon points="448,463 369,387 324,348 365,391 444,468" fill="#bbbbbb"/>
<polygon points="464,473 406,419 373,391 402,422 460,477" fill="#cbcbcb"/>
<polygon points="438,441 374,380 338,347 371,382 436,444" fill="#b9b9b9"/>
<polygon points="458,472 402,411 369,381 398,415 453,476" fill="#bebebe"/>
<polygon points="437,237 371,298 337,332 374,302 441,242" fill="#c0c0c0"/>
<polygon points="451,223 396,274 368,303 400,278 455,228" fill="#c5c5c5"/>
<polygon points="437,228 368,302 333,344 372,305 440,231" fill="#bbbbbb"/>
<polygon points="351,331 411,272 442,239 408,269 347,327" fill="#ababab"/>
<polygon points="433,243 373,296 342,325 376,298 436,246" fill="#bdbdbd"/>
<polygon points="360,316 430,254 467,218 426,249 355,311" fill="#cecece"/>
<polygon points="455,223 393,275 361,306 396,279 458,227" fill="#b2b2b2"/>
<polygon points="359,317 405,276 428,253 401,273 355,312" fill="#c1c1c1"/>
<polygon points="395,146 489,86 539,53 487,83 392,141" fill="#b4b4b4"/>
<polygon points="515,67 443,109 405,133 444,111 517,70" fill="#c2c2c2"/>
<polygon points="407,135 474,100 509,79 472,95 405,129" fill="#b3b3b3"/>
<polygon points="170,404 269,497 323,545 271,494 173,401" fill="#aeaeae"/>
<polygon points="183,414 278,507 330,555 281,503 187,410" fill="#bebebe"/>
<polygon points="218,448 302,529 348,571 304,526 221,445" fill="#bababa"/>
<polygon points="339,557 274,495 238,463 271,498 335,561" fill="#cecece"/>
<polygon points="235,464 305,527 343,561 307,525 238,460" fill="#b2b2b2"/>
<polygon points="175,412 280,509 339,560 284,506 179,408" fill="#bdbdbd"/>
<polygon points="209,441 296,521 344,563 298,518 211,438" fill="#b7b7b7"/>
<polygon points="338,556 257,481 212,442 255,483 336,559" fill="#c4c4c4"/>
<polygon points="366,578 273,493 221,448 269,497 362,583" fill="#b8b8b8"/>
<polygon points="176,529 170,473 166,443 167,474 172,530" fill="#aeaeae"/>
<polygon points="157,451 164,497 170,521 169,496 163,451" fill="#b9b9b9"/>
<polygon points="172,513 165,458 161,429 163,459 169,513" fill="#c9c9c9"/>
<polygon points="172,516 167,475 163,453 164,475 168,516" fill="#afafaf"/>
<polygon points="237,191 306,235 344,257 307,233 239,188" fill="#c8c8c8"/>
<polygon points="243,208 321,260 364,286 323,256 246,203" fill="#c3c3c3"/>
<polygon points="352,266 302,234 274,218 300,238 349,271" fill="#c7c7c7"/>
<polygon points="331,261 275,220 244,199 273,223 328,264" fill="#c9c9c9"/>
<polygon points="244,203 305,242 339,261 308,238 247,197" fill="#bdbdbd"/>
<polygon points="258,208 305,239 331,255 306,237 260,206" fill="#b2b2b2"/>
<polygon points="353,269 295,227 262,206 291,231 349,275" fill="#b3b3b3"/>
<polygon points="617,236 582,174 561,142 578,176 612,239" fill="#c9c9c9"/>
<polygon points="618,236 593,190 579,166 591,192 615,238" fill="#aeaeae"/>
<polygon points="103,98 29,78 -11,69 28,82 102,103" fill="#cbcbcb"/>
<polygon points="-5,68 48,76 77,79 49,72 -4,63" fill="#cbcbcb"/>
<polygon points="-20,68 44,83 79,89 46,78 -18,61" fill="#b9b9b9"/>
<polygon points="61,88 4,75 -28,69 3,78 60,92" fill="#adadad"/>
<polygon points="15,73 62,79 87,80 62,75 16,69" fill="#c4c4c4"/>
<polygon points="129,238 41,243 -6,247 41,248 129,244" fill="#b3b3b3"/>
<polygon points="87,244 27,243 -4,244 27,247 86,250" fill="#b3b3b3"/>
<polygon points="-42,259 61,253 117,247 61,247 -42,252" fill="#cfcfcf"/>
<polygon points="106,242 1,244 -56,247 1,249 106,248" fill="#c9c9c9"/>
<polygon points="-5,254 95,248 149,243 95,244 -5,249" fill="#c9c9c9"/>
<polygon points="-24,259 79,252 135,246 79,248 -25,254" fill="#c3c3c3"/>
<polygon points="114,239 53,239 21,241 53,242 114,242" fill="#c1c1c1"/>
<polygon points="487,277 576,279 624,278 576,274 487,272" fill="#c3c3c3"/>
<polygon points="581,274 486,276 434,279 486,279 581,277" fill="#b4b4b4"/>
<polygon points="574,278 493,273 449,273 493,278 574,284" fill="#cdcdcd"/>
<polygon points="470,287 557,294 604,295 557,288 470,281" fill="#cccccc"/>
<polygon points="192,553 237,446 260,387 234,444 188,552" fill="#b0b0b0"/>
<polygon points="250,430 205,530 183,585 209,532 254,432" fill="#c8c8c8"/>
<polygon points="195,534 234,464 254,426 230,462 190,531" fill="#b9b9b9"/>
<polygon points="202,549 229,489 243,457 227,488 199,547" fill="#d0d0d0"/>
<polygon points="191,548 230,471 249,428 225,468 185,545" fill="#c4c4c4"/>
<polygon points="198,565 246,465 271,411 244,464 195,564" fill="#b5b5b5"/>
<polygon points="36,334 79,364 104,378 82,360 40,328" fill="#c6c6c6"/>
<polygon points="111,366 70,340 46,329 67,345 107,372" fill="#cccccc"/>
<polygon points="49,339 92,364 116,376 94,360 53,334" fill="#c3c3c3"/>
<polygon points="115,379 71,352 46,340 68,357 112,384" fill="#cccccc"/>
<polygon points="694,88 640,120 612,139 643,125 698,94" fill="#c4c4c4"/>
<polygon points="623,128 678,93 707,73 677,91 622,125" fill="#c5c5c5"/>
<polygon points="599,147 668,105 704,81 666,102 597,143" fill="#bababa"/>
<polygon points="631,122 695,83 728,60 693,80 628,119" fill="#c9c9c9"/>
<polygon points="729,65 655,111 616,137 657,114 731,69" fill="#b4b4b4"/>
<polygon points="649,134 701,98 728,77 698,94 646,129" fill="#bfbfbf"/>
<polygon points="727,75 647,120 605,146 649,123 730,79" fill="#b7b7b7"/>
<polygon points="436,-15 467,48 485,82 470,47 440,-17" fill="#bababa"/>
<polygon points="436,-20 464,37 481,66 469,34 442,-22" fill="#b5b5b5"/>
<polygon points="439,-5 460,38 472,60 463,36 443,-7" fill="#cdcdcd"/>
<polygon points="462,8 486,56 499,81 488,55 465,7" fill="#c4c4c4"/>
<polygon points="453,-6 487,60 506,96 489,59 456,-8" fill="#c6c6c6"/>
<polygon points="489,87 463,39 448,14 460,41 485,90" fill="#bbbbbb"/>
<polygon points="432,-9 468,56 489,89 472,53 437,-12" fill="#bababa"/>
<polygon points="447,10 475,70 492,101 480,68 453,7" fill="#b0b0b0"/>
<polygon points="-14,237 60,253 100,260 61,250 -13,234" fill="#c7c7c7"/>
<polygon points="86,259 19,243 -18,236 18,246 85,263" fill="#b2b2b2"/>
<polygon points="69,263 13,246 -18,237 12,248 68,266" fill="#cfcfcf"/>
<polygon points="82,256 32,243 5,238 31,247 81,261" fill="#d1d1d1"/>
<polygon points="77,259 4,239 -36,230 3,243 76,264" fill="#c1c1c1"/>
<polygon points="205,218 210,277 214,308 213,276 209,217" fill="#b8b8b8"/>
<polygon points="211,205 225,292 234,339 229,292 216,205" fill="#cbcbcb"/>
<polygon points="227,279 219,220 214,189 216,221 223,280" fill="#cbcbcb"/>
<polygon points="233,345 216,247 206,195 214,247 230,345" fill="#c3c3c3"/>
<polygon points="201,175 213,266 220,316 215,266 204,175" fill="#cecece"/>
<polygon points="211,211 216,299 222,346 222,299 217,211" fill="#bcbcbc"/>
<polygon points="243,371 289,373 313,373 289,370 244,366" fill="#d2d2d2"/>
<polygon points="281,94 347,76 382,64 346,73 280,91" fill="#c6c6c6"/>
<polygon points="358,71 310,83 285,90 311,85 359,74" fill="#d1d1d1"/>
<polygon points="374,68 329,81 305,90 330,85 375,72" fill="#cdcdcd"/>
<polygon points="430,485 382,436 355,411 379,439 426,489" fill="#c0c0c0"/>
<polygon points="337,386 385,436 413,461 389,432 341,382" fill="#c3c3c3"/>
<polygon points="398,457 363,420 342,402 359,424 393,461" fill="#c2c2c2"/>
<polygon points="417,458 373,417 348,396 370,420 413,463" fill="#cccccc"/>
<polygon points="429,481 385,439 361,418 382,442 426,485" fill="#b4b4b4"/>
<polygon points="338,388 389,440 418,468 391,438 340,386" fill="#bababa"/>
<polygon points="429,262 361,152 322,93 357,154 424,265" fill="#c7c7c7"/>
<polygon points="328,96 386,196 419,248 390,194 332,94" fill="#b0b0b0"/>
<polygon points="317,77 382,197 419,261 385,195 320,76" fill="#b3b3b3"/>
<polygon points="310,67 372,173 406,229 374,171 313,66" fill="#cdcdcd"/>
<polygon points="550,385 505,339 480,315 503,341 548,387" fill="#b9b9b9"/>
<polygon points="460,302 530,374 570,411 534,370 465,298" fill="#c0c0c0"/>
<polygon points="570,406 520,350 492,321 516,353 566,410" fill="#d0d0d0"/>
<polygon points="498,340 545,393 572,420 549,389 503,335" fill="#c7c7c7"/>
<polygon points="473,311 525,363 554,390 527,361 476,308" fill="#bababa"/>
<polygon points="496,325 544,369 572,391 548,365 500,321" fill="#b6b6b6"/>
<polygon points="360,114 325,193 308,236 329,195 364,116" fill="#c9c9c9"/>
<polygon points="313,223 343,165 358,134 340,164 309,221" fill="#b3b3b3"/>
<polygon points="290,265 329,195 349,157 326,193 286,263" fill="#bebebe"/>
<polygon points="292,251 332,184 351,148 327,182 287,248" fill="#bcbcbc"/>
<polygon points="360,119 323,187 305,225 327,190 365,122" fill="#cacaca"/>
<polygon points="290,271 336,183 360,135 334,182 288,269" fill="#b1b1b1"/>
<polygon points="601,309 539,338 506,354 540,340 602,312" fill="#b4b4b4"/>
<polygon points="604,304 533,342 495,364 534,345 606,308" fill="#cccccc"/>
<polygon points="570,197 585,342 595,420 588,342 573,197" fill="#cfcfcf"/>
<polygon points="566,214 590,340 605,408 596,339 573,212" fill="#b6b6b6"/>
<polygon points="556,168 594,293 617,360 599,292 562,166" fill="#c6c6c6"/>
<polygon points="605,368 591,286 582,242 588,287 602,369" fill="#b9b9b9"/>
<polygon points="284,380 212,358 173,349 210,364 282,387" fill="#c1c1c1"/>
<polygon points="313,388 201,355 140,339 200,358 312,390" fill="#c0c0c0"/>
<polygon points="302,391 194,351 136,331 193,355 300,396" fill="#c8c8c8"/>
<polygon points="302,394 214,359 166,342 213,362 301,397" fill="#c8c8c8"/>
<polygon points="299,-1 402,4 458,5 402,1 299,-5" fill="#b5b5b5"/>
<polygon points="462,-1 342,7 278,14 343,13 462,6" fill="#bebebe"/>
<polygon points="274,10 349,9 389,7 349,6 274,6" fill="#cdcdcd"/>
<polygon points="61,289 133,296 172,298 134,291 62,282" fill="#cacaca"/>
<polygon points="62,291 124,296 158,296 125,290 63,284" fill="#d5d5d5"/>
<polygon points="183,292 122,290 89,291 122,296 183,299" fill="#bababa"/>
<polygon points="183,295 126,288 95,285 125,291 182,299" fill="#cacaca"/>
<polygon points="67,286 131,296 166,300 132,291 68,279" fill="#b6b6b6"/>
<polygon points="181,184 149,137 131,112 147,139 177,186" fill="#cfcfcf"/>
<polygon points="122,111 157,157 177,181 160,155 125,108" fill="#d3d3d3"/>
<polygon points="195,197 156,138 133,107 152,140 190,200" fill="#cfcfcf"/>
<polygon points="170,381 247,459 291,500 252,455 175,376" fill="#c6c6c6"/>
<polygon points="282,484 225,430 193,402 222,432 279,487" fill="#b3b3b3"/>
<polygon points="511,207 451,157 416,132 447,161 507,212" fill="#d4d4d4"/>
<polygon points="540,22 573,50 593,63 577,46 544,17" fill="#d3d3d3"/>
<polygon points="587,51 560,31 544,23 557,36 582,57" fill="#c7c7c7"/>
<polygon points="535,22 567,48 585,60 569,45 537,19" fill="#c0c0c0"/>
<polygon points="545,32 572,53 588,62 575,48 549,26" fill="#cacaca"/>
<polygon points="583,59 553,33 535,20 551,35 581,62" fill="#bcbcbc"/>
<polygon points="596,63 567,38 550,26 565,41 593,66" fill="#b7b7b7"/>
<polygon points="654,509 616,458 595,430 614,459 651,511" fill="#d2d2d2"/>
<polygon points="666,535 611,460 580,421 608,462 663,538" fill="#b5b5b5"/>
<polygon points="581,430 645,510 682,552 649,507 586,426" fill="#b5b5b5"/>
<polygon points="616,462 651,514 673,540 656,510 622,458" fill="#b3b3b3"/>
<polygon points="693,553 636,478 605,438 634,480 690,555" fill="#bcbcbc"/>
<polygon points="581,397 640,489 673,537 644,486 586,394" fill="#c4c4c4"/>
<polygon points="597,448 648,512 677,545 651,509 600,445" fill="#b5b5b5"/>
<polygon points="647,376 677,435 694,466 680,433 651,374" fill="#cecece"/>
<polygon points="706,499 674,440 655,409 670,442 702,501" fill="#c0c0c0"/>
<polygon points="654,398 682,462 699,496 686,460 660,396" fill="#cdcdcd"/>
<polygon points="708,501 671,430 650,392 668,431 705,502" fill="#d3d3d3"/>
<polygon points="522,327 522,242 522,196 520,242 518,327" fill="#bababa"/>
<polygon points="482,287 465,397 458,456 469,397 487,288" fill="#d6d6d6"/>
<polygon points="479,282 463,415 456,486 467,415 485,283" fill="#c1c1c1"/>
<polygon points="449,469 465,368 471,314 461,368 444,468" fill="#d1d1d1"/>
<polygon points="454,439 467,350 472,301 463,349 449,438" fill="#c8c8c8"/>
<polygon points="459,457 474,347 480,288 470,346 454,456" fill="#c7c7c7"/>
<polygon points="404,324 360,328 336,333 360,333 405,329" fill="#c0c0c0"/>
<polygon points="408,329 363,330 339,334 363,336 408,335" fill="#b6b6b6"/>
<polygon points="343,339 386,335 409,331 385,330 343,333" fill="#cfcfcf"/>
<polygon points="328,342 383,335 413,330 383,332 327,338" fill="#c4c4c4"/>
<polygon points="418,322 364,328 335,333 364,331 418,325" fill="#d1d1d1"/>
<polygon points="648,149 656,210 662,243 659,210 651,148" fill="#bdbdbd"/>
<polygon points="386,-22 358,88 344,148 360,89 389,-21" fill="#c7c7c7"/>
<polygon points="352,161 376,35 387,-33 372,35 348,161" fill="#cccccc"/>
<polygon points="360,144 378,-3 387,-83 375,-4 355,143" fill="#cfcfcf"/>
<polygon points="362,107 387,-13 398,-79 382,-15 356,106" fill="#d5d5d5"/>
<polygon points="453,231 464,267 471,286 466,266 456,230" fill="#cecece"/>
<polygon points="481,301 462,252 450,227 457,254 475,303" fill="#d3d3d3"/>
<polygon points="482,288 468,259 459,244 465,260 479,289" fill="#c8c8c8"/>
<polygon points="436,220 456,268 470,293 462,266 443,218" fill="#d5d5d5"/>
<polygon points="453,242 466,276 476,293 471,274 459,240" fill="#cecece"/>
<polygon points="377,35 303,26 264,22 303,30 376,40" fill="#bababa"/>
<polygon points="257,18 332,29 372,33 332,25 258,14" fill="#b7b7b7"/>
<polygon points="357,27 276,16 231,13 275,22 356,34" fill="#bababa"/>
<polygon points="369,24 268,15 214,12 268,19 368,29" fill="#c7c7c7"/>
<polygon points="370,35 279,17 229,10 277,23 369,42" fill="#cdcdcd"/>
<polygon points="365,22 299,17 263,16 298,22 364,28" fill="#b8b8b8"/>
<polygon points="661,432 619,455 598,469 621,459 664,437" fill="#c1c1c1"/>
<polygon points="579,493 636,462 666,444 634,458 576,489" fill="#c8c8c8"/>
<polygon points="683,431 630,459 602,476 632,464 686,437" fill="#cdcdcd"/>
<polygon points="663,439 618,462 594,475 619,464 665,442" fill="#cccccc"/>
<polygon points="436,111 363,99 323,95 362,105 434,118" fill="#c0c0c0"/>
<polygon points="432,112 359,98 319,93 358,103 431,117" fill="#c9c9c9"/>
<polygon points="297,80 384,108 432,121 386,104 298,75" fill="#b5b5b5"/>
<polygon points="444,119 377,102 341,96 376,108 442,125" fill="#d6d6d6"/>
<polygon points="443,112 350,94 300,87 349,100 441,119" fill="#c3c3c3"/>
<polygon points="598,430 545,408 516,397 544,410 597,432" fill="#bababa"/>
<polygon points="606,429 538,400 500,386 536,403 605,432" fill="#b5b5b5"/>
<polygon points="500,395 556,411 587,418 557,408 501,392" fill="#bfbfbf"/>
<polygon points="631,431 555,409 513,400 553,414 630,437" fill="#b5b5b5"/>
<polygon points="500,398 584,427 630,440 586,422 502,392" fill="#c8c8c8"/>
<polygon points="191,-64 214,41 228,97 219,40 197,-65" fill="#c6c6c6"/>
<polygon points="224,138 208,11 198,-56 203,12 218,139" fill="#cfcfcf"/>
<polygon points="232,115 212,9 200,-47 209,10 228,115" fill="#b7b7b7"/>
<polygon points="175,-69 209,44 228,105 212,43 179,-70" fill="#c9c9c9"/>
<polygon points="279,101 172,152 116,183 174,157 282,107" fill="#c2c2c2"/>
<polygon points="121,180 194,142 232,119 191,137 117,174" fill="#cbcbcb"/>
<polygon points="101,182 199,141 251,117 197,136 98,176" fill="#c9c9c9"/>
<polygon points="128,-16 26,35 -28,63 28,38 130,-12" fill="#d8d8d8"/>
<polygon points="166,-37 35,29 -34,66 37,33 168,-32" fill="#cccccc"/>
<polygon points="-65,95 46,32 105,-4 44,28 -68,91" fill="#cdcdcd"/>
<polygon points="98,-3 -8,53 -65,85 -7,55 99,-1" fill="#d8d8d8"/>
<polygon points="688,194 637,215 610,228 638,218 690,198" fill="#d3d3d3"/>
<polygon points="584,234 646,216 678,206 645,214 583,231" fill="#c0c0c0"/>
<polygon points="700,191 626,215 587,230 628,219 702,196" fill="#c4c4c4"/>
<polygon points="699,187 625,212 585,228 626,217 700,192" fill="#c5c5c5"/>
<polygon points="601,231 651,213 677,201 649,208 599,225" fill="#d6d6d6"/>
<polygon points="720,27 680,47 659,60 682,52 723,33" fill="#c7c7c7"/>
<polygon points="300,44 250,-12 222,-42 248,-11 298,46" fill="#d9d9d9"/>
<polygon points="429,131 403,71 387,40 400,73 425,133" fill="#c0c0c0"/>
<polygon points="417,111 398,69 386,47 395,71 413,113" fill="#cfcfcf"/>
<polygon points="378,36 398,88 410,115 401,86 381,34" fill="#c7c7c7"/>
<polygon points="376,31 408,102 428,139 414,100 382,28" fill="#b7b7b7"/>
<polygon points="431,131 397,64 377,28 394,65 428,133" fill="#c5c5c5"/>
<polygon points="166,-2 258,52 309,79 261,47 169,-7" fill="#bebebe"/>
<polygon points="170,11 256,56 304,78 258,52 172,6" fill="#b8b8b8"/>
<polygon points="338,82 247,32 198,6 246,34 336,84" fill="#cfcfcf"/>
<polygon points="435,42 531,46 583,46 531,40 435,35" fill="#d8d8d8"/>
<polygon points="563,42 432,39 361,40 432,43 563,46" fill="#c6c6c6"/>
<polygon points="370,42 490,49 555,51 491,45 370,38" fill="#bcbcbc"/>
<polygon points="579,40 463,37 400,37 462,41 578,45" fill="#d3d3d3"/>
<polygon points="542,47 454,44 407,44 454,49 541,53" fill="#d4d4d4"/>
<polygon points="281,-55 299,51 311,108 304,50 288,-56" fill="#c0c0c0"/>
<polygon points="280,-65 299,41 312,97 304,40 286,-66" fill="#d6d6d6"/>
<polygon points="312,105 298,13 289,-36 294,13 307,106" fill="#d3d3d3"/>
<polygon points="312,96 295,9 284,-38 292,9 309,97" fill="#d4d4d4"/>
<polygon points="314,127 300,-1 291,-70 296,-1 309,127" fill="#bcbcbc"/>
<polygon points="584,503 661,476 702,460 659,472 582,497" fill="#cccccc"/>
<polygon points="717,451 640,476 599,492 642,481 719,456" fill="#cacaca"/>
<polygon points="688,458 624,480 590,494 625,485 690,464" fill="#d7d7d7"/>
<polygon points="380,314 500,323 564,325 500,317 381,307" fill="#cdcdcd"/>
<polygon points="540,308 436,304 380,303 436,307 540,312" fill="#c4c4c4"/>
<polygon points="538,317 432,303 374,296 431,305 538,320" fill="#c5c5c5"/>
<polygon points="394,308 526,315 598,316 527,310 394,303" fill="#cfcfcf"/>
<polygon points="544,313 441,302 385,298 441,305 543,317" fill="#d7d7d7"/>
<polygon points="365,295 503,312 577,321 503,310 365,292" fill="#d2d2d2"/>
<polygon points="103,272 155,266 183,260 154,262 102,268" fill="#c7c7c7"/>
<polygon points="201,255 124,270 83,280 125,274 202,260" fill="#c9c9c9"/>
<polygon points="97,275 170,265 208,259 169,263 97,272" fill="#c0c0c0"/>
<polygon points="348,25 241,30 184,34 241,33 348,29" fill="#cccccc"/>
<polygon points="215,34 325,32 385,29 325,27 215,28" fill="#c5c5c5"/>
<polygon points="328,23 232,13 180,10 232,18 328,29" fill="#c8c8c8"/>
<polygon points="184,24 275,26 324,24 275,20 185,17" fill="#c5c5c5"/>
<polygon points="288,-5 360,41 400,65 362,38 290,-9" fill="#c5c5c5"/>
<polygon points="424,71 328,13 276,-17 327,16 422,73" fill="#b8b8b8"/>
<polygon points="253,-18 371,38 435,66 372,34 255,-21" fill="#d3d3d3"/>
<polygon points="286,-3 392,58 450,89 394,53 289,-8" fill="#c1c1c1"/>
<polygon points="264,-24 372,46 430,82 374,43 267,-28" fill="#c0c0c0"/>
<polygon points="442,91 385,76 355,69 385,79 441,94" fill="#cbcbcb"/>
<polygon points="430,90 366,70 331,61 364,76 427,97" fill="#cacaca"/>
<polygon points="413,83 366,73 340,70 364,78 411,89" fill="#cecece"/>
<polygon points="415,98 360,83 330,77 359,88 413,104" fill="#bcbcbc"/>
<polygon points="569,179 522,267 498,315 525,268 572,181" fill="#dadada"/>
<polygon points="563,188 521,263 501,304 526,265 568,191" fill="#cdcdcd"/>
<polygon points="503,293 559,200 588,149 555,197 498,290" fill="#c1c1c1"/>
<polygon points="572,164 516,269 487,326 518,270 575,166" fill="#d7d7d7"/>
<polygon points="518,298 559,203 579,151 555,201 513,295" fill="#d5d5d5"/>
<polygon points="501,304 548,231 570,190 543,228 496,300" fill="#cccccc"/>
<polygon points="283,40 326,78 350,96 330,73 288,35" fill="#d6d6d6"/>
<polygon points="282,30 321,69 343,89 323,67 284,28" fill="#c6c6c6"/>
<polygon points="288,33 335,78 362,100 339,74 293,28" fill="#d8d8d8"/>
<polygon points="294,35 335,77 359,98 339,73 299,30" fill="#c3c3c3"/>
<polygon points="357,87 323,54 303,37 319,57 353,91" fill="#c8c8c8"/>
<polygon points="351,92 311,50 288,29 309,53 348,95" fill="#cccccc"/>
<polygon points="229,469 269,461 290,455 268,458 228,465" fill="#c9c9c9"/>
<polygon points="197,478 263,464 298,454 262,458 196,471" fill="#c6c6c6"/>
<polygon points="284,450 220,469 185,481 221,474 286,456" fill="#dedede"/>
<polygon points="259,462 222,472 202,478 223,475 260,466" fill="#c0c0c0"/>
<polygon points="208,477 276,464 312,455 275,461 208,473" fill="#c3c3c3"/>
<polygon points="202,482 241,472 261,465 239,467 200,475" fill="#d9d9d9"/>
<polygon points="207,477 272,462 306,452 271,457 206,471" fill="#bfbfbf"/>
<polygon points="77,105 83,160 89,189 88,159 82,105" fill="#d9d9d9"/>
<polygon points="77,114 84,161 89,185 87,160 81,114" fill="#d9d9d9"/>
<polygon points="74,121 83,167 90,192 86,167 77,120" fill="#c7c7c7"/>
<polygon points="97,200 89,142 83,111 85,143 93,201" fill="#d2d2d2"/>
<polygon points="502,87 454,104 429,115 456,109 504,94" fill="#cbcbcb"/>
<polygon points="513,65 435,95 394,113 437,98 514,68" fill="#cdcdcd"/>
<polygon points="417,112 498,91 542,78 497,87 416,108" fill="#d1d1d1"/>
<polygon points="411,106 491,83 533,69 490,78 410,100" fill="#dfdfdf"/>
<polygon points="517,73 440,96 399,111 441,101 519,80" fill="#d4d4d4"/>
<polygon points="433,122 504,90 542,71 502,86 431,117" fill="#d8d8d8"/>
<polygon points="402,108 472,90 510,79 472,87 401,104" fill="#c7c7c7"/>
<polygon points="510,88 445,105 411,116 446,109 511,93" fill="#cdcdcd"/>
<polygon points="419,119 475,100 504,87 473,95 418,113" fill="#cecece"/>
<polygon points="485,45 430,78 402,98 433,83 488,51" fill="#dadada"/>
<polygon points="455,54 403,84 375,102 404,87 457,57" fill="#c9c9c9"/>
<polygon points="378,107 448,61 485,35 446,58 375,104" fill="#cdcdcd"/>
<polygon points="389,97 440,69 466,52 438,65 386,92" fill="#c2c2c2"/>
<polygon points="551,191 431,229 366,252 432,234 552,196" fill="#cecece"/>
<polygon points="360,269 461,230 515,208 460,228 359,266" fill="#bdbdbd"/>
<polygon points="520,207 416,242 361,263 417,245 521,211" fill="#bdbdbd"/>
<polygon points="466,385 418,354 392,339 417,357 464,388" fill="#c4c4c4"/>
<polygon points="376,325 442,373 478,397 444,370 378,322" fill="#d8d8d8"/>
<polygon points="463,384 405,340 372,319 401,345 459,389" fill="#e1e1e1"/>
<polygon points="481,392 409,339 370,312 406,343 476,397" fill="#d2d2d2"/>
<polygon points="356,50 415,76 448,89 417,72 358,45" fill="#c6c6c6"/>
<polygon points="318,51 415,93 468,113 417,87 321,44" fill="#d0d0d0"/>
<polygon points="333,64 408,89 449,101 409,86 335,61" fill="#bebebe"/>
<polygon points="499,105 407,69 356,51 405,72 498,110" fill="#dedede"/>
<polygon points="401,66 315,59 269,58 315,63 401,70" fill="#c7c7c7"/>
<polygon points="434,75 341,67 291,64 341,71 434,80" fill="#c8c8c8"/>
<polygon points="389,58 314,55 273,55 314,60 389,64" fill="#c6c6c6"/>
<polygon points="297,70 388,77 438,79 389,72 297,63" fill="#d0d0d0"/>
<polygon points="261,65 369,79 427,84 369,75 261,61" fill="#cbcbcb"/>
<polygon points="300,52 382,61 427,64 383,55 301,45" fill="#dcdcdc"/>
<polygon points="70,89 150,47 193,22 148,42 67,83" fill="#c8c8c8"/>
<polygon points="37,116 145,55 203,20 143,51 34,111" fill="#d8d8d8"/>
<polygon points="26,111 135,56 192,26 133,53 24,106" fill="#d8d8d8"/>
<polygon points="54,105 125,67 163,45 123,63 52,101" fill="#d8d8d8"/>
<polygon points="150,39 64,83 19,108 66,86 152,43" fill="#cecece"/>
<polygon points="157,257 247,305 296,329 249,301 160,251" fill="#c9c9c9"/>
<polygon points="529,48 467,82 434,102 469,86 532,53" fill="#dfdfdf"/>
<polygon points="431,109 498,76 533,57 496,73 429,105" fill="#d9d9d9"/>
<polygon points="528,51 480,82 455,100 482,85 530,55" fill="#cbcbcb"/>
<polygon points="407,127 474,81 510,55 472,77 404,122" fill="#dedede"/>
<polygon points="423,112 495,74 533,52 493,70 420,108" fill="#d5d5d5"/>
<polygon points="113,338 228,317 290,305 228,314 113,334" fill="#dddddd"/>
<polygon points="315,315 233,326 190,334 234,331 315,321" fill="#e0e0e0"/>
<polygon points="139,322 251,317 311,313 250,314 139,318" fill="#c2c2c2"/>
<polygon points="183,334 262,332 305,328 262,326 183,328" fill="#c9c9c9"/>
<polygon points="287,310 216,320 178,327 217,325 288,316" fill="#e4e4e4"/>
<polygon points="287,45 329,57 352,62 330,54 288,42" fill="#e2e2e2"/>
<polygon points="285,44 329,57 354,61 331,51 287,37" fill="#d1d1d1"/>
<polygon points="362,46 291,31 253,25 290,36 360,53" fill="#e0e0e0"/>
<polygon points="32,113 103,118 142,119 104,115 32,110" fill="#d9d9d9"/>
<polygon points="14,126 127,124 188,121 127,121 14,123" fill="#e5e5e5"/>
<polygon points="177,109 72,114 15,118 72,119 177,116" fill="#dedede"/>
<polygon points="193,119 100,119 50,122 100,124 193,124" fill="#c9c9c9"/>
<polygon points="22,115 145,120 212,121 145,116 22,110" fill="#d2d2d2"/>
<polygon points="-9,112 113,116 178,115 113,110 -8,106" fill="#dddddd"/>
<polygon points="489,22 498,100 505,141 501,99 492,22" fill="#c5c5c5"/>
<polygon points="473,47 484,102 493,131 490,101 480,46" fill="#e4e4e4"/>
<polygon points="489,124 483,71 478,43 480,71 485,124" fill="#d1d1d1"/>
<polygon points="476,40 482,87 487,112 485,86 479,40" fill="#dedede"/>
<polygon points="497,131 489,65 482,30 484,66 492,132" fill="#cdcdcd"/>
<polygon points="179,246 262,324 308,365 265,321 183,242" fill="#c7c7c7"/>
<polygon points="281,336 199,253 153,210 195,257 276,341" fill="#e7e7e7"/>
<polygon points="188,243 242,295 272,321 245,291 192,239" fill="#dbdbdb"/>
<polygon points="286,333 221,280 183,253 217,284 282,339" fill="#c7c7c7"/>
<polygon points="187,245 274,325 322,366 277,322 190,242" fill="#e6e6e6"/>
<polygon points="283,317 217,263 180,235 214,266 280,321" fill="#cbcbcb"/>
<polygon points="308,345 237,281 197,248 234,284 305,349" fill="#e7e7e7"/>
<polygon points="-5,86 107,122 168,139 108,118 -3,81" fill="#cccccc"/>
<polygon points="141,141 52,109 3,93 50,113 139,146" fill="#e3e3e3"/>
<polygon points="183,146 72,119 12,106 71,123 182,151" fill="#d8d8d8"/>
<polygon points="200,150 75,116 7,99 73,120 199,155" fill="#dadada"/>
<polygon points="383,60 472,72 520,77 472,69 383,57" fill="#e0e0e0"/>
<polygon points="499,78 421,59 379,51 420,64 497,84" fill="#d3d3d3"/>
<polygon points="478,69 411,58 375,54 411,63 477,75" fill="#dcdcdc"/>
<polygon points="514,88 429,65 382,54 428,68 513,92" fill="#dfdfdf"/>
<polygon points="362,55 441,70 483,77 441,68 362,52" fill="#e7e7e7"/>
<polygon points="225,21 320,42 372,51 321,38 226,16" fill="#d4d4d4"/>
<polygon points="369,42 497,76 566,92 498,72 370,38" fill="#c8c8c8"/>
<polygon points="465,111 343,76 277,59 342,80 463,115" fill="#d3d3d3"/>
<polygon points="168,27 318,50 399,61 319,47 169,24" fill="#d7d7d7"/>
<polygon points="376,79 288,59 240,50 287,63 375,84" fill="#e0e0e0"/>
<polygon points="501,71 426,52 385,43 425,55 500,76" fill="#b7b7b7"/>
<polygon points="381,71 272,53 212,46 271,58 380,77" fill="#bbbbbb"/>
<polygon points="453,68 356,45 303,34 355,48 453,71" fill="#b5b5b5"/>
<polygon points="437,66 286,40 205,27 286,42 436,69" fill="#dadada"/>
<polygon points="390,72 460,87 498,94 461,83 391,67" fill="#b6b6b6"/>
<polygon points="348,65 439,80 488,86 439,76 348,61" fill="#afafaf"/>
<polygon points="253,30 381,47 451,54 382,44 253,27" fill="#e0e0e0"/>
<polygon points="327,56 471,86 548,99 472,81 329,50" fill="#dddddd"/>
<polygon points="283,64 372,83 421,92 373,79 285,58" fill="#c6c6c6"/>
<polygon points="363,66 455,90 505,102 457,86 365,61" fill="#dadada"/>
<polygon points="550,110 437,85 376,74 436,90 548,116" fill="#bababa"/>
<polygon points="358,64 435,78 476,84 435,76 359,62" fill="#c1c1c1"/>
<polygon points="353,48 434,64 478,72 434,62 354,45" fill="#cfcfcf"/>
<polygon points="487,80 371,66 309,59 371,68 486,83" fill="#c5c5c5"/>
<polygon points="319,55 460,94 536,113 461,90 320,50" fill="#c6c6c6"/>
<polygon points="398,77 469,92 507,98 470,87 400,71" fill="#b9b9b9"/>
<polygon points="308,45 436,80 505,97 437,75 309,40" fill="#d9d9d9"/>
<polygon points="543,91 449,75 398,69 448,80 542,97" fill="#d0d0d0"/>
<polygon points="244,15 376,43 447,57 376,41 244,12" fill="#c7c7c7"/>
<polygon points="405,82 484,99 527,106 485,95 406,77" fill="#dfdfdf"/>
<polygon points="275,47 405,73 475,85 406,68 276,41" fill="#bcbcbc"/>
<polygon points="311,19 384,31 424,36 385,27 311,14" fill="#b8b8b8"/>
<polygon points="408,34 464,44 494,48 465,40 409,29" fill="#c0c0c0"/>
<polygon points="358,17 453,43 504,55 454,38 359,12" fill="#c1c1c1"/>
<polygon points="523,54 447,37 406,30 447,40 522,56" fill="#c9c9c9"/>
<polygon points="564,56 487,45 445,41 486,50 563,62" fill="#a4a4a4"/>
<polygon points="441,34 511,50 549,57 511,47 441,31" fill="#acacac"/>
<polygon points="533,54 424,42 365,38 424,46 532,59" fill="#bdbdbd"/>
<polygon points="438,35 520,57 565,67 521,54 439,32" fill="#a0a0a0"/>
<polygon points="475,37 401,25 361,20 400,29 474,41" fill="#cccccc"/>
<polygon points="425,35 479,47 508,52 480,43 426,31" fill="#aeaeae"/>
<polygon points="444,34 516,48 555,53 517,43 445,28" fill="#c0c0c0"/>
<polygon points="472,42 385,24 337,17 384,29 471,47" fill="#aaaaaa"/>
<polygon points="225,367 211,428 204,461 213,429 228,368" fill="#d4d4d4"/>
<polygon points="259,219 238,309 229,358 243,310 265,220" fill="#c9c9c9"/>
<polygon points="248,282 234,341 227,373 237,342 252,283" fill="#d8d8d8"/>
<polygon points="240,255 227,302 221,328 230,303 244,256" fill="#e2e2e2"/>
<polygon points="226,406 241,335 248,296 239,334 224,406" fill="#c3c3c3"/>
<polygon points="249,282 229,367 221,413 234,368 254,284" fill="#d2d2d2"/>
<polygon points="235,267 219,343 212,384 222,344 239,268" fill="#bfbfbf"/>
<polygon points="236,315 215,403 205,450 218,403 239,315" fill="#dcdcdc"/>
<polygon points="181,460 205,377 216,332 202,376 177,459" fill="#c8c8c8"/>
<polygon points="220,370 208,424 203,453 212,425 225,371" fill="#dedede"/>
<polygon points="227,391 247,324 256,287 242,322 221,389" fill="#d9d9d9"/>
<polygon points="201,355 180,437 170,483 185,439 207,356" fill="#e3e3e3"/>
<polygon points="212,393 242,313 257,269 239,312 209,391" fill="#bbbbbb"/>
<polygon points="210,410 228,359 236,331 225,358 207,409" fill="#e2e2e2"/>
<polygon points="234,355 254,271 263,226 250,270 229,354" fill="#dddddd"/>
<polygon points="200,449 221,373 232,331 219,372 196,448" fill="#d1d1d1"/>
<polygon points="180,459 207,370 219,322 202,369 174,457" fill="#c1c1c1"/>
<polygon points="191,470 205,402 211,365 201,401 187,469" fill="#b6b6b6"/>
<polygon points="255,229 245,329 242,383 250,330 261,230" fill="#c8c8c8"/>
<polygon points="233,360 246,305 251,275 242,304 230,360" fill="#d8d8d8"/>
<polygon points="225,411 242,321 249,273 238,321 220,410" fill="#c2c2c2"/>
<polygon points="213,388 236,316 247,276 234,315 211,387" fill="#dfdfdf"/>
<polygon points="257,262 241,363 235,418 246,364 262,263" fill="#c0c0c0"/>
<polygon points="243,347 233,398 229,426 237,399 248,348" fill="#d1d1d1"/>
<polygon points="238,355 217,434 206,476 219,434 241,356" fill="#c9c9c9"/>
<polygon points="218,341 236,269 245,230 233,268 215,340" fill="#bcbcbc"/>
<polygon points="245,279 229,333 221,363 231,334 248,280" fill="#cccccc"/>
<polygon points="226,404 245,347 254,316 242,346 223,403" fill="#d6d6d6"/>
<polygon points="287,181 260,279 248,332 264,280 292,183" fill="#aeaeae"/>
<polygon points="268,229 254,281 248,309 257,282 271,230" fill="#ababab"/>
<polygon points="245,349 266,251 276,198 263,250 241,348" fill="#d1d1d1"/>
<polygon points="263,224 250,285 244,318 253,286 266,225" fill="#bebebe"/>
<polygon points="252,316 276,246 288,207 272,244 247,315" fill="#c3c3c3"/>
<polygon points="254,316 270,224 277,174 267,224 250,316" fill="#d7d7d7"/>
<polygon points="262,197 243,265 234,302 247,266 267,199" fill="#d1d1d1"/>
<polygon points="256,322 234,384 224,418 239,386 262,324" fill="#d8d8d8"/>
<polygon points="259,246 247,302 241,332 250,303 263,247" fill="#dadada"/>
<polygon points="233,370 247,304 254,269 245,304 230,370" fill="#cacaca"/>
<polygon points="268,222 258,276 254,306 262,277 273,223" fill="#b5b5b5"/>
<polygon points="231,383 248,318 256,283 245,318 228,382" fill="#b5b5b5"/>
<polygon points="174,74 146,108 133,128 149,111 178,77" fill="#aeaeae"/>
<polygon points="104,134 79,165 66,183 81,167 106,137" fill="#ababab"/>
<polygon points="135,113 111,151 99,172 114,153 138,115" fill="#b5b5b5"/>
<polygon points="68,197 97,154 112,130 95,152 65,195" fill="#c8c8c8"/>
<polygon points="89,159 133,112 155,86 130,110 86,156" fill="#d4d4d4"/>
<polygon points="163,61 130,97 114,116 132,98 165,63" fill="#d2d2d2"/>
<polygon points="111,138 150,98 170,75 148,96 109,136" fill="#d5d5d5"/>
<polygon points="133,93 108,120 95,136 111,123 137,96" fill="#cccccc"/>
<polygon points="115,121 89,151 76,167 91,153 118,124" fill="#c9c9c9"/>
<polygon points="149,101 115,139 98,160 117,141 151,103" fill="#b7b7b7"/>
<polygon points="75,180 107,142 123,121 104,140 72,178" fill="#d2d2d2"/>
<polygon points="118,122 77,173 57,202 81,176 123,126" fill="#bebebe"/>
<polygon points="79,187 104,157 116,139 101,154 76,184" fill="#d0d0d0"/>
<polygon points="95,170 135,121 156,93 132,119 91,167" fill="#dbdbdb"/>
<polygon points="66,182 104,134 122,106 101,131 63,179" fill="#d6d6d6"/>
<polygon points="173,83 145,118 131,138 149,121 178,87" fill="#ababab"/>
<polygon points="104,175 130,147 142,131 126,144 100,171" fill="#acacac"/>
<polygon points="96,153 134,120 154,100 132,117 93,150" fill="#c4c4c4"/>
<polygon points="484,196 443,232 422,252 446,235 488,200" fill="#dadada"/>
<polygon points="411,274 485,219 524,189 484,217 409,271" fill="#aeaeae"/>
<polygon points="555,155 513,186 492,204 515,189 558,159" fill="#c7c7c7"/>
<polygon points="561,137 507,182 479,208 510,186 565,141" fill="#dbdbdb"/>
<polygon points="478,235 522,194 544,171 519,192 476,232" fill="#cacaca"/>
<polygon points="540,180 463,239 423,272 466,243 544,185" fill="#acacac"/>
<polygon points="480,214 413,256 378,280 415,258 481,217" fill="#c8c8c8"/>
<polygon points="506,196 459,233 434,254 461,235 508,199" fill="#b4b4b4"/>
<polygon points="462,248 508,204 531,180 505,201 458,243" fill="#c9c9c9"/>
<polygon points="542,183 473,235 437,265 475,238 544,187" fill="#adadad"/>
<polygon points="517,206 559,168 582,146 557,166 514,203" fill="#c2c2c2"/>
<polygon points="539,179 496,221 474,244 498,223 542,181" fill="#c7c7c7"/>
<polygon points="567,155 497,217 461,251 499,219 569,158" fill="#d1d1d1"/>
<polygon points="483,242 538,193 567,165 536,190 480,238" fill="#d0d0d0"/>
<polygon points="490,205 449,245 429,268 452,248 493,209" fill="#dbdbdb"/>
<polygon points="537,170 487,203 462,223 489,206 539,174" fill="#b2b2b2"/>
<polygon points="170,95 217,99 242,98 217,93 171,89" fill="#cecece"/>
<polygon points="190,91 150,90 128,92 150,95 190,97" fill="#bbbbbb"/>
<polygon points="176,101 211,104 230,103 211,99 176,95" fill="#b5b5b5"/>
<polygon points="150,98 179,98 195,96 179,93 150,92" fill="#d0d0d0"/>
<polygon points="133,98 175,99 197,98 175,95 134,93" fill="#d5d5d5"/>
<polygon points="129,97 172,99 195,97 172,94 129,91" fill="#b1b1b1"/>
<polygon points="218,102 170,95 143,93 169,98 218,106" fill="#b5b5b5"/>
<polygon points="182,102 216,104 233,103 216,101 183,99" fill="#cbcbcb"/>
<polygon points="118,102 151,104 169,103 151,100 118,98" fill="#bfbfbf"/>
<polygon points="204,98 146,99 114,101 146,102 204,101" fill="#cecece"/>
<polygon points="230,186 287,192 318,194 288,189 231,182" fill="#c5c5c5"/>
<polygon points="224,185 268,196 292,200 269,191 225,180" fill="#bababa"/>
<polygon points="286,196 247,189 226,186 247,192 286,199" fill="#a8a8a8"/>
<polygon points="188,197 265,211 307,218 266,209 189,194" fill="#bfbfbf"/>
<polygon points="187,184 231,190 256,191 232,185 187,178" fill="#b5b5b5"/>
<polygon points="172,172 215,180 239,183 216,176 173,167" fill="#cbcbcb"/>
<polygon points="237,192 296,200 329,203 297,197 237,188" fill="#c2c2c2"/>
<polygon points="285,194 239,184 213,181 238,189 284,200" fill="#a8a8a8"/>
<polygon points="294,192 250,180 226,175 249,183 293,195" fill="#c5c5c5"/>
<polygon points="300,195 225,177 184,169 224,180 299,198" fill="#c6c6c6"/>
<polygon points="135,164 206,177 244,182 206,174 136,160" fill="#c1c1c1"/>
<polygon points="191,177 265,187 306,191 266,183 192,172" fill="#c3c3c3"/>
</g></g>
<defs><filter id="pk" x="-50%" y="-50%" width="200%" height="200%"><feGaussianBlur stdDeviation="4"/></filter></defs>
<ellipse cx="138" cy="42" rx="13" ry="9" fill="#1e1e1e" fill-opacity="0.75" filter="url(#pk)"/>
<ellipse cx="178" cy="116" rx="14" ry="9" fill="#1e1e1e" fill-opacity="0.8" filter="url(#pk)"/>
<ellipse cx="97" cy="62" rx="12" ry="6" fill="#1e1e1e" fill-opacity="0.45" filter="url(#pk)"/>
<ellipse cx="305" cy="40" rx="10" ry="14" fill="#1e1e1e" fill-opacity="0.35" filter="url(#pk)"/>
<ellipse cx="308" cy="190" rx="10" ry="22" fill="#1e1e1e" fill-opacity="0.4" filter="url(#pk)"/>
<ellipse cx="165" cy="66" rx="8" ry="5" fill="#1e1e1e" fill-opacity="0.4" filter="url(#pk)"/>
<ellipse cx="72" cy="9" rx="20" ry="4" fill="#1e1e1e" fill-opacity="0.35" filter="url(#pk)"/>
<ellipse cx="237" cy="12" rx="8" ry="6" fill="#1e1e1e" fill-opacity="0.4" filter="url(#pk)"/>
<ellipse cx="275" cy="50" rx="9" ry="7" fill="#1e1e1e" fill-opacity="0.45" filter="url(#pk)"/>
<ellipse cx="310" cy="130" rx="7" ry="12" fill="#1e1e1e" fill-opacity="0.35" filter="url(#pk)"/>
<defs><linearGradient id="gh" x1="0" y1="0" x2="1" y2="0"><stop offset="0" stop-color="#fff" stop-opacity="0.05"/><stop offset="0.45" stop-color="#fff" stop-opacity="0"/><stop offset="0.6" stop-color="#000" stop-opacity="0"/><stop offset="1" stop-color="#000" stop-opacity="0.08"/></linearGradient><linearGradient id="gv" x1="0" y1="0" x2="0" y2="1"><stop offset="0" stop-color="#000" stop-opacity="0.09"/><stop offset="0.4" stop-color="#000" stop-opacity="0"/></linearGradient></defs>
<rect x="38.0" y="5.0" width="280.3" height="223.6" fill="url(#gh)"/>
<rect x="38.0" y="5.0" width="280.3" height="223.6" fill="url(#gv)"/>
</g>
<rect x="268" y="196" width="33.7" height="6.6" fill="#fff"/>
<text x="284.8" y="213.6" font-size="11" text-anchor="middle" fill="#fff" font-weight="bold" font-family='"Liberation Serif", serif' >4 &#181;m</text>
<text x="4.3" y="14.7" font-size="16.5" text-anchor="start" fill="#000" font-weight="bold" font-family='"Liberation Sans", sans-serif' >a</text>
<text x="380.3" y="14.7" font-size="16.5" text-anchor="start" fill="#000" font-weight="bold" font-family='"Liberation Sans", sans-serif' >d</text>
<text x="1.6" y="277" font-size="16.5" text-anchor="start" fill="#000" font-weight="bold" font-family='"Liberation Sans", sans-serif' >b</text>
<text x="0.6" y="517.8" font-size="16.5" text-anchor="start" fill="#000" font-weight="bold" font-family='"Liberation Sans", sans-serif' >c</text>
<text x="373" y="276" font-size="16.5" text-anchor="start" fill="#000" font-weight="bold" font-family='"Liberation Sans", sans-serif' >e</text>
<text x="372.6" y="517.8" font-size="16.5" text-anchor="start" fill="#000" font-weight="bold" font-family='"Liberation Sans", sans-serif' >f</text>
<line x1="42.5" y1="269.5" x2="304.5" y2="269.5" stroke="#1f1f1f" stroke-width="1.15" />
<line x1="42.5" y1="484.5" x2="304.5" y2="484.5" stroke="#1f1f1f" stroke-width="1.15" />
<line x1="42.5" y1="269" x2="42.5" y2="485" stroke="#1f1f1f" stroke-width="1.15" />
<line x1="304.5" y1="269" x2="304.5" y2="485" stroke="#6a6a6a" stroke-width="1.15" />
<line x1="51.5" y1="269.5" x2="51.5" y2="272.2" stroke="#1f1f1f" stroke-width="1.1" />
<line x1="51.5" y1="484.5" x2="51.5" y2="487.2" stroke="#1f1f1f" stroke-width="1.1" />
<line x1="73.5" y1="269.5" x2="73.5" y2="273.8" stroke="#1f1f1f" stroke-width="1.1" />
<line x1="73.5" y1="484.5" x2="73.5" y2="488.8" stroke="#1f1f1f" stroke-width="1.1" />
<line x1="95.5" y1="269.5" x2="95.5" y2="272.2" stroke="#1f1f1f" stroke-width="1.1" />
<line x1="95.5" y1="484.5" x2="95.5" y2="487.2" stroke="#1f1f1f" stroke-width="1.1" />
<line x1="118.5" y1="269.5" x2="118.5" y2="273.8" stroke="#1f1f1f" stroke-width="1.1" />
<line x1="118.5" y1="484.5" x2="118.5" y2="488.8" stroke="#1f1f1f" stroke-width="1.1" />
<line x1="140.5" y1="269.5" x2="140.5" y2="272.2" stroke="#1f1f1f" stroke-width="1.1" />
<line x1="140.5" y1="484.5" x2="140.5" y2="487.2" stroke="#1f1f1f" stroke-width="1.1" />
<line x1="162.5" y1="269.5" x2="162.5" y2="273.8" stroke="#1f1f1f" stroke-width="1.1" />
<line x1="162.5" y1="484.5" x2="162.5" y2="488.8" stroke="#1f1f1f" stroke-width="1.1" />
<line x1="184.5" y1="269.5" x2="184.5" y2="272.2" stroke="#1f1f1f" stroke-width="1.1" />
<line x1="184.5" y1="484.5" x2="184.5" y2="487.2" stroke="#1f1f1f" stroke-width="1.1" />
<line x1="206.5" y1="269.5" x2="206.5" y2="273.8" stroke="#1f1f1f" stroke-width="1.1" />
<line x1="206.5" y1="484.5" x2="206.5" y2="488.8" stroke="#1f1f1f" stroke-width="1.1" />
<line x1="229.5" y1="269.5" x2="229.5" y2="272.2" stroke="#1f1f1f" stroke-width="1.1" />
<line x1="229.5" y1="484.5" x2="229.5" y2="487.2" stroke="#1f1f1f" stroke-width="1.1" />
<line x1="251.5" y1="269.5" x2="251.5" y2="273.8" stroke="#1f1f1f" stroke-width="1.1" />
<line x1="251.5" y1="484.5" x2="251.5" y2="488.8" stroke="#1f1f1f" stroke-width="1.1" />
<line x1="273.5" y1="269.5" x2="273.5" y2="272.2" stroke="#1f1f1f" stroke-width="1.1" />
<line x1="273.5" y1="484.5" x2="273.5" y2="487.2" stroke="#1f1f1f" stroke-width="1.1" />
<line x1="295.5" y1="269.5" x2="295.5" y2="273.8" stroke="#1f1f1f" stroke-width="1.1" />
<line x1="295.5" y1="484.5" x2="295.5" y2="488.8" stroke="#1f1f1f" stroke-width="1.1" />
<line x1="42.5" y1="484.5" x2="39.8" y2="484.5" stroke="#1f1f1f" stroke-width="1.1" />
<line x1="42.5" y1="466.5" x2="38.2" y2="466.5" stroke="#1f1f1f" stroke-width="1.1" />
<text x="35.5" y="468.9" font-size="9.6" text-anchor="end" fill="#000" stroke="#000" stroke-width="0.22" font-family='"Liberation Sans", sans-serif' >0</text>
<line x1="42.5" y1="448.5" x2="39.8" y2="448.5" stroke="#1f1f1f" stroke-width="1.1" />
<line x1="42.5" y1="430.5" x2="38.2" y2="430.5" stroke="#1f1f1f" stroke-width="1.1" />
<text x="35.5" y="433.04" font-size="9.6" text-anchor="end" fill="#000" stroke="#000" stroke-width="0.22" font-family='"Liberation Sans", sans-serif' >2</text>
<line x1="42.5" y1="412.5" x2="39.8" y2="412.5" stroke="#1f1f1f" stroke-width="1.1" />
<line x1="42.5" y1="394.5" x2="38.2" y2="394.5" stroke="#1f1f1f" stroke-width="1.1" />
<text x="35.5" y="397.18" font-size="9.6" text-anchor="end" fill="#000" stroke="#000" stroke-width="0.22" font-family='"Liberation Sans", sans-serif' >4</text>
<line x1="42.5" y1="376.5" x2="39.8" y2="376.5" stroke="#1f1f1f" stroke-width="1.1" />
<line x1="42.5" y1="359.5" x2="38.2" y2="359.5" stroke="#1f1f1f" stroke-width="1.1" />
<text x="35.5" y="361.32" font-size="9.6" text-anchor="end" fill="#000" stroke="#000" stroke-width="0.22" font-family='"Liberation Sans", sans-serif' >6</text>
<line x1="42.5" y1="341.5" x2="39.8" y2="341.5" stroke="#1f1f1f" stroke-width="1.1" />
<line x1="42.5" y1="323.5" x2="38.2" y2="323.5" stroke="#1f1f1f" stroke-width="1.1" />
<text x="35.5" y="325.46" font-size="9.6" text-anchor="end" fill="#000" stroke="#000" stroke-width="0.22" font-family='"Liberation Sans", sans-serif' >8</text>
<line x1="42.5" y1="305.5" x2="39.8" y2="305.5" stroke="#1f1f1f" stroke-width="1.1" />
<line x1="42.5" y1="287.5" x2="38.2" y2="287.5" stroke="#1f1f1f" stroke-width="1.1" />
<text x="35.5" y="289.6" font-size="9.6" text-anchor="end" fill="#000" stroke="#000" stroke-width="0.22" font-family='"Liberation Sans", sans-serif' >10</text>
<line x1="42.5" y1="269.5" x2="39.8" y2="269.5" stroke="#1f1f1f" stroke-width="1.1" />
<line x1="304.5" y1="484.5" x2="308.8" y2="484.5" stroke="#1f1f1f" stroke-width="1.1" />
<text x="311.3" y="487" font-size="9.6" text-anchor="start" fill="#000" stroke="#000" stroke-width="0.22" font-family='"Liberation Sans", sans-serif' >45</text>
<line x1="304.5" y1="469.5" x2="307.2" y2="469.5" stroke="#1f1f1f" stroke-width="1.1" />
<line x1="304.5" y1="453.5" x2="308.8" y2="453.5" stroke="#1f1f1f" stroke-width="1.1" />
<text x="311.3" y="456.35" font-size="9.6" text-anchor="start" fill="#000" stroke="#000" stroke-width="0.22" font-family='"Liberation Sans", sans-serif' >50</text>
<line x1="304.5" y1="438.5" x2="307.2" y2="438.5" stroke="#1f1f1f" stroke-width="1.1" />
<line x1="304.5" y1="423.5" x2="308.8" y2="423.5" stroke="#1f1f1f" stroke-width="1.1" />
<text x="311.3" y="425.7" font-size="9.6" text-anchor="start" fill="#000" stroke="#000" stroke-width="0.22" font-family='"Liberation Sans", sans-serif' >55</text>
<line x1="304.5" y1="407.5" x2="307.2" y2="407.5" stroke="#1f1f1f" stroke-width="1.1" />
<line x1="304.5" y1="392.5" x2="308.8" y2="392.5" stroke="#1f1f1f" stroke-width="1.1" />
<text x="311.3" y="395.05" font-size="9.6" text-anchor="start" fill="#000" stroke="#000" stroke-width="0.22" font-family='"Liberation Sans", sans-serif' >60</text>
<line x1="304.5" y1="377.5" x2="307.2" y2="377.5" stroke="#1f1f1f" stroke-width="1.1" />
<line x1="304.5" y1="361.5" x2="308.8" y2="361.5" stroke="#1f1f1f" stroke-width="1.1" />
<text x="311.3" y="364.4" font-size="9.6" text-anchor="start" fill="#000" stroke="#000" stroke-width="0.22" font-family='"Liberation Sans", sans-serif' >65</text>
<line x1="304.5" y1="346.5" x2="307.2" y2="346.5" stroke="#1f1f1f" stroke-width="1.1" />
<line x1="304.5" y1="331.5" x2="308.8" y2="331.5" stroke="#1f1f1f" stroke-width="1.1" />
<text x="311.3" y="333.75" font-size="9.6" text-anchor="start" fill="#000" stroke="#000" stroke-width="0.22" font-family='"Liberation Sans", sans-serif' >70</text>
<line x1="304.5" y1="315.5" x2="307.2" y2="315.5" stroke="#1f1f1f" stroke-width="1.1" />
<line x1="304.5" y1="300.5" x2="308.8" y2="300.5" stroke="#1f1f1f" stroke-width="1.1" />
<text x="311.3" y="303.1" font-size="9.6" text-anchor="start" fill="#000" stroke="#000" stroke-width="0.22" font-family='"Liberation Sans", sans-serif' >75</text>
<line x1="304.5" y1="285.5" x2="307.2" y2="285.5" stroke="#1f1f1f" stroke-width="1.1" />
<line x1="304.5" y1="269.5" x2="308.8" y2="269.5" stroke="#1f1f1f" stroke-width="1.1" />
<text x="311.3" y="272.45" font-size="9.6" text-anchor="start" fill="#000" stroke="#000" stroke-width="0.22" font-family='"Liberation Sans", sans-serif' >80</text>
<text x="13.5" y="384.8" font-size="11.7" text-anchor="middle" fill="#000" stroke="#000" stroke-width="0.22" font-family='"Liberation Sans", sans-serif' transform="rotate(-90 13.5 384.8)" >Length (&#956;m)</text>
<text x="337.3" y="385.6" font-size="11" text-anchor="middle" fill="#000" stroke="#000" stroke-width="0.22" font-family='"Liberation Sans", sans-serif' transform="rotate(-90 337.3 385.6)" >&#981;<tspan font-size="10" dy="3.5">av</tspan></text>
<polyline points="51.5,396.7 73.7,440.4 118.1,415.7 162.5,422.3 206.9,319.2 295.7,333.0" fill="none" stroke="#00ffff" stroke-width="1.1"/>
<line x1="51.5" y1="374.7" x2="51.5" y2="419" stroke="#00ffff" stroke-width="1.1" />
<line x1="49.3" y1="374.7" x2="53.7" y2="374.7" stroke="#00ffff" stroke-width="1.1" />
<line x1="49.3" y1="419" x2="53.7" y2="419" stroke="#00ffff" stroke-width="1.1" />
<line x1="73.7" y1="421.4" x2="73.7" y2="459.2" stroke="#00ffff" stroke-width="1.1" />
<line x1="71.5" y1="421.4" x2="75.9" y2="421.4" stroke="#00ffff" stroke-width="1.1" />
<line x1="71.5" y1="459.2" x2="75.9" y2="459.2" stroke="#00ffff" stroke-width="1.1" />
<line x1="118.1" y1="401.2" x2="118.1" y2="429.9" stroke="#00ffff" stroke-width="1.1" />
<line x1="115.9" y1="401.2" x2="120.3" y2="401.2" stroke="#00ffff" stroke-width="1.1" />
<line x1="115.9" y1="429.9" x2="120.3" y2="429.9" stroke="#00ffff" stroke-width="1.1" />
<line x1="162.5" y1="403" x2="162.5" y2="442" stroke="#00ffff" stroke-width="1.1" />
<line x1="160.3" y1="403" x2="164.7" y2="403" stroke="#00ffff" stroke-width="1.1" />
<line x1="160.3" y1="442" x2="164.7" y2="442" stroke="#00ffff" stroke-width="1.1" />
<line x1="206.9" y1="296.2" x2="206.9" y2="341.5" stroke="#00ffff" stroke-width="1.1" />
<line x1="204.7" y1="296.2" x2="209.1" y2="296.2" stroke="#00ffff" stroke-width="1.1" />
<line x1="204.7" y1="341.5" x2="209.1" y2="341.5" stroke="#00ffff" stroke-width="1.1" />
<line x1="295.7" y1="301.4" x2="295.7" y2="364.1" stroke="#00ffff" stroke-width="1.1" />
<line x1="293.5" y1="301.4" x2="297.9" y2="301.4" stroke="#00ffff" stroke-width="1.1" />
<line x1="293.5" y1="364.1" x2="297.9" y2="364.1" stroke="#00ffff" stroke-width="1.1" />
<rect x="49.03" y="394.23" width="4.94" height="4.94" fill="#00ffff"/>
<rect x="71.23" y="437.93" width="4.94" height="4.94" fill="#00ffff"/>
<rect x="115.63" y="413.23" width="4.94" height="4.94" fill="#00ffff"/>
<rect x="160.03" y="419.83" width="4.94" height="4.94" fill="#00ffff"/>
<rect x="204.43" y="316.73" width="4.94" height="4.94" fill="#00ffff"/>
<rect x="293.23" y="330.53" width="4.94" height="4.94" fill="#00ffff"/>
<polyline points="51.5,431.4 73.7,468.2 118.1,389.8 162.5,401.2 206.9,290.2 295.7,344.2" fill="none" stroke="#ff00ff" stroke-width="1.1"/>
<rect x="49.03" y="428.93" width="4.94" height="4.94" fill="#ff00ff"/>
<rect x="71.23" y="465.73" width="4.94" height="4.94" fill="#ff00ff"/>
<rect x="115.63" y="387.33" width="4.94" height="4.94" fill="#ff00ff"/>
<rect x="160.03" y="398.73" width="4.94" height="4.94" fill="#ff00ff"/>
<rect x="204.43" y="287.73" width="4.94" height="4.94" fill="#ff00ff"/>
<rect x="293.23" y="341.73" width="4.94" height="4.94" fill="#ff00ff"/>
<line x1="43.5" y1="509.5" x2="305.5" y2="509.5" stroke="#1f1f1f" stroke-width="1.15" />
<line x1="43.5" y1="724.5" x2="305.5" y2="724.5" stroke="#1f1f1f" stroke-width="1.15" />
<line x1="43.5" y1="509" x2="43.5" y2="725" stroke="#1f1f1f" stroke-width="1.15" />
<line x1="305.5" y1="509" x2="305.5" y2="725" stroke="#6a6a6a" stroke-width="1.15" />
<line x1="52.5" y1="509.5" x2="52.5" y2="512.3" stroke="#1f1f1f" stroke-width="1.1" />
<line x1="52.5" y1="724.5" x2="52.5" y2="727.2" stroke="#1f1f1f" stroke-width="1.1" />
<line x1="74.5" y1="509.5" x2="74.5" y2="514.3" stroke="#1f1f1f" stroke-width="1.1" />
<line x1="74.5" y1="724.5" x2="74.5" y2="728.8" stroke="#1f1f1f" stroke-width="1.1" />
<text x="74.8" y="740.9" font-size="10" text-anchor="middle" fill="#000" stroke="#000" stroke-width="0.22" font-family='"Liberation Sans", sans-serif' >10</text>
<line x1="97.5" y1="509.5" x2="97.5" y2="512.3" stroke="#1f1f1f" stroke-width="1.1" />
<line x1="97.5" y1="724.5" x2="97.5" y2="727.2" stroke="#1f1f1f" stroke-width="1.1" />
<line x1="119.5" y1="509.5" x2="119.5" y2="514.3" stroke="#1f1f1f" stroke-width="1.1" />
<line x1="119.5" y1="724.5" x2="119.5" y2="728.8" stroke="#1f1f1f" stroke-width="1.1" />
<text x="119.2" y="740.9" font-size="10" text-anchor="middle" fill="#000" stroke="#000" stroke-width="0.22" font-family='"Liberation Sans", sans-serif' >20</text>
<line x1="141.5" y1="509.5" x2="141.5" y2="512.3" stroke="#1f1f1f" stroke-width="1.1" />
<line x1="141.5" y1="724.5" x2="141.5" y2="727.2" stroke="#1f1f1f" stroke-width="1.1" />
<line x1="163.5" y1="509.5" x2="163.5" y2="514.3" stroke="#1f1f1f" stroke-width="1.1" />
<line x1="163.5" y1="724.5" x2="163.5" y2="728.8" stroke="#1f1f1f" stroke-width="1.1" />
<text x="163.6" y="740.9" font-size="10" text-anchor="middle" fill="#000" stroke="#000" stroke-width="0.22" font-family='"Liberation Sans", sans-serif' >30</text>
<line x1="185.5" y1="509.5" x2="185.5" y2="512.3" stroke="#1f1f1f" stroke-width="1.1" />
<line x1="185.5" y1="724.5" x2="185.5" y2="727.2" stroke="#1f1f1f" stroke-width="1.1" />
<line x1="208.5" y1="509.5" x2="208.5" y2="514.3" stroke="#1f1f1f" stroke-width="1.1" />
<line x1="208.5" y1="724.5" x2="208.5" y2="728.8" stroke="#1f1f1f" stroke-width="1.1" />
<text x="208" y="740.9" font-size="10" text-anchor="middle" fill="#000" stroke="#000" stroke-width="0.22" font-family='"Liberation Sans", sans-serif' >40</text>
<line x1="230.5" y1="509.5" x2="230.5" y2="512.3" stroke="#1f1f1f" stroke-width="1.1" />
<line x1="230.5" y1="724.5" x2="230.5" y2="727.2" stroke="#1f1f1f" stroke-width="1.1" />
<line x1="252.5" y1="509.5" x2="252.5" y2="514.3" stroke="#1f1f1f" stroke-width="1.1" />
<line x1="252.5" y1="724.5" x2="252.5" y2="728.8" stroke="#1f1f1f" stroke-width="1.1" />
<text x="252.4" y="740.9" font-size="10" text-anchor="middle" fill="#000" stroke="#000" stroke-width="0.22" font-family='"Liberation Sans", sans-serif' >50</text>
<line x1="274.5" y1="509.5" x2="274.5" y2="512.3" stroke="#1f1f1f" stroke-width="1.1" />
<line x1="274.5" y1="724.5" x2="274.5" y2="727.2" stroke="#1f1f1f" stroke-width="1.1" />
<line x1="296.5" y1="509.5" x2="296.5" y2="514.3" stroke="#1f1f1f" stroke-width="1.1" />
<line x1="296.5" y1="724.5" x2="296.5" y2="728.8" stroke="#1f1f1f" stroke-width="1.1" />
<text x="296.8" y="740.9" font-size="10" text-anchor="middle" fill="#000" stroke="#000" stroke-width="0.22" font-family='"Liberation Sans", sans-serif' >60</text>
<line x1="43.5" y1="714.5" x2="40.8" y2="714.5" stroke="#1f1f1f" stroke-width="1.1" />
<line x1="43.5" y1="697.5" x2="39.2" y2="697.5" stroke="#1f1f1f" stroke-width="1.1" />
<text x="35.2" y="701" font-size="10.1" text-anchor="end" fill="#000" stroke="#000" stroke-width="0.22" font-family='"Liberation Sans", sans-serif' >50</text>
<line x1="43.5" y1="680.5" x2="40.8" y2="680.5" stroke="#1f1f1f" stroke-width="1.1" />
<line x1="43.5" y1="664.5" x2="39.2" y2="664.5" stroke="#1f1f1f" stroke-width="1.1" />
<text x="35.2" y="667.6" font-size="10.1" text-anchor="end" fill="#000" stroke="#000" stroke-width="0.22" font-family='"Liberation Sans", sans-serif' >55</text>
<line x1="43.5" y1="647.5" x2="40.8" y2="647.5" stroke="#1f1f1f" stroke-width="1.1" />
<line x1="43.5" y1="630.5" x2="39.2" y2="630.5" stroke="#1f1f1f" stroke-width="1.1" />
<text x="35.2" y="634.2" font-size="10.1" text-anchor="end" fill="#000" stroke="#000" stroke-width="0.22" font-family='"Liberation Sans", sans-serif' >60</text>
<line x1="43.5" y1="614.5" x2="40.8" y2="614.5" stroke="#1f1f1f" stroke-width="1.1" />
<line x1="43.5" y1="597.5" x2="39.2" y2="597.5" stroke="#1f1f1f" stroke-width="1.1" />
<text x="35.2" y="600.8" font-size="10.1" text-anchor="end" fill="#000" stroke="#000" stroke-width="0.22" font-family='"Liberation Sans", sans-serif' >65</text>
<line x1="43.5" y1="580.5" x2="40.8" y2="580.5" stroke="#1f1f1f" stroke-width="1.1" />
<line x1="43.5" y1="563.5" x2="39.2" y2="563.5" stroke="#1f1f1f" stroke-width="1.1" />
<text x="35.2" y="567.4" font-size="10.1" text-anchor="end" fill="#000" stroke="#000" stroke-width="0.22" font-family='"Liberation Sans", sans-serif' >70</text>
<line x1="43.5" y1="547.5" x2="40.8" y2="547.5" stroke="#1f1f1f" stroke-width="1.1" />
<line x1="43.5" y1="530.5" x2="39.2" y2="530.5" stroke="#1f1f1f" stroke-width="1.1" />
<text x="35.2" y="534" font-size="10.1" text-anchor="end" fill="#000" stroke="#000" stroke-width="0.22" font-family='"Liberation Sans", sans-serif' >75</text>
<line x1="43.5" y1="513.5" x2="40.8" y2="513.5" stroke="#1f1f1f" stroke-width="1.1" />
<line x1="305.5" y1="724.5" x2="309.8" y2="724.5" stroke="#1f1f1f" stroke-width="1.1" />
<text x="311.8" y="727.5" font-size="10.1" text-anchor="start" fill="#000" stroke="#000" stroke-width="0.22" font-family='"Liberation Sans", sans-serif' >285</text>
<line x1="305.5" y1="709.5" x2="308.2" y2="709.5" stroke="#1f1f1f" stroke-width="1.1" />
<line x1="305.5" y1="693.5" x2="309.8" y2="693.5" stroke="#1f1f1f" stroke-width="1.1" />
<text x="311.8" y="696.8" font-size="10.1" text-anchor="start" fill="#000" stroke="#000" stroke-width="0.22" font-family='"Liberation Sans", sans-serif' >290</text>
<line x1="305.5" y1="678.5" x2="308.2" y2="678.5" stroke="#1f1f1f" stroke-width="1.1" />
<line x1="305.5" y1="663.5" x2="309.8" y2="663.5" stroke="#1f1f1f" stroke-width="1.1" />
<text x="311.8" y="666.1" font-size="10.1" text-anchor="start" fill="#000" stroke="#000" stroke-width="0.22" font-family='"Liberation Sans", sans-serif' >295</text>
<line x1="305.5" y1="647.5" x2="308.2" y2="647.5" stroke="#1f1f1f" stroke-width="1.1" />
<line x1="305.5" y1="632.5" x2="309.8" y2="632.5" stroke="#1f1f1f" stroke-width="1.1" />
<text x="311.8" y="635.4" font-size="10.1" text-anchor="start" fill="#000" stroke="#000" stroke-width="0.22" font-family='"Liberation Sans", sans-serif' >300</text>
<line x1="305.5" y1="616.5" x2="308.2" y2="616.5" stroke="#1f1f1f" stroke-width="1.1" />
<line x1="305.5" y1="601.5" x2="309.8" y2="601.5" stroke="#1f1f1f" stroke-width="1.1" />
<text x="311.8" y="604.7" font-size="10.1" text-anchor="start" fill="#000" stroke="#000" stroke-width="0.22" font-family='"Liberation Sans", sans-serif' >305</text>
<line x1="305.5" y1="586.5" x2="308.2" y2="586.5" stroke="#1f1f1f" stroke-width="1.1" />
<line x1="305.5" y1="570.5" x2="309.8" y2="570.5" stroke="#1f1f1f" stroke-width="1.1" />
<text x="311.8" y="574" font-size="10.1" text-anchor="start" fill="#000" stroke="#000" stroke-width="0.22" font-family='"Liberation Sans", sans-serif' >310</text>
<line x1="305.5" y1="555.5" x2="308.2" y2="555.5" stroke="#1f1f1f" stroke-width="1.1" />
<line x1="305.5" y1="540.5" x2="309.8" y2="540.5" stroke="#1f1f1f" stroke-width="1.1" />
<text x="311.8" y="543.3" font-size="10.1" text-anchor="start" fill="#000" stroke="#000" stroke-width="0.22" font-family='"Liberation Sans", sans-serif' >315</text>
<line x1="305.5" y1="524.5" x2="308.2" y2="524.5" stroke="#1f1f1f" stroke-width="1.1" />
<line x1="305.5" y1="509.5" x2="309.8" y2="509.5" stroke="#1f1f1f" stroke-width="1.1" />
<text x="311.8" y="512.6" font-size="10.1" text-anchor="start" fill="#000" stroke="#000" stroke-width="0.22" font-family='"Liberation Sans", sans-serif' >320</text>
<text x="174.4" y="758.6" font-size="10.4" text-anchor="middle" fill="#000" stroke="#000" stroke-width="0.22" font-family='"Liberation Sans", sans-serif' >MW time (min)</text>
<text x="346" y="624" font-size="10.5" text-anchor="middle" fill="#000" stroke="#000" stroke-width="0.22" font-family='"Liberation Sans", sans-serif' transform="rotate(-90 346 624)" >Abs. pressure (kPa)</text>
<text x="14" y="626.2" font-size="11.2" text-anchor="middle" fill="#000" stroke="#000" stroke-width="0.22" font-family='"Liberation Sans", sans-serif' transform="rotate(-90 14 626.2)" >&#981;<tspan font-size="10" dy="3">av</tspan><tspan dy="-3"> (nm)</tspan></text>
<polyline points="52.6,673.4 74.8,713.8 119.2,628.0 163.6,640.6 208.0,518.9 296.8,578.4" fill="none" stroke="#00ffff" stroke-width="1.1"/>
<rect x="50.13" y="670.93" width="4.94" height="4.94" fill="#00ffff"/>
<rect x="72.33" y="711.33" width="4.94" height="4.94" fill="#00ffff"/>
<rect x="116.73" y="625.53" width="4.94" height="4.94" fill="#00ffff"/>
<rect x="161.13" y="638.13" width="4.94" height="4.94" fill="#00ffff"/>
<rect x="205.53" y="516.43" width="4.94" height="4.94" fill="#00ffff"/>
<rect x="294.33" y="575.93" width="4.94" height="4.94" fill="#00ffff"/>
<polyline points="52.6,571.0 74.8,707.5 119.2,683.9 163.6,530.2 208.0,614.5 296.8,582.5" fill="none" stroke="#ff00ff" stroke-width="1.1"/>
<circle cx="52.6" cy="571" r="2.75" fill="#ff00ff"/>
<circle cx="74.8" cy="707.5" r="2.75" fill="#ff00ff"/>
<circle cx="119.2" cy="683.9" r="2.75" fill="#ff00ff"/>
<circle cx="163.6" cy="530.2" r="2.75" fill="#ff00ff"/>
<circle cx="208" cy="614.5" r="2.75" fill="#ff00ff"/>
<circle cx="296.8" cy="582.5" r="2.75" fill="#ff00ff"/>
<line x1="416.4" y1="5" x2="678.5" y2="5" stroke="#5a5a5a" stroke-width="1.3" />
<line x1="417" y1="5" x2="417" y2="216.5" stroke="#5a5a5a" stroke-width="1.3" />
<line x1="678.5" y1="4.4" x2="678.5" y2="217" stroke="#3a3a3a" stroke-width="1.15" />
<line x1="417" y1="216.5" x2="678.5" y2="216.5" stroke="#2a2a2a" stroke-width="1.15" />
<line x1="440.5" y1="216.5" x2="440.5" y2="220.8" stroke="#2a2a2a" stroke-width="1.1" />
<text x="440.5" y="230.8" font-size="10" text-anchor="middle" fill="#000" stroke="#000" stroke-width="0.22" font-family='"Liberation Sans", sans-serif' >30</text>
<line x1="488.5" y1="216.5" x2="488.5" y2="220.8" stroke="#2a2a2a" stroke-width="1.1" />
<text x="488.1" y="230.8" font-size="10" text-anchor="middle" fill="#000" stroke="#000" stroke-width="0.22" font-family='"Liberation Sans", sans-serif' >40</text>
<line x1="535.5" y1="216.5" x2="535.5" y2="220.8" stroke="#2a2a2a" stroke-width="1.1" />
<text x="535.7" y="230.8" font-size="10" text-anchor="middle" fill="#000" stroke="#000" stroke-width="0.22" font-family='"Liberation Sans", sans-serif' >50</text>
<line x1="583.5" y1="216.5" x2="583.5" y2="220.8" stroke="#2a2a2a" stroke-width="1.1" />
<text x="583.3" y="230.8" font-size="10" text-anchor="middle" fill="#000" stroke="#000" stroke-width="0.22" font-family='"Liberation Sans", sans-serif' >60</text>
<line x1="630.5" y1="216.5" x2="630.5" y2="220.8" stroke="#2a2a2a" stroke-width="1.1" />
<text x="630.9" y="230.8" font-size="10" text-anchor="middle" fill="#000" stroke="#000" stroke-width="0.22" font-family='"Liberation Sans", sans-serif' >70</text>
<line x1="678.5" y1="216.5" x2="678.5" y2="220.8" stroke="#2a2a2a" stroke-width="1.1" />
<text x="678.5" y="230.8" font-size="10" text-anchor="middle" fill="#000" stroke="#000" stroke-width="0.22" font-family='"Liberation Sans", sans-serif' >80</text>
<text x="548.3" y="246" font-size="11" text-anchor="middle" fill="#000" stroke="#000" stroke-width="0.22" font-family='"Liberation Serif", serif' >2&#952;</text>
<text x="406.1" y="118" font-size="11" text-anchor="middle" fill="#000" stroke="#000" stroke-width="0.22" font-family='"Liberation Sans", sans-serif' transform="rotate(-90 406.1 118)" >Intensity (cts)</text>
<polyline points="416.7,79.3 417.5,79.6 418.2,79.2 419.0,79.6 419.7,79.4 420.5,79.4 421.3,79.8 422.0,79.5 422.8,79.4 423.6,79.6 424.3,79.7 425.1,79.5 425.8,79.6 426.6,79.3 427.4,79.4 428.1,79.4 428.9,79.3 429.6,79.3 430.4,79.3 431.2,79.5 431.9,79.5 432.7,79.5 433.5,79.6 434.2,79.3 435.0,79.6 435.7,79.6 436.5,79.7 437.3,79.5 438.0,79.5 438.8,79.3 439.5,79.5 440.3,79.2 441.1,79.4 441.8,79.8 442.6,79.2 443.4,79.7 444.1,79.6 444.9,79.5 445.6,79.6 445.8,79.6 446.0,79.6 446.1,79.4 446.3,79.3 446.5,79.2 446.6,79.1 446.8,79.1 447.0,78.8 447.1,78.7 447.3,77.6 447.5,76.7 447.6,75.3 447.8,73.0 448.0,71.0 448.1,67.0 448.3,63.7 448.5,59.9 448.6,57.1 448.8,54.3 449.0,54.5 449.1,55.6 449.3,58.5 449.5,62.0 449.6,66.0 449.8,69.1 450.0,72.3 450.1,74.7 450.3,76.7 450.5,77.1 450.6,78.6 450.8,79.0 451.0,79.0 451.1,79.3 451.3,79.2 451.5,79.7 451.6,79.5 451.8,79.4 452.0,79.5 452.1,79.5 452.3,79.5 453.1,79.5 453.8,80.0 454.6,79.3 455.4,79.1 456.1,79.7 456.9,79.7 457.6,79.8 458.4,79.7 458.6,79.7 458.7,79.8 458.9,79.9 459.1,79.6 459.2,79.7 459.4,80.1 459.6,79.8 459.7,79.5 459.9,80.0 460.1,79.7 460.2,79.3 460.4,79.0 460.6,79.0 460.7,78.5 460.9,78.1 461.1,77.7 461.2,77.5 461.4,77.5 461.6,77.2 461.7,77.1 461.9,77.8 462.1,78.0 462.2,78.5 462.4,78.9 462.6,79.0 462.7,79.2 462.9,79.4 463.1,79.4 463.2,79.8 463.4,79.9 463.6,79.7 463.7,79.7 463.9,79.7 464.1,79.6 464.2,79.6 464.4,79.7 464.6,79.6 464.7,79.7 464.9,79.5 465.7,79.8 466.4,79.7 467.2,79.4 467.3,79.2 467.5,79.6 467.7,79.8 467.8,79.4 468.0,79.4 468.2,79.2 468.3,79.2 468.5,78.6 468.7,78.4 468.8,77.2 469.0,76.1 469.2,74.1 469.3,71.7 469.5,68.6 469.7,65.7 469.8,62.8 470.0,60.5 470.2,59.1 470.3,59.0 470.5,60.8 470.7,63.4 470.8,66.2 471.0,69.2 471.2,72.0 471.3,74.5 471.5,76.3 471.7,77.3 471.8,78.4 472.0,78.8 472.2,79.0 472.3,79.6 472.5,79.6 472.7,79.4 472.8,79.6 473.0,79.7 473.2,79.6 473.3,79.7 473.5,79.8 473.7,79.4 474.4,79.9 475.2,80.0 476.0,79.9 476.7,79.6 477.5,79.9 478.2,79.7 479.0,80.0 479.8,80.0 480.5,80.0 481.3,79.8 482.1,79.8 482.8,80.1 483.6,79.8 484.3,80.0 485.1,80.1 485.9,79.9 486.6,80.4 487.4,80.0 488.1,80.4 488.9,79.6 489.7,79.6 490.4,80.2 491.2,80.1 492.0,79.9 492.7,80.0 493.5,79.7 494.2,79.9 495.0,79.8 495.8,80.0 496.5,80.2 497.3,80.0 498.0,80.1 498.8,79.9 499.6,80.0 500.3,80.1 501.1,80.0 501.9,80.3 502.6,79.9 503.4,80.4 504.1,79.9 504.9,80.3 505.7,79.9 506.4,80.4 506.6,80.1 506.8,80.2 506.9,80.2 507.1,80.0 507.3,79.9 507.4,79.7 507.6,80.3 507.8,79.9 507.9,79.9 508.1,80.0 508.3,80.3 508.4,79.6 508.6,79.9 508.8,79.7 508.9,79.8 509.1,79.3 509.3,79.5 509.4,79.7 509.6,79.8 509.8,79.8 509.9,79.5 510.1,79.7 510.3,79.8 510.4,79.6 510.6,79.7 510.8,80.1 510.9,80.1 511.1,80.0 511.3,80.3 511.4,79.9 511.6,80.2 511.8,80.1 511.9,80.1 512.1,80.2 512.3,80.1 512.4,80.2 512.6,80.2 512.8,80.5 512.9,80.1 513.7,80.3 514.4,80.2 515.2,80.1 516.0,80.3 516.7,80.0 517.5,80.3 518.3,80.0 519.0,80.1 519.8,80.2 520.5,80.3 521.3,80.3 521.5,80.3 521.6,80.1 521.8,80.0 522.0,80.2 522.1,80.2 522.3,79.9 522.5,80.2 522.6,80.0 522.8,79.7 523.0,79.8 523.1,79.3 523.3,79.2 523.5,79.2 523.6,78.6 523.8,78.8 524.0,78.4 524.1,78.8 524.3,78.7 524.5,79.1 524.6,79.0 524.8,79.4 525.0,79.8 525.1,79.9 525.3,79.6 525.5,80.2 525.6,80.2 525.8,80.1 526.0,80.4 526.1,80.0 526.3,80.1 526.5,80.4 526.6,80.4 526.8,80.4 527.0,80.0 527.1,79.9 527.3,80.3 527.5,79.9 528.2,80.2 529.0,80.0 529.7,80.4 530.5,80.3 531.3,80.3 532.0,80.2 532.8,80.2 533.6,80.2 534.3,80.3 535.1,80.3 535.8,80.3 536.6,80.2 537.4,80.6 538.1,80.3 538.9,80.5 539.7,80.5 540.4,80.1 541.2,80.0 541.9,80.5 542.7,80.2 543.5,80.3 544.2,80.2 545.0,80.3 545.7,80.1 546.5,80.3 547.3,80.2 548.0,80.3 548.8,79.9 549.6,80.4 550.3,80.4 551.1,80.0 551.8,80.2 552.6,80.3 553.4,80.4 554.1,80.3 554.9,80.6 555.6,80.3 556.4,80.1 557.2,80.2 557.9,80.5 558.7,80.2 559.5,80.5 560.2,80.5 561.0,80.4 561.7,80.5 562.5,80.3 563.3,80.3 564.0,80.1 564.2,80.1 564.4,79.9 564.5,80.0 564.7,79.9 564.9,79.7 565.0,79.9 565.2,79.7 565.4,79.2 565.5,79.1 565.7,78.4 565.9,77.6 566.0,76.4 566.2,75.1 566.4,74.3 566.5,73.0 566.7,72.0 566.9,71.0 567.0,70.7 567.2,70.4 567.4,71.0 567.5,71.6 567.7,72.4 567.9,73.9 568.0,75.5 568.2,76.0 568.4,77.5 568.5,78.0 568.7,78.7 568.9,79.2 569.0,79.6 569.2,79.6 569.4,80.0 569.5,80.2 569.7,80.3 569.9,80.1 570.0,80.5 570.2,80.6 570.4,80.7 570.5,80.0 571.3,80.4 572.0,80.0 572.8,80.4 573.6,80.5 574.3,80.2 575.1,80.1 575.9,80.4 576.6,80.5 577.4,80.3 578.1,80.4 578.9,80.0 579.7,80.3 580.4,80.4 581.2,80.5 581.9,80.7 582.7,80.2 583.5,80.0 584.2,80.5 585.0,80.3 585.8,80.5 586.5,80.6 587.3,80.6 588.0,80.7 588.8,80.7 589.6,80.2 590.3,80.5 591.1,80.8 591.8,80.4 592.6,80.6 593.4,80.5 594.1,80.4 594.3,80.7 594.5,80.6 594.6,80.4 594.8,80.6 595.0,80.1 595.1,80.2 595.3,80.4 595.5,80.2 595.6,79.9 595.8,80.0 596.0,79.8 596.1,79.8 596.3,79.6 596.5,79.2 596.6,79.0 596.8,79.0 597.0,79.0 597.1,79.3 597.3,79.5 597.5,79.6 597.6,79.6 597.8,79.7 598.0,80.0 598.1,80.0 598.3,80.2 598.5,79.9 598.6,80.2 598.8,80.6 599.0,80.2 599.1,80.2 599.3,80.4 599.5,80.8 599.6,80.7 599.8,80.4 600.0,80.4 600.1,80.5 600.3,80.3 601.1,80.5 601.8,80.5 602.6,80.2 603.3,80.4 604.1,80.5 604.9,80.4 605.6,80.3 606.4,80.7 607.1,80.9 607.9,80.5 608.7,80.5 609.4,80.6 610.2,80.5 611.0,80.4 611.1,80.8 611.3,80.3 611.5,80.4 611.6,80.4 611.8,80.3 612.0,80.4 612.1,80.5 612.3,80.6 612.5,80.3 612.6,80.1 612.8,79.7 613.0,79.8 613.1,79.5 613.3,79.5 613.5,79.5 613.6,79.3 613.8,79.2 614.0,79.2 614.1,79.4 614.3,79.5 614.5,79.5 614.6,79.7 614.8,80.1 615.0,79.8 615.1,80.2 615.3,80.1 615.5,80.7 615.6,80.5 615.8,80.6 616.0,80.6 616.1,80.6 616.3,80.6 616.5,80.2 616.6,80.6 616.8,80.6 617.0,80.3 617.1,80.7 617.9,80.7 618.0,80.3 618.2,80.4 618.4,80.5 618.5,80.4 618.7,80.6 618.9,80.2 619.0,80.4 619.2,80.4 619.4,80.4 619.5,80.2 619.7,79.9 619.9,79.9 620.0,79.1 620.2,79.3 620.4,78.8 620.5,78.2 620.7,78.0 620.9,77.5 621.0,77.3 621.2,77.5 621.4,77.5 621.5,78.0 621.7,78.0 621.9,78.3 622.0,78.8 622.2,79.6 622.4,79.6 622.5,79.7 622.7,79.9 622.9,80.0 623.0,80.3 623.2,80.5 623.4,80.6 623.5,80.7 623.7,80.5 623.9,80.4 624.0,80.3 624.2,80.1 624.4,80.3 624.5,80.5 624.7,80.3 624.9,80.3 625.0,79.9 625.2,80.2 625.4,79.8 625.5,79.5 625.7,79.3 625.9,78.5 626.0,78.5 626.2,78.2 626.4,78.5 626.5,78.0 626.7,77.9 626.9,78.3 627.0,78.2 627.2,78.9 627.4,78.9 627.5,79.3 627.7,79.4 627.9,80.0 628.0,79.7 628.2,80.3 628.4,80.2 628.5,80.4 628.7,80.3 628.9,80.6 629.0,80.6 629.2,80.7 629.4,80.6 629.5,80.7 629.7,80.8 629.9,80.5 630.0,80.4 630.8,80.4 631.6,80.7 632.3,80.6 633.1,80.8 633.9,80.6 634.6,80.5 635.4,80.8 636.1,81.0 636.9,80.6 637.7,80.5 638.4,80.5 639.2,80.8 639.9,80.5 640.7,80.6 640.9,80.8 641.0,80.6 641.2,80.7 641.4,80.5 641.5,80.5 641.7,80.6 641.9,80.6 642.0,80.7 642.2,80.4 642.4,80.5 642.5,80.5 642.7,80.4 642.9,80.4 643.0,80.5 643.2,80.3 643.4,80.3 643.5,80.1 643.7,80.4 643.9,80.4 644.0,80.4 644.2,80.3 644.4,80.6 644.5,81.0 644.7,80.7 644.9,80.6 645.0,80.7 645.2,80.5 645.4,80.7 645.5,80.5 645.7,80.6 645.9,80.7 646.0,80.7 646.2,80.7 646.4,80.5 646.5,80.7 646.7,80.5 647.5,80.8 648.2,80.6 649.0,80.7 649.7,80.8 650.5,80.8 651.3,80.5 652.0,80.7 652.8,80.8 653.6,80.5 654.3,80.3 655.1,80.7 655.8,80.7 656.6,80.8 657.4,80.7 658.1,80.7 658.9,80.8 659.7,81.0 660.4,80.8 661.2,80.8 661.3,80.7 661.5,80.9 661.7,80.7 661.8,80.8 662.0,80.3 662.2,80.7 662.3,80.6 662.5,80.5 662.7,80.8 662.8,80.5 663.0,80.3 663.2,80.2 663.3,80.5 663.5,80.2 663.7,80.1 663.8,79.8 664.0,80.2 664.2,80.1 664.3,80.0 664.5,80.1 664.7,79.9 664.8,80.4 665.0,80.2 665.2,80.6 665.3,80.5 665.5,80.5 665.7,80.7 665.8,80.7 666.0,80.5 666.2,80.7 666.3,80.8 666.5,80.7 666.7,80.5 666.8,80.7 667.0,80.6 667.2,80.6 667.3,80.8 668.1,80.7 668.9,80.7 669.6,80.5 670.4,80.8 671.1,80.7 671.9,80.7 672.7,80.8 673.4,81.1 674.2,80.6 675.0,80.5 675.7,80.9 676.5,80.7 677.2,81.0 678.0,80.6" fill="none" stroke="#2e962e" stroke-width="1.0" stroke-linejoin="round"/>
<polyline points="416.7,110.7 417.5,111.0 418.2,111.1 419.0,111.0 419.7,111.0 420.5,111.0 421.3,110.9 422.0,111.0 422.8,111.3 423.6,111.2 424.3,111.1 425.1,111.2 425.8,111.3 426.6,111.3 427.4,111.1 428.1,111.1 428.9,111.2 429.6,111.7 430.4,111.2 431.2,111.4 431.9,110.9 432.7,111.4 433.5,111.0 434.2,111.1 435.0,111.2 435.7,111.3 436.5,111.3 437.3,111.4 438.0,111.3 438.8,111.2 439.5,111.8 440.3,111.4 441.1,111.5 441.8,111.7 442.6,111.5 443.4,111.4 444.1,111.4 444.9,111.6 445.6,111.0 445.8,111.0 446.0,111.2 446.1,110.8 446.3,110.9 446.5,111.2 446.6,110.8 446.8,110.8 447.0,110.6 447.1,109.9 447.3,109.4 447.5,108.1 447.6,106.3 447.8,104.0 448.0,100.9 448.1,97.0 448.3,92.7 448.5,88.6 448.6,84.9 448.8,82.3 449.0,81.8 449.1,83.2 449.3,86.6 449.5,90.7 449.6,95.3 449.8,99.5 450.0,103.0 450.1,105.6 450.3,107.5 450.5,109.0 450.6,109.9 450.8,110.5 451.0,111.0 451.1,110.8 451.3,111.4 451.5,110.7 451.6,110.8 451.8,110.9 452.0,111.1 452.1,111.2 452.3,111.7 453.1,111.2 453.8,111.6 454.6,111.4 455.4,111.5 456.1,111.3 456.9,111.9 457.6,111.5 458.4,111.4 458.6,111.9 458.7,111.6 458.9,111.6 459.1,111.5 459.2,111.4 459.4,111.3 459.6,111.5 459.7,111.7 459.9,111.5 460.1,111.3 460.2,111.4 460.4,110.8 460.6,111.0 460.7,110.4 460.9,109.9 461.1,109.8 461.2,109.5 461.4,109.1 461.6,109.1 461.7,109.4 461.9,109.7 462.1,109.7 462.2,109.7 462.4,110.9 462.6,110.8 462.7,111.0 462.9,111.3 463.1,111.3 463.2,111.6 463.4,111.3 463.6,111.5 463.7,111.3 463.9,111.8 464.1,111.5 464.2,111.8 464.4,111.8 464.6,111.4 464.7,111.5 464.9,111.7 465.7,111.6 466.4,111.5 467.2,111.6 467.3,111.6 467.5,111.3 467.7,111.3 467.8,111.4 468.0,111.3 468.2,111.1 468.3,110.6 468.5,110.8 468.7,109.7 468.8,108.8 469.0,107.2 469.2,105.1 469.3,102.4 469.5,99.0 469.7,95.7 469.8,92.5 470.0,89.5 470.2,88.0 470.3,88.1 470.5,89.8 470.7,93.0 470.8,96.0 471.0,99.7 471.2,103.0 471.3,105.5 471.5,107.3 471.7,108.7 471.8,110.2 472.0,110.4 472.2,110.9 472.3,111.3 472.5,111.3 472.7,111.1 472.8,111.1 473.0,111.5 473.2,111.4 473.3,111.5 473.5,111.6 473.7,111.6 474.4,111.4 475.2,111.4 476.0,111.9 476.7,111.6 477.5,111.5 478.2,111.4 479.0,111.9 479.8,111.6 480.5,111.6 481.3,111.9 482.1,111.9 482.8,111.9 483.6,111.6 484.3,111.3 485.1,111.7 485.9,111.8 486.6,111.8 487.4,112.0 488.1,112.0 488.9,111.7 489.7,112.0 490.4,111.9 491.2,111.8 492.0,112.1 492.7,111.6 493.5,112.1 494.2,112.1 495.0,111.6 495.8,111.9 496.5,111.9 497.3,111.8 498.0,111.9 498.8,111.8 499.6,112.0 500.3,111.9 501.1,111.6 501.9,112.2 502.6,112.2 503.4,111.9 504.1,112.2 504.9,112.4 505.7,111.8 506.4,112.0 506.6,112.0 506.8,112.2 506.9,112.0 507.1,111.8 507.3,112.3 507.4,112.0 507.6,112.2 507.8,112.5 507.9,111.9 508.1,111.9 508.3,112.1 508.4,111.9 508.6,112.0 508.8,111.8 508.9,112.3 509.1,111.8 509.3,111.7 509.4,111.6 509.6,111.7 509.8,111.3 509.9,111.6 510.1,111.9 510.3,111.6 510.4,111.9 510.6,111.9 510.8,111.9 510.9,112.5 511.1,112.2 511.3,112.1 511.4,111.9 511.6,112.1 511.8,112.0 511.9,112.1 512.1,112.1 512.3,112.6 512.4,112.3 512.6,112.4 512.8,112.4 512.9,112.6 513.7,112.0 514.4,111.9 515.2,112.2 516.0,112.2 516.7,112.1 517.5,112.0 518.3,112.3 519.0,112.5 519.8,112.2 520.5,112.1 521.3,112.4 521.5,112.1 521.6,112.1 521.8,112.2 522.0,111.7 522.1,112.4 522.3,112.1 522.5,112.1 522.6,112.0 522.8,111.8 523.0,111.3 523.1,111.7 523.3,111.2 523.5,110.8 523.6,111.1 523.8,110.1 524.0,110.3 524.1,110.2 524.3,110.2 524.5,111.1 524.6,110.7 524.8,111.3 525.0,111.5 525.1,111.8 525.3,111.7 525.5,112.3 525.6,112.1 525.8,111.9 526.0,111.9 526.1,112.2 526.3,112.0 526.5,112.3 526.6,112.3 526.8,112.1 527.0,111.9 527.1,112.0 527.3,112.3 527.5,112.1 528.2,112.6 529.0,112.2 529.7,112.3 530.5,112.4 531.3,112.3 532.0,112.3 532.8,112.5 533.6,112.2 534.3,112.3 535.1,112.2 535.8,112.7 536.6,112.3 537.4,112.5 538.1,111.8 538.9,112.2 539.7,112.1 540.4,112.3 541.2,112.3 541.9,112.1 542.7,112.3 543.5,112.5 544.2,112.5 545.0,112.3 545.7,112.6 546.5,112.3 547.3,112.5 548.0,112.2 548.8,112.6 549.6,112.8 550.3,112.3 551.1,112.6 551.8,112.1 552.6,112.3 553.4,112.9 554.1,112.4 554.9,112.5 555.6,112.1 556.4,112.4 557.2,112.3 557.9,112.7 558.7,112.3 559.5,112.9 560.2,112.2 561.0,112.5 561.7,112.1 562.5,112.3 563.3,112.6 564.0,112.3 564.2,112.1 564.4,112.4 564.5,112.4 564.7,112.2 564.9,112.2 565.0,111.5 565.2,111.8 565.4,111.2 565.5,110.1 565.7,110.0 565.9,108.6 566.0,107.5 566.2,105.6 566.4,104.3 566.5,102.6 566.7,101.6 566.9,100.3 567.0,99.5 567.2,99.5 567.4,100.4 567.5,101.1 567.7,102.8 567.9,104.0 568.0,105.5 568.2,107.2 568.4,108.5 568.5,109.6 568.7,110.6 568.9,111.0 569.0,111.4 569.2,111.9 569.4,112.1 569.5,112.1 569.7,112.3 569.9,111.9 570.0,112.2 570.2,112.1 570.4,112.3 570.5,112.6 571.3,112.2 572.0,112.7 572.8,112.4 573.6,112.5 574.3,112.5 575.1,112.7 575.9,112.4 576.6,112.2 577.4,112.6 578.1,112.6 578.9,112.7 579.7,112.7 580.4,112.4 581.2,112.6 581.9,112.6 582.7,112.6 583.5,112.6 584.2,112.7 585.0,112.5 585.8,112.6 586.5,112.8 587.3,112.5 588.0,112.6 588.8,112.5 589.6,112.5 590.3,112.6 591.1,112.7 591.8,112.9 592.6,112.6 593.4,112.8 594.1,112.8 594.3,112.7 594.5,112.1 594.6,112.6 594.8,112.6 595.0,112.4 595.1,112.5 595.3,112.7 595.5,112.1 595.6,112.0 595.8,112.1 596.0,111.4 596.1,111.3 596.3,111.3 596.5,111.2 596.6,111.1 596.8,110.9 597.0,111.1 597.1,110.9 597.3,110.7 597.5,111.1 597.6,111.5 597.8,111.7 598.0,111.5 598.1,112.1 598.3,112.1 598.5,112.3 598.6,112.7 598.8,112.5 599.0,112.5 599.1,112.6 599.3,112.5 599.5,113.0 599.6,112.8 599.8,112.9 600.0,112.6 600.1,112.6 600.3,112.8 601.1,112.3 601.8,112.9 602.6,112.5 603.3,112.8 604.1,112.8 604.9,112.6 605.6,112.8 606.4,112.9 607.1,113.1 607.9,112.8 608.7,113.1 609.4,112.9 610.2,112.7 611.0,112.9 611.1,112.7 611.3,112.8 611.5,112.8 611.6,112.9 611.8,112.7 612.0,112.3 612.1,112.8 612.3,112.4 612.5,112.2 612.6,111.9 612.8,112.0 613.0,111.7 613.1,111.5 613.3,111.1 613.5,111.2 613.6,110.8 613.8,110.9 614.0,110.9 614.1,111.2 614.3,111.1 614.5,111.4 614.6,111.7 614.8,111.8 615.0,112.0 615.1,112.1 615.3,112.6 615.5,112.8 615.6,112.5 615.8,112.8 616.0,112.5 616.1,112.6 616.3,112.7 616.5,112.8 616.6,112.9 616.8,112.4 617.0,112.5 617.1,112.8 617.9,112.7 618.0,113.2 618.2,112.7 618.4,112.6 618.5,113.0 618.7,112.2 618.9,112.4 619.0,113.1 619.2,112.4 619.4,112.5 619.5,112.2 619.7,111.9 619.9,111.7 620.0,111.2 620.2,111.1 620.4,110.6 620.5,110.1 620.7,109.4 620.9,108.8 621.0,108.8 621.2,108.7 621.4,109.0 621.5,109.0 621.7,109.5 621.9,110.2 622.0,110.7 622.2,111.1 622.4,111.3 622.5,111.7 622.7,112.5 622.9,112.5 623.0,112.3 623.2,112.9 623.4,112.6 623.5,112.7 623.7,112.6 623.9,113.0 624.0,112.8 624.2,112.7 624.4,112.5 624.5,112.4 624.7,112.6 624.9,112.4 625.0,112.6 625.2,111.9 625.4,111.7 625.5,111.6 625.7,111.2 625.9,110.5 626.0,110.5 626.2,109.9 626.4,109.7 626.5,109.5 626.7,109.6 626.9,109.5 627.0,109.9 627.2,110.5 627.4,110.8 627.5,111.2 627.7,111.7 627.9,111.9 628.0,112.2 628.2,112.0 628.4,112.4 628.5,112.8 628.7,112.6 628.9,112.7 629.0,112.8 629.2,112.8 629.4,113.0 629.5,112.9 629.7,112.8 629.9,113.1 630.0,112.8 630.8,112.8 631.6,113.0 632.3,113.0 633.1,112.9 633.9,112.7 634.6,112.8 635.4,113.0 636.1,113.1 636.9,113.3 637.7,112.9 638.4,112.9 639.2,112.6 639.9,113.2 640.7,113.1 640.9,113.0 641.0,112.8 641.2,112.5 641.4,113.1 641.5,112.8 641.7,113.2 641.9,113.0 642.0,113.1 642.2,112.8 642.4,113.0 642.5,112.5 642.7,113.0 642.9,112.6 643.0,112.4 643.2,112.5 643.4,112.4 643.5,112.7 643.7,112.5 643.9,112.5 644.0,112.7 644.2,112.8 644.4,112.9 644.5,113.0 644.7,113.1 644.9,113.0 645.0,113.3 645.2,112.5 645.4,113.0 645.5,113.2 645.7,112.8 645.9,113.0 646.0,113.0 646.2,112.7 646.4,112.9 646.5,113.1 646.7,113.0 647.5,113.3 648.2,113.4 649.0,113.0 649.7,112.8 650.5,113.0 651.3,112.9 652.0,112.8 652.8,113.0 653.6,113.0 654.3,113.0 655.1,113.2 655.8,113.3 656.6,113.1 657.4,113.0 658.1,113.2 658.9,113.1 659.7,113.1 660.4,112.9 661.2,112.5 661.3,113.2 661.5,113.0 661.7,113.0 661.8,113.1 662.0,113.0 662.2,113.0 662.3,113.3 662.5,113.0 662.7,112.9 662.8,112.7 663.0,112.7 663.2,112.7 663.3,112.5 663.5,112.5 663.7,112.2 663.8,112.4 664.0,112.1 664.2,112.3 664.3,112.3 664.5,112.5 664.7,112.8 664.8,112.7 665.0,112.6 665.2,112.9 665.3,113.1 665.5,113.1 665.7,113.1 665.8,112.9 666.0,113.0 666.2,113.0 666.3,113.0 666.5,113.2 666.7,113.1 666.8,113.1 667.0,113.2 667.2,113.0 667.3,113.1 668.1,113.2 668.9,112.9 669.6,113.0 670.4,112.9 671.1,113.0 671.9,113.1 672.7,113.1 673.4,113.2 674.2,113.2 675.0,113.0 675.7,113.5 676.5,113.4 677.2,113.0 678.0,113.1" fill="none" stroke="#962e96" stroke-width="1.0" stroke-linejoin="round"/>
<polyline points="416.7,134.3 417.5,134.5 418.2,134.6 419.0,134.5 419.7,134.1 420.5,135.1 421.3,134.7 422.0,134.7 422.8,134.5 423.6,134.6 424.3,134.8 425.1,134.6 425.8,134.9 426.6,134.7 427.4,135.0 428.1,134.7 428.9,135.0 429.6,134.4 430.4,135.0 431.2,134.8 431.9,134.7 432.7,134.9 433.5,134.7 434.2,134.9 435.0,134.9 435.7,135.0 436.5,135.2 437.3,135.0 438.0,135.3 438.8,134.9 439.5,134.8 440.3,134.9 441.1,134.8 441.8,134.6 442.6,134.9 443.4,134.6 444.1,134.8 444.9,134.7 445.6,134.6 445.8,134.5 446.0,134.7 446.1,134.7 446.3,134.9 446.5,134.7 446.6,134.7 446.8,134.4 447.0,134.2 447.1,133.8 447.3,133.3 447.5,132.9 447.6,131.5 447.8,129.9 448.0,127.7 448.1,125.5 448.3,122.4 448.5,119.7 448.6,116.9 448.8,115.5 449.0,114.8 449.1,115.9 449.3,118.5 449.5,121.1 449.6,124.1 449.8,127.0 450.0,129.3 450.1,131.0 450.3,132.1 450.5,133.1 450.6,133.8 450.8,134.3 451.0,134.5 451.1,134.6 451.3,134.5 451.5,134.7 451.6,134.9 451.8,134.6 452.0,134.7 452.1,135.0 452.3,135.1 453.1,134.9 453.8,134.9 454.6,134.8 455.4,134.9 456.1,134.8 456.9,135.0 457.6,135.1 458.4,135.0 458.6,135.2 458.7,134.8 458.9,134.7 459.1,135.2 459.2,135.1 459.4,134.8 459.6,134.9 459.7,134.7 459.9,134.8 460.1,134.7 460.2,134.6 460.4,134.0 460.6,133.6 460.7,133.5 460.9,132.8 461.1,132.6 461.2,131.7 461.4,131.5 461.6,131.0 461.7,131.9 461.9,132.3 462.1,132.6 462.2,133.0 462.4,133.2 462.6,133.7 462.7,134.2 462.9,134.9 463.1,134.9 463.2,134.7 463.4,135.0 463.6,135.0 463.7,135.0 463.9,134.8 464.1,134.9 464.2,135.2 464.4,135.1 464.6,134.9 464.7,135.4 464.9,135.0 465.7,134.9 466.4,135.1 467.2,135.1 467.3,134.9 467.5,135.2 467.7,135.0 467.8,134.8 468.0,134.8 468.2,134.7 468.3,134.3 468.5,134.2 468.7,133.4 468.8,132.5 469.0,131.4 469.2,129.2 469.3,127.1 469.5,124.2 469.7,121.5 469.8,118.4 470.0,116.4 470.2,115.0 470.3,114.8 470.5,116.4 470.7,118.8 470.8,121.8 471.0,124.9 471.2,127.8 471.3,130.2 471.5,131.8 471.7,132.5 471.8,133.5 472.0,134.1 472.2,134.4 472.3,134.7 472.5,134.9 472.7,134.8 472.8,134.8 473.0,135.3 473.2,135.1 473.3,135.4 473.5,134.9 473.7,135.3 474.4,135.4 475.2,135.3 476.0,135.0 476.7,135.2 477.5,135.0 478.2,135.0 479.0,135.2 479.8,135.3 480.5,135.2 481.3,135.2 482.1,135.3 482.8,135.1 483.6,135.3 484.3,135.4 485.1,135.4 485.9,135.3 486.6,135.1 487.4,135.2 488.1,135.2 488.9,135.4 489.7,135.0 490.4,135.3 491.2,135.0 492.0,135.4 492.7,135.2 493.5,135.3 494.2,135.5 495.0,135.6 495.8,135.1 496.5,135.4 497.3,135.0 498.0,135.3 498.8,135.2 499.6,135.5 500.3,135.3 501.1,135.4 501.9,135.2 502.6,135.3 503.4,135.2 504.1,135.4 504.9,135.1 505.7,135.4 506.4,135.6 506.6,135.9 506.8,135.7 506.9,135.6 507.1,135.5 507.3,135.7 507.4,135.4 507.6,135.5 507.8,135.0 507.9,135.3 508.1,135.6 508.3,135.0 508.4,135.3 508.6,135.2 508.8,135.1 508.9,135.1 509.1,135.0 509.3,134.8 509.4,134.9 509.6,134.6 509.8,135.2 509.9,135.0 510.1,135.2 510.3,135.0 510.4,135.6 510.6,135.5 510.8,135.4 510.9,135.4 511.1,135.5 511.3,135.3 511.4,135.4 511.6,135.4 511.8,135.5 511.9,135.7 512.1,135.6 512.3,135.5 512.4,135.5 512.6,135.4 512.8,135.4 512.9,135.1 513.7,135.2 514.4,135.2 515.2,135.4 516.0,135.4 516.7,135.5 517.5,135.7 518.3,135.6 519.0,135.4 519.8,135.4 520.5,135.4 521.3,135.6 521.5,135.3 521.6,135.2 521.8,135.4 522.0,135.6 522.1,135.6 522.3,135.5 522.5,135.0 522.6,135.2 522.8,135.2 523.0,135.1 523.1,135.0 523.3,134.2 523.5,134.2 523.6,133.5 523.8,133.6 524.0,133.4 524.1,133.7 524.3,133.8 524.5,133.7 524.6,134.3 524.8,134.7 525.0,135.1 525.1,134.9 525.3,135.1 525.5,135.2 525.6,135.6 525.8,135.4 526.0,135.5 526.1,135.6 526.3,135.3 526.5,135.7 526.6,135.2 526.8,135.8 527.0,135.4 527.1,135.4 527.3,135.4 527.5,135.3 528.2,135.4 529.0,135.4 529.7,135.3 530.5,135.5 531.3,135.6 532.0,135.5 532.8,135.6 533.6,135.4 534.3,135.6 535.1,135.5 535.8,135.4 536.6,135.6 537.4,135.6 538.1,135.5 538.9,135.6 539.7,135.7 540.4,135.4 541.2,135.5 541.9,135.7 542.7,135.6 543.5,135.8 544.2,136.1 545.0,135.4 545.7,135.7 546.5,135.6 547.3,135.9 548.0,135.8 548.8,135.4 549.6,135.9 550.3,135.7 551.1,135.6 551.8,135.7 552.6,135.7 553.4,135.5 554.1,135.6 554.9,135.9 555.6,135.5 556.4,135.6 557.2,135.8 557.9,135.5 558.7,135.7 559.5,135.8 560.2,135.5 561.0,135.6 561.7,135.5 562.5,135.7 563.3,135.7 564.0,135.6 564.2,135.7 564.4,135.7 564.5,135.7 564.7,135.3 564.9,135.5 565.0,135.6 565.2,135.1 565.4,134.8 565.5,134.5 565.7,133.9 565.9,133.5 566.0,132.6 566.2,131.7 566.4,130.9 566.5,130.1 566.7,128.7 566.9,128.1 567.0,127.8 567.2,127.5 567.4,128.3 567.5,129.2 567.7,129.9 567.9,130.9 568.0,131.3 568.2,132.4 568.4,133.1 568.5,134.1 568.7,134.4 568.9,134.8 569.0,135.2 569.2,135.5 569.4,135.7 569.5,135.8 569.7,135.8 569.9,135.3 570.0,135.9 570.2,135.7 570.4,135.4 570.5,135.7 571.3,135.7 572.0,135.7 572.8,135.9 573.6,135.5 574.3,135.9 575.1,136.0 575.9,135.6 576.6,136.1 577.4,135.7 578.1,135.7 578.9,136.0 579.7,135.8 580.4,135.5 581.2,135.7 581.9,136.0 582.7,135.7 583.5,135.8 584.2,135.8 585.0,135.9 585.8,135.7 586.5,135.7 587.3,135.9 588.0,136.1 588.8,135.4 589.6,135.9 590.3,136.1 591.1,135.7 591.8,136.1 592.6,135.6 593.4,136.1 594.1,136.2 594.3,136.1 594.5,135.4 594.6,135.9 594.8,135.6 595.0,135.9 595.1,136.0 595.3,135.8 595.5,135.9 595.6,135.2 595.8,135.2 596.0,135.1 596.1,135.1 596.3,135.0 596.5,134.5 596.6,134.4 596.8,134.6 597.0,134.2 597.1,134.6 597.3,134.5 597.5,134.7 597.6,135.3 597.8,135.1 598.0,135.3 598.1,135.3 598.3,135.7 598.5,135.9 598.6,135.9 598.8,135.6 599.0,135.9 599.1,136.1 599.3,135.7 599.5,135.9 599.6,135.7 599.8,135.8 600.0,135.7 600.1,135.7 600.3,136.0 601.1,135.9 601.8,135.5 602.6,135.7 603.3,135.8 604.1,135.7 604.9,136.0 605.6,135.9 606.4,136.0 607.1,135.7 607.9,135.8 608.7,135.9 609.4,135.9 610.2,135.9 611.0,135.8 611.1,135.9 611.3,136.3 611.5,135.8 611.6,135.6 611.8,136.0 612.0,135.7 612.1,136.0 612.3,136.0 612.5,136.0 612.6,135.7 612.8,135.2 613.0,135.7 613.1,135.5 613.3,135.4 613.5,135.1 613.6,134.9 613.8,135.0 614.0,134.7 614.1,135.3 614.3,135.1 614.5,135.2 614.6,135.5 614.8,135.4 615.0,135.8 615.1,135.6 615.3,136.2 615.5,136.1 615.6,136.0 615.8,136.0 616.0,136.0 616.1,135.9 616.3,135.6 616.5,135.9 616.6,135.8 616.8,135.9 617.0,136.0 617.1,135.6 617.9,135.8 618.0,135.9 618.2,135.9 618.4,136.1 618.5,136.4 618.7,135.9 618.9,136.0 619.0,135.9 619.2,135.9 619.4,136.0 619.5,135.6 619.7,135.5 619.9,135.2 620.0,134.8 620.2,134.8 620.4,134.2 620.5,134.2 620.7,133.4 620.9,133.4 621.0,133.4 621.2,132.9 621.4,133.2 621.5,133.6 621.7,133.7 621.9,133.9 622.0,134.3 622.2,134.8 622.4,134.9 622.5,135.2 622.7,135.5 622.9,135.4 623.0,136.1 623.2,135.7 623.4,135.9 623.5,135.9 623.7,136.2 623.9,135.9 624.0,136.3 624.2,136.3 624.4,136.1 624.5,135.7 624.7,135.6 624.9,135.7 625.0,135.7 625.2,135.7 625.4,135.6 625.5,135.2 625.7,134.9 625.9,134.7 626.0,134.0 626.2,134.4 626.4,133.7 626.5,133.5 626.7,133.7 626.9,133.9 627.0,134.0 627.2,134.4 627.4,134.7 627.5,135.1 627.7,135.3 627.9,135.3 628.0,135.6 628.2,136.0 628.4,135.8 628.5,135.9 628.7,135.6 628.9,136.0 629.0,136.4 629.2,136.2 629.4,136.0 629.5,136.3 629.7,136.3 629.9,136.3 630.0,135.8 630.8,135.9 631.6,136.2 632.3,136.2 633.1,136.2 633.9,135.8 634.6,136.2 635.4,136.4 636.1,136.3 636.9,136.6 637.7,136.2 638.4,136.1 639.2,136.4 639.9,136.3 640.7,135.7 640.9,135.8 641.0,136.2 641.2,136.0 641.4,136.4 641.5,136.4 641.7,136.3 641.9,136.0 642.0,136.0 642.2,136.1 642.4,135.9 642.5,136.0 642.7,135.9 642.9,135.9 643.0,135.8 643.2,135.6 643.4,135.2 643.5,135.5 643.7,135.5 643.9,136.0 644.0,135.6 644.2,135.8 644.4,136.1 644.5,136.2 644.7,136.2 644.9,136.2 645.0,136.4 645.2,136.0 645.4,136.3 645.5,135.9 645.7,136.1 645.9,136.2 646.0,136.3 646.2,136.1 646.4,136.0 646.5,135.9 646.7,135.7 647.5,135.8 648.2,136.5 649.0,135.8 649.7,135.9 650.5,135.9 651.3,136.1 652.0,136.1 652.8,136.1 653.6,136.0 654.3,136.2 655.1,135.9 655.8,136.3 656.6,136.5 657.4,136.0 658.1,136.2 658.9,136.1 659.7,136.1 660.4,136.0 661.2,136.2 661.3,136.2 661.5,136.4 661.7,136.6 661.8,136.0 662.0,136.4 662.2,136.0 662.3,136.0 662.5,135.9 662.7,136.2 662.8,136.2 663.0,135.9 663.2,135.9 663.3,135.7 663.5,135.7 663.7,135.4 663.8,135.6 664.0,135.3 664.2,136.1 664.3,135.9 664.5,135.7 664.7,135.7 664.8,135.8 665.0,136.0 665.2,136.1 665.3,136.4 665.5,136.0 665.7,135.8 665.8,136.2 666.0,136.3 666.2,136.1 666.3,136.4 666.5,136.2 666.7,136.1 666.8,136.2 667.0,136.0 667.2,136.2 667.3,136.6 668.1,136.5 668.9,136.4 669.6,136.3 670.4,136.3 671.1,136.0 671.9,136.3 672.7,136.1 673.4,136.2 674.2,136.6 675.0,136.1 675.7,136.3 676.5,136.3 677.2,136.5 678.0,136.3" fill="none" stroke="#2e2e96" stroke-width="1.0" stroke-linejoin="round"/>
<polyline points="416.7,162.1 417.5,162.1 418.2,162.0 419.0,162.0 419.7,161.9 420.5,162.3 421.3,161.9 422.0,162.3 422.8,162.4 423.6,162.0 424.3,162.0 425.1,162.0 425.8,162.1 426.6,162.4 427.4,162.0 428.1,162.0 428.9,161.9 429.6,162.2 430.4,162.3 431.2,162.5 431.9,162.3 432.7,162.2 433.5,162.2 434.2,162.7 435.0,162.5 435.7,162.4 436.5,162.2 437.3,162.2 438.0,162.2 438.8,162.2 439.5,162.3 440.3,162.1 441.1,162.6 441.8,162.1 442.6,162.4 443.4,162.4 444.1,162.4 444.9,162.4 445.6,162.2 445.8,162.1 446.0,162.3 446.1,162.3 446.3,162.0 446.5,162.1 446.6,161.7 446.8,161.8 447.0,161.2 447.1,161.4 447.3,160.5 447.5,159.9 447.6,158.4 447.8,156.2 448.0,153.9 448.1,150.9 448.3,147.0 448.5,144.0 448.6,140.7 448.8,138.4 449.0,138.2 449.1,139.6 449.3,142.4 449.5,145.5 449.6,149.1 449.8,152.6 450.0,155.4 450.1,157.9 450.3,159.3 450.5,160.4 450.6,160.8 450.8,161.3 451.0,161.5 451.1,161.9 451.3,162.1 451.5,162.3 451.6,162.3 451.8,162.0 452.0,162.1 452.1,162.5 452.3,162.2 453.1,162.3 453.8,162.0 454.6,162.1 455.4,162.2 456.1,162.3 456.9,162.4 457.6,162.3 458.4,162.0 458.6,162.8 458.7,162.4 458.9,162.0 459.1,162.6 459.2,162.5 459.4,162.3 459.6,162.3 459.7,162.3 459.9,161.8 460.1,162.3 460.2,162.0 460.4,161.8 460.6,161.3 460.7,160.9 460.9,160.9 461.1,159.5 461.2,160.0 461.4,159.7 461.6,159.1 461.7,159.5 461.9,159.7 462.1,160.2 462.2,160.5 462.4,160.9 462.6,161.5 462.7,161.7 462.9,162.1 463.1,162.3 463.2,162.1 463.4,162.6 463.6,162.6 463.7,162.0 463.9,162.3 464.1,162.3 464.2,162.4 464.4,162.2 464.6,162.6 464.7,162.3 464.9,162.7 465.7,162.2 466.4,162.7 467.2,162.3 467.3,162.4 467.5,162.3 467.7,162.2 467.8,161.9 468.0,162.0 468.2,161.8 468.3,161.6 468.5,161.2 468.7,160.8 468.8,159.8 469.0,158.2 469.2,156.0 469.3,154.0 469.5,150.7 469.7,147.5 469.8,144.5 470.0,141.9 470.2,140.4 470.3,140.5 470.5,141.8 470.7,145.0 470.8,148.0 471.0,151.4 471.2,154.2 471.3,156.6 471.5,158.8 471.7,159.9 471.8,161.0 472.0,161.5 472.2,161.9 472.3,162.1 472.5,162.2 472.7,162.0 472.8,162.1 473.0,162.5 473.2,162.2 473.3,162.2 473.5,162.3 473.7,162.5 474.4,162.2 475.2,162.4 476.0,162.4 476.7,162.3 477.5,162.6 478.2,162.4 479.0,162.5 479.8,162.6 480.5,162.6 481.3,162.6 482.1,162.6 482.8,162.4 483.6,162.1 484.3,162.7 485.1,162.8 485.9,162.5 486.6,162.5 487.4,162.7 488.1,162.4 488.9,162.5 489.7,162.5 490.4,162.7 491.2,162.6 492.0,162.9 492.7,162.4 493.5,162.5 494.2,162.3 495.0,162.6 495.8,162.6 496.5,162.5 497.3,162.7 498.0,162.4 498.8,162.3 499.6,163.0 500.3,162.6 501.1,162.4 501.9,162.8 502.6,162.6 503.4,162.5 504.1,162.7 504.9,162.8 505.7,162.8 506.4,162.6 506.6,162.9 506.8,162.5 506.9,162.6 507.1,162.7 507.3,162.4 507.4,162.7 507.6,162.7 507.8,162.8 507.9,162.7 508.1,162.9 508.3,162.3 508.4,162.4 508.6,162.4 508.8,162.4 508.9,162.4 509.1,162.1 509.3,162.4 509.4,162.4 509.6,162.2 509.8,161.9 509.9,162.4 510.1,162.4 510.3,162.2 510.4,162.3 510.6,162.4 510.8,162.3 510.9,162.7 511.1,162.8 511.3,162.7 511.4,162.5 511.6,162.6 511.8,162.6 511.9,163.0 512.1,162.6 512.3,162.7 512.4,162.6 512.6,162.9 512.8,162.5 512.9,162.8 513.7,162.6 514.4,162.8 515.2,162.4 516.0,162.7 516.7,162.9 517.5,162.8 518.3,162.5 519.0,163.1 519.8,162.8 520.5,162.6 521.3,162.6 521.5,162.5 521.6,162.9 521.8,162.9 522.0,162.9 522.1,162.5 522.3,162.3 522.5,162.2 522.6,162.2 522.8,162.3 523.0,162.0 523.1,161.8 523.3,161.9 523.5,161.5 523.6,161.5 523.8,161.5 524.0,161.1 524.1,161.2 524.3,161.6 524.5,161.3 524.6,161.7 524.8,161.8 525.0,162.2 525.1,162.2 525.3,162.5 525.5,162.5 525.6,162.8 525.8,162.5 526.0,162.6 526.1,162.8 526.3,162.5 526.5,162.6 526.6,162.7 526.8,162.6 527.0,162.8 527.1,162.6 527.3,162.4 527.5,162.8 528.2,162.6 529.0,162.6 529.7,162.7 530.5,162.9 531.3,162.9 532.0,162.8 532.8,162.8 533.6,162.7 534.3,163.0 535.1,162.9 535.8,162.6 536.6,162.9 537.4,162.5 538.1,162.6 538.9,162.6 539.7,163.0 540.4,163.1 541.2,162.8 541.9,162.7 542.7,163.0 543.5,162.7 544.2,163.1 545.0,162.6 545.7,163.0 546.5,162.6 547.3,163.1 548.0,162.8 548.8,162.7 549.6,162.8 550.3,162.4 551.1,162.8 551.8,162.9 552.6,163.2 553.4,162.6 554.1,163.0 554.9,163.0 555.6,162.9 556.4,162.8 557.2,162.8 557.9,162.7 558.7,162.9 559.5,162.6 560.2,162.7 561.0,162.8 561.7,162.6 562.5,162.6 563.3,162.7 564.0,162.8 564.2,162.8 564.4,162.7 564.5,162.9 564.7,162.6 564.9,162.7 565.0,162.1 565.2,162.2 565.4,161.9 565.5,161.6 565.7,160.6 565.9,160.2 566.0,158.9 566.2,157.8 566.4,156.4 566.5,155.6 566.7,154.2 566.9,153.6 567.0,153.0 567.2,153.0 567.4,153.4 567.5,154.1 567.7,155.2 567.9,156.5 568.0,157.8 568.2,158.7 568.4,159.9 568.5,160.2 568.7,161.0 568.9,161.8 569.0,162.1 569.2,162.7 569.4,162.7 569.5,162.4 569.7,162.4 569.9,162.7 570.0,162.7 570.2,162.9 570.4,162.7 570.5,162.6 571.3,162.7 572.0,162.8 572.8,162.7 573.6,162.8 574.3,163.0 575.1,162.8 575.9,162.7 576.6,163.0 577.4,163.0 578.1,162.7 578.9,162.8 579.7,162.6 580.4,162.7 581.2,162.7 581.9,162.7 582.7,162.8 583.5,163.3 584.2,163.1 585.0,162.8 585.8,163.0 586.5,162.9 587.3,162.9 588.0,162.6 588.8,162.9 589.6,162.7 590.3,162.8 591.1,162.9 591.8,162.3 592.6,162.5 593.4,163.0 594.1,163.2 594.3,163.1 594.5,162.7 594.6,162.8 594.8,163.0 595.0,162.8 595.1,162.4 595.3,162.9 595.5,162.5 595.6,162.5 595.8,162.1 596.0,162.0 596.1,162.3 596.3,161.8 596.5,161.8 596.6,161.8 596.8,161.5 597.0,161.5 597.1,161.5 597.3,161.8 597.5,161.9 597.6,162.1 597.8,162.4 598.0,162.4 598.1,162.7 598.3,162.4 598.5,162.7 598.6,162.9 598.8,162.7 599.0,162.6 599.1,162.9 599.3,162.8 599.5,163.0 599.6,163.2 599.8,162.9 600.0,162.7 600.1,162.9 600.3,162.8 601.1,162.9 601.8,163.2 602.6,163.1 603.3,163.0 604.1,162.9 604.9,163.1 605.6,163.0 606.4,163.3 607.1,163.0 607.9,163.0 608.7,163.1 609.4,163.4 610.2,162.7 611.0,163.1 611.1,162.8 611.3,162.7 611.5,162.9 611.6,163.1 611.8,162.6 612.0,162.8 612.1,163.2 612.3,163.0 612.5,162.7 612.6,162.8 612.8,162.5 613.0,162.3 613.1,162.1 613.3,162.4 613.5,162.0 613.6,162.0 613.8,161.9 614.0,161.8 614.1,162.1 614.3,162.5 614.5,162.1 614.6,162.4 614.8,162.8 615.0,162.7 615.1,162.7 615.3,162.9 615.5,162.9 615.6,162.9 615.8,162.8 616.0,162.9 616.1,162.6 616.3,163.0 616.5,162.9 616.6,162.9 616.8,162.7 617.0,162.9 617.1,162.6 617.9,163.1 618.0,162.7 618.2,163.1 618.4,162.8 618.5,163.1 618.7,163.0 618.9,163.1 619.0,162.8 619.2,162.4 619.4,162.8 619.5,162.5 619.7,162.1 619.9,162.0 620.0,162.0 620.2,161.7 620.4,161.3 620.5,161.0 620.7,160.7 620.9,160.2 621.0,160.1 621.2,160.0 621.4,160.1 621.5,160.3 621.7,160.7 621.9,160.9 622.0,161.4 622.2,161.9 622.4,162.0 622.5,162.4 622.7,162.3 622.9,162.5 623.0,163.0 623.2,162.8 623.4,163.1 623.5,162.5 623.7,162.5 623.9,162.9 624.0,162.9 624.2,162.5 624.4,163.0 624.5,163.0 624.7,162.7 624.9,162.8 625.0,162.7 625.2,162.5 625.4,162.1 625.5,162.1 625.7,161.6 625.9,161.3 626.0,160.9 626.2,160.9 626.4,160.9 626.5,160.4 626.7,160.5 626.9,160.4 627.0,160.9 627.2,161.3 627.4,161.5 627.5,161.9 627.7,162.3 627.9,162.1 628.0,162.4 628.2,162.8 628.4,162.7 628.5,162.7 628.7,162.9 628.9,163.0 629.0,163.2 629.2,162.8 629.4,163.1 629.5,163.1 629.7,162.5 629.9,163.1 630.0,163.0 630.8,162.7 631.6,163.4 632.3,163.1 633.1,163.1 633.9,163.5 634.6,163.2 635.4,162.9 636.1,163.1 636.9,163.4 637.7,163.3 638.4,163.4 639.2,163.1 639.9,163.3 640.7,163.0 640.9,163.0 641.0,163.2 641.2,163.0 641.4,163.2 641.5,163.0 641.7,163.1 641.9,163.4 642.0,163.1 642.2,163.1 642.4,162.6 642.5,162.7 642.7,163.0 642.9,162.4 643.0,162.6 643.2,162.6 643.4,162.9 643.5,162.4 643.7,162.7 643.9,162.8 644.0,162.9 644.2,162.6 644.4,163.2 644.5,163.1 644.7,163.2 644.9,163.1 645.0,163.2 645.2,163.0 645.4,163.0 645.5,162.9 645.7,163.2 645.9,162.9 646.0,163.3 646.2,163.2 646.4,163.0 646.5,163.1 646.7,162.8 647.5,162.9 648.2,163.0 649.0,162.8 649.7,163.0 650.5,163.1 651.3,163.0 652.0,163.0 652.8,162.9 653.6,162.8 654.3,163.2 655.1,163.0 655.8,163.3 656.6,162.9 657.4,163.0 658.1,163.2 658.9,163.4 659.7,163.3 660.4,163.3 661.2,162.9 661.3,163.2 661.5,163.5 661.7,162.7 661.8,163.2 662.0,163.5 662.2,162.9 662.3,163.1 662.5,163.4 662.7,163.1 662.8,163.0 663.0,163.0 663.2,162.8 663.3,162.9 663.5,162.6 663.7,162.8 663.8,162.4 664.0,162.5 664.2,162.6 664.3,162.2 664.5,162.8 664.7,162.7 664.8,162.7 665.0,162.6 665.2,162.9 665.3,162.8 665.5,163.2 665.7,163.4 665.8,163.0 666.0,163.0 666.2,163.1 666.3,163.1 666.5,163.2 666.7,162.8 666.8,163.2 667.0,163.1 667.2,163.0 667.3,162.9 668.1,163.3 668.9,163.4 669.6,163.2 670.4,163.3 671.1,163.3 671.9,163.2 672.7,163.3 673.4,163.0 674.2,163.3 675.0,162.7 675.7,163.4 676.5,163.5 677.2,163.4 678.0,163.0" fill="none" stroke="#96962e" stroke-width="1.0" stroke-linejoin="round"/>
<polyline points="416.7,186.3 417.5,186.6 418.2,186.3 419.0,186.6 419.7,186.5 420.5,186.8 421.3,186.5 422.0,186.5 422.8,186.7 423.6,186.8 424.3,186.6 425.1,186.4 425.8,186.4 426.6,186.4 427.4,186.7 428.1,186.5 428.9,186.7 429.6,186.4 430.4,186.7 431.2,186.8 431.9,186.5 432.7,186.9 433.5,186.8 434.2,186.6 435.0,186.7 435.7,186.8 436.5,186.6 437.3,186.7 438.0,186.8 438.8,186.5 439.5,187.3 440.3,187.0 441.1,187.0 441.8,187.2 442.6,187.0 443.4,186.8 444.1,186.8 444.9,186.9 445.6,187.0 445.8,186.6 446.0,187.0 446.1,186.6 446.3,186.4 446.5,186.8 446.6,186.4 446.8,186.5 447.0,186.0 447.1,186.0 447.3,185.3 447.5,184.8 447.6,183.0 447.8,181.5 448.0,179.1 448.1,176.6 448.3,173.3 448.5,170.3 448.6,167.6 448.8,165.8 449.0,165.5 449.1,166.8 449.3,168.8 449.5,172.3 449.6,175.0 449.8,178.0 450.0,181.0 450.1,182.5 450.3,184.1 450.5,185.2 450.6,185.6 450.8,186.1 451.0,186.3 451.1,186.5 451.3,186.4 451.5,186.9 451.6,186.7 451.8,186.8 452.0,186.8 452.1,186.7 452.3,187.0 453.1,186.7 453.8,187.1 454.6,186.8 455.4,186.8 456.1,187.0 456.9,187.4 457.6,187.1 458.4,187.0 458.6,187.1 458.7,187.2 458.9,186.9 459.1,186.6 459.2,186.8 459.4,187.0 459.6,186.8 459.7,186.9 459.9,187.2 460.1,186.8 460.2,186.7 460.4,186.7 460.6,186.7 460.7,186.6 460.9,186.2 461.1,185.8 461.2,185.6 461.4,185.4 461.6,185.4 461.7,185.8 461.9,185.9 462.1,186.0 462.2,186.0 462.4,186.4 462.6,186.4 462.7,187.0 462.9,186.8 463.1,186.9 463.2,186.9 463.4,187.0 463.6,187.0 463.7,186.9 463.9,187.0 464.1,187.0 464.2,187.2 464.4,187.1 464.6,187.1 464.7,186.9 464.9,187.0 465.7,186.6 466.4,186.8 467.2,186.9 467.3,186.5 467.5,187.1 467.7,187.0 467.8,186.8 468.0,187.2 468.2,186.4 468.3,186.5 468.5,186.2 468.7,185.5 468.8,185.1 469.0,183.8 469.2,182.1 469.3,179.7 469.5,177.5 469.7,174.7 469.8,172.2 470.0,169.7 470.2,168.6 470.3,169.0 470.5,170.2 470.7,172.5 470.8,175.1 471.0,177.3 471.2,180.5 471.3,182.0 471.5,183.6 471.7,185.1 471.8,186.0 472.0,186.4 472.2,186.4 472.3,186.5 472.5,186.9 472.7,186.9 472.8,186.6 473.0,187.2 473.2,186.6 473.3,187.1 473.5,187.1 473.7,187.1 474.4,187.1 475.2,187.3 476.0,187.2 476.7,187.0 477.5,187.0 478.2,187.4 479.0,186.8 479.8,187.3 480.5,187.1 481.3,186.9 482.1,187.1 482.8,187.3 483.6,186.7 484.3,187.4 485.1,187.5 485.9,187.2 486.6,187.2 487.4,187.3 488.1,187.4 488.9,187.1 489.7,187.2 490.4,187.3 491.2,187.0 492.0,187.3 492.7,187.3 493.5,187.4 494.2,187.1 495.0,187.3 495.8,187.4 496.5,187.3 497.3,187.1 498.0,187.5 498.8,187.3 499.6,187.4 500.3,187.4 501.1,187.5 501.9,187.4 502.6,187.2 503.4,187.5 504.1,187.4 504.9,187.4 505.7,187.4 506.4,187.2 506.6,187.4 506.8,187.4 506.9,187.1 507.1,187.3 507.3,187.4 507.4,187.5 507.6,187.3 507.8,187.4 507.9,187.5 508.1,187.1 508.3,187.2 508.4,187.2 508.6,187.4 508.8,187.4 508.9,187.1 509.1,187.0 509.3,186.9 509.4,186.9 509.6,187.2 509.8,186.9 509.9,186.9 510.1,187.4 510.3,187.1 510.4,187.2 510.6,187.1 510.8,187.5 510.9,187.3 511.1,187.1 511.3,187.0 511.4,187.5 511.6,187.3 511.8,187.5 511.9,187.5 512.1,187.7 512.3,187.7 512.4,187.2 512.6,187.4 512.8,187.3 512.9,187.6 513.7,187.2 514.4,187.6 515.2,187.1 516.0,187.6 516.7,187.7 517.5,187.2 518.3,187.5 519.0,187.4 519.8,187.2 520.5,187.6 521.3,187.3 521.5,187.7 521.6,187.6 521.8,187.8 522.0,187.4 522.1,187.6 522.3,187.5 522.5,187.3 522.6,187.5 522.8,187.3 523.0,187.1 523.1,187.0 523.3,186.6 523.5,186.8 523.6,186.8 523.8,186.1 524.0,186.3 524.1,186.3 524.3,186.3 524.5,186.8 524.6,187.1 524.8,187.0 525.0,187.1 525.1,187.5 525.3,187.3 525.5,187.3 525.6,187.3 525.8,187.6 526.0,187.5 526.1,187.5 526.3,187.4 526.5,187.6 526.6,187.5 526.8,187.8 527.0,187.5 527.1,187.3 527.3,187.8 527.5,187.6 528.2,187.5 529.0,187.6 529.7,187.5 530.5,187.2 531.3,187.5 532.0,187.8 532.8,187.7 533.6,187.4 534.3,187.5 535.1,187.7 535.8,188.0 536.6,187.7 537.4,187.6 538.1,187.5 538.9,187.5 539.7,187.5 540.4,187.6 541.2,187.4 541.9,187.5 542.7,187.4 543.5,187.8 544.2,187.7 545.0,187.6 545.7,187.6 546.5,187.8 547.3,187.7 548.0,187.6 548.8,187.2 549.6,187.3 550.3,187.8 551.1,187.6 551.8,187.5 552.6,187.3 553.4,187.8 554.1,187.5 554.9,187.7 555.6,187.7 556.4,187.6 557.2,187.5 557.9,187.8 558.7,187.4 559.5,187.6 560.2,187.7 561.0,187.9 561.7,187.6 562.5,187.7 563.3,187.8 564.0,187.2 564.2,187.4 564.4,187.5 564.5,187.4 564.7,187.6 564.9,187.3 565.0,187.4 565.2,187.3 565.4,186.8 565.5,186.5 565.7,186.2 565.9,185.4 566.0,184.4 566.2,183.2 566.4,182.4 566.5,181.4 566.7,180.6 566.9,179.8 567.0,179.3 567.2,179.1 567.4,179.8 567.5,180.6 567.7,181.3 567.9,182.4 568.0,183.5 568.2,184.2 568.4,185.2 568.5,186.0 568.7,186.3 568.9,186.8 569.0,186.9 569.2,187.1 569.4,187.1 569.5,187.6 569.7,188.0 569.9,187.6 570.0,187.9 570.2,187.9 570.4,187.6 570.5,187.9 571.3,187.6 572.0,187.4 572.8,187.9 573.6,187.7 574.3,187.7 575.1,187.9 575.9,188.0 576.6,187.8 577.4,187.9 578.1,187.9 578.9,187.7 579.7,188.0 580.4,187.7 581.2,187.9 581.9,188.0 582.7,188.0 583.5,187.5 584.2,187.7 585.0,187.8 585.8,187.7 586.5,187.8 587.3,187.9 588.0,187.9 588.8,188.3 589.6,187.9 590.3,187.9 591.1,187.7 591.8,187.8 592.6,187.9 593.4,188.0 594.1,187.7 594.3,187.8 594.5,187.7 594.6,187.6 594.8,188.0 595.0,187.8 595.1,187.9 595.3,188.1 595.5,188.0 595.6,187.6 595.8,187.6 596.0,187.3 596.1,187.3 596.3,186.9 596.5,187.2 596.6,187.0 596.8,187.1 597.0,187.2 597.1,186.8 597.3,187.1 597.5,187.1 597.6,187.5 597.8,187.3 598.0,187.8 598.1,188.0 598.3,188.1 598.5,188.1 598.6,187.9 598.8,187.9 599.0,187.6 599.1,187.9 599.3,187.6 599.5,187.7 599.6,188.1 599.8,188.1 600.0,187.7 600.1,188.3 600.3,187.7 601.1,187.7 601.8,188.2 602.6,188.2 603.3,187.9 604.1,188.1 604.9,187.7 605.6,188.1 606.4,187.9 607.1,188.1 607.9,187.9 608.7,187.9 609.4,188.1 610.2,188.1 611.0,187.9 611.1,187.7 611.3,188.0 611.5,188.2 611.6,188.1 611.8,187.7 612.0,187.9 612.1,187.9 612.3,188.1 612.5,187.7 612.6,187.6 612.8,187.8 613.0,187.2 613.1,187.2 613.3,187.0 613.5,187.3 613.6,186.9 613.8,187.1 614.0,186.9 614.1,187.4 614.3,187.3 614.5,187.2 614.6,187.6 614.8,187.6 615.0,187.7 615.1,187.6 615.3,188.2 615.5,187.9 615.6,187.8 615.8,188.0 616.0,187.9 616.1,187.8 616.3,188.2 616.5,187.7 616.6,188.1 616.8,187.6 617.0,187.7 617.1,188.2 617.9,187.7 618.0,188.0 618.2,188.0 618.4,188.2 618.5,188.3 618.7,188.1 618.9,188.0 619.0,188.1 619.2,188.0 619.4,187.5 619.5,187.8 619.7,187.4 619.9,187.8 620.0,187.3 620.2,186.7 620.4,186.9 620.5,186.1 620.7,186.1 620.9,185.5 621.0,185.5 621.2,185.6 621.4,185.4 621.5,185.9 621.7,186.2 621.9,186.6 622.0,186.8 622.2,187.0 622.4,187.3 622.5,187.3 622.7,187.5 622.9,188.0 623.0,187.6 623.2,187.8 623.4,188.1 623.5,187.9 623.7,187.7 623.9,187.9 624.0,187.8 624.2,187.7 624.4,187.8 624.5,188.0 624.7,187.8 624.9,187.8 625.0,187.6 625.2,187.5 625.4,187.5 625.5,187.3 625.7,187.0 625.9,186.7 626.0,186.7 626.2,186.3 626.4,185.9 626.5,186.2 626.7,186.2 626.9,186.2 627.0,186.3 627.2,186.8 627.4,187.1 627.5,187.1 627.7,187.3 627.9,187.6 628.0,187.9 628.2,187.6 628.4,188.0 628.5,187.5 628.7,187.9 628.9,188.1 629.0,188.0 629.2,187.8 629.4,188.2 629.5,188.2 629.7,188.2 629.9,188.0 630.0,188.0 630.8,188.0 631.6,188.1 632.3,188.1 633.1,188.1 633.9,188.2 634.6,188.3 635.4,188.1 636.1,188.3 636.9,187.8 637.7,188.6 638.4,188.0 639.2,188.0 639.9,188.2 640.7,188.3 640.9,188.2 641.0,187.8 641.2,188.1 641.4,187.9 641.5,188.3 641.7,188.0 641.9,187.6 642.0,187.9 642.2,188.1 642.4,187.8 642.5,188.0 642.7,187.6 642.9,187.8 643.0,188.0 643.2,187.8 643.4,187.7 643.5,187.7 643.7,188.1 643.9,188.0 644.0,188.0 644.2,188.1 644.4,188.0 644.5,188.1 644.7,188.1 644.9,188.0 645.0,188.3 645.2,188.0 645.4,188.5 645.5,188.3 645.7,188.1 645.9,188.4 646.0,188.5 646.2,188.2 646.4,187.9 646.5,188.2 646.7,188.2 647.5,188.1 648.2,187.9 649.0,188.0 649.7,188.2 650.5,188.1 651.3,188.3 652.0,188.0 652.8,188.3 653.6,188.0 654.3,188.3 655.1,188.2 655.8,188.5 656.6,188.3 657.4,188.2 658.1,188.2 658.9,188.0 659.7,188.2 660.4,188.3 661.2,188.3 661.3,188.1 661.5,188.3 661.7,188.3 661.8,188.3 662.0,188.0 662.2,188.3 662.3,188.1 662.5,187.9 662.7,188.0 662.8,188.2 663.0,188.2 663.2,187.8 663.3,187.7 663.5,187.7 663.7,187.8 663.8,187.9 664.0,187.7 664.2,187.6 664.3,188.0 664.5,187.8 664.7,187.7 664.8,187.9 665.0,188.1 665.2,188.0 665.3,188.1 665.5,188.0 665.7,188.3 665.8,188.5 666.0,188.4 666.2,188.1 666.3,188.0 666.5,188.5 666.7,188.4 666.8,188.0 667.0,188.5 667.2,188.2 667.3,188.1 668.1,188.3 668.9,188.0 669.6,188.1 670.4,188.5 671.1,188.2 671.9,188.4 672.7,188.5 673.4,188.3 674.2,188.3 675.0,188.4 675.7,188.6 676.5,188.4 677.2,188.2 678.0,188.6" fill="none" stroke="#ff2eff" stroke-width="1.0" stroke-linejoin="round"/>
<polyline points="416.7,210.7 417.5,210.3 418.2,210.6 419.0,211.0 419.7,210.3 420.5,210.4 421.3,210.8 422.0,210.6 422.8,210.4 423.6,211.0 424.3,210.7 425.1,210.8 425.8,211.0 426.6,210.8 427.4,210.6 428.1,211.2 428.9,211.0 429.6,210.8 430.4,210.8 431.2,210.6 431.9,211.0 432.7,210.7 433.5,211.2 434.2,210.6 435.0,211.1 435.7,210.7 436.5,210.8 437.3,211.1 438.0,211.0 438.8,211.1 439.5,210.8 440.3,211.0 441.1,210.9 441.8,211.0 442.6,211.2 443.4,211.0 444.1,210.8 444.9,211.0 445.6,210.6 445.8,210.8 446.0,211.1 446.1,210.8 446.3,211.0 446.5,210.7 446.6,210.6 446.8,210.7 447.0,210.5 447.1,210.1 447.3,209.7 447.5,209.2 447.6,207.7 447.8,206.1 448.0,203.7 448.1,201.3 448.3,198.0 448.5,195.2 448.6,192.4 448.8,190.9 449.0,190.6 449.1,191.8 449.3,194.0 449.5,197.0 449.6,200.2 449.8,202.6 450.0,205.0 450.1,207.2 450.3,208.5 450.5,209.4 450.6,209.6 450.8,210.4 451.0,210.8 451.1,210.8 451.3,210.8 451.5,210.9 451.6,210.8 451.8,210.9 452.0,211.0 452.1,210.7 452.3,211.3 453.1,210.9 453.8,211.3 454.6,211.3 455.4,211.0 456.1,211.1 456.9,211.3 457.6,211.4 458.4,211.0 458.6,211.3 458.7,211.3 458.9,211.2 459.1,211.3 459.2,211.1 459.4,211.1 459.6,211.0 459.7,211.0 459.9,211.2 460.1,211.1 460.2,211.0 460.4,210.6 460.6,210.5 460.7,210.3 460.9,209.5 461.1,209.2 461.2,208.9 461.4,208.8 461.6,208.8 461.7,209.2 461.9,209.3 462.1,209.0 462.2,209.9 462.4,210.1 462.6,210.7 462.7,210.5 462.9,210.6 463.1,210.9 463.2,211.2 463.4,211.1 463.6,211.3 463.7,211.6 463.9,211.0 464.1,211.2 464.2,211.3 464.4,211.4 464.6,211.1 464.7,211.2 464.9,211.1 465.7,211.5 466.4,211.4 467.2,211.5 467.3,211.4 467.5,211.2 467.7,211.2 467.8,211.2 468.0,211.0 468.2,210.8 468.3,210.6 468.5,210.4 468.7,209.8 468.8,209.1 469.0,207.6 469.2,205.8 469.3,203.7 469.5,200.6 469.7,197.5 469.8,195.3 470.0,192.3 470.2,191.0 470.3,191.5 470.5,192.7 470.7,195.1 470.8,198.2 471.0,201.1 471.2,203.7 471.3,205.7 471.5,207.6 471.7,208.8 471.8,209.8 472.0,210.3 472.2,210.9 472.3,211.0 472.5,210.9 472.7,211.4 472.8,211.5 473.0,210.9 473.2,211.0 473.3,211.6 473.5,211.3 473.7,211.3 474.4,211.3 475.2,211.4 476.0,211.6 476.7,211.5 477.5,211.4 478.2,211.4 479.0,211.4 479.8,211.7 480.5,211.4 481.3,211.5 482.1,211.5 482.8,211.6 483.6,211.3 484.3,212.0 485.1,211.7 485.9,211.8 486.6,211.4 487.4,211.3 488.1,211.6 488.9,211.5 489.7,211.4 490.4,211.9 491.2,211.4 492.0,211.3 492.7,212.0 493.5,211.7 494.2,211.4 495.0,211.8 495.8,211.5 496.5,211.6 497.3,211.6 498.0,211.7 498.8,212.0 499.6,211.6 500.3,211.6 501.1,211.5 501.9,211.7 502.6,211.5 503.4,211.7 504.1,212.0 504.9,212.1 505.7,211.7 506.4,211.8 506.6,211.7 506.8,211.7 506.9,211.9 507.1,211.4 507.3,211.6 507.4,211.6 507.6,211.6 507.8,211.6 507.9,211.8 508.1,211.6 508.3,212.1 508.4,211.8 508.6,211.3 508.8,211.3 508.9,211.2 509.1,211.2 509.3,211.1 509.4,211.1 509.6,211.0 509.8,211.3 509.9,211.1 510.1,211.3 510.3,211.5 510.4,211.5 510.6,211.6 510.8,211.8 510.9,211.8 511.1,211.8 511.3,211.9 511.4,211.7 511.6,211.7 511.8,212.0 511.9,212.0 512.1,211.8 512.3,212.1 512.4,211.7 512.6,212.1 512.8,212.0 512.9,211.8 513.7,211.9 514.4,211.7 515.2,211.8 516.0,211.8 516.7,212.0 517.5,212.0 518.3,211.8 519.0,211.9 519.8,211.7 520.5,211.8 521.3,211.7 521.5,212.1 521.6,212.0 521.8,211.8 522.0,211.8 522.1,212.1 522.3,211.8 522.5,211.6 522.6,211.6 522.8,211.5 523.0,211.4 523.1,211.0 523.3,211.2 523.5,210.7 523.6,211.0 523.8,210.6 524.0,210.1 524.1,210.3 524.3,210.6 524.5,210.5 524.6,210.8 524.8,211.5 525.0,211.3 525.1,211.5 525.3,211.7 525.5,211.8 525.6,211.9 525.8,212.0 526.0,211.8 526.1,212.1 526.3,212.1 526.5,211.9 526.6,211.9 526.8,211.9 527.0,211.9 527.1,211.7 527.3,212.0 527.5,211.8 528.2,211.8 529.0,211.8 529.7,212.0 530.5,211.8 531.3,212.1 532.0,211.7 532.8,211.8 533.6,212.0 534.3,211.9 535.1,211.8 535.8,212.4 536.6,211.9 537.4,211.8 538.1,212.0 538.9,212.3 539.7,212.3 540.4,212.0 541.2,212.0 541.9,212.4 542.7,212.1 543.5,212.1 544.2,211.8 545.0,212.0 545.7,212.2 546.5,211.7 547.3,212.1 548.0,212.1 548.8,212.1 549.6,212.1 550.3,212.2 551.1,212.4 551.8,211.9 552.6,212.3 553.4,212.1 554.1,212.1 554.9,212.2 555.6,212.2 556.4,212.3 557.2,212.0 557.9,212.3 558.7,212.1 559.5,211.8 560.2,211.9 561.0,212.4 561.7,212.1 562.5,212.3 563.3,212.2 564.0,212.0 564.2,212.6 564.4,212.3 564.5,211.8 564.7,212.0 564.9,211.9 565.0,211.3 565.2,211.3 565.4,211.4 565.5,211.0 565.7,210.4 565.9,209.1 566.0,208.4 566.2,207.3 566.4,206.1 566.5,204.8 566.7,203.8 566.9,202.5 567.0,201.8 567.2,202.2 567.4,203.1 567.5,203.4 567.7,204.6 567.9,205.9 568.0,206.9 568.2,208.3 568.4,209.1 568.5,209.9 568.7,210.4 568.9,211.2 569.0,211.6 569.2,212.0 569.4,211.8 569.5,211.8 569.7,212.1 569.9,212.2 570.0,211.9 570.2,212.2 570.4,212.6 570.5,212.4 571.3,212.0 572.0,212.2 572.8,212.0 573.6,212.1 574.3,212.7 575.1,212.3 575.9,212.2 576.6,212.4 577.4,212.1 578.1,212.7 578.9,212.5 579.7,212.4 580.4,212.5 581.2,212.5 581.9,212.5 582.7,212.0 583.5,212.3 584.2,212.7 585.0,212.3 585.8,212.3 586.5,212.2 587.3,212.5 588.0,212.4 588.8,212.3 589.6,212.6 590.3,212.3 591.1,212.6 591.8,212.5 592.6,212.5 593.4,212.6 594.1,212.5 594.3,212.4 594.5,212.7 594.6,212.4 594.8,212.5 595.0,212.3 595.1,212.2 595.3,212.4 595.5,212.0 595.6,212.2 595.8,212.1 596.0,211.9 596.1,211.6 596.3,211.2 596.5,211.1 596.6,211.6 596.8,210.8 597.0,211.1 597.1,211.1 597.3,211.2 597.5,211.1 597.6,211.3 597.8,211.7 598.0,211.9 598.1,212.0 598.3,212.3 598.5,212.1 598.6,212.1 598.8,212.4 599.0,212.4 599.1,212.0 599.3,212.7 599.5,212.6 599.6,212.7 599.8,212.5 600.0,212.6 600.1,212.3 600.3,212.2 601.1,212.8 601.8,212.4 602.6,212.1 603.3,212.4 604.1,212.5 604.9,212.5 605.6,212.3 606.4,212.6 607.1,212.5 607.9,212.8 608.7,212.5 609.4,212.8 610.2,212.6 611.0,212.5 611.1,212.5 611.3,212.6 611.5,212.5 611.6,212.2 611.8,212.5 612.0,212.3 612.1,212.4 612.3,212.0 612.5,212.2 612.6,212.4 612.8,211.8 613.0,212.0 613.1,211.5 613.3,211.2 613.5,211.2 613.6,211.5 613.8,210.9 614.0,211.0 614.1,211.5 614.3,211.4 614.5,211.6 614.6,211.4 614.8,212.0 615.0,211.8 615.1,212.1 615.3,212.5 615.5,212.1 615.6,212.3 615.8,212.9 616.0,212.7 616.1,212.6 616.3,212.7 616.5,212.6 616.6,212.8 616.8,212.4 617.0,212.8 617.1,212.6 617.9,212.5 618.0,212.6 618.2,212.2 618.4,212.6 618.5,212.4 618.7,212.8 618.9,212.4 619.0,212.8 619.2,212.6 619.4,212.8 619.5,212.2 619.7,212.1 619.9,211.5 620.0,211.4 620.2,211.2 620.4,210.7 620.5,210.5 620.7,210.0 620.9,209.8 621.0,209.8 621.2,209.6 621.4,209.8 621.5,210.0 621.7,210.5 621.9,210.5 622.0,210.9 622.2,211.2 622.4,211.5 622.5,211.9 622.7,212.1 622.9,212.3 623.0,212.0 623.2,212.2 623.4,212.4 623.5,212.6 623.7,212.5 623.9,212.7 624.0,212.7 624.2,212.5 624.4,212.3 624.5,212.3 624.7,212.4 624.9,212.0 625.0,212.3 625.2,212.3 625.4,212.0 625.5,211.9 625.7,211.5 625.9,211.0 626.0,211.1 626.2,210.4 626.4,210.5 626.5,209.7 626.7,210.2 626.9,210.1 627.0,210.6 627.2,210.7 627.4,211.1 627.5,211.6 627.7,211.6 627.9,212.0 628.0,212.2 628.2,212.2 628.4,212.0 628.5,212.1 628.7,212.3 628.9,212.6 629.0,213.0 629.2,212.6 629.4,212.5 629.5,212.8 629.7,212.8 629.9,212.5 630.0,212.8 630.8,212.7 631.6,212.6 632.3,212.7 633.1,212.9 633.9,212.8 634.6,212.9 635.4,212.6 636.1,212.6 636.9,212.9 637.7,213.0 638.4,213.1 639.2,212.9 639.9,212.7 640.7,212.7 640.9,213.1 641.0,212.8 641.2,213.0 641.4,212.8 641.5,212.5 641.7,212.6 641.9,212.8 642.0,212.9 642.2,212.6 642.4,212.8 642.5,212.8 642.7,212.4 642.9,212.5 643.0,212.5 643.2,212.1 643.4,212.6 643.5,212.5 643.7,212.3 643.9,212.3 644.0,212.5 644.2,212.4 644.4,212.6 644.5,212.8 644.7,212.6 644.9,212.6 645.0,213.0 645.2,212.8 645.4,212.9 645.5,212.5 645.7,212.9 645.9,212.7 646.0,212.9 646.2,212.7 646.4,213.0 646.5,212.8 646.7,213.0 647.5,212.8 648.2,212.8 649.0,212.7 649.7,213.1 650.5,212.9 651.3,213.1 652.0,213.0 652.8,212.9 653.6,212.6 654.3,213.0 655.1,212.9 655.8,212.9 656.6,212.5 657.4,213.1 658.1,212.5 658.9,212.9 659.7,212.4 660.4,212.8 661.2,213.2 661.3,213.0 661.5,212.9 661.7,213.0 661.8,212.7 662.0,212.8 662.2,213.2 662.3,212.8 662.5,212.7 662.7,212.6 662.8,212.6 663.0,212.7 663.2,212.4 663.3,212.5 663.5,212.3 663.7,212.3 663.8,212.1 664.0,212.2 664.2,212.0 664.3,212.6 664.5,212.4 664.7,212.2 664.8,212.9 665.0,212.5 665.2,212.7 665.3,212.8 665.5,212.7 665.7,213.0 665.8,212.9 666.0,212.9 666.2,212.8 666.3,212.6 666.5,212.9 666.7,213.2 666.8,213.0 667.0,212.9 667.2,212.8 667.3,212.8 668.1,212.9 668.9,212.8 669.6,212.9 670.4,212.9 671.1,213.1 671.9,213.0 672.7,212.9 673.4,213.1 674.2,213.1 675.0,213.5 675.7,212.8 676.5,213.1 677.2,212.8 678.0,213.3" fill="none" stroke="#2effff" stroke-width="1.0" stroke-linejoin="round"/>
<text x="449.9" y="43.4" font-size="9.8" text-anchor="start" fill="#000" stroke="#000" stroke-width="0.22" font-family='"Liberation Sans", sans-serif' transform="rotate(-90 449.9 43.4)" >(101<tspan font-size="6.5" dx="-0.2" dy="-2.9" stroke-width="0.1">&#713;</tspan><tspan dx="-0.5" dy="2.9">0</tspan>)</text>
<text x="464.4" y="59.6" font-size="9.8" text-anchor="start" fill="#000" stroke="#000" stroke-width="0.22" font-family='"Liberation Sans", sans-serif' transform="rotate(-90 464.4 59.6)" >(0002)</text>
<text x="479.1" y="42.8" font-size="9.8" text-anchor="start" fill="#000" stroke="#000" stroke-width="0.22" font-family='"Liberation Sans", sans-serif' transform="rotate(-90 479.1 42.8)" >(101<tspan font-size="6.5" dx="-0.2" dy="-2.9" stroke-width="0.1">&#713;</tspan><tspan dx="-0.5" dy="2.9">1</tspan>)</text>
<text x="528.2" y="67.8" font-size="9.8" text-anchor="start" fill="#000" stroke="#000" stroke-width="0.22" font-family='"Liberation Sans", sans-serif' transform="rotate(-90 528.2 67.8)" >(101<tspan font-size="6.5" dx="-0.2" dy="-2.9" stroke-width="0.1">&#713;</tspan><tspan dx="-0.5" dy="2.9">2</tspan>)</text>
<text x="570.6" y="59" font-size="9.8" text-anchor="start" fill="#000" stroke="#000" stroke-width="0.22" font-family='"Liberation Sans", sans-serif' transform="rotate(-90 570.6 59)" >(112<tspan font-size="6.5" dx="-0.2" dy="-2.9" stroke-width="0.1">&#713;</tspan><tspan dx="-0.5" dy="2.9">0</tspan>)</text>
<text x="600.5" y="64.7" font-size="9.8" text-anchor="start" fill="#000" stroke="#000" stroke-width="0.22" font-family='"Liberation Sans", sans-serif' transform="rotate(-90 600.5 64.7)" >(101<tspan font-size="6.5" dx="-0.2" dy="-2.9" stroke-width="0.1">&#713;</tspan><tspan dx="-0.5" dy="2.9">3</tspan>)</text>
<text x="624.9" y="41.5" font-size="9.8" text-anchor="start" fill="#000" stroke="#000" stroke-width="0.22" font-family='"Liberation Sans", sans-serif' transform="rotate(-90 624.9 41.5)" >(112<tspan font-size="6.5" dx="-0.2" dy="-2.9" stroke-width="0.1">&#713;</tspan><tspan dx="-0.5" dy="2.9">2</tspan>)</text>
<text x="640.9" y="47.8" font-size="9.8" text-anchor="start" fill="#000" stroke="#000" stroke-width="0.22" font-family='"Liberation Sans", sans-serif' transform="rotate(-90 640.9 47.8)" >(202<tspan font-size="6.5" dx="-0.2" dy="-2.9" stroke-width="0.1">&#713;</tspan><tspan dx="-0.5" dy="2.9">1</tspan>)</text>
<line x1="620.7" y1="47.3" x2="620.7" y2="67.8" stroke="#000" stroke-width="0.9" />
<polygon points="620.7,73.8 618.8,67.8 622.6,67.8" fill="#000"/>
<line x1="634.6" y1="56.1" x2="630.13" y2="67.89" stroke="#000" stroke-width="0.9" />
<polygon points="628.0,73.5 628.4,67.2 631.9,68.6" fill="#000"/>
<line x1="416.5" y1="269.5" x2="678.5" y2="269.5" stroke="#1f1f1f" stroke-width="1.15" />
<line x1="416.5" y1="484.5" x2="678.5" y2="484.5" stroke="#1f1f1f" stroke-width="1.15" />
<line x1="416.5" y1="269" x2="416.5" y2="485" stroke="#555555" stroke-width="1.15" />
<line x1="678.5" y1="269" x2="678.5" y2="485" stroke="#333333" stroke-width="1.15" />
<line x1="426.5" y1="269.5" x2="426.5" y2="273.8" stroke="#1f1f1f" stroke-width="1.1" />
<line x1="426.5" y1="484.5" x2="426.5" y2="488.8" stroke="#1f1f1f" stroke-width="1.1" />
<line x1="442.5" y1="269.5" x2="442.5" y2="272.2" stroke="#1f1f1f" stroke-width="1.1" />
<line x1="442.5" y1="484.5" x2="442.5" y2="487.2" stroke="#1f1f1f" stroke-width="1.1" />
<line x1="457.5" y1="269.5" x2="457.5" y2="273.8" stroke="#1f1f1f" stroke-width="1.1" />
<line x1="457.5" y1="484.5" x2="457.5" y2="488.8" stroke="#1f1f1f" stroke-width="1.1" />
<line x1="473.5" y1="269.5" x2="473.5" y2="272.2" stroke="#1f1f1f" stroke-width="1.1" />
<line x1="473.5" y1="484.5" x2="473.5" y2="487.2" stroke="#1f1f1f" stroke-width="1.1" />
<line x1="489.5" y1="269.5" x2="489.5" y2="273.8" stroke="#1f1f1f" stroke-width="1.1" />
<line x1="489.5" y1="484.5" x2="489.5" y2="488.8" stroke="#1f1f1f" stroke-width="1.1" />
<line x1="505.5" y1="269.5" x2="505.5" y2="272.2" stroke="#1f1f1f" stroke-width="1.1" />
<line x1="505.5" y1="484.5" x2="505.5" y2="487.2" stroke="#1f1f1f" stroke-width="1.1" />
<line x1="520.5" y1="269.5" x2="520.5" y2="273.8" stroke="#1f1f1f" stroke-width="1.1" />
<line x1="520.5" y1="484.5" x2="520.5" y2="488.8" stroke="#1f1f1f" stroke-width="1.1" />
<line x1="536.5" y1="269.5" x2="536.5" y2="272.2" stroke="#1f1f1f" stroke-width="1.1" />
<line x1="536.5" y1="484.5" x2="536.5" y2="487.2" stroke="#1f1f1f" stroke-width="1.1" />
<line x1="552.5" y1="269.5" x2="552.5" y2="273.8" stroke="#1f1f1f" stroke-width="1.1" />
<line x1="552.5" y1="484.5" x2="552.5" y2="488.8" stroke="#1f1f1f" stroke-width="1.1" />
<line x1="568.5" y1="269.5" x2="568.5" y2="272.2" stroke="#1f1f1f" stroke-width="1.1" />
<line x1="568.5" y1="484.5" x2="568.5" y2="487.2" stroke="#1f1f1f" stroke-width="1.1" />
<line x1="583.5" y1="269.5" x2="583.5" y2="273.8" stroke="#1f1f1f" stroke-width="1.1" />
<line x1="583.5" y1="484.5" x2="583.5" y2="488.8" stroke="#1f1f1f" stroke-width="1.1" />
<line x1="599.5" y1="269.5" x2="599.5" y2="272.2" stroke="#1f1f1f" stroke-width="1.1" />
<line x1="599.5" y1="484.5" x2="599.5" y2="487.2" stroke="#1f1f1f" stroke-width="1.1" />
<line x1="615.5" y1="269.5" x2="615.5" y2="273.8" stroke="#1f1f1f" stroke-width="1.1" />
<line x1="615.5" y1="484.5" x2="615.5" y2="488.8" stroke="#1f1f1f" stroke-width="1.1" />
<line x1="631.5" y1="269.5" x2="631.5" y2="272.2" stroke="#1f1f1f" stroke-width="1.1" />
<line x1="631.5" y1="484.5" x2="631.5" y2="487.2" stroke="#1f1f1f" stroke-width="1.1" />
<line x1="646.5" y1="269.5" x2="646.5" y2="273.8" stroke="#1f1f1f" stroke-width="1.1" />
<line x1="646.5" y1="484.5" x2="646.5" y2="488.8" stroke="#1f1f1f" stroke-width="1.1" />
<line x1="662.5" y1="269.5" x2="662.5" y2="272.2" stroke="#1f1f1f" stroke-width="1.1" />
<line x1="662.5" y1="484.5" x2="662.5" y2="487.2" stroke="#1f1f1f" stroke-width="1.1" />
<line x1="678.5" y1="269.5" x2="678.5" y2="273.8" stroke="#1f1f1f" stroke-width="1.1" />
<line x1="678.5" y1="484.5" x2="678.5" y2="488.8" stroke="#1f1f1f" stroke-width="1.1" />
<line x1="416.5" y1="509.5" x2="678.5" y2="509.5" stroke="#1f1f1f" stroke-width="1.15" />
<line x1="416.5" y1="724.5" x2="678.5" y2="724.5" stroke="#1f1f1f" stroke-width="1.15" />
<line x1="416.5" y1="509" x2="416.5" y2="725" stroke="#555555" stroke-width="1.15" />
<line x1="678.5" y1="509" x2="678.5" y2="725" stroke="#333333" stroke-width="1.15" />
<line x1="426.5" y1="509.5" x2="426.5" y2="513.8" stroke="#1f1f1f" stroke-width="1.1" />
<line x1="426.5" y1="724.5" x2="426.5" y2="728.8" stroke="#1f1f1f" stroke-width="1.1" />
<line x1="442.5" y1="509.5" x2="442.5" y2="512.2" stroke="#1f1f1f" stroke-width="1.1" />
<line x1="442.5" y1="724.5" x2="442.5" y2="727.2" stroke="#1f1f1f" stroke-width="1.1" />
<line x1="457.5" y1="509.5" x2="457.5" y2="513.8" stroke="#1f1f1f" stroke-width="1.1" />
<line x1="457.5" y1="724.5" x2="457.5" y2="728.8" stroke="#1f1f1f" stroke-width="1.1" />
<line x1="473.5" y1="509.5" x2="473.5" y2="512.2" stroke="#1f1f1f" stroke-width="1.1" />
<line x1="473.5" y1="724.5" x2="473.5" y2="727.2" stroke="#1f1f1f" stroke-width="1.1" />
<line x1="489.5" y1="509.5" x2="489.5" y2="513.8" stroke="#1f1f1f" stroke-width="1.1" />
<line x1="489.5" y1="724.5" x2="489.5" y2="728.8" stroke="#1f1f1f" stroke-width="1.1" />
<line x1="505.5" y1="509.5" x2="505.5" y2="512.2" stroke="#1f1f1f" stroke-width="1.1" />
<line x1="505.5" y1="724.5" x2="505.5" y2="727.2" stroke="#1f1f1f" stroke-width="1.1" />
<line x1="520.5" y1="509.5" x2="520.5" y2="513.8" stroke="#1f1f1f" stroke-width="1.1" />
<line x1="520.5" y1="724.5" x2="520.5" y2="728.8" stroke="#1f1f1f" stroke-width="1.1" />
<line x1="536.5" y1="509.5" x2="536.5" y2="512.2" stroke="#1f1f1f" stroke-width="1.1" />
<line x1="536.5" y1="724.5" x2="536.5" y2="727.2" stroke="#1f1f1f" stroke-width="1.1" />
<line x1="552.5" y1="509.5" x2="552.5" y2="513.8" stroke="#1f1f1f" stroke-width="1.1" />
<line x1="552.5" y1="724.5" x2="552.5" y2="728.8" stroke="#1f1f1f" stroke-width="1.1" />
<line x1="568.5" y1="509.5" x2="568.5" y2="512.2" stroke="#1f1f1f" stroke-width="1.1" />
<line x1="568.5" y1="724.5" x2="568.5" y2="727.2" stroke="#1f1f1f" stroke-width="1.1" />
<line x1="583.5" y1="509.5" x2="583.5" y2="513.8" stroke="#1f1f1f" stroke-width="1.1" />
<line x1="583.5" y1="724.5" x2="583.5" y2="728.8" stroke="#1f1f1f" stroke-width="1.1" />
<line x1="599.5" y1="509.5" x2="599.5" y2="512.2" stroke="#1f1f1f" stroke-width="1.1" />
<line x1="599.5" y1="724.5" x2="599.5" y2="727.2" stroke="#1f1f1f" stroke-width="1.1" />
<line x1="615.5" y1="509.5" x2="615.5" y2="513.8" stroke="#1f1f1f" stroke-width="1.1" />
<line x1="615.5" y1="724.5" x2="615.5" y2="728.8" stroke="#1f1f1f" stroke-width="1.1" />
<line x1="631.5" y1="509.5" x2="631.5" y2="512.2" stroke="#1f1f1f" stroke-width="1.1" />
<line x1="631.5" y1="724.5" x2="631.5" y2="727.2" stroke="#1f1f1f" stroke-width="1.1" />
<line x1="646.5" y1="509.5" x2="646.5" y2="513.8" stroke="#1f1f1f" stroke-width="1.1" />
<line x1="646.5" y1="724.5" x2="646.5" y2="728.8" stroke="#1f1f1f" stroke-width="1.1" />
<line x1="662.5" y1="509.5" x2="662.5" y2="512.2" stroke="#1f1f1f" stroke-width="1.1" />
<line x1="662.5" y1="724.5" x2="662.5" y2="727.2" stroke="#1f1f1f" stroke-width="1.1" />
<line x1="678.5" y1="509.5" x2="678.5" y2="513.8" stroke="#1f1f1f" stroke-width="1.1" />
<line x1="678.5" y1="724.5" x2="678.5" y2="728.8" stroke="#1f1f1f" stroke-width="1.1" />
<line x1="416.5" y1="484.5" x2="412.2" y2="484.5" stroke="#1f1f1f" stroke-width="1.1" />
<line x1="678.5" y1="484.5" x2="674.2" y2="484.5" stroke="#1f1f1f" stroke-width="1.1" />
<text x="409.2" y="488" font-size="10.2" text-anchor="end" fill="#000" stroke="#000" stroke-width="0.22" font-family='"Liberation Sans", sans-serif' >25</text>
<line x1="416.5" y1="468.5" x2="413.8" y2="468.5" stroke="#1f1f1f" stroke-width="1.1" />
<line x1="678.5" y1="468.5" x2="675.8" y2="468.5" stroke="#1f1f1f" stroke-width="1.1" />
<line x1="416.5" y1="453.5" x2="412.2" y2="453.5" stroke="#1f1f1f" stroke-width="1.1" />
<line x1="678.5" y1="453.5" x2="674.2" y2="453.5" stroke="#1f1f1f" stroke-width="1.1" />
<text x="409.2" y="457.33" font-size="10.2" text-anchor="end" fill="#000" stroke="#000" stroke-width="0.22" font-family='"Liberation Sans", sans-serif' >50</text>
<line x1="416.5" y1="437.5" x2="413.8" y2="437.5" stroke="#1f1f1f" stroke-width="1.1" />
<line x1="678.5" y1="437.5" x2="675.8" y2="437.5" stroke="#1f1f1f" stroke-width="1.1" />
<line x1="416.5" y1="422.5" x2="412.2" y2="422.5" stroke="#1f1f1f" stroke-width="1.1" />
<line x1="678.5" y1="422.5" x2="674.2" y2="422.5" stroke="#1f1f1f" stroke-width="1.1" />
<text x="409.2" y="426.66" font-size="10.2" text-anchor="end" fill="#000" stroke="#000" stroke-width="0.22" font-family='"Liberation Sans", sans-serif' >75</text>
<line x1="416.5" y1="407.5" x2="413.8" y2="407.5" stroke="#1f1f1f" stroke-width="1.1" />
<line x1="678.5" y1="407.5" x2="675.8" y2="407.5" stroke="#1f1f1f" stroke-width="1.1" />
<line x1="416.5" y1="391.5" x2="412.2" y2="391.5" stroke="#1f1f1f" stroke-width="1.1" />
<line x1="678.5" y1="391.5" x2="674.2" y2="391.5" stroke="#1f1f1f" stroke-width="1.1" />
<text x="409.2" y="395.99" font-size="10.2" text-anchor="end" fill="#000" stroke="#000" stroke-width="0.22" font-family='"Liberation Sans", sans-serif' >100</text>
<line x1="416.5" y1="376.5" x2="413.8" y2="376.5" stroke="#1f1f1f" stroke-width="1.1" />
<line x1="678.5" y1="376.5" x2="675.8" y2="376.5" stroke="#1f1f1f" stroke-width="1.1" />
<line x1="416.5" y1="361.5" x2="412.2" y2="361.5" stroke="#1f1f1f" stroke-width="1.1" />
<line x1="678.5" y1="361.5" x2="674.2" y2="361.5" stroke="#1f1f1f" stroke-width="1.1" />
<text x="409.2" y="365.32" font-size="10.2" text-anchor="end" fill="#000" stroke="#000" stroke-width="0.22" font-family='"Liberation Sans", sans-serif' >125</text>
<line x1="416.5" y1="345.5" x2="413.8" y2="345.5" stroke="#1f1f1f" stroke-width="1.1" />
<line x1="678.5" y1="345.5" x2="675.8" y2="345.5" stroke="#1f1f1f" stroke-width="1.1" />
<line x1="416.5" y1="330.5" x2="412.2" y2="330.5" stroke="#1f1f1f" stroke-width="1.1" />
<line x1="678.5" y1="330.5" x2="674.2" y2="330.5" stroke="#1f1f1f" stroke-width="1.1" />
<text x="409.2" y="334.65" font-size="10.2" text-anchor="end" fill="#000" stroke="#000" stroke-width="0.22" font-family='"Liberation Sans", sans-serif' >150</text>
<line x1="416.5" y1="315.5" x2="413.8" y2="315.5" stroke="#1f1f1f" stroke-width="1.1" />
<line x1="678.5" y1="315.5" x2="675.8" y2="315.5" stroke="#1f1f1f" stroke-width="1.1" />
<line x1="416.5" y1="299.5" x2="412.2" y2="299.5" stroke="#1f1f1f" stroke-width="1.1" />
<line x1="678.5" y1="299.5" x2="674.2" y2="299.5" stroke="#1f1f1f" stroke-width="1.1" />
<text x="409.2" y="303.98" font-size="10.2" text-anchor="end" fill="#000" stroke="#000" stroke-width="0.22" font-family='"Liberation Sans", sans-serif' >175</text>
<line x1="416.5" y1="284.5" x2="413.8" y2="284.5" stroke="#1f1f1f" stroke-width="1.1" />
<line x1="678.5" y1="284.5" x2="675.8" y2="284.5" stroke="#1f1f1f" stroke-width="1.1" />
<line x1="416.5" y1="269.5" x2="412.2" y2="269.5" stroke="#1f1f1f" stroke-width="1.1" />
<line x1="678.5" y1="269.5" x2="674.2" y2="269.5" stroke="#1f1f1f" stroke-width="1.1" />
<text x="409.2" y="273.31" font-size="10.2" text-anchor="end" fill="#000" stroke="#000" stroke-width="0.22" font-family='"Liberation Sans", sans-serif' >200</text>
<text x="386.5" y="384.6" font-size="10.2" text-anchor="middle" fill="#000" stroke="#000" stroke-width="0.22" font-family='"Liberation Sans", sans-serif' transform="rotate(-90 386.5 384.6)" >&#981; (nm)</text>
<line x1="416.5" y1="718.5" x2="413.8" y2="718.5" stroke="#1f1f1f" stroke-width="1.1" />
<line x1="678.5" y1="718.5" x2="675.8" y2="718.5" stroke="#1f1f1f" stroke-width="1.1" />
<line x1="416.5" y1="692.5" x2="412.2" y2="692.5" stroke="#1f1f1f" stroke-width="1.1" />
<line x1="678.5" y1="692.5" x2="674.2" y2="692.5" stroke="#1f1f1f" stroke-width="1.1" />
<text x="408.9" y="696.29" font-size="10" text-anchor="end" fill="#000" stroke="#000" stroke-width="0.22" font-family='"Liberation Sans", sans-serif' >0.1</text>
<line x1="416.5" y1="666.5" x2="413.8" y2="666.5" stroke="#1f1f1f" stroke-width="1.1" />
<line x1="678.5" y1="666.5" x2="675.8" y2="666.5" stroke="#1f1f1f" stroke-width="1.1" />
<line x1="416.5" y1="640.5" x2="412.2" y2="640.5" stroke="#1f1f1f" stroke-width="1.1" />
<line x1="678.5" y1="640.5" x2="674.2" y2="640.5" stroke="#1f1f1f" stroke-width="1.1" />
<text x="408.9" y="643.96" font-size="10" text-anchor="end" fill="#000" stroke="#000" stroke-width="0.22" font-family='"Liberation Sans", sans-serif' >0.2</text>
<line x1="416.5" y1="614.5" x2="413.8" y2="614.5" stroke="#1f1f1f" stroke-width="1.1" />
<line x1="678.5" y1="614.5" x2="675.8" y2="614.5" stroke="#1f1f1f" stroke-width="1.1" />
<line x1="416.5" y1="588.5" x2="412.2" y2="588.5" stroke="#1f1f1f" stroke-width="1.1" />
<line x1="678.5" y1="588.5" x2="674.2" y2="588.5" stroke="#1f1f1f" stroke-width="1.1" />
<text x="408.9" y="591.63" font-size="10" text-anchor="end" fill="#000" stroke="#000" stroke-width="0.22" font-family='"Liberation Sans", sans-serif' >0.3</text>
<line x1="416.5" y1="561.5" x2="413.8" y2="561.5" stroke="#1f1f1f" stroke-width="1.1" />
<line x1="678.5" y1="561.5" x2="675.8" y2="561.5" stroke="#1f1f1f" stroke-width="1.1" />
<line x1="416.5" y1="535.5" x2="412.2" y2="535.5" stroke="#1f1f1f" stroke-width="1.1" />
<line x1="678.5" y1="535.5" x2="674.2" y2="535.5" stroke="#1f1f1f" stroke-width="1.1" />
<text x="408.9" y="539.3" font-size="10" text-anchor="end" fill="#000" stroke="#000" stroke-width="0.22" font-family='"Liberation Sans", sans-serif' >0.4</text>
<line x1="416.5" y1="509.5" x2="413.8" y2="509.5" stroke="#1f1f1f" stroke-width="1.1" />
<line x1="678.5" y1="509.5" x2="675.8" y2="509.5" stroke="#1f1f1f" stroke-width="1.1" />
<text x="426.4" y="740.2" font-size="10" text-anchor="middle" fill="#000" stroke="#000" stroke-width="0.22" font-family='"Liberation Sans", sans-serif' >2.8</text>
<text x="457.88" y="740.2" font-size="10" text-anchor="middle" fill="#000" stroke="#000" stroke-width="0.22" font-family='"Liberation Sans", sans-serif' >2.6</text>
<text x="489.36" y="740.2" font-size="10" text-anchor="middle" fill="#000" stroke="#000" stroke-width="0.22" font-family='"Liberation Sans", sans-serif' >2.4</text>
<text x="520.84" y="740.2" font-size="10" text-anchor="middle" fill="#000" stroke="#000" stroke-width="0.22" font-family='"Liberation Sans", sans-serif' >2.2</text>
<text x="552.32" y="740.2" font-size="10" text-anchor="middle" fill="#000" stroke="#000" stroke-width="0.22" font-family='"Liberation Sans", sans-serif' >2.0</text>
<text x="583.8" y="740.2" font-size="10" text-anchor="middle" fill="#000" stroke="#000" stroke-width="0.22" font-family='"Liberation Sans", sans-serif' >1.8</text>
<text x="615.28" y="740.2" font-size="10" text-anchor="middle" fill="#000" stroke="#000" stroke-width="0.22" font-family='"Liberation Sans", sans-serif' >1.6</text>
<text x="646.76" y="740.2" font-size="10" text-anchor="middle" fill="#000" stroke="#000" stroke-width="0.22" font-family='"Liberation Sans", sans-serif' >1.4</text>
<text x="678.24" y="740.2" font-size="10" text-anchor="middle" fill="#000" stroke="#000" stroke-width="0.22" font-family='"Liberation Sans", sans-serif' >1.2</text>
<text x="386.8" y="624.5" font-size="11.4" text-anchor="middle" fill="#000" stroke="#000" stroke-width="0.22" font-family='"Liberation Sans", sans-serif' transform="rotate(-90 386.8 624.5)" >Lattice strain (%)</text>
<text x="547.5" y="759" font-size="11.4" text-anchor="middle" fill="#000" stroke="#000" stroke-width="0.22" font-family='"Liberation Sans", sans-serif' ><tspan font-style="italic">d</tspan>-spacing (&#197;)</text>
<text x="428.4" y="432.1" font-size="10.4" text-anchor="start" fill="#000" stroke="#000" stroke-width="0.22" font-family='"Liberation Sans", sans-serif' transform="rotate(-90 428.4 432.1)" >(101<tspan font-size="6.5" dx="-0.2" dy="-2.9" stroke-width="0.1">&#713;</tspan><tspan dx="-0.5" dy="2.9">0</tspan>)</text>
<text x="460.7" y="352.4" font-size="10.4" text-anchor="start" fill="#000" stroke="#000" stroke-width="0.22" font-family='"Liberation Sans", sans-serif' transform="rotate(-90 460.7 352.4)" >(0002)</text>
<text x="481" y="432.8" font-size="10.4" text-anchor="start" fill="#000" stroke="#000" stroke-width="0.22" font-family='"Liberation Sans", sans-serif' transform="rotate(-90 481 432.8)" >(101<tspan font-size="6.5" dx="-0.2" dy="-2.9" stroke-width="0.1">&#713;</tspan><tspan dx="-0.5" dy="2.9">1</tspan>)</text>
<text x="571.2" y="426.5" font-size="10.4" text-anchor="start" fill="#000" stroke="#000" stroke-width="0.22" font-family='"Liberation Sans", sans-serif' transform="rotate(-90 571.2 426.5)" >(101<tspan font-size="6.5" dx="-0.2" dy="-2.9" stroke-width="0.1">&#713;</tspan><tspan dx="-0.5" dy="2.9">2</tspan>)</text>
<text x="614.8" y="352" font-size="10.4" text-anchor="start" fill="#000" stroke="#000" stroke-width="0.22" font-family='"Liberation Sans", sans-serif' transform="rotate(-90 614.8 352)" >(112<tspan font-size="6.5" dx="-0.2" dy="-2.9" stroke-width="0.1">&#713;</tspan><tspan dx="-0.5" dy="2.9">0</tspan>)</text>
<text x="638.5" y="433.9" font-size="10.4" text-anchor="start" fill="#000" stroke="#000" stroke-width="0.22" font-family='"Liberation Sans", sans-serif' transform="rotate(-90 638.5 433.9)" >(101<tspan font-size="6.5" dx="-0.2" dy="-2.9" stroke-width="0.1">&#713;</tspan><tspan dx="-0.5" dy="2.9">3</tspan>)</text>
<text x="654.2" y="374" font-size="10.4" text-anchor="start" fill="#000" stroke="#000" stroke-width="0.22" font-family='"Liberation Sans", sans-serif' transform="rotate(-90 654.2 374)" >(112<tspan font-size="6.5" dx="-0.2" dy="-2.9" stroke-width="0.1">&#713;</tspan><tspan dx="-0.5" dy="2.9">2</tspan>)</text>
<text x="670" y="449.9" font-size="10.4" text-anchor="start" fill="#000" stroke="#000" stroke-width="0.22" font-family='"Liberation Sans", sans-serif' transform="rotate(-90 670 449.9)" >(202<tspan font-size="6.5" dx="-0.2" dy="-2.9" stroke-width="0.1">&#713;</tspan><tspan dx="-0.5" dy="2.9">1</tspan>)</text>
<circle cx="423.3" cy="461" r="2.9" fill="#ff00ff"/>
<circle cx="477.2" cy="466.5" r="2.9" fill="#ff00ff"/>
<circle cx="566.2" cy="474.9" r="2.9" fill="#ff00ff"/>
<circle cx="611.1" cy="473.2" r="2.9" fill="#ff00ff"/>
<circle cx="634.4" cy="455" r="2.9" fill="#ff00ff"/>
<circle cx="649.8" cy="409" r="2.9" fill="#ff00ff"/>
<rect x="423.2" y="458.7" width="5.2" height="5.2" fill="#00ffff"/>
<rect x="454.5" y="401.9" width="5.2" height="5.2" fill="#00ffff"/>
<rect x="474.6" y="458.1" width="5.2" height="5.2" fill="#00ffff"/>
<rect x="563.6" y="441.5" width="5.2" height="5.2" fill="#00ffff"/>
<rect x="608.5" y="412.6" width="5.2" height="5.2" fill="#00ffff"/>
<rect x="633.3" y="461.4" width="5.2" height="5.2" fill="#00ffff"/>
<rect x="647.2" y="460.8" width="5.2" height="5.2" fill="#00ffff"/>
<rect x="650.6" y="473.7" width="5.2" height="5.2" fill="#00ffff"/>
<circle cx="653.2" cy="463.2" r="2.9" fill="#ff00ff"/>
<polygon points="419.9,470 426.7,470 423.3,464.1" fill="#808000"/>
<polygon points="453.7,456.9 460.5,456.9 457.1,451" fill="#808000"/>
<polygon points="473.8,468.9 480.6,468.9 477.2,463" fill="#808000"/>
<polygon points="562.8,460.5 569.6,460.5 566.2,454.6" fill="#808000"/>
<polygon points="607.7,368.6 614.5,368.6 611.1,362.7" fill="#808000"/>
<polygon points="631,466.2 637.8,466.2 634.4,460.3" fill="#808000"/>
<polygon points="646.4,397.6 653.2,397.6 649.8,391.7" fill="#808000"/>
<polygon points="649.8,454.4 656.6,454.4 653.2,448.5" fill="#808000"/>
<polygon points="423.3,457.3 426.8,460.8 423.3,464.3 419.8,460.8" fill="#800000"/>
<polygon points="457.1,443.9 460.6,447.4 457.1,450.9 453.6,447.4" fill="#800000"/>
<polygon points="566.2,464.5 569.7,468 566.2,471.5 562.7,468" fill="#800000"/>
<polygon points="611.1,362.7 614.6,366.2 611.1,369.7 607.6,366.2" fill="#800000"/>
<polygon points="634.4,464.8 637.9,468.3 634.4,471.8 630.9,468.3" fill="#800000"/>
<polygon points="649.8,278.2 653.3,281.7 649.8,285.2 646.3,281.7" fill="#800000"/>
<polygon points="653.2,414.8 656.7,418.3 653.2,421.8 649.7,418.3" fill="#800000"/>
<polygon points="419.9,464.4 426.7,464.4 423.3,470.3" fill="#000080"/>
<polygon points="453.7,458.9 460.5,458.9 457.1,464.8" fill="#000080"/>
<polygon points="473.8,451.1 480.6,451.1 477.2,457" fill="#000080"/>
<polygon points="562.8,465.6 569.6,465.6 566.2,471.5" fill="#000080"/>
<polygon points="607.7,363.8 614.5,363.8 611.1,369.7" fill="#000080"/>
<polygon points="631,462 637.8,462 634.4,467.9" fill="#000080"/>
<polygon points="646.4,423.5 653.2,423.5 649.8,429.4" fill="#000080"/>
<polygon points="649.8,434.8 656.6,434.8 653.2,440.7" fill="#000080"/>
<polygon points="477.2,451 480.7,454.5 477.2,458 473.7,454.5" fill="#800000"/>
<polygon points="425.7,458.1 425.7,464.9 419.8,461.5" fill="#008000"/>
<polygon points="459.5,370.6 459.5,377.4 453.6,374" fill="#008000"/>
<polygon points="479.6,462.6 479.6,469.4 473.7,466" fill="#008000"/>
<polygon points="568.6,464.6 568.6,471.4 562.7,468" fill="#008000"/>
<polygon points="613.5,362.8 613.5,369.6 607.6,366.2" fill="#008000"/>
<polygon points="636.8,451.5 636.8,458.3 630.9,454.9" fill="#008000"/>
<polygon points="652.2,405.8 652.2,412.6 646.3,409.2" fill="#008000"/>
<polygon points="655.6,449.4 655.6,456.2 649.7,452.8" fill="#008000"/>
<circle cx="423.3" cy="559.3" r="2.9" fill="#ff00ff"/>
<circle cx="477.2" cy="569.5" r="2.9" fill="#ff00ff"/>
<circle cx="566.2" cy="583.4" r="2.9" fill="#ff00ff"/>
<circle cx="611.1" cy="612.9" r="2.9" fill="#ff00ff"/>
<circle cx="634.4" cy="658.5" r="2.9" fill="#ff00ff"/>
<circle cx="649.8" cy="693" r="2.9" fill="#ff00ff"/>
<circle cx="457.1" cy="664.7" r="2.9" fill="#008000"/>
<rect x="421.9" y="556.7" width="5.2" height="5.2" fill="#00ffff"/>
<rect x="454.5" y="646.3" width="5.2" height="5.2" fill="#00ffff"/>
<rect x="474.6" y="580.9" width="5.2" height="5.2" fill="#00ffff"/>
<rect x="563.6" y="643.2" width="5.2" height="5.2" fill="#00ffff"/>
<rect x="608.5" y="678.8" width="5.2" height="5.2" fill="#00ffff"/>
<rect x="631.8" y="641.9" width="5.2" height="5.2" fill="#00ffff"/>
<rect x="647.2" y="650.6" width="5.2" height="5.2" fill="#00ffff"/>
<rect x="650.6" y="626.1" width="5.2" height="5.2" fill="#00ffff"/>
<circle cx="653.2" cy="655.1" r="2.9" fill="#ff00ff"/>
<polygon points="419.9,545.1 426.7,545.1 423.3,539.2" fill="#808000"/>
<polygon points="453.7,591.6 460.5,591.6 457.1,585.7" fill="#808000"/>
<polygon points="473.8,571.4 480.6,571.4 477.2,565.5" fill="#808000"/>
<polygon points="562.8,627.1 569.6,627.1 566.2,621.2" fill="#808000"/>
<polygon points="607.7,700.5 614.5,700.5 611.1,694.6" fill="#808000"/>
<polygon points="631,647.7 637.8,647.7 634.4,641.8" fill="#808000"/>
<polygon points="646.4,701.1 653.2,701.1 649.8,695.2" fill="#808000"/>
<polygon points="649.8,670.8 656.6,670.8 653.2,664.9" fill="#808000"/>
<polygon points="423.3,555.5 426.8,559 423.3,562.5 419.8,559" fill="#800080"/>
<polygon points="457.1,600.4 460.6,603.9 457.1,607.4 453.6,603.9" fill="#800080"/>
<polygon points="477.2,593.9 480.7,597.4 477.2,600.9 473.7,597.4" fill="#800080"/>
<polygon points="566.2,600.9 569.7,604.4 566.2,607.9 562.7,604.4" fill="#800080"/>
<polygon points="611.1,694.6 614.6,698.1 611.1,701.6 607.6,698.1" fill="#800080"/>
<polygon points="634.4,635.3 637.9,638.8 634.4,642.3 630.9,638.8" fill="#800080"/>
<polygon points="649.8,713 653.3,716.5 649.8,720 646.3,716.5" fill="#800080"/>
<polygon points="653.2,687.7 656.7,691.2 653.2,694.7 649.7,691.2" fill="#800080"/>
<polygon points="419.9,540.3 426.7,540.3 423.3,546.2" fill="#000080"/>
<polygon points="453.7,572.3 460.5,572.3 457.1,578.2" fill="#000080"/>
<polygon points="473.8,595.2 480.6,595.2 477.2,601.1" fill="#000080"/>
<polygon points="562.8,602 569.6,602 566.2,607.9" fill="#000080"/>
<polygon points="607.7,695.7 614.5,695.7 611.1,701.6" fill="#000080"/>
<polygon points="631,641.4 637.8,641.4 634.4,647.3" fill="#000080"/>
<polygon points="646.4,684.8 653.2,684.8 649.8,690.7" fill="#000080"/>
<polygon points="649.8,679.4 656.6,679.4 653.2,685.3" fill="#000080"/>
<polygon points="477.2,593.9 480.7,597.4 477.2,600.9 473.7,597.4" fill="#800080"/>
<polygon points="425.7,555.7 425.7,562.5 419.8,559.1" fill="#008000"/>
<polygon points="459.5,661.3 459.5,668.1 453.6,664.7" fill="#008000"/>
<polygon points="479.6,565.8 479.6,572.6 473.7,569.2" fill="#008000"/>
<polygon points="568.6,601 568.6,607.8 562.7,604.4" fill="#008000"/>
<polygon points="613.5,694.7 613.5,701.5 607.6,698.1" fill="#008000"/>
<polygon points="636.8,654.9 636.8,661.7 630.9,658.3" fill="#008000"/>
<polygon points="652.2,691 652.2,697.8 646.3,694.4" fill="#008000"/>
<polygon points="655.6,665 655.6,671.8 649.7,668.4" fill="#008000"/>
</svg></body></html>
